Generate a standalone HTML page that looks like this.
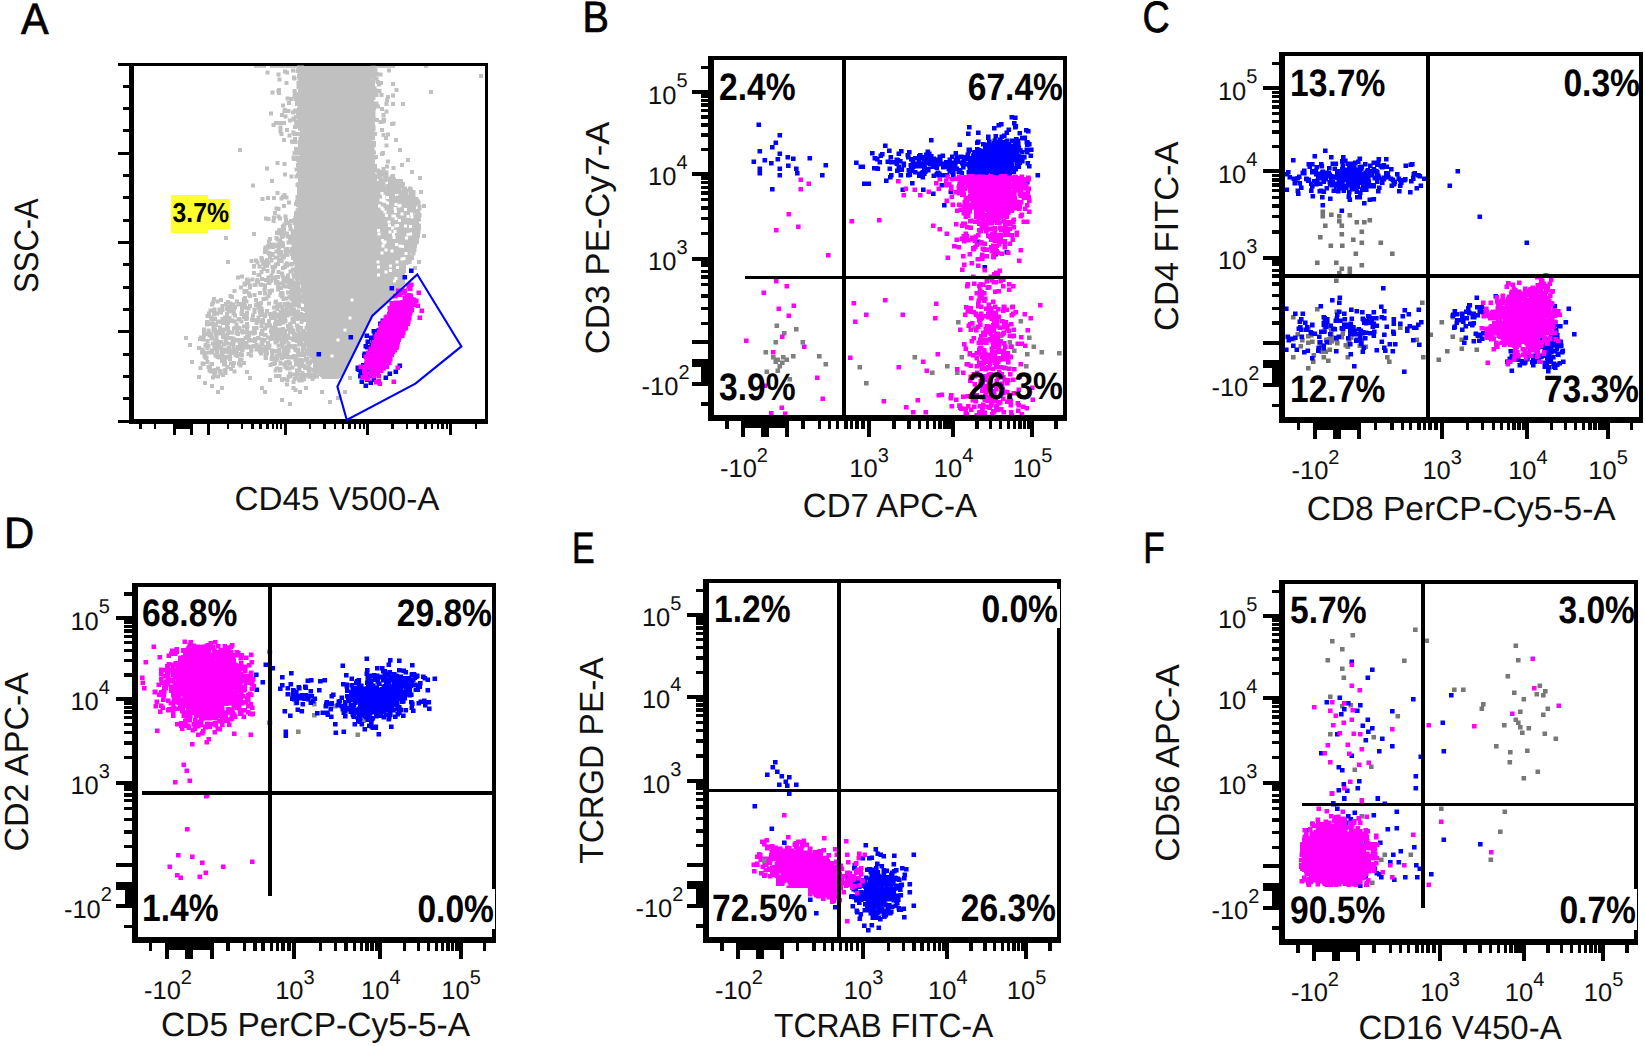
<!DOCTYPE html>
<html><head><meta charset="utf-8"><title>Flow cytometry figure</title>
<style>html,body{margin:0;padding:0;background:#fff}svg{display:block}</style></head>
<body><svg width="1645" height="1046" viewBox="0 0 1645 1046" shape-rendering="crispEdges" text-rendering="geometricPrecision">
<defs><filter id="bl" x="-5%" y="-5%" width="110%" height="110%"><feGaussianBlur stdDeviation="0.55"/></filter></defs>
<rect width="1645" height="1046" fill="#fff"/>
<rect x="129.0" y="62.5" width="5.0" height="361.0" fill="#000"/>
<rect x="129.0" y="418.5" width="359.0" height="5.0" fill="#000"/>
<rect x="129.0" y="62.5" width="359.0" height="3.0" fill="#000"/>
<rect x="485.0" y="62.5" width="3.0" height="361.0" fill="#000"/>
<rect x="117.5" y="62.5" width="14.0" height="3.0" fill="#000"/>
<rect x="123.0" y="84.8" width="8.5" height="3.0" fill="#000"/>
<rect x="123.0" y="107.1" width="8.5" height="3.0" fill="#000"/>
<rect x="123.0" y="129.4" width="8.5" height="3.0" fill="#000"/>
<rect x="117.5" y="151.8" width="14.0" height="3.0" fill="#000"/>
<rect x="123.0" y="174.1" width="8.5" height="3.0" fill="#000"/>
<rect x="123.0" y="196.4" width="8.5" height="3.0" fill="#000"/>
<rect x="123.0" y="218.7" width="8.5" height="3.0" fill="#000"/>
<rect x="117.5" y="241.0" width="14.0" height="3.0" fill="#000"/>
<rect x="123.0" y="263.3" width="8.5" height="3.0" fill="#000"/>
<rect x="123.0" y="285.6" width="8.5" height="3.0" fill="#000"/>
<rect x="123.0" y="307.9" width="8.5" height="3.0" fill="#000"/>
<rect x="117.5" y="330.2" width="14.0" height="3.0" fill="#000"/>
<rect x="123.0" y="352.6" width="8.5" height="3.0" fill="#000"/>
<rect x="123.0" y="374.9" width="8.5" height="3.0" fill="#000"/>
<rect x="123.0" y="397.2" width="8.5" height="3.0" fill="#000"/>
<rect x="117.5" y="419.5" width="14.0" height="3.0" fill="#000"/>
<rect x="172.7" y="421.0" width="3.0" height="13.5" fill="#000"/>
<rect x="190.3" y="421.0" width="3.0" height="13.5" fill="#000"/>
<rect x="207.1" y="421.0" width="3.0" height="13.5" fill="#000"/>
<rect x="283.5" y="421.0" width="3.0" height="13.5" fill="#000"/>
<rect x="366.1" y="421.0" width="3.0" height="13.5" fill="#000"/>
<rect x="449.3" y="421.0" width="3.0" height="13.5" fill="#000"/>
<rect x="172.7" y="421.0" width="20.6" height="7.5" fill="#000"/>
<rect x="139.3" y="421.0" width="2.4" height="8.0" fill="#000"/>
<rect x="153.8" y="421.0" width="2.4" height="8.0" fill="#000"/>
<rect x="226.5" y="421.0" width="2.4" height="8.0" fill="#000"/>
<rect x="240.7" y="421.0" width="2.4" height="8.0" fill="#000"/>
<rect x="251.4" y="421.0" width="2.4" height="8.0" fill="#000"/>
<rect x="259.4" y="421.0" width="2.4" height="8.0" fill="#000"/>
<rect x="266.1" y="421.0" width="2.4" height="8.0" fill="#000"/>
<rect x="271.8" y="421.0" width="2.4" height="8.0" fill="#000"/>
<rect x="276.0" y="421.0" width="2.4" height="8.0" fill="#000"/>
<rect x="279.8" y="421.0" width="2.4" height="8.0" fill="#000"/>
<rect x="308.8" y="421.0" width="2.4" height="8.0" fill="#000"/>
<rect x="323.4" y="421.0" width="2.4" height="8.0" fill="#000"/>
<rect x="333.8" y="421.0" width="2.4" height="8.0" fill="#000"/>
<rect x="341.8" y="421.0" width="2.4" height="8.0" fill="#000"/>
<rect x="348.4" y="421.0" width="2.4" height="8.0" fill="#000"/>
<rect x="353.9" y="421.0" width="2.4" height="8.0" fill="#000"/>
<rect x="358.8" y="421.0" width="2.4" height="8.0" fill="#000"/>
<rect x="363.0" y="421.0" width="2.4" height="8.0" fill="#000"/>
<rect x="391.4" y="421.0" width="2.4" height="8.0" fill="#000"/>
<rect x="406.0" y="421.0" width="2.4" height="8.0" fill="#000"/>
<rect x="416.4" y="421.0" width="2.4" height="8.0" fill="#000"/>
<rect x="424.4" y="421.0" width="2.4" height="8.0" fill="#000"/>
<rect x="431.0" y="421.0" width="2.4" height="8.0" fill="#000"/>
<rect x="436.5" y="421.0" width="2.4" height="8.0" fill="#000"/>
<rect x="441.4" y="421.0" width="2.4" height="8.0" fill="#000"/>
<rect x="445.6" y="421.0" width="2.4" height="8.0" fill="#000"/>
<rect x="474.6" y="421.0" width="2.4" height="8.0" fill="#000"/>
<text x="337" y="510" font-family='"Liberation Sans", Arial, sans-serif' font-size="33.2" text-anchor="middle" fill="#111">CD45 V500-A</text>
<text transform="translate(38,245.6) rotate(-90) scale(0.91,1)" font-family='"Liberation Sans", Arial, sans-serif' font-size="34" text-anchor="middle" fill="#111">SSC-A</text>
<text transform="translate(20.9,34) scale(0.94,1)" font-family='"Liberation Sans", Arial, sans-serif' font-size="44" fill="#000" stroke="#000" stroke-width="0.7">A</text>
<clipPath id="cA"><rect x="134" y="65.5" width="351" height="353"/></clipPath>
<g clip-path="url(#cA)"><polygon fill="#c0c0c0" points="302,66 371,66 372,172 381,186 394,197 408,203 414,214 415,226 411,245 406,262 405,284 372,315 344,373 338,379 322,379 314,371 308,340 303,300 298,262 295,240 299,200 302,120"/></g>
<g clip-path="url(#cA)"><path fill="#c0c0c0" filter="url(#bl)" shape-rendering="auto" d="m184 336h4v4h-4zm4 7h4v4h-4zm2 17h4v4h-4zm7 -14h4v4h-4zm0 29h4v4h-4zm1 -38h4v4h-4zm0.5 29h4v4h-4zm0.5 -30.5h4v4h-4zm1 15h4v4h-4zm0.5 -3h4v4h-4zm0 14h4v4h-4zm1 -24h4v4h-4zm0 12h4v4h-4zm0 12.5h4v4h-4zm0.5 -34.5h4v4h-4zm0 1h4v4h-4zm0 3.5h4v4h-4zm0 1.5h4v4h-4zm0.5 21h4v4h-4zm0.5 26.5h4v4h-4zm0.5 -38h4v4h-4zm0 8h4v4h-4zm0.5 5h4v4h-4zm0.5 -24h4v4h-4zm0 12h4v4h-4zm0 11.5h4v4h-4zm0.5 -35.5h4v4h-4zm0 2.5h4v4h-4zm0.5 -8.5h4v4h-4zm0 6.5h4v4h-4zm0 18.5h4v4h-4zm0 7h4v4h-4zm0 14h4v4h-4zm1 -31.5h4v4h-4zm0 15h4v4h-4zm0 21.5h4v4h-4zm0.5 -53.5h4v4h-4zm0 19h4v4h-4zm0 20h4v4h-4zm0.5 -17h4v4h-4zm0 35h4v4h-4zm0.5 -46.5h4v4h-4zm0 42.5h4v4h-4zm0.5 -56h4v4h-4zm0.5 7h4v4h-4zm0 54h4v4h-4zm0.5 -52h4v4h-4zm0 15h4v4h-4zm0 3.5h4v4h-4zm0 32.5h4v4h-4zm0.5 -66h4v4h-4zm0 34h4v4h-4zm0 12h4v4h-4zm0 13.5h4v4h-4zm0 22h4v4h-4zm0.5 -33.5h4v4h-4zm0.5 -50h4v4h-4zm0 41h4v4h-4zm0 34h4v4h-4zm0.5 -54h4v4h-4zm0 3h4v4h-4zm0 4h4v4h-4zm0.5 -31.5h4v4h-4zm0 12.5h4v4h-4zm0 3h4v4h-4zm0 58h4v4h-4zm0.5 -63h4v4h-4zm0 4h4v4h-4zm0 33.5h4v4h-4zm0 1.5h4v4h-4zm0 27.5h4v4h-4zm0.5 -57h4v4h-4zm0 10.5h4v4h-4zm0.5 11h4v4h-4zm0 15h4v4h-4zm0 14.5h4v4h-4zm0 2h4v4h-4zm0.5 -47h4v4h-4zm0 6.5h4v4h-4zm0 3.5h4v4h-4zm0.5 3h4v4h-4zm0.5 -24.5h4v4h-4zm0 20h4v4h-4zm0 8h4v4h-4zm0 1.5h4v4h-4zm0 6.5h4v4h-4zm0 2.5h4v4h-4zm0 0.5h4v4h-4zm0.5 -51h4v4h-4zm0 43h4v4h-4zm0 12.5h4v4h-4zm0.5 -35.5h4v4h-4zm0 20.5h4v4h-4zm0 5.5h4v4h-4zm0 21h4v4h-4zm0 8h4v4h-4zm0 15.5h4v4h-4zm1 -58.5h4v4h-4zm0 12h4v4h-4zm0.5 -36h4v4h-4zm0 12h4v4h-4zm0 24h4v4h-4zm0 12h4v4h-4zm0.5 -48h4v4h-4zm0 18h4v4h-4zm0 4h4v4h-4zm0 16.5h4v4h-4zm0 8h4v4h-4zm0 15h4v4h-4zm0.5 -49h4v4h-4zm0 8h4v4h-4zm0 18h4v4h-4zm0 25.5h4v4h-4zm0.5 -73.5h4v4h-4zm0 12.5h4v4h-4zm0 35h4v4h-4zm0.5 -5.5h4v4h-4zm0 10h4v4h-4zm0.5 1.5h4v4h-4zm0 7.5h4v4h-4zm0 27h4v4h-4zm0.5 -82h4v4h-4zm0 4h4v4h-4zm0 9h4v4h-4zm0 30.5h4v4h-4zm0 6.5h4v4h-4zm0 3h4v4h-4zm0.5 -36h4v4h-4zm0 10.5h4v4h-4zm0 1h4v4h-4zm0 1h4v4h-4zm0 1.5h4v4h-4zm0 15h4v4h-4zm0 23h4v4h-4zm0.5 -40h4v4h-4zm0.5 -5.5h4v4h-4zm0 15h4v4h-4zm0 20h4v4h-4zm0.5 -42.5h4v4h-4zm0 22.5h4v4h-4zm0 14.5h4v4h-4zm0 11.5h4v4h-4zm0.5 -53h4v4h-4zm0 20h4v4h-4zm0 12h4v4h-4zm0 9h4v4h-4zm0 4.5h4v4h-4zm0.5 -44.5h4v4h-4zm0 51.5h4v4h-4zm0 3h4v4h-4zm0.5 -135h4v4h-4zm0 66h4v4h-4zm0 14h4v4h-4zm0 23.5h4v4h-4zm0 8.5h4v4h-4zm0 1.5h4v4h-4zm0 5.5h4v4h-4zm0 0.5h4v4h-4zm1 -50.5h4v4h-4zm0 2h4v4h-4zm0 5h4v4h-4zm0 6.5h4v4h-4zm0 4h4v4h-4zm0 2h4v4h-4zm0 9h4v4h-4zm0.5 8h4v4h-4zm0 23.5h4v4h-4zm0.5 -105h4v4h-4zm0 40h4v4h-4zm0 18h4v4h-4zm0 3h4v4h-4zm0 5h4v4h-4zm0 0.5h4v4h-4zm0 4.5h4v4h-4zm0 18h4v4h-4zm0.5 -43h4v4h-4zm0 3.5h4v4h-4zm0 20h4v4h-4zm0 1h4v4h-4zm0 5.5h4v4h-4zm0 12h4v4h-4zm0 2.5h4v4h-4zm0.5 -4.5h4v4h-4zm0.5 -40h4v4h-4zm0 10h4v4h-4zm0 32.5h4v4h-4zm0.5 -42h4v4h-4zm0 2.5h4v4h-4zm0 41h4v4h-4zm0 5h4v4h-4zm0 2h4v4h-4zm0.5 -63h4v4h-4zm0 7.5h4v4h-4zm0 2h4v4h-4zm0 32.5h4v4h-4zm0.5 13h4v4h-4zm0 2h4v4h-4zm0 10.5h4v4h-4zm0 5.5h4v4h-4zm0.5 -60h4v4h-4zm0 12h4v4h-4zm0 23h4v4h-4zm0.5 -47h4v4h-4zm0 35.5h4v4h-4zm0.5 -12h4v4h-4zm0 20h4v4h-4zm0.5 -29.5h4v4h-4zm0 27.5h4v4h-4zm0 1h4v4h-4zm0 12h4v4h-4zm0 14.5h4v4h-4zm0.5 -61.5h4v4h-4zm0 9h4v4h-4zm0 30h4v4h-4zm0 2h4v4h-4zm0 1h4v4h-4zm0 2.5h4v4h-4zm0.5 -40h4v4h-4zm0 4.5h4v4h-4zm0 15h4v4h-4zm0 11h4v4h-4zm0 23.5h4v4h-4zm0.5 -72h4v4h-4zm0 30.5h4v4h-4zm0 31h4v4h-4zm0 19h4v4h-4zm0.5 -64.5h4v4h-4zm0 8.5h4v4h-4zm0 25h4v4h-4zm0.5 -12.5h4v4h-4zm0 26.5h4v4h-4zm0.5 0.5h4v4h-4zm0.5 -30.5h4v4h-4zm0 1.5h4v4h-4zm0 7h4v4h-4zm0 18h4v4h-4zm0.5 -49.5h4v4h-4zm0 48h4v4h-4zm0.5 -22h4v4h-4zm0 2.5h4v4h-4zm0 10h4v4h-4zm0 16h4v4h-4zm0.5 -78.5h4v4h-4zm0 56.5h4v4h-4zm0 13h4v4h-4zm0.5 -42.5h4v4h-4zm0 15h4v4h-4zm0.5 44h4v4h-4zm0.5 -44.5h4v4h-4zm0 9h4v4h-4zm0 14h4v4h-4zm0 7h4v4h-4zm0.5 -199h4v4h-4zm0 192.5h4v4h-4zm0 4h4v4h-4zm0 14h4v4h-4zm0.5 -6.5h4v4h-4zm0 5.5h4v4h-4zm0 5.5h4v4h-4zm0 0.5h4v4h-4zm0.5 -78h4v4h-4zm0 16.5h4v4h-4zm0.5 9.5h4v4h-4zm0 0.5h4v4h-4zm0 7.5h4v4h-4zm0 18.5h4v4h-4zm0 20h4v4h-4zm0.5 -83.5h4v4h-4zm0 31.5h4v4h-4zm0 0.5h4v4h-4zm0 2.5h4v4h-4zm0 20h4v4h-4zm0 15h4v4h-4zm0 4.5h4v4h-4zm0 4.5h4v4h-4zm0.5 -22.5h4v4h-4zm0 17.5h4v4h-4zm0.5 -8h4v4h-4zm0 0.5h4v4h-4zm0 0.5h4v4h-4zm0.5 -37h4v4h-4zm0 1.5h4v4h-4zm0 38h4v4h-4zm0.5 -46.5h4v4h-4zm0 4h4v4h-4zm0 12h4v4h-4zm0 2h4v4h-4zm0 9.5h4v4h-4zm0 36.5h4v4h-4zm0.5 -79.5h4v4h-4zm0 8.5h4v4h-4zm0 40h4v4h-4zm0.5 -47.5h4v4h-4zm0 6.5h4v4h-4zm0 7h4v4h-4zm0 8h4v4h-4zm0.5 32h4v4h-4zm0.5 -19h4v4h-4zm0 24.5h4v4h-4zm0 1.5h4v4h-4zm0.5 -54h4v4h-4zm0 10.5h4v4h-4zm0 15h4v4h-4zm0 26.5h4v4h-4zm0 4.5h4v4h-4zm0.5 -67.5h4v4h-4zm0 33h4v4h-4zm0 5.5h4v4h-4zm0 5.5h4v4h-4zm0 4h4v4h-4zm0 1h4v4h-4zm0 2.5h4v4h-4zm0 5h4v4h-4zm0 35.5h4v4h-4zm0.5 -92.5h4v4h-4zm0 28.5h4v4h-4zm0 18.5h4v4h-4zm0 11.5h4v4h-4zm0.5 -55h4v4h-4zm0 54.5h4v4h-4zm0.5 -56.5h4v4h-4zm0 27.5h4v4h-4zm0 24.5h4v4h-4zm0 13.5h4v4h-4zm0 7.5h4v4h-4zm0.5 -60.5h4v4h-4zm0 42h4v4h-4zm0 5h4v4h-4zm0.5 -45.5h4v4h-4zm0.5 -9.5h4v4h-4zm0 2h4v4h-4zm0 8.5h4v4h-4zm0 10h4v4h-4zm0 34h4v4h-4zm0 7h4v4h-4zm0 31h4v4h-4zm1 -37.5h4v4h-4zm0 10.5h4v4h-4zm0 4.5h4v4h-4zm0.5 -94.5h4v4h-4zm0 89h4v4h-4zm0.5 -30.5h4v4h-4zm0 13h4v4h-4zm0.5 -53h4v4h-4zm0.5 -94h4v4h-4zm0 130h4v4h-4zm0.5 4.5h4v4h-4zm0 13.5h4v4h-4zm0 12.5h4v4h-4zm0.5 -112h4v4h-4zm0 32h4v4h-4zm0 0.5h4v4h-4zm0 6.5h4v4h-4zm0 55h4v4h-4zm0.5 -43h4v4h-4zm0 10h4v4h-4zm0 14.5h4v4h-4zm0 2.5h4v4h-4zm0 16.5h4v4h-4zm0.5 4h4v4h-4zm0 6.5h4v4h-4zm0 2h4v4h-4zm0 5h4v4h-4zm0.5 -61h4v4h-4zm0 54.5h4v4h-4zm0.5 -79h4v4h-4zm0 39.5h4v4h-4zm0 5h4v4h-4zm0 15h4v4h-4zm0.5 3h4v4h-4zm0 5h4v4h-4zm0 17h4v4h-4zm0 4.5h4v4h-4zm0.5 -68h4v4h-4zm0.5 -19h4v4h-4zm0 17.5h4v4h-4zm0 24h4v4h-4zm0 43.5h4v4h-4zm0.5 -65.5h4v4h-4zm0 56h4v4h-4zm0.5 -63h4v4h-4zm0 32.5h4v4h-4zm0 10h4v4h-4zm0 20.5h4v4h-4zm0.5 -31.5h4v4h-4zm0 41h4v4h-4zm0 2h4v4h-4zm0.5 -83h4v4h-4zm0 8.5h4v4h-4zm0 35h4v4h-4zm0.5 -17h4v4h-4zm0 12h4v4h-4zm0 7h4v4h-4zm0 9.5h4v4h-4zm0 25h4v4h-4zm0 5h4v4h-4zm0.5 -67h4v4h-4zm0 29h4v4h-4zm0.5 -10.5h4v4h-4zm0 31h4v4h-4zm0 19.5h4v4h-4zm0.5 -95.5h4v4h-4zm0 14h4v4h-4zm0 36.5h4v4h-4zm0 17.5h4v4h-4zm0 13.5h4v4h-4zm0 4.5h4v4h-4zm0.5 -84.5h4v4h-4zm0 19.5h4v4h-4zm0 32h4v4h-4zm0 4h4v4h-4zm0 7h4v4h-4zm0 9h4v4h-4zm0 57h4v4h-4zm0.5 -189h4v4h-4zm0 62.5h4v4h-4zm0 23.5h4v4h-4zm0 45.5h4v4h-4zm0 13h4v4h-4zm0.5 -23.5h4v4h-4zm0 2.5h4v4h-4zm0 26h4v4h-4zm0.5 -84.5h4v4h-4zm0 5h4v4h-4zm0 30h4v4h-4zm0 52h4v4h-4zm0.5 -11h4v4h-4zm0.5 -76.5h4v4h-4zm0 26.5h4v4h-4zm0 50.5h4v4h-4zm0.5 -91h4v4h-4zm0 2.5h4v4h-4zm0 14h4v4h-4zm0 19.5h4v4h-4zm0 2h4v4h-4zm0 6h4v4h-4zm0 22.5h4v4h-4zm0 12.5h4v4h-4zm0 6.5h4v4h-4zm0 57h4v4h-4zm0.5 -144.5h4v4h-4zm0 67h4v4h-4zm0 20.5h4v4h-4zm0 12h4v4h-4zm0 4.5h4v4h-4zm0 3.5h4v4h-4zm0 2.5h4v4h-4zm0.5 -139h4v4h-4zm0 43.5h4v4h-4zm0 18h4v4h-4zm0 78h4v4h-4zm0.5 -107h4v4h-4zm0 47.5h4v4h-4zm0 28h4v4h-4zm0 24.5h4v4h-4zm0.5 -182.5h4v4h-4zm0 91.5h4v4h-4zm0 5.5h4v4h-4zm0 45.5h4v4h-4zm0 14h4v4h-4zm0 22h4v4h-4zm0 6.5h4v4h-4zm0.5 -281h4v4h-4zm0 198.5h4v4h-4zm0.5 -73h4v4h-4zm0 48h4v4h-4zm0 91.5h4v4h-4zm0 5.5h4v4h-4zm0.5 -124h4v4h-4zm0 28.5h4v4h-4zm0 5.5h4v4h-4zm0 10h4v4h-4zm0 14.5h4v4h-4zm0 5.5h4v4h-4zm0 13h4v4h-4zm0 52h4v4h-4zm0.5 -106.5h4v4h-4zm0 62h4v4h-4zm0 17.5h4v4h-4zm0 3.5h4v4h-4zm0 23.5h4v4h-4zm0.5 -103.5h4v4h-4zm0 9h4v4h-4zm0 0.5h4v4h-4zm0 29h4v4h-4zm0 8h4v4h-4zm0 2h4v4h-4zm0 32.5h4v4h-4zm0 20h4v4h-4zm0.5 -106.5h4v4h-4zm0 18h4v4h-4zm0 24h4v4h-4zm0 11.5h4v4h-4zm0 21.5h4v4h-4zm0 11.5h4v4h-4zm0 54.5h4v4h-4zm0.5 -41h4v4h-4zm0 26h4v4h-4zm0.5 -251.5h4v4h-4zm0 167h4v4h-4zm0 37.5h4v4h-4zm0 13.5h4v4h-4zm0.5 -71.5h4v4h-4zm0 0.5h4v4h-4zm0 15h4v4h-4zm0 54h4v4h-4zm0 29.5h4v4h-4zm0.5 -178h4v4h-4zm0 65.5h4v4h-4zm0 8.5h4v4h-4zm0 35.5h4v4h-4zm0 37h4v4h-4zm0 8h4v4h-4zm0 15h4v4h-4zm0 1h4v4h-4zm0 0.5h4v4h-4zm0 5h4v4h-4zm0.5 -264.5h4v4h-4zm0 161.5h4v4h-4zm0 13h4v4h-4zm0 62.5h4v4h-4zm0 9h4v4h-4zm0 16h4v4h-4zm0 9.5h4v4h-4zm0.5 -119.5h4v4h-4zm0 2.5h4v4h-4zm0 24.5h4v4h-4zm0 6.5h4v4h-4zm0 50.5h4v4h-4zm0 5h4v4h-4zm0.5 -208.5h4v4h-4zm0 96h4v4h-4zm0 47.5h4v4h-4zm0 45.5h4v4h-4zm0 44.5h4v4h-4zm0 5.5h4v4h-4zm0.5 -166h4v4h-4zm0 19.5h4v4h-4zm0 90h4v4h-4zm0 27.5h4v4h-4zm0 28.5h4v4h-4zm0.5 -51h4v4h-4zm0.5 -99.5h4v4h-4zm0 53.5h4v4h-4zm0 48h4v4h-4zm0 3.5h4v4h-4zm0 6h4v4h-4zm0 0.5h4v4h-4zm0 4h4v4h-4zm0 7h4v4h-4zm0 15.5h4v4h-4zm0 12h4v4h-4zm0.5 -117h4v4h-4zm0 11.5h4v4h-4zm0 23h4v4h-4zm0 22h4v4h-4zm0 11.5h4v4h-4zm0 2h4v4h-4zm0 12h4v4h-4zm0 14.5h4v4h-4zm0 28h4v4h-4zm0.5 -247.5h4v4h-4zm0 141.5h4v4h-4zm0 18.5h4v4h-4zm0 18.5h4v4h-4zm0 20.5h4v4h-4zm0 38h4v4h-4zm0 16h4v4h-4zm0.5 -167.5h4v4h-4zm0 29.5h4v4h-4zm0 13.5h4v4h-4zm0 25.5h4v4h-4zm0 47h4v4h-4zm0 8h4v4h-4zm0 3.5h4v4h-4zm0 4.5h4v4h-4zm0.5 -107.5h4v4h-4zm0 25h4v4h-4zm0 49.5h4v4h-4zm0 29.5h4v4h-4zm0 19h4v4h-4zm0 13h4v4h-4zm0.5 -205.5h4v4h-4zm0 30h4v4h-4zm0 40h4v4h-4zm0 6.5h4v4h-4zm0 5h4v4h-4zm0 37.5h4v4h-4zm0 27h4v4h-4zm0 7.5h4v4h-4zm0 18.5h4v4h-4zm0 0.5h4v4h-4zm0 5.5h4v4h-4zm0 17.5h4v4h-4zm0.5 -94.5h4v4h-4zm0 13h4v4h-4zm0 9h4v4h-4zm0 3.5h4v4h-4zm0 16.5h4v4h-4zm0 9h4v4h-4zm0.5 -240.5h4v4h-4zm0 16.5h4v4h-4zm0 118h4v4h-4zm0 7.5h4v4h-4zm0 16.5h4v4h-4zm0 16h4v4h-4zm0 23h4v4h-4zm0 50h4v4h-4zm0 11.5h4v4h-4zm0 12h4v4h-4zm0.5 -255.5h4v4h-4zm0 3h4v4h-4zm0 138.5h4v4h-4zm0 21.5h4v4h-4zm0 8h4v4h-4zm0 43.5h4v4h-4zm0 19.5h4v4h-4zm0 13h4v4h-4zm0 13h4v4h-4zm0 4h4v4h-4zm0.5 -274.5h4v4h-4zm0 150.5h4v4h-4zm0 16.5h4v4h-4zm0 0.5h4v4h-4zm0 13h4v4h-4zm0 58h4v4h-4zm0 11.5h4v4h-4zm0 26h4v4h-4zm0 20.5h4v4h-4zm0.5 -253h4v4h-4zm0 95.5h4v4h-4zm0 22h4v4h-4zm0 13h4v4h-4zm0 0.5h4v4h-4zm0 69.5h4v4h-4zm0 47h4v4h-4zm0.5 -243h4v4h-4zm0 4h4v4h-4zm0 102h4v4h-4zm0 9h4v4h-4zm0 13h4v4h-4zm0 39.5h4v4h-4zm0 9h4v4h-4zm0 8h4v4h-4zm0 10h4v4h-4zm0 8.5h4v4h-4zm0 2h4v4h-4zm0 30h4v4h-4zm0 1h4v4h-4zm0 5.5h4v4h-4zm0.5 -126.5h4v4h-4zm0 3.5h4v4h-4zm0 6h4v4h-4zm0 36h4v4h-4zm0 5.5h4v4h-4zm0 41h4v4h-4zm0.5 -200.5h4v4h-4zm0 64.5h4v4h-4zm0 34h4v4h-4zm0 2h4v4h-4zm0 26.5h4v4h-4zm0 22.5h4v4h-4zm0 37h4v4h-4zm0 9h4v4h-4zm0 9.5h4v4h-4zm0.5 -224h4v4h-4zm0 117.5h4v4h-4zm0 4.5h4v4h-4zm0 36.5h4v4h-4zm0 23h4v4h-4zm0 10.5h4v4h-4zm0 5.5h4v4h-4zm0 2.5h4v4h-4zm0 28h4v4h-4zm0 15h4v4h-4zm0 22h4v4h-4zm0 20h4v4h-4zm0.5 -157h4v4h-4zm0 0.5h4v4h-4zm0 32.5h4v4h-4zm0 17h4v4h-4zm0 2h4v4h-4zm0 13.5h4v4h-4zm0 3.5h4v4h-4zm0 7h4v4h-4zm0 14.5h4v4h-4zm0 13h4v4h-4zm0 8.5h4v4h-4zm0.5 -249.5h4v4h-4zm0 91.5h4v4h-4zm0 30h4v4h-4zm0 5h4v4h-4zm0 2h4v4h-4zm0 10.5h4v4h-4zm0 1.5h4v4h-4zm0 11.5h4v4h-4zm0 10.5h4v4h-4zm0 50.5h4v4h-4zm0 4h4v4h-4zm0 6.5h4v4h-4zm0 1h4v4h-4zm0.5 -104h4v4h-4zm0 1.5h4v4h-4zm0 8.5h4v4h-4zm0 20h4v4h-4zm0 21.5h4v4h-4zm0 4h4v4h-4zm0 2.5h4v4h-4zm0 2.5h4v4h-4zm0 12h4v4h-4zm0 0.5h4v4h-4zm0 16h4v4h-4zm0 23.5h4v4h-4zm0 3h4v4h-4zm0 7.5h4v4h-4zm0 2h4v4h-4zm0 4.5h4v4h-4zm0.5 -232.5h4v4h-4zm0 17h4v4h-4zm0 66h4v4h-4zm0 23.5h4v4h-4zm0 27.5h4v4h-4zm0 53h4v4h-4zm0 32.5h4v4h-4zm0 36.5h4v4h-4zm0.5 -268h4v4h-4zm0 53h4v4h-4zm0 31h4v4h-4zm0 1h4v4h-4zm0 28.5h4v4h-4zm0 56.5h4v4h-4zm0 53h4v4h-4zm0 3h4v4h-4zm0 11.5h4v4h-4zm0 16h4v4h-4zm0.5 -293h4v4h-4zm0 38.5h4v4h-4zm0 64.5h4v4h-4zm0 92.5h4v4h-4zm0 31.5h4v4h-4zm0 5.5h4v4h-4zm0 0.5h4v4h-4zm0 15h4v4h-4zm0 2h4v4h-4zm0 9h4v4h-4zm0 4h4v4h-4zm0 22.5h4v4h-4zm0.5 -240.5h4v4h-4zm0 100h4v4h-4zm0 33h4v4h-4zm0 3h4v4h-4zm0 12.5h4v4h-4zm0 56h4v4h-4zm0 28h4v4h-4zm0 15h4v4h-4zm0 3h4v4h-4zm0.5 -147h4v4h-4zm0 13.5h4v4h-4zm0 44.5h4v4h-4zm0 20.5h4v4h-4zm0 5.5h4v4h-4zm0 7.5h4v4h-4zm0 1.5h4v4h-4zm0 2h4v4h-4zm0 34.5h4v4h-4zm0 13h4v4h-4zm0.5 -279.5h4v4h-4zm0 114.5h4v4h-4zm0 25h4v4h-4zm0 29h4v4h-4zm0 35h4v4h-4zm0 12h4v4h-4zm0 42h4v4h-4zm0 11.5h4v4h-4zm0.5 -279.5h4v4h-4zm0 57.5h4v4h-4zm0 103.5h4v4h-4zm0 30h4v4h-4zm0 2h4v4h-4zm0 41.5h4v4h-4zm0 0.5h4v4h-4zm0 8h4v4h-4zm0 31.5h4v4h-4zm0 20.5h4v4h-4zm0 17h4v4h-4zm0.5 -286h4v4h-4zm0 150.5h4v4h-4zm0 6h4v4h-4zm0 23.5h4v4h-4zm0 2.5h4v4h-4zm0 73h4v4h-4zm0 14.5h4v4h-4zm0 11.5h4v4h-4zm0.5 -143.5h4v4h-4zm0 39h4v4h-4zm0 6.5h4v4h-4zm0 10.5h4v4h-4zm0 11h4v4h-4zm0 8.5h4v4h-4zm0 14h4v4h-4zm0 9.5h4v4h-4zm0 27h4v4h-4zm0.5 -251.5h4v4h-4zm0 112h4v4h-4zm0 19.5h4v4h-4zm0 37h4v4h-4zm0 58.5h4v4h-4zm0 5.5h4v4h-4zm0 7h4v4h-4zm0 11h4v4h-4zm0 15h4v4h-4zm0.5 -273.5h4v4h-4zm0 99.5h4v4h-4zm0 49h4v4h-4zm0 53h4v4h-4zm0 24.5h4v4h-4zm0 0.5h4v4h-4zm0 27.5h4v4h-4zm0.5 -221.5h4v4h-4zm0 147h4v4h-4zm0 1h4v4h-4zm0 13.5h4v4h-4zm0 7.5h4v4h-4zm0 42h4v4h-4zm0 0.5h4v4h-4zm0 21.5h4v4h-4zm0 8h4v4h-4zm0.5 -256h4v4h-4zm0 105h4v4h-4zm0 13.5h4v4h-4zm0 43.5h4v4h-4zm0 1.5h4v4h-4zm0 3h4v4h-4zm0 20h4v4h-4zm0 7.5h4v4h-4zm0 10.5h4v4h-4zm0 6.5h4v4h-4zm0 14.5h4v4h-4zm0 17.5h4v4h-4zm0 10h4v4h-4zm0 2.5h4v4h-4zm0 28h4v4h-4zm0.5 -175h4v4h-4zm0 11h4v4h-4zm0 31.5h4v4h-4zm0 38h4v4h-4zm0 14.5h4v4h-4zm0 33h4v4h-4zm0.5 -258h4v4h-4zm0 122h4v4h-4zm0 15.5h4v4h-4zm0 3.5h4v4h-4zm0 24.5h4v4h-4zm0 20.5h4v4h-4zm0 0.5h4v4h-4zm0 11.5h4v4h-4zm0 49.5h4v4h-4zm0.5 -170h4v4h-4zm0 95h4v4h-4zm0 18.5h4v4h-4zm0 4h4v4h-4zm0 5h4v4h-4zm0 29h4v4h-4zm0.5 -186.5h4v4h-4zm0 101h4v4h-4zm0 6.5h4v4h-4zm0 0.5h4v4h-4zm0 4.5h4v4h-4zm0 10h4v4h-4zm0 16.5h4v4h-4zm0 11.5h4v4h-4zm0 14h4v4h-4zm0 6.5h4v4h-4zm0.5 -81.5h4v4h-4zm0 5h4v4h-4zm0 0.5h4v4h-4zm0 1h4v4h-4zm0 4h4v4h-4zm0 53h4v4h-4zm0 2h4v4h-4zm0 2.5h4v4h-4zm0 11.5h4v4h-4zm0 3h4v4h-4zm0 5.5h4v4h-4zm0 1h4v4h-4zm0 12.5h4v4h-4zm0 6h4v4h-4zm0 19h4v4h-4zm0 10h4v4h-4zm0.5 -297h4v4h-4zm0 42h4v4h-4zm0 121h4v4h-4zm0 19.5h4v4h-4zm0 4h4v4h-4zm0 12.5h4v4h-4zm0 30h4v4h-4zm0 20.5h4v4h-4zm0 10.5h4v4h-4zm0 9h4v4h-4zm0.5 -221h4v4h-4zm0 14h4v4h-4zm0 9.5h4v4h-4zm0 15.5h4v4h-4zm0 63.5h4v4h-4zm0 25.5h4v4h-4zm0 11.5h4v4h-4zm0 16.5h4v4h-4zm0 8h4v4h-4zm0 16h4v4h-4zm0 3.5h4v4h-4zm0 9.5h4v4h-4zm0 27h4v4h-4zm0 36h4v4h-4zm0 7.5h4v4h-4zm0 6h4v4h-4zm0.5 -310.5h4v4h-4zm0 42h4v4h-4zm0 39.5h4v4h-4zm0 89.5h4v4h-4zm0 4h4v4h-4zm0 23.5h4v4h-4zm0 9h4v4h-4zm0 0.5h4v4h-4zm0 9.5h4v4h-4zm0 0.5h4v4h-4zm0 14h4v4h-4zm0 12.5h4v4h-4zm0 12h4v4h-4zm0 22h4v4h-4zm0.5 -277.5h4v4h-4zm0 12.5h4v4h-4zm0 5.5h4v4h-4zm0 37.5h4v4h-4zm0 19h4v4h-4zm0 67h4v4h-4zm0 3h4v4h-4zm0 26h4v4h-4zm0 5.5h4v4h-4zm0 22h4v4h-4zm0 11.5h4v4h-4zm0 1h4v4h-4zm0 7.5h4v4h-4zm0 0.5h4v4h-4zm0 8h4v4h-4zm0 10.5h4v4h-4zm0 19.5h4v4h-4zm0 5h4v4h-4zm0 6h4v4h-4zm0 1h4v4h-4zm0 1h4v4h-4zm0 31h4v4h-4zm0.5 -285.5h4v4h-4zm0 17.5h4v4h-4zm0 16h4v4h-4zm0 12h4v4h-4zm0 1h4v4h-4zm0 103.5h4v4h-4zm0 12.5h4v4h-4zm0 3h4v4h-4zm0 0.5h4v4h-4zm0 3h4v4h-4zm0 20.5h4v4h-4zm0 1.5h4v4h-4zm0 12.5h4v4h-4zm0 0.5h4v4h-4zm0 4h4v4h-4zm0 38h4v4h-4zm0 7h4v4h-4zm0 28h4v4h-4zm0.5 -279h4v4h-4zm0 3.5h4v4h-4zm0 43h4v4h-4zm0 16.5h4v4h-4zm0 59.5h4v4h-4zm0 16.5h4v4h-4zm0 4.5h4v4h-4zm0 30.5h4v4h-4zm0 23.5h4v4h-4zm0 0.5h4v4h-4zm0 4.5h4v4h-4zm0 19h4v4h-4zm0 0.5h4v4h-4zm0 32.5h4v4h-4zm0 8.5h4v4h-4zm0 1.5h4v4h-4zm0 14.5h4v4h-4zm0 15.5h4v4h-4zm0.5 -279.5h4v4h-4zm0 1h4v4h-4zm0 5.5h4v4h-4zm0 4.5h4v4h-4zm0 27.5h4v4h-4zm0 3.5h4v4h-4zm0 51.5h4v4h-4zm0 9.5h4v4h-4zm0 3h4v4h-4zm0 9.5h4v4h-4zm0 3.5h4v4h-4zm0 0.5h4v4h-4zm0 15h4v4h-4zm0 1.5h4v4h-4zm0 23.5h4v4h-4zm0 13h4v4h-4zm0 2h4v4h-4zm0 29.5h4v4h-4zm0 50h4v4h-4zm0.5 -240.5h4v4h-4zm0 10h4v4h-4zm0 17h4v4h-4zm0 18.5h4v4h-4zm0 7h4v4h-4zm0 36.5h4v4h-4zm0 4h4v4h-4zm0 0.5h4v4h-4zm0 5.5h4v4h-4zm0 5h4v4h-4zm0 0.5h4v4h-4zm0 3h4v4h-4zm0 3h4v4h-4zm0 14h4v4h-4zm0 8.5h4v4h-4zm0 0.5h4v4h-4zm0 0.5h4v4h-4zm0 7.5h4v4h-4zm0 7h4v4h-4zm0 5.5h4v4h-4zm0 5h4v4h-4zm0 4h4v4h-4zm0 2.5h4v4h-4zm0 5.5h4v4h-4zm0 3.5h4v4h-4zm0 6.5h4v4h-4zm0 44.5h4v4h-4zm0 1h4v4h-4zm0 11.5h4v4h-4zm0 12.5h4v4h-4zm0 3h4v4h-4zm0.5 -283.5h4v4h-4zm0 6h4v4h-4zm0 4h4v4h-4zm0 46h4v4h-4zm0 3.5h4v4h-4zm0 48h4v4h-4zm0 19h4v4h-4zm0 18.5h4v4h-4zm0 6h4v4h-4zm0 7.5h4v4h-4zm0 2.5h4v4h-4zm0 7.5h4v4h-4zm0 3h4v4h-4zm0 5.5h4v4h-4zm0 1h4v4h-4zm0 3.5h4v4h-4zm0 1h4v4h-4zm0 1h4v4h-4zm0 9h4v4h-4zm0 2.5h4v4h-4zm0 2h4v4h-4zm0 1h4v4h-4zm0 3h4v4h-4zm0 1h4v4h-4zm0 0.5h4v4h-4zm0 15h4v4h-4zm0 7.5h4v4h-4zm0 6.5h4v4h-4zm0 15.5h4v4h-4zm0 19h4v4h-4zm0 10.5h4v4h-4zm0.5 -299.5h4v4h-4zm0 30.5h4v4h-4zm0 25h4v4h-4zm0 58.5h4v4h-4zm0 12h4v4h-4zm0 6h4v4h-4zm0 7.5h4v4h-4zm0 4.5h4v4h-4zm0 6.5h4v4h-4zm0 9h4v4h-4zm0 3h4v4h-4zm0 5h4v4h-4zm0 17.5h4v4h-4zm0 1h4v4h-4zm0 0.5h4v4h-4zm0 4h4v4h-4zm0 11h4v4h-4zm0 6.5h4v4h-4zm0 11h4v4h-4zm0 22.5h4v4h-4zm0 18h4v4h-4zm0 4.5h4v4h-4zm0 2h4v4h-4zm0 3h4v4h-4zm0.5 -269.5h4v4h-4zm0 43.5h4v4h-4zm0 2.5h4v4h-4zm0 8h4v4h-4zm0 9.5h4v4h-4zm0 24h4v4h-4zm0 2h4v4h-4zm0 5h4v4h-4zm0 10h4v4h-4zm0 25h4v4h-4zm0 5h4v4h-4zm0 8h4v4h-4zm0 3.5h4v4h-4zm0 9h4v4h-4zm0 2h4v4h-4zm0 0.5h4v4h-4zm0 1.5h4v4h-4zm0 3h4v4h-4zm0 3h4v4h-4zm0 18h4v4h-4zm0 1.5h4v4h-4zm0 13h4v4h-4zm0 0.5h4v4h-4zm0 2h4v4h-4zm0 5.5h4v4h-4zm0 7h4v4h-4zm0 1.5h4v4h-4zm0 11.5h4v4h-4zm0 15.5h4v4h-4zm0 5.5h4v4h-4zm0 1.5h4v4h-4zm0 11h4v4h-4zm0 9.5h4v4h-4zm0 10.5h4v4h-4zm0 1h4v4h-4zm0 2.5h4v4h-4zm0 2.5h4v4h-4zm0 6h4v4h-4zm0.5 -278.5h4v4h-4zm0 4h4v4h-4zm0 8.5h4v4h-4zm0 4h4v4h-4zm0 0.5h4v4h-4zm0 12.5h4v4h-4zm0 3h4v4h-4zm0 33.5h4v4h-4zm0 2h4v4h-4zm0 16.5h4v4h-4zm0 16.5h4v4h-4zm0 15.5h4v4h-4zm0 10h4v4h-4zm0 3.5h4v4h-4zm0 5.5h4v4h-4zm0 6.5h4v4h-4zm0 3h4v4h-4zm0 5.5h4v4h-4zm0 1h4v4h-4zm0 2h4v4h-4zm0 5h4v4h-4zm0 0.5h4v4h-4zm0 8.5h4v4h-4zm0 10.5h4v4h-4zm0 14.5h4v4h-4zm0 12.5h4v4h-4zm0 9h4v4h-4zm0 4h4v4h-4zm0 3h4v4h-4zm0 12h4v4h-4zm0 11h4v4h-4zm0.5 -260h4v4h-4zm0 2h4v4h-4zm0 2.5h4v4h-4zm0 4.5h4v4h-4zm0 7h4v4h-4zm0 2h4v4h-4zm0 1h4v4h-4zm0 15h4v4h-4zm0 3h4v4h-4zm0 4.5h4v4h-4zm0 2h4v4h-4zm0 12.5h4v4h-4zm0 35.5h4v4h-4zm0 4h4v4h-4zm0 9.5h4v4h-4zm0 2.5h4v4h-4zm0 12h4v4h-4zm0 2h4v4h-4zm0 2.5h4v4h-4zm0 2h4v4h-4zm0 1.5h4v4h-4zm0 8h4v4h-4zm0 1h4v4h-4zm0 26.5h4v4h-4zm0 10h4v4h-4zm0 6h4v4h-4zm0 4.5h4v4h-4zm0 2.5h4v4h-4zm0 14h4v4h-4zm0 2h4v4h-4zm0 13.5h4v4h-4zm0 11.5h4v4h-4zm0 6h4v4h-4zm0 6.5h4v4h-4zm0 28.5h4v4h-4zm0 4.5h4v4h-4zm0 5h4v4h-4zm0 16h4v4h-4zm0 19h4v4h-4zm0.5 -312.5h4v4h-4zm0 11.5h4v4h-4zm0 40.5h4v4h-4zm0 1h4v4h-4zm0 2h4v4h-4zm0 4.5h4v4h-4zm0 36.5h4v4h-4zm0 1.5h4v4h-4zm0 6h4v4h-4zm0 13.5h4v4h-4zm0 31.5h4v4h-4zm0 14.5h4v4h-4zm0 7.5h4v4h-4zm0 4.5h4v4h-4zm0 10.5h4v4h-4zm0 38h4v4h-4zm0 25h4v4h-4zm0 3h4v4h-4zm0 16h4v4h-4zm0 29h4v4h-4zm0 2.5h4v4h-4zm0 4h4v4h-4zm0 4.5h4v4h-4zm0.5 -304h4v4h-4zm0 1.5h4v4h-4zm0 3h4v4h-4zm0 1h4v4h-4zm0 7h4v4h-4zm0 8.5h4v4h-4zm0 5h4v4h-4zm0 6.5h4v4h-4zm0 1h4v4h-4zm0 24.5h4v4h-4zm0 13.5h4v4h-4zm0 0.5h4v4h-4zm0 1.5h4v4h-4zm0 2h4v4h-4zm0 0.5h4v4h-4zm0 4h4v4h-4zm0 1.5h4v4h-4zm0 1h4v4h-4zm0 19h4v4h-4zm0 1.5h4v4h-4zm0 4.5h4v4h-4zm0 1.5h4v4h-4zm0 23.5h4v4h-4zm0 9.5h4v4h-4zm0 4h4v4h-4zm0 3h4v4h-4zm0 0.5h4v4h-4zm0 4h4v4h-4zm0 2h4v4h-4zm0 4.5h4v4h-4zm0 65.5h4v4h-4zm0 84.5h4v4h-4zm0 11.5h4v4h-4zm0.5 -318.5h4v4h-4zm0 4h4v4h-4zm0 3h4v4h-4zm0 6.5h4v4h-4zm0 3.5h4v4h-4zm0 7.5h4v4h-4zm0 1h4v4h-4zm0 1h4v4h-4zm0 6h4v4h-4zm0 6h4v4h-4zm0 3h4v4h-4zm0 4h4v4h-4zm0 1h4v4h-4zm0 5h4v4h-4zm0 9h4v4h-4zm0 5h4v4h-4zm0 6.5h4v4h-4zm0 0.5h4v4h-4zm0 1.5h4v4h-4zm0 0.5h4v4h-4zm0 15h4v4h-4zm0 2.5h4v4h-4zm0 6h4v4h-4zm0 0.5h4v4h-4zm0 5h4v4h-4zm0 3.5h4v4h-4zm0 8h4v4h-4zm0 2h4v4h-4zm0 19h4v4h-4zm0 2.5h4v4h-4zm0 2.5h4v4h-4zm0 13.5h4v4h-4zm0 63.5h4v4h-4zm0 7h4v4h-4zm0 3h4v4h-4zm0 15h4v4h-4zm0 16h4v4h-4zm0 9.5h4v4h-4zm0 13h4v4h-4zm0.5 -280h4v4h-4zm0 2.5h4v4h-4zm0 3h4v4h-4zm0 9.5h4v4h-4zm0 1h4v4h-4zm0 3.5h4v4h-4zm0 2.5h4v4h-4zm0 3.5h4v4h-4zm0 1.5h4v4h-4zm0 3h4v4h-4zm0 7h4v4h-4zm0 6h4v4h-4zm0 6h4v4h-4zm0 2.5h4v4h-4zm0 16.5h4v4h-4zm0 15h4v4h-4zm0 1h4v4h-4zm0 0.5h4v4h-4zm0 12h4v4h-4zm0 3.5h4v4h-4zm0 7.5h4v4h-4zm0 0.5h4v4h-4zm0 4.5h4v4h-4zm0 6.5h4v4h-4zm0 3h4v4h-4zm0 6h4v4h-4zm0 67.5h4v4h-4zm0 7.5h4v4h-4zm0 19h4v4h-4zm0 4.5h4v4h-4zm0 12.5h4v4h-4zm0 14h4v4h-4zm0 4.5h4v4h-4zm0 10.5h4v4h-4zm0 17h4v4h-4zm0 3.5h4v4h-4zm0 14h4v4h-4zm0.5 -310.5h4v4h-4zm0 2.5h4v4h-4zm0 3h4v4h-4zm0 0.5h4v4h-4zm0 2.5h4v4h-4zm0 4.5h4v4h-4zm0 3.5h4v4h-4zm0 2h4v4h-4zm0 1.5h4v4h-4zm0 2.5h4v4h-4zm0 2h4v4h-4zm0 5h4v4h-4zm0 7.5h4v4h-4zm0 1h4v4h-4zm0 0.5h4v4h-4zm0 3.5h4v4h-4zm0 4h4v4h-4zm0 1h4v4h-4zm0 6.5h4v4h-4zm0 2h4v4h-4zm0 2h4v4h-4zm0 0.5h4v4h-4zm0 0.5h4v4h-4zm0 3.5h4v4h-4zm0 6.5h4v4h-4zm0 9.5h4v4h-4zm0 1h4v4h-4zm0 4.5h4v4h-4zm0 5h4v4h-4zm0 1h4v4h-4zm0 4h4v4h-4zm0 5h4v4h-4zm0 8.5h4v4h-4zm0 3h4v4h-4zm0 7.5h4v4h-4zm0 7h4v4h-4zm0 3.5h4v4h-4zm0 0.5h4v4h-4zm0 0.5h4v4h-4zm0 1.5h4v4h-4zm0 4.5h4v4h-4zm0 13h4v4h-4zm0 1.5h4v4h-4zm0 105.5h4v4h-4zm0 16h4v4h-4zm0 16h4v4h-4zm0 9h4v4h-4zm0 11.5h4v4h-4zm0 6h4v4h-4zm0.5 -314h4v4h-4zm0 0.5h4v4h-4zm0 15.5h4v4h-4zm0 7.5h4v4h-4zm0 6.5h4v4h-4zm0 5h4v4h-4zm0 5.5h4v4h-4zm0 21h4v4h-4zm0 1.5h4v4h-4zm0 2.5h4v4h-4zm0 0.5h4v4h-4zm0 4h4v4h-4zm0 2h4v4h-4zm0 5h4v4h-4zm0 2h4v4h-4zm0 10h4v4h-4zm0 8.5h4v4h-4zm0 9.5h4v4h-4zm0 10.5h4v4h-4zm0 20h4v4h-4zm0 79h4v4h-4zm0 32h4v4h-4zm0 0.5h4v4h-4zm0 46.5h4v4h-4zm0.5 -72h4v4h-4zm0 44h4v4h-4zm0 4h4v4h-4zm0 12.5h4v4h-4zm0 22.5h4v4h-4zm0 4h4v4h-4zm0.5 -68h4v4h-4zm0 9.5h4v4h-4zm0 0.5h4v4h-4zm0 12h4v4h-4zm0 16h4v4h-4zm0 13.5h4v4h-4zm0 5.5h4v4h-4zm0 9h4v4h-4zm0 1.5h4v4h-4zm0 3h4v4h-4zm0.5 -63h4v4h-4zm0 23h4v4h-4zm0 14h4v4h-4zm0 23.5h4v4h-4zm0.5 -28.5h4v4h-4zm0 17.5h4v4h-4zm0 11.5h4v4h-4zm0 1.5h4v4h-4zm0.5 -47h4v4h-4zm0 5h4v4h-4zm0 18h4v4h-4zm0.5 -21.5h4v4h-4zm0 4h4v4h-4zm0 7h4v4h-4zm0 23h4v4h-4zm0.5 -52.5h4v4h-4zm0 5h4v4h-4zm0 48h4v4h-4zm0.5 -51h4v4h-4zm0 24h4v4h-4zm0 18h4v4h-4zm0 29h4v4h-4zm0.5 -60h4v4h-4zm0.5 9h4v4h-4zm0 13.5h4v4h-4zm0 2.5h4v4h-4zm0 22h4v4h-4zm0.5 -48.5h4v4h-4zm0 8.5h4v4h-4zm0 0.5h4v4h-4zm0 8h4v4h-4zm0 15h4v4h-4zm0 0.5h4v4h-4zm0 3.5h4v4h-4zm0.5 -25.5h4v4h-4zm0 7.5h4v4h-4zm0 23.5h4v4h-4zm0.5 -23.5h4v4h-4zm0 3.5h4v4h-4zm0 19h4v4h-4zm0 2.5h4v4h-4zm0 7h4v4h-4zm0.5 -39.5h4v4h-4zm0 4.5h4v4h-4zm0 4h4v4h-4zm0 8.5h4v4h-4zm0 17.5h4v4h-4zm0.5 -8.5h4v4h-4zm0 5.5h4v4h-4zm0.5 -6h4v4h-4zm0 12h4v4h-4zm0 1h4v4h-4zm0.5 -30.5h4v4h-4zm0 8.5h4v4h-4zm0 16h4v4h-4zm0.5 -17.5h4v4h-4zm0.5 -4.5h4v4h-4zm0 8.5h4v4h-4zm0.5 4.5h4v4h-4zm0 0.5h4v4h-4zm0.5 -5.5h4v4h-4zm0 23.5h4v4h-4zm0.5 -24h4v4h-4zm0.5 15h4v4h-4zm0 4.5h4v4h-4zm0 2.5h4v4h-4zm1.5 -3.5h4v4h-4zm1 -3.5h4v4h-4zm1 6.5h4v4h-4zm5 15.5h4v4h-4zm8 10h4v4h-4zm8 -4h4v4h-4zm7 -6h4v4h-4zm5 -14h4v4h-4zm21 -305.5h4v4h-4zm0 4h4v4h-4zm0 5h4v4h-4zm0 0.5h4v4h-4zm0 8.5h4v4h-4zm0 3h4v4h-4zm0 1h4v4h-4zm0 2h4v4h-4zm0 4.5h4v4h-4zm0 4h4v4h-4zm0 2h4v4h-4zm0 2.5h4v4h-4zm0 4.5h4v4h-4zm0 7.5h4v4h-4zm0 1.5h4v4h-4zm0 33.5h4v4h-4zm0 3h4v4h-4zm0 3.5h4v4h-4zm0 2h4v4h-4zm0 13h4v4h-4zm0.5 -108h4v4h-4zm0 1h4v4h-4zm0 1.5h4v4h-4zm0 9h4v4h-4zm0 32.5h4v4h-4zm0 1h4v4h-4zm0 2h4v4h-4zm0 2.5h4v4h-4zm0 3h4v4h-4zm0 4.5h4v4h-4zm0 0.5h4v4h-4zm0 7h4v4h-4zm0 8.5h4v4h-4zm0 9h4v4h-4zm0 5.5h4v4h-4zm0 3h4v4h-4zm0 2h4v4h-4zm0 5.5h4v4h-4zm0 12h4v4h-4zm0 5h4v4h-4zm0 2.5h4v4h-4zm0.5 -116.5h4v4h-4zm0 18.5h4v4h-4zm0 2h4v4h-4zm0 1h4v4h-4zm0 0.5h4v4h-4zm0 7h4v4h-4zm0 4.5h4v4h-4zm0 7.5h4v4h-4zm0 1h4v4h-4zm0 4.5h4v4h-4zm0 1h4v4h-4zm0 6h4v4h-4zm0 3.5h4v4h-4zm0 2.5h4v4h-4zm0 8h4v4h-4zm0 5.5h4v4h-4zm0 1.5h4v4h-4zm0 3h4v4h-4zm0 6.5h4v4h-4zm0 15.5h4v4h-4zm0 14h4v4h-4zm0.5 -117h4v4h-4zm0 2.5h4v4h-4zm0 0.5h4v4h-4zm0 3.5h4v4h-4zm0 16.5h4v4h-4zm0 4.5h4v4h-4zm0 1.5h4v4h-4zm0 7h4v4h-4zm0 3.5h4v4h-4zm0 6.5h4v4h-4zm0 3.5h4v4h-4zm0 0.5h4v4h-4zm0 1.5h4v4h-4zm0 15h4v4h-4zm0 12h4v4h-4zm0 2.5h4v4h-4zm0 0.5h4v4h-4zm0 0.5h4v4h-4zm0 9h4v4h-4zm0 7.5h4v4h-4zm0 7.5h4v4h-4zm0 2h4v4h-4zm0 5.5h4v4h-4zm0 4h4v4h-4zm0 1.5h4v4h-4zm0.5 -118h4v4h-4zm0 0.5h4v4h-4zm0 1h4v4h-4zm0 2h4v4h-4zm0 2h4v4h-4zm0 11h4v4h-4zm0 2h4v4h-4zm0 4h4v4h-4zm0 2h4v4h-4zm0 5h4v4h-4zm0 6.5h4v4h-4zm0 2h4v4h-4zm0 3.5h4v4h-4zm0 10.5h4v4h-4zm0 4.5h4v4h-4zm0 9h4v4h-4zm0 4h4v4h-4zm0 5h4v4h-4zm0 15.5h4v4h-4zm0 4h4v4h-4zm0 5.5h4v4h-4zm0 2h4v4h-4zm0 3h4v4h-4zm0 2.5h4v4h-4zm0 8.5h4v4h-4zm0.5 -106.5h4v4h-4zm0 2.5h4v4h-4zm0 1h4v4h-4zm0 7.5h4v4h-4zm0 3h4v4h-4zm0 3.5h4v4h-4zm0 2.5h4v4h-4zm0 8h4v4h-4zm0 6.5h4v4h-4zm0 3h4v4h-4zm0 1h4v4h-4zm0 11h4v4h-4zm0 2.5h4v4h-4zm0 53.5h4v4h-4zm0 0.5h4v4h-4zm0.5 -116h4v4h-4zm0 8.5h4v4h-4zm0 13h4v4h-4zm0 1h4v4h-4zm0 5h4v4h-4zm0 11.5h4v4h-4zm0 1.5h4v4h-4zm0 35h4v4h-4zm0 2h4v4h-4zm0 7.5h4v4h-4zm0 23h4v4h-4zm0.5 -105.5h4v4h-4zm0 1h4v4h-4zm0 2.5h4v4h-4zm0 4.5h4v4h-4zm0 10.5h4v4h-4zm0 0.5h4v4h-4zm0 4.5h4v4h-4zm0 26h4v4h-4zm0 38h4v4h-4zm0 20h4v4h-4zm0 2h4v4h-4zm0 1.5h4v4h-4zm0.5 -112h4v4h-4zm0 22.5h4v4h-4zm0 3h4v4h-4zm0 39.5h4v4h-4zm0 32h4v4h-4zm0 3.5h4v4h-4zm0 10h4v4h-4zm0 5h4v4h-4zm0.5 -114h4v4h-4zm0 116h4v4h-4zm0.5 -96h4v4h-4zm0 66.5h4v4h-4zm0.5 -83h4v4h-4zm0 4.5h4v4h-4zm0 16.5h4v4h-4zm0 8.5h4v4h-4zm0.5 16.5h4v4h-4zm0 50.5h4v4h-4zm1 -88.5h4v4h-4zm0 24.5h4v4h-4zm0 64h4v4h-4zm0 6h4v4h-4zm0.5 -5h4v4h-4zm0 2h4v4h-4zm0.5 -89h4v4h-4zm0 89.5h4v4h-4zm0 9h4v4h-4zm0 1.5h4v4h-4zm0.5 -93.5h4v4h-4zm0 86h4v4h-4zm0.5 -5h4v4h-4zm0 5h4v4h-4zm0 0.5h4v4h-4zm0.5 -103h4v4h-4zm0 47.5h4v4h-4zm0 59h4v4h-4zm0 2h4v4h-4zm0.5 -100h4v4h-4zm0 91.5h4v4h-4zm0.5 -79.5h4v4h-4zm0 78h4v4h-4zm0 10.5h4v4h-4zm0.5 -74.5h4v4h-4zm0 21h4v4h-4zm0 24h4v4h-4zm0 27.5h4v4h-4zm0 3.5h4v4h-4zm0 3h4v4h-4zm0.5 -7.5h4v4h-4zm0 6.5h4v4h-4zm0.5 -34h4v4h-4zm0 31.5h4v4h-4zm0 0.5h4v4h-4zm0 1.5h4v4h-4zm0 3.5h4v4h-4zm0.5 -75h4v4h-4zm0 4.5h4v4h-4zm0 2h4v4h-4zm0 13.5h4v4h-4zm0 34h4v4h-4zm0 13.5h4v4h-4zm0 8.5h4v4h-4zm0.5 -71h4v4h-4zm0 54h4v4h-4zm0.5 3h4v4h-4zm0.5 -4.5h4v4h-4zm0 4.5h4v4h-4zm0.5 3h4v4h-4zm0.5 -42h4v4h-4zm0.5 -34h4v4h-4zm0 7.5h4v4h-4zm0 34h4v4h-4zm0 27h4v4h-4zm0 4h4v4h-4zm0 0.5h4v4h-4zm0.5 -77h4v4h-4zm0 66.5h4v4h-4zm0 21.5h4v4h-4zm0 4.5h4v4h-4zm0.5 -6.5h4v4h-4zm0 12h4v4h-4zm0.5 -101h4v4h-4zm0 37.5h4v4h-4zm0 27h4v4h-4zm0.5 17.5h4v4h-4zm0 7h4v4h-4zm0 0.5h4v4h-4zm0 2h4v4h-4zm0 4.5h4v4h-4zm0 1h4v4h-4zm0.5 -123.5h4v4h-4zm0 115.5h4v4h-4zm0 3.5h4v4h-4zm0 1h4v4h-4zm0 2h4v4h-4zm0.5 -5h4v4h-4zm0 7.5h4v4h-4zm0.5 -13h4v4h-4zm0.5 -2.5h4v4h-4zm0 7.5h4v4h-4zm0.5 3.5h4v4h-4zm0.5 -13h4v4h-4zm0 6.5h4v4h-4zm0 3h4v4h-4zm0.5 -63h4v4h-4zm0 64.5h4v4h-4zm0 6h4v4h-4zm0.5 -18h4v4h-4zm0 20.5h4v4h-4zm0.5 -113h4v4h-4zm0 11.5h4v4h-4zm0 8.5h4v4h-4zm0 72h4v4h-4zm0 1h4v4h-4zm0 5.5h4v4h-4zm0 1h4v4h-4zm0 9.5h4v4h-4zm0 1h4v4h-4zm0.5 -70.5h4v4h-4zm0 44.5h4v4h-4zm0 11h4v4h-4zm0 0.5h4v4h-4zm0 6h4v4h-4zm0 3.5h4v4h-4zm0.5 -9.5h4v4h-4zm0 2h4v4h-4zm0 2.5h4v4h-4zm0 2.5h4v4h-4zm0 11.5h4v4h-4zm1 -9h4v4h-4zm0 3h4v4h-4zm1 -52h4v4h-4zm0 43h4v4h-4zm0 3h4v4h-4zm0 12.5h4v4h-4zm0.5 -108.5h4v4h-4zm0 92.5h4v4h-4zm0.5 -1.5h4v4h-4zm0 1.5h4v4h-4zm0 1.5h4v4h-4zm0 15.5h4v4h-4zm0.5 -16h4v4h-4zm0.5 5.5h4v4h-4zm0 8.5h4v4h-4zm0.5 -13h4v4h-4zm0 2.5h4v4h-4zm0 5h4v4h-4zm0.5 -3.5h4v4h-4zm0 9.5h4v4h-4zm0.5 -9.5h4v4h-4zm0 9h4v4h-4zm0.5 -47.5h4v4h-4zm0 33h4v4h-4zm0 16h4v4h-4zm0.5 -14.5h4v4h-4zm0 7.5h4v4h-4zm0 1h4v4h-4zm0 3h4v4h-4zm0 2h4v4h-4zm0.5 -17h4v4h-4zm1 -16h4v4h-4zm0 21.5h4v4h-4zm0 10h4v4h-4zm0 1h4v4h-4zm0 3.5h4v4h-4zm0 1.5h4v4h-4zm0.5 -8h4v4h-4zm0.5 -90.5h4v4h-4zm0 80h4v4h-4zm0 10.5h4v4h-4zm0.5 -2.5h4v4h-4zm0 9h4v4h-4zm0.5 -11.5h4v4h-4zm0 10h4v4h-4zm1 -11h4v4h-4zm0 1h4v4h-4zm0 69.5h4v4h-4zm0 2.5h4v4h-4zm0 0.5h4v4h-4zm0.5 -61h4v4h-4zm0.5 -8.5h4v4h-4zm0 3h4v4h-4zm0.5 1.5h4v4h-4zm0 2.5h4v4h-4zm0 63.5h4v4h-4zm0.5 -59h4v4h-4zm0 53.5h4v4h-4zm0 4.5h4v4h-4zm0.5 -71.5h4v4h-4zm0.5 -30.5h4v4h-4zm0 41h4v4h-4zm0 3h4v4h-4zm0 48.5h4v4h-4zm0 1h4v4h-4zm0 4h4v4h-4zm0.5 -60h4v4h-4zm0 9h4v4h-4zm0 46.5h4v4h-4zm0 5h4v4h-4zm0.5 -59.5h4v4h-4zm0 63.5h4v4h-4zm0.5 -56h4v4h-4zm0 56h4v4h-4zm0.5 -73.5h4v4h-4zm0 1.5h4v4h-4zm0 11.5h4v4h-4zm0 4h4v4h-4zm0 1h4v4h-4zm0 40h4v4h-4zm0 3h4v4h-4zm0 9.5h4v4h-4zm0.5 -70h4v4h-4zm0 5.5h4v4h-4zm0 51.5h4v4h-4zm0 10.5h4v4h-4zm0.5 -66h4v4h-4zm0 15h4v4h-4zm0 2.5h4v4h-4zm0 32.5h4v4h-4zm0 4.5h4v4h-4zm0 6.5h4v4h-4zm0.5 -47.5h4v4h-4zm0 1.5h4v4h-4zm0 1h4v4h-4zm0 30h4v4h-4zm0 21h4v4h-4zm0.5 -85.5h4v4h-4zm0 27h4v4h-4zm0 0.5h4v4h-4zm0 7.5h4v4h-4zm0 6h4v4h-4zm0 24.5h4v4h-4zm0 13.5h4v4h-4zm0 0.5h4v4h-4zm0 6.5h4v4h-4zm0.5 -60h4v4h-4zm0 9h4v4h-4zm0 5h4v4h-4zm0 25.5h4v4h-4zm0 8h4v4h-4zm0 3h4v4h-4zm0 2.5h4v4h-4zm0.5 -56.5h4v4h-4zm0 15h4v4h-4zm0 1h4v4h-4zm0 6h4v4h-4zm0 25h4v4h-4zm0 6.5h4v4h-4zm0.5 -56h4v4h-4zm0 4h4v4h-4zm0 3.5h4v4h-4zm0 2h4v4h-4zm0 2h4v4h-4zm0 29.5h4v4h-4zm0 3h4v4h-4zm0 4.5h4v4h-4zm0 3h4v4h-4zm0 3.5h4v4h-4zm0 6.5h4v4h-4zm0.5 -46h4v4h-4zm0 20.5h4v4h-4zm0 3.5h4v4h-4zm0 0.5h4v4h-4zm0 2h4v4h-4zm0 14h4v4h-4zm0.5 -22h4v4h-4zm0 6h4v4h-4zm0 8.5h4v4h-4zm0 8h4v4h-4zm0 1.5h4v4h-4zm0.5 -45.5h4v4h-4zm0 41.5h4v4h-4zm0 22h4v4h-4zm0.5 -49.5h4v4h-4zm0 6.5h4v4h-4zm0 2.5h4v4h-4zm0 3.5h4v4h-4zm0 3h4v4h-4zm0.5 -31.5h4v4h-4zm0 8.5h4v4h-4zm0 0.5h4v4h-4zm0 26.5h4v4h-4zm0.5 -39h4v4h-4zm0 2.5h4v4h-4zm0 10h4v4h-4zm0 31h4v4h-4zm0.5 -41.5h4v4h-4zm0 2h4v4h-4zm0 9h4v4h-4zm0 2.5h4v4h-4zm0 5h4v4h-4zm0 1.5h4v4h-4zm0 1.5h4v4h-4zm0 4h4v4h-4zm0 10h4v4h-4zm0 1h4v4h-4zm0 3.5h4v4h-4zm0.5 -14.5h4v4h-4zm0 1.5h4v4h-4zm0 3.5h4v4h-4zm0 3h4v4h-4zm0.5 -33h4v4h-4zm0 10h4v4h-4zm0 4.5h4v4h-4zm0 17.5h4v4h-4zm0 1.5h4v4h-4zm0 1h4v4h-4zm0.5 -33h4v4h-4zm0 10.5h4v4h-4zm0 5.5h4v4h-4zm0 13h4v4h-4zm0.5 -12.5h4v4h-4zm0 6h4v4h-4zm0 2.5h4v4h-4zm0 34h4v4h-4zm0.5 -55h4v4h-4zm0 1.5h4v4h-4zm0 6.5h4v4h-4zm0.5 -37h4v4h-4zm1 14h4v4h-4zm3 14h4v4h-4zm0 30h4v4h-4zm7 -144h4v4h-4zm50 -16h4v4h-4z"/></g>
<g clip-path="url(#cA)"><path fill="#ffffff" filter="url(#bl)" shape-rendering="auto" d="m377 229h3v3h-3zm0 36.5h3v3h-3zm0 8h3v3h-3zm0.5 -41h3v3h-3zm0.5 -28h3v3h-3zm1.5 -6h3v3h-3zm1 -6.5h3v3h-3zm0 59.5h3v3h-3zm0.5 -12.5h3v3h-3zm0.5 -31h3v3h-3zm0 36.5h3v3h-3zm0.5 -50h3v3h-3zm0 5h3v3h-3zm0.5 -4h3v3h-3zm0 3h3v3h-3zm1 1.5h3v3h-3zm0 40.5h3v3h-3zm1 8h3v3h-3zm0.5 -34.5h3v3h-3zm1 -18h3v3h-3zm0 5.5h3v3h-3zm2 22.5h3v3h-3zm1 40.5h3v3h-3zm0 4.5h3v3h-3zm2 -42.5h3v3h-3zm0.5 -12h3v3h-3zm0.5 18.5h3v3h-3zm0.5 3h3v3h-3zm0.5 -21.5h3v3h-3zm0 65h3v3h-3zm0.5 -72.5h3v3h-3zm0 23h3v3h-3zm0.5 -20h3v3h-3zm0.5 -7h3v3h-3zm0 14h3v3h-3zm0 60h3v3h-3zm0.5 -34h3v3h-3zm1 -19h3v3h-3zm0 42h3v3h-3zm1.5 -61.5h3v3h-3zm0.5 14.5h3v3h-3zm0.5 -15h3v3h-3zm2 53.5h3v3h-3zm0.5 -12.5h3v3h-3zm1.5 12h3v3h-3zm1.5 -49h3v3h-3zm0 16.5h3v3h-3zm0.5 27.5h3v3h-3zm0.5 -15.5h3v3h-3zm1.5 -21.5h3v3h-3zm0 18h3v3h-3zm2.5 -8h3v3h-3zm0 7.5h3v3h-3zm1 -20h3v3h-3zm0.5 3h3v3h-3z"/></g>
<g clip-path="url(#cA)"><path fill="#ffffff" filter="url(#bl)" shape-rendering="auto" d="m330.5 354.5h3v3h-3zm6 -16h3v3h-3zm7 -10h3v3h-3zm5 -12h3v3h-3zm2 -18h3v3h-3zm26 -38h3v3h-3zm4 -54h3v3h-3zm2 35h3v3h-3zm1 -31h3v3h-3zm1 60h3v3h-3zm3 -50h3v3h-3zm1 10h3v3h-3zm2 19h3v3h-3zm4 -25h3v3h-3zm1 36h3v3h-3zm3 -16h3v3h-3zm2 -32h3v3h-3z"/></g>
<rect x="254" y="65.5" width="4" height="2.5" fill="#c8c8c8"/>
<rect x="258" y="65.5" width="4" height="2.5" fill="#c8c8c8"/>
<rect x="262" y="65.5" width="4" height="2.5" fill="#c8c8c8"/>
<rect x="270" y="65.5" width="4" height="2.5" fill="#c8c8c8"/>
<rect x="274" y="65.5" width="4" height="2.5" fill="#c8c8c8"/>
<rect x="278" y="65.5" width="4" height="2.5" fill="#c8c8c8"/>
<rect x="282" y="65.5" width="4" height="2.5" fill="#c8c8c8"/>
<rect x="286" y="65.5" width="4" height="2.5" fill="#c8c8c8"/>
<rect x="290" y="65.5" width="4" height="2.5" fill="#c8c8c8"/>
<rect x="294" y="65.5" width="4" height="2.5" fill="#c8c8c8"/>
<rect x="376" y="65.5" width="4" height="2.5" fill="#c8c8c8"/>
<rect x="380" y="65.5" width="4" height="2.5" fill="#c8c8c8"/>
<rect x="384" y="65.5" width="4" height="2.5" fill="#c8c8c8"/>
<rect x="388" y="65.5" width="4" height="2.5" fill="#c8c8c8"/>
<rect x="391" y="65.5" width="4" height="2.5" fill="#c8c8c8"/>
<rect x="424" y="65.5" width="4" height="2.5" fill="#c8c8c8"/>
<g clip-path="url(#cA)"><path fill="#0000ff" filter="url(#bl)" shape-rendering="auto" d="m316.5 352h4.6v4.6h-4.6zm32 -17h4.6v4.6h-4.6zm7 30.5h4.6v4.6h-4.6zm0 1h4.6v4.6h-4.6zm1 1h4.6v4.6h-4.6zm1 0h4.6v4.6h-4.6zm0.5 6.5h4.6v4.6h-4.6zm0.5 -3h4.6v4.6h-4.6zm0.5 0h4.6v4.6h-4.6zm0.5 8.5h4.6v4.6h-4.6zm1.5 -16.5h4.6v4.6h-4.6zm1 -9.5h4.6v4.6h-4.6zm0.5 -2h4.6v4.6h-4.6zm1 -7.5h4.6v4.6h-4.6zm0 39.5h4.6v4.6h-4.6zm1 -50h4.6v4.6h-4.6zm0 21.5h4.6v4.6h-4.6zm0 18h4.6v4.6h-4.6zm0.5 -28h4.6v4.6h-4.6zm0 32.5h4.6v4.6h-4.6zm0.5 -38h4.6v4.6h-4.6zm0.5 29h4.6v4.6h-4.6zm0.5 -9.5h4.6v4.6h-4.6zm0 2.5h4.6v4.6h-4.6zm0 1.5h4.6v4.6h-4.6zm1 -10h4.6v4.6h-4.6zm0.5 -7.5h4.6v4.6h-4.6zm0 2.5h4.6v4.6h-4.6zm0 5.5h4.6v4.6h-4.6zm0 0.5h4.6v4.6h-4.6zm0.5 -3h4.6v4.6h-4.6zm0 2.5h4.6v4.6h-4.6zm0 10h4.6v4.6h-4.6zm0 17h4.6v4.6h-4.6zm0.5 -45h4.6v4.6h-4.6zm0 18.5h4.6v4.6h-4.6zm0 10h4.6v4.6h-4.6zm0.5 -21h4.6v4.6h-4.6zm0 9h4.6v4.6h-4.6zm0.5 -16.5h4.6v4.6h-4.6zm0 11.5h4.6v4.6h-4.6zm0 1.5h4.6v4.6h-4.6zm0 7h4.6v4.6h-4.6zm0 4h4.6v4.6h-4.6zm0 2h4.6v4.6h-4.6zm0 12h4.6v4.6h-4.6zm0.5 -36h4.6v4.6h-4.6zm0 4h4.6v4.6h-4.6zm0 2h4.6v4.6h-4.6zm0 9.5h4.6v4.6h-4.6zm0 1h4.6v4.6h-4.6zm0 3.5h4.6v4.6h-4.6zm0 0.5h4.6v4.6h-4.6zm0.5 -14.5h4.6v4.6h-4.6zm0 8h4.6v4.6h-4.6zm0 12h4.6v4.6h-4.6zm0.5 -34.5h4.6v4.6h-4.6zm0 11.5h4.6v4.6h-4.6zm0 7.5h4.6v4.6h-4.6zm0 7.5h4.6v4.6h-4.6zm0 22h4.6v4.6h-4.6zm0.5 -42h4.6v4.6h-4.6zm0 3.5h4.6v4.6h-4.6zm0 10h4.6v4.6h-4.6zm0 8h4.6v4.6h-4.6zm0 6h4.6v4.6h-4.6zm0.5 -32h4.6v4.6h-4.6zm0 8.5h4.6v4.6h-4.6zm0 10h4.6v4.6h-4.6zm0 1.5h4.6v4.6h-4.6zm0.5 -16.5h4.6v4.6h-4.6zm0 22.5h4.6v4.6h-4.6zm0 9h4.6v4.6h-4.6zm0 3.5h4.6v4.6h-4.6zm0.5 -34.5h4.6v4.6h-4.6zm0 4h4.6v4.6h-4.6zm0 9.5h4.6v4.6h-4.6zm0 4h4.6v4.6h-4.6zm0 3.5h4.6v4.6h-4.6zm0 2.5h4.6v4.6h-4.6zm0 3h4.6v4.6h-4.6zm0.5 -23h4.6v4.6h-4.6zm0 6h4.6v4.6h-4.6zm0 1.5h4.6v4.6h-4.6zm0 2.5h4.6v4.6h-4.6zm0.5 -19.5h4.6v4.6h-4.6zm0 6h4.6v4.6h-4.6zm0 8h4.6v4.6h-4.6zm0 6.5h4.6v4.6h-4.6zm0 4.5h4.6v4.6h-4.6zm0 10h4.6v4.6h-4.6zm0.5 -33.5h4.6v4.6h-4.6zm0 5h4.6v4.6h-4.6zm0 3.5h4.6v4.6h-4.6zm0 0.5h4.6v4.6h-4.6zm0 5.5h4.6v4.6h-4.6zm0 1.5h4.6v4.6h-4.6zm0.5 -14.5h4.6v4.6h-4.6zm0 9.5h4.6v4.6h-4.6zm0 3h4.6v4.6h-4.6zm0 12h4.6v4.6h-4.6zm0.5 -13.5h4.6v4.6h-4.6zm0 5h4.6v4.6h-4.6zm0 1.5h4.6v4.6h-4.6zm0 1.5h4.6v4.6h-4.6zm0 2h4.6v4.6h-4.6zm0.5 -25h4.6v4.6h-4.6zm0 21h4.6v4.6h-4.6zm0 2h4.6v4.6h-4.6zm0 2.5h4.6v4.6h-4.6zm0 5h4.6v4.6h-4.6zm0 2.5h4.6v4.6h-4.6zm0.5 -29h4.6v4.6h-4.6zm0.5 -3h4.6v4.6h-4.6zm0 1h4.6v4.6h-4.6zm0 4.5h4.6v4.6h-4.6zm0 2h4.6v4.6h-4.6zm0 3.5h4.6v4.6h-4.6zm0 0.5h4.6v4.6h-4.6zm0 6h4.6v4.6h-4.6zm0 2.5h4.6v4.6h-4.6zm0 8.5h4.6v4.6h-4.6zm0.5 -36h4.6v4.6h-4.6zm0 11h4.6v4.6h-4.6zm0 5h4.6v4.6h-4.6zm0 4h4.6v4.6h-4.6zm0 13h4.6v4.6h-4.6zm0 7.5h4.6v4.6h-4.6zm0.5 -25h4.6v4.6h-4.6zm0 2.5h4.6v4.6h-4.6zm0 3.5h4.6v4.6h-4.6zm0 4.5h4.6v4.6h-4.6zm0 5h4.6v4.6h-4.6zm0 2h4.6v4.6h-4.6zm0 1.5h4.6v4.6h-4.6zm0.5 -26h4.6v4.6h-4.6zm0 7h4.6v4.6h-4.6zm0 3.5h4.6v4.6h-4.6zm0 3.5h4.6v4.6h-4.6zm0 2.5h4.6v4.6h-4.6zm0 0.5h4.6v4.6h-4.6zm0 1h4.6v4.6h-4.6zm0 3h4.6v4.6h-4.6zm0.5 -25.5h4.6v4.6h-4.6zm0 10h4.6v4.6h-4.6zm0 1.5h4.6v4.6h-4.6zm0 1h4.6v4.6h-4.6zm0 7.5h4.6v4.6h-4.6zm0 3h4.6v4.6h-4.6zm0.5 -17h4.6v4.6h-4.6zm0 0.5h4.6v4.6h-4.6zm0 1h4.6v4.6h-4.6zm0 3.5h4.6v4.6h-4.6zm0 5.5h4.6v4.6h-4.6zm0 1h4.6v4.6h-4.6zm0 2h4.6v4.6h-4.6zm0 1.5h4.6v4.6h-4.6zm0 1.5h4.6v4.6h-4.6zm0.5 -29.5h4.6v4.6h-4.6zm0 11h4.6v4.6h-4.6zm0 2h4.6v4.6h-4.6zm0 9.5h4.6v4.6h-4.6zm0 3h4.6v4.6h-4.6zm0 1h4.6v4.6h-4.6zm0 4.5h4.6v4.6h-4.6zm0.5 -21h4.6v4.6h-4.6zm0.5 5h4.6v4.6h-4.6zm0 3h4.6v4.6h-4.6zm0 9.5h4.6v4.6h-4.6zm0.5 -14h4.6v4.6h-4.6zm0 8.5h4.6v4.6h-4.6zm0 8.5h4.6v4.6h-4.6zm0.5 -30.5h4.6v4.6h-4.6zm0 20h4.6v4.6h-4.6zm0 4.5h4.6v4.6h-4.6zm0.5 1h4.6v4.6h-4.6zm0 2.5h4.6v4.6h-4.6zm0 0.5h4.6v4.6h-4.6zm0.5 -15.5h4.6v4.6h-4.6zm0 44h4.6v4.6h-4.6zm0.5 -51h4.6v4.6h-4.6zm0 2h4.6v4.6h-4.6zm0 5.5h4.6v4.6h-4.6zm0.5 -5.5h4.6v4.6h-4.6zm0 0.5h4.6v4.6h-4.6zm0 13.5h4.6v4.6h-4.6zm0 3h4.6v4.6h-4.6zm0 1h4.6v4.6h-4.6zm0 4h4.6v4.6h-4.6zm0.5 -23.5h4.6v4.6h-4.6zm0 1h4.6v4.6h-4.6zm0 10.5h4.6v4.6h-4.6zm0 7.5h4.6v4.6h-4.6zm0.5 -22.5h4.6v4.6h-4.6zm0 5.5h4.6v4.6h-4.6zm0 4h4.6v4.6h-4.6zm0 1h4.6v4.6h-4.6zm0 2.5h4.6v4.6h-4.6zm0 0.5h4.6v4.6h-4.6zm0 5.5h4.6v4.6h-4.6zm0 1h4.6v4.6h-4.6zm0 5h4.6v4.6h-4.6zm0 10.5h4.6v4.6h-4.6zm0.5 -36.5h4.6v4.6h-4.6zm0 5.5h4.6v4.6h-4.6zm0 9h4.6v4.6h-4.6zm0 0.5h4.6v4.6h-4.6zm0.5 -14h4.6v4.6h-4.6zm0 11h4.6v4.6h-4.6zm0 2h4.6v4.6h-4.6zm0 2.5h4.6v4.6h-4.6zm0.5 -8.5h4.6v4.6h-4.6zm0 1h4.6v4.6h-4.6zm0 4h4.6v4.6h-4.6zm0 3h4.6v4.6h-4.6zm0.5 -11.5h4.6v4.6h-4.6zm0 3h4.6v4.6h-4.6zm0 14h4.6v4.6h-4.6zm0 29.5h4.6v4.6h-4.6zm0.5 -32.5h4.6v4.6h-4.6zm0.5 -8h4.6v4.6h-4.6zm0 1h4.6v4.6h-4.6zm0.5 -9.5h4.6v4.6h-4.6zm0 11.5h4.6v4.6h-4.6zm0 7.5h4.6v4.6h-4.6zm0.5 -55.5h4.6v4.6h-4.6zm0 38h4.6v4.6h-4.6zm0 17.5h4.6v4.6h-4.6zm0.5 -19h4.6v4.6h-4.6zm0 6h4.6v4.6h-4.6zm1 -7h4.6v4.6h-4.6zm0 11.5h4.6v4.6h-4.6zm0.5 1.5h4.6v4.6h-4.6zm0 8h4.6v4.6h-4.6zm1.5 -27h4.6v4.6h-4.6zm0 1.5h4.6v4.6h-4.6zm0 4.5h4.6v4.6h-4.6zm0 15h4.6v4.6h-4.6zm0.5 33h4.6v4.6h-4.6zm0.5 -45.5h4.6v4.6h-4.6zm0.5 6.5h4.6v4.6h-4.6zm0.5 -2.5h4.6v4.6h-4.6zm1 9.5h4.6v4.6h-4.6zm1.5 26h4.6v4.6h-4.6zm5 -88.5h4.6v4.6h-4.6zm6.5 -6.5h4.6v4.6h-4.6z"/></g>
<g clip-path="url(#cA)"><path fill="#ff00ff" filter="url(#bl)" shape-rendering="auto" d="m358.5 364.5h4.6v4.6h-4.6zm2 10.5h4.6v4.6h-4.6zm1.5 -10h4.6v4.6h-4.6zm0 4h4.6v4.6h-4.6zm0.5 -1h4.6v4.6h-4.6zm0 0.5h4.6v4.6h-4.6zm0 4h4.6v4.6h-4.6zm1 -18h4.6v4.6h-4.6zm0 19.5h4.6v4.6h-4.6zm0.5 -12.5h4.6v4.6h-4.6zm0.5 -4h4.6v4.6h-4.6zm0 1h4.6v4.6h-4.6zm0 5.5h4.6v4.6h-4.6zm0 12.5h4.6v4.6h-4.6zm0.5 -11.5h4.6v4.6h-4.6zm1 -14.5h4.6v4.6h-4.6zm0 13.5h4.6v4.6h-4.6zm0 12.5h4.6v4.6h-4.6zm0.5 -24h4.6v4.6h-4.6zm0 13h4.6v4.6h-4.6zm0.5 -6h4.6v4.6h-4.6zm0 11h4.6v4.6h-4.6zm1 -17h4.6v4.6h-4.6zm0 9.5h4.6v4.6h-4.6zm0.5 -16.5h4.6v4.6h-4.6zm0 0.5h4.6v4.6h-4.6zm0 6h4.6v4.6h-4.6zm0 5h4.6v4.6h-4.6zm0 4h4.6v4.6h-4.6zm0 1.5h4.6v4.6h-4.6zm0.5 -8.5h4.6v4.6h-4.6zm0 2h4.6v4.6h-4.6zm0 5h4.6v4.6h-4.6zm0 6.5h4.6v4.6h-4.6zm0 3.5h4.6v4.6h-4.6zm0.5 -19h4.6v4.6h-4.6zm0 6h4.6v4.6h-4.6zm0 7.5h4.6v4.6h-4.6zm0.5 -19h4.6v4.6h-4.6zm0.5 10h4.6v4.6h-4.6zm0 5.5h4.6v4.6h-4.6zm0.5 -20.5h4.6v4.6h-4.6zm0 1.5h4.6v4.6h-4.6zm0 8.5h4.6v4.6h-4.6zm0 2h4.6v4.6h-4.6zm0 4h4.6v4.6h-4.6zm0 15.5h4.6v4.6h-4.6zm0.5 -34h4.6v4.6h-4.6zm0 4h4.6v4.6h-4.6zm0 6.5h4.6v4.6h-4.6zm0 4h4.6v4.6h-4.6zm0 2.5h4.6v4.6h-4.6zm0 0.5h4.6v4.6h-4.6zm0 1h4.6v4.6h-4.6zm0 0.5h4.6v4.6h-4.6zm0 1.5h4.6v4.6h-4.6zm0 6h4.6v4.6h-4.6zm0 6.5h4.6v4.6h-4.6zm0.5 -25.5h4.6v4.6h-4.6zm0 14.5h4.6v4.6h-4.6zm0.5 -15.5h4.6v4.6h-4.6zm0 3.5h4.6v4.6h-4.6zm0 15.5h4.6v4.6h-4.6zm0.5 -24h4.6v4.6h-4.6zm0 1h4.6v4.6h-4.6zm0 4.5h4.6v4.6h-4.6zm0 6h4.6v4.6h-4.6zm0 18.5h4.6v4.6h-4.6zm0.5 -37h4.6v4.6h-4.6zm0 9.5h4.6v4.6h-4.6zm0 2.5h4.6v4.6h-4.6zm0 1h4.6v4.6h-4.6zm0 2.5h4.6v4.6h-4.6zm0 0.5h4.6v4.6h-4.6zm0 6h4.6v4.6h-4.6zm0.5 -22h4.6v4.6h-4.6zm0 4h4.6v4.6h-4.6zm0 1.5h4.6v4.6h-4.6zm0 2h4.6v4.6h-4.6zm0 4.5h4.6v4.6h-4.6zm0 4h4.6v4.6h-4.6zm0 2h4.6v4.6h-4.6zm0 1.5h4.6v4.6h-4.6zm0 2h4.6v4.6h-4.6zm0 1h4.6v4.6h-4.6zm0 3h4.6v4.6h-4.6zm0 0.5h4.6v4.6h-4.6zm0 2h4.6v4.6h-4.6zm0 2h4.6v4.6h-4.6zm0 6h4.6v4.6h-4.6zm0 9.5h4.6v4.6h-4.6zm0.5 -41.5h4.6v4.6h-4.6zm0 3.5h4.6v4.6h-4.6zm0 8.5h4.6v4.6h-4.6zm0 3h4.6v4.6h-4.6zm0 8h4.6v4.6h-4.6zm0 2.5h4.6v4.6h-4.6zm0 2.5h4.6v4.6h-4.6zm0.5 -34.5h4.6v4.6h-4.6zm0 6h4.6v4.6h-4.6zm0 11.5h4.6v4.6h-4.6zm0 4.5h4.6v4.6h-4.6zm0 1h4.6v4.6h-4.6zm0 9.5h4.6v4.6h-4.6zm0.5 -24.5h4.6v4.6h-4.6zm0 15.5h4.6v4.6h-4.6zm0 6h4.6v4.6h-4.6zm0 8h4.6v4.6h-4.6zm0.5 -35h4.6v4.6h-4.6zm0 4.5h4.6v4.6h-4.6zm0 0.5h4.6v4.6h-4.6zm0 3.5h4.6v4.6h-4.6zm0 2.5h4.6v4.6h-4.6zm0 1.5h4.6v4.6h-4.6zm0 0.5h4.6v4.6h-4.6zm0 3.5h4.6v4.6h-4.6zm0 2h4.6v4.6h-4.6zm0 4.5h4.6v4.6h-4.6zm0 4h4.6v4.6h-4.6zm0 3.5h4.6v4.6h-4.6zm0.5 -29h4.6v4.6h-4.6zm0 2h4.6v4.6h-4.6zm0 1h4.6v4.6h-4.6zm0 4h4.6v4.6h-4.6zm0 3.5h4.6v4.6h-4.6zm0 4h4.6v4.6h-4.6zm0 2h4.6v4.6h-4.6zm0 0.5h4.6v4.6h-4.6zm0 5.5h4.6v4.6h-4.6zm0 0.5h4.6v4.6h-4.6zm0 0.5h4.6v4.6h-4.6zm0 5h4.6v4.6h-4.6zm0 9.5h4.6v4.6h-4.6zm0 5h4.6v4.6h-4.6zm0.5 -49h4.6v4.6h-4.6zm0 1.5h4.6v4.6h-4.6zm0 2h4.6v4.6h-4.6zm0 3h4.6v4.6h-4.6zm0 2.5h4.6v4.6h-4.6zm0 2h4.6v4.6h-4.6zm0 1.5h4.6v4.6h-4.6zm0 1.5h4.6v4.6h-4.6zm0 1.5h4.6v4.6h-4.6zm0 2h4.6v4.6h-4.6zm0 4h4.6v4.6h-4.6zm0 1h4.6v4.6h-4.6zm0 2h4.6v4.6h-4.6zm0 2.5h4.6v4.6h-4.6zm0 3.5h4.6v4.6h-4.6zm0 4h4.6v4.6h-4.6zm0.5 -37h4.6v4.6h-4.6zm0 0.5h4.6v4.6h-4.6zm0 1.5h4.6v4.6h-4.6zm0 7h4.6v4.6h-4.6zm0 2h4.6v4.6h-4.6zm0 3h4.6v4.6h-4.6zm0 0.5h4.6v4.6h-4.6zm0 3.5h4.6v4.6h-4.6zm0 2.5h4.6v4.6h-4.6zm0 3h4.6v4.6h-4.6zm0 0.5h4.6v4.6h-4.6zm0 8h4.6v4.6h-4.6zm0 22h4.6v4.6h-4.6zm0.5 -54h4.6v4.6h-4.6zm0 4.5h4.6v4.6h-4.6zm0 1.5h4.6v4.6h-4.6zm0 1h4.6v4.6h-4.6zm0 4h4.6v4.6h-4.6zm0 0.5h4.6v4.6h-4.6zm0 0.5h4.6v4.6h-4.6zm0 1h4.6v4.6h-4.6zm0 3h4.6v4.6h-4.6zm0 0.5h4.6v4.6h-4.6zm0 2.5h4.6v4.6h-4.6zm0 1h4.6v4.6h-4.6zm0 2.5h4.6v4.6h-4.6zm0 0.5h4.6v4.6h-4.6zm0 7h4.6v4.6h-4.6zm0.5 -34h4.6v4.6h-4.6zm0 7h4.6v4.6h-4.6zm0 2h4.6v4.6h-4.6zm0 2.5h4.6v4.6h-4.6zm0 5h4.6v4.6h-4.6zm0 4.5h4.6v4.6h-4.6zm0 2.5h4.6v4.6h-4.6zm0 0.5h4.6v4.6h-4.6zm0 1h4.6v4.6h-4.6zm0 5.5h4.6v4.6h-4.6zm0 6h4.6v4.6h-4.6zm0.5 -37h4.6v4.6h-4.6zm0 8h4.6v4.6h-4.6zm0 3.5h4.6v4.6h-4.6zm0 0.5h4.6v4.6h-4.6zm0 5h4.6v4.6h-4.6zm0 1h4.6v4.6h-4.6zm0 0.5h4.6v4.6h-4.6zm0 1h4.6v4.6h-4.6zm0 5.5h4.6v4.6h-4.6zm0 4.5h4.6v4.6h-4.6zm0 2.5h4.6v4.6h-4.6zm0 1.5h4.6v4.6h-4.6zm0 1h4.6v4.6h-4.6zm0 3h4.6v4.6h-4.6zm0 5h4.6v4.6h-4.6zm0 3h4.6v4.6h-4.6zm0.5 -46h4.6v4.6h-4.6zm0 5h4.6v4.6h-4.6zm0 0.5h4.6v4.6h-4.6zm0 5h4.6v4.6h-4.6zm0 1.5h4.6v4.6h-4.6zm0 11.5h4.6v4.6h-4.6zm0 7.5h4.6v4.6h-4.6zm0 0.5h4.6v4.6h-4.6zm0 1.5h4.6v4.6h-4.6zm0 1h4.6v4.6h-4.6zm0 2.5h4.6v4.6h-4.6zm0 3h4.6v4.6h-4.6zm0.5 -34h4.6v4.6h-4.6zm0 2h4.6v4.6h-4.6zm0 0.5h4.6v4.6h-4.6zm0 0.5h4.6v4.6h-4.6zm0 1.5h4.6v4.6h-4.6zm0 3.5h4.6v4.6h-4.6zm0 3.5h4.6v4.6h-4.6zm0 3.5h4.6v4.6h-4.6zm0 4.5h4.6v4.6h-4.6zm0 0.5h4.6v4.6h-4.6zm0 1.5h4.6v4.6h-4.6zm0 1h4.6v4.6h-4.6zm0 3h4.6v4.6h-4.6zm0 1.5h4.6v4.6h-4.6zm0 2h4.6v4.6h-4.6zm0.5 -23.5h4.6v4.6h-4.6zm0 0.5h4.6v4.6h-4.6zm0 5h4.6v4.6h-4.6zm0 1h4.6v4.6h-4.6zm0 1h4.6v4.6h-4.6zm0 1h4.6v4.6h-4.6zm0 3h4.6v4.6h-4.6zm0 1h4.6v4.6h-4.6zm0 12.5h4.6v4.6h-4.6zm0 6h4.6v4.6h-4.6zm0 1.5h4.6v4.6h-4.6zm0.5 -46h4.6v4.6h-4.6zm0 7h4.6v4.6h-4.6zm0 2h4.6v4.6h-4.6zm0 9h4.6v4.6h-4.6zm0 0.5h4.6v4.6h-4.6zm0 5.5h4.6v4.6h-4.6zm0 5h4.6v4.6h-4.6zm0 9.5h4.6v4.6h-4.6zm0.5 -39h4.6v4.6h-4.6zm0 7h4.6v4.6h-4.6zm0 3.5h4.6v4.6h-4.6zm0 0.5h4.6v4.6h-4.6zm0 3.5h4.6v4.6h-4.6zm0 9h4.6v4.6h-4.6zm0 0.5h4.6v4.6h-4.6zm0 0.5h4.6v4.6h-4.6zm0 2.5h4.6v4.6h-4.6zm0 4h4.6v4.6h-4.6zm0 1.5h4.6v4.6h-4.6zm0 4h4.6v4.6h-4.6zm0 2.5h4.6v4.6h-4.6zm0 2h4.6v4.6h-4.6zm0 5.5h4.6v4.6h-4.6zm0.5 -40.5h4.6v4.6h-4.6zm0 0.5h4.6v4.6h-4.6zm0 3h4.6v4.6h-4.6zm0 2.5h4.6v4.6h-4.6zm0 1.5h4.6v4.6h-4.6zm0 1h4.6v4.6h-4.6zm0 4.5h4.6v4.6h-4.6zm0 0.5h4.6v4.6h-4.6zm0 1h4.6v4.6h-4.6zm0 3.5h4.6v4.6h-4.6zm0 1.5h4.6v4.6h-4.6zm0 0.5h4.6v4.6h-4.6zm0 2.5h4.6v4.6h-4.6zm0 2h4.6v4.6h-4.6zm0 1.5h4.6v4.6h-4.6zm0 6h4.6v4.6h-4.6zm0 1h4.6v4.6h-4.6zm0 1h4.6v4.6h-4.6zm0 3.5h4.6v4.6h-4.6zm0.5 -36h4.6v4.6h-4.6zm0 4h4.6v4.6h-4.6zm0 1h4.6v4.6h-4.6zm0 0.5h4.6v4.6h-4.6zm0 3h4.6v4.6h-4.6zm0 1h4.6v4.6h-4.6zm0 1.5h4.6v4.6h-4.6zm0 0.5h4.6v4.6h-4.6zm0 1h4.6v4.6h-4.6zm0 4.5h4.6v4.6h-4.6zm0 3h4.6v4.6h-4.6zm0 1h4.6v4.6h-4.6zm0 2.5h4.6v4.6h-4.6zm0 3.5h4.6v4.6h-4.6zm0.5 -35.5h4.6v4.6h-4.6zm0 8.5h4.6v4.6h-4.6zm0 0.5h4.6v4.6h-4.6zm0 1h4.6v4.6h-4.6zm0 0.5h4.6v4.6h-4.6zm0 2.5h4.6v4.6h-4.6zm0 1h4.6v4.6h-4.6zm0 0.5h4.6v4.6h-4.6zm0 1h4.6v4.6h-4.6zm0 3h4.6v4.6h-4.6zm0 1h4.6v4.6h-4.6zm0 0.5h4.6v4.6h-4.6zm0 0.5h4.6v4.6h-4.6zm0 0.5h4.6v4.6h-4.6zm0 1h4.6v4.6h-4.6zm0 2h4.6v4.6h-4.6zm0 2.5h4.6v4.6h-4.6zm0 0.5h4.6v4.6h-4.6zm0 2.5h4.6v4.6h-4.6zm0 0.5h4.6v4.6h-4.6zm0 0.5h4.6v4.6h-4.6zm0 1.5h4.6v4.6h-4.6zm0 1.5h4.6v4.6h-4.6zm0.5 -36.5h4.6v4.6h-4.6zm0 6.5h4.6v4.6h-4.6zm0 0.5h4.6v4.6h-4.6zm0 0.5h4.6v4.6h-4.6zm0 5.5h4.6v4.6h-4.6zm0 3h4.6v4.6h-4.6zm0 2h4.6v4.6h-4.6zm0 2.5h4.6v4.6h-4.6zm0 0.5h4.6v4.6h-4.6zm0 1h4.6v4.6h-4.6zm0 2h4.6v4.6h-4.6zm0 0.5h4.6v4.6h-4.6zm0 2.5h4.6v4.6h-4.6zm0 0.5h4.6v4.6h-4.6zm0 1h4.6v4.6h-4.6zm0 3.5h4.6v4.6h-4.6zm0 4h4.6v4.6h-4.6zm0 1h4.6v4.6h-4.6zm0 1h4.6v4.6h-4.6zm0 5.5h4.6v4.6h-4.6zm0.5 -43h4.6v4.6h-4.6zm0 1h4.6v4.6h-4.6zm0 1.5h4.6v4.6h-4.6zm0 2.5h4.6v4.6h-4.6zm0 0.5h4.6v4.6h-4.6zm0 2h4.6v4.6h-4.6zm0 4h4.6v4.6h-4.6zm0 6h4.6v4.6h-4.6zm0 1h4.6v4.6h-4.6zm0 0.5h4.6v4.6h-4.6zm0 0.5h4.6v4.6h-4.6zm0 0.5h4.6v4.6h-4.6zm0 0.5h4.6v4.6h-4.6zm0 0.5h4.6v4.6h-4.6zm0 4.5h4.6v4.6h-4.6zm0 2.5h4.6v4.6h-4.6zm0 0.5h4.6v4.6h-4.6zm0 0.5h4.6v4.6h-4.6zm0 3h4.6v4.6h-4.6zm0 8h4.6v4.6h-4.6zm0 1.5h4.6v4.6h-4.6zm0.5 -43h4.6v4.6h-4.6zm0 8h4.6v4.6h-4.6zm0 8h4.6v4.6h-4.6zm0 1h4.6v4.6h-4.6zm0 3h4.6v4.6h-4.6zm0 5.5h4.6v4.6h-4.6zm0 0.5h4.6v4.6h-4.6zm0 3.5h4.6v4.6h-4.6zm0 1h4.6v4.6h-4.6zm0 0.5h4.6v4.6h-4.6zm0 2.5h4.6v4.6h-4.6zm0 2h4.6v4.6h-4.6zm0 0.5h4.6v4.6h-4.6zm0 0.5h4.6v4.6h-4.6zm0 1.5h4.6v4.6h-4.6zm0 2.5h4.6v4.6h-4.6zm0 9.5h4.6v4.6h-4.6zm0.5 -48h4.6v4.6h-4.6zm0 1.5h4.6v4.6h-4.6zm0 1h4.6v4.6h-4.6zm0 3h4.6v4.6h-4.6zm0 2h4.6v4.6h-4.6zm0 0.5h4.6v4.6h-4.6zm0 1h4.6v4.6h-4.6zm0 3.5h4.6v4.6h-4.6zm0 0.5h4.6v4.6h-4.6zm0 3.5h4.6v4.6h-4.6zm0 0.5h4.6v4.6h-4.6zm0 1h4.6v4.6h-4.6zm0 3h4.6v4.6h-4.6zm0 1.5h4.6v4.6h-4.6zm0 0.5h4.6v4.6h-4.6zm0 1h4.6v4.6h-4.6zm0 3h4.6v4.6h-4.6zm0 1h4.6v4.6h-4.6zm0 0.5h4.6v4.6h-4.6zm0 1.5h4.6v4.6h-4.6zm0 6h4.6v4.6h-4.6zm0 1h4.6v4.6h-4.6zm0.5 -36h4.6v4.6h-4.6zm0 2.5h4.6v4.6h-4.6zm0 6h4.6v4.6h-4.6zm0 3h4.6v4.6h-4.6zm0 2.5h4.6v4.6h-4.6zm0 1.5h4.6v4.6h-4.6zm0 0.5h4.6v4.6h-4.6zm0 0.5h4.6v4.6h-4.6zm0 1h4.6v4.6h-4.6zm0 2.5h4.6v4.6h-4.6zm0 2h4.6v4.6h-4.6zm0 1.5h4.6v4.6h-4.6zm0 4h4.6v4.6h-4.6zm0 1.5h4.6v4.6h-4.6zm0 1.5h4.6v4.6h-4.6zm0 0.5h4.6v4.6h-4.6zm0 0.5h4.6v4.6h-4.6zm0 1h4.6v4.6h-4.6zm0 2h4.6v4.6h-4.6zm0 3h4.6v4.6h-4.6zm0.5 -33h4.6v4.6h-4.6zm0 0.5h4.6v4.6h-4.6zm0 1h4.6v4.6h-4.6zm0 0.5h4.6v4.6h-4.6zm0 1.5h4.6v4.6h-4.6zm0 1h4.6v4.6h-4.6zm0 1h4.6v4.6h-4.6zm0 0.5h4.6v4.6h-4.6zm0 1h4.6v4.6h-4.6zm0 1h4.6v4.6h-4.6zm0 1.5h4.6v4.6h-4.6zm0 1h4.6v4.6h-4.6zm0 3.5h4.6v4.6h-4.6zm0 3.5h4.6v4.6h-4.6zm0 0.5h4.6v4.6h-4.6zm0 2h4.6v4.6h-4.6zm0 3h4.6v4.6h-4.6zm0 1.5h4.6v4.6h-4.6zm0 5h4.6v4.6h-4.6zm0 1.5h4.6v4.6h-4.6zm0.5 -37.5h4.6v4.6h-4.6zm0 7.5h4.6v4.6h-4.6zm0 4.5h4.6v4.6h-4.6zm0 2.5h4.6v4.6h-4.6zm0 0.5h4.6v4.6h-4.6zm0 0.5h4.6v4.6h-4.6zm0 1.5h4.6v4.6h-4.6zm0 1.5h4.6v4.6h-4.6zm0 1.5h4.6v4.6h-4.6zm0 0.5h4.6v4.6h-4.6zm0 1.5h4.6v4.6h-4.6zm0 2.5h4.6v4.6h-4.6zm0 0.5h4.6v4.6h-4.6zm0 1.5h4.6v4.6h-4.6zm0 1h4.6v4.6h-4.6zm0 5h4.6v4.6h-4.6zm0 0.5h4.6v4.6h-4.6zm0 2.5h4.6v4.6h-4.6zm0.5 -39.5h4.6v4.6h-4.6zm0 3.5h4.6v4.6h-4.6zm0 0.5h4.6v4.6h-4.6zm0 3h4.6v4.6h-4.6zm0 0.5h4.6v4.6h-4.6zm0 0.5h4.6v4.6h-4.6zm0 0.5h4.6v4.6h-4.6zm0 1h4.6v4.6h-4.6zm0 1h4.6v4.6h-4.6zm0 3.5h4.6v4.6h-4.6zm0 0.5h4.6v4.6h-4.6zm0 2h4.6v4.6h-4.6zm0 1h4.6v4.6h-4.6zm0 0.5h4.6v4.6h-4.6zm0 1h4.6v4.6h-4.6zm0 3.5h4.6v4.6h-4.6zm0 0.5h4.6v4.6h-4.6zm0 1.5h4.6v4.6h-4.6zm0 0.5h4.6v4.6h-4.6zm0 0.5h4.6v4.6h-4.6zm0 0.5h4.6v4.6h-4.6zm0 6h4.6v4.6h-4.6zm0 3h4.6v4.6h-4.6zm0 1h4.6v4.6h-4.6zm0 13h4.6v4.6h-4.6zm0.5 -54.5h4.6v4.6h-4.6zm0 11h4.6v4.6h-4.6zm0 0.5h4.6v4.6h-4.6zm0 1h4.6v4.6h-4.6zm0 6.5h4.6v4.6h-4.6zm0 0.5h4.6v4.6h-4.6zm0 1.5h4.6v4.6h-4.6zm0 2h4.6v4.6h-4.6zm0 4.5h4.6v4.6h-4.6zm0 2h4.6v4.6h-4.6zm0 0.5h4.6v4.6h-4.6zm0 3h4.6v4.6h-4.6zm0 1h4.6v4.6h-4.6zm0 1h4.6v4.6h-4.6zm0 2h4.6v4.6h-4.6zm0 0.5h4.6v4.6h-4.6zm0 2.5h4.6v4.6h-4.6zm0 0.5h4.6v4.6h-4.6zm0 4.5h4.6v4.6h-4.6zm0.5 -43h4.6v4.6h-4.6zm0 6h4.6v4.6h-4.6zm0 0.5h4.6v4.6h-4.6zm0 4h4.6v4.6h-4.6zm0 2h4.6v4.6h-4.6zm0 3h4.6v4.6h-4.6zm0 1.5h4.6v4.6h-4.6zm0 1.5h4.6v4.6h-4.6zm0 0.5h4.6v4.6h-4.6zm0 4h4.6v4.6h-4.6zm0 0.5h4.6v4.6h-4.6zm0 1.5h4.6v4.6h-4.6zm0 0.5h4.6v4.6h-4.6zm0 1.5h4.6v4.6h-4.6zm0 1h4.6v4.6h-4.6zm0 2h4.6v4.6h-4.6zm0 1h4.6v4.6h-4.6zm0 0.5h4.6v4.6h-4.6zm0 8.5h4.6v4.6h-4.6zm0 9h4.6v4.6h-4.6zm0.5 -37h4.6v4.6h-4.6zm0 1.5h4.6v4.6h-4.6zm0 3h4.6v4.6h-4.6zm0 1h4.6v4.6h-4.6zm0 5h4.6v4.6h-4.6zm0 2.5h4.6v4.6h-4.6zm0 1.5h4.6v4.6h-4.6zm0 2h4.6v4.6h-4.6zm0 1.5h4.6v4.6h-4.6zm0 4h4.6v4.6h-4.6zm0 1h4.6v4.6h-4.6zm0 3.5h4.6v4.6h-4.6zm0 2h4.6v4.6h-4.6zm0.5 -36.5h4.6v4.6h-4.6zm0 3.5h4.6v4.6h-4.6zm0 2h4.6v4.6h-4.6zm0 1.5h4.6v4.6h-4.6zm0 1h4.6v4.6h-4.6zm0 1.5h4.6v4.6h-4.6zm0 1h4.6v4.6h-4.6zm0 1.5h4.6v4.6h-4.6zm0 0.5h4.6v4.6h-4.6zm0 0.5h4.6v4.6h-4.6zm0 0.5h4.6v4.6h-4.6zm0 1h4.6v4.6h-4.6zm0 1.5h4.6v4.6h-4.6zm0 1h4.6v4.6h-4.6zm0 1h4.6v4.6h-4.6zm0 1h4.6v4.6h-4.6zm0 1h4.6v4.6h-4.6zm0 0.5h4.6v4.6h-4.6zm0 1h4.6v4.6h-4.6zm0 0.5h4.6v4.6h-4.6zm0 0.5h4.6v4.6h-4.6zm0 0.5h4.6v4.6h-4.6zm0 2.5h4.6v4.6h-4.6zm0 0.5h4.6v4.6h-4.6zm0 1h4.6v4.6h-4.6zm0 3.5h4.6v4.6h-4.6zm0 6h4.6v4.6h-4.6zm0.5 -47.5h4.6v4.6h-4.6zm0 3.5h4.6v4.6h-4.6zm0 8.5h4.6v4.6h-4.6zm0 1h4.6v4.6h-4.6zm0 0.5h4.6v4.6h-4.6zm0 1.5h4.6v4.6h-4.6zm0 1h4.6v4.6h-4.6zm0 0.5h4.6v4.6h-4.6zm0 0.5h4.6v4.6h-4.6zm0 2.5h4.6v4.6h-4.6zm0 2h4.6v4.6h-4.6zm0 0.5h4.6v4.6h-4.6zm0 0.5h4.6v4.6h-4.6zm0 2h4.6v4.6h-4.6zm0 3.5h4.6v4.6h-4.6zm0 2.5h4.6v4.6h-4.6zm0 2h4.6v4.6h-4.6zm0 1h4.6v4.6h-4.6zm0 1h4.6v4.6h-4.6zm0 1.5h4.6v4.6h-4.6zm0 1.5h4.6v4.6h-4.6zm0 2h4.6v4.6h-4.6zm0 1h4.6v4.6h-4.6zm0 1h4.6v4.6h-4.6zm0 2.5h4.6v4.6h-4.6zm0 7.5h4.6v4.6h-4.6zm0.5 -45.5h4.6v4.6h-4.6zm0 1h4.6v4.6h-4.6zm0 3.5h4.6v4.6h-4.6zm0 5h4.6v4.6h-4.6zm0 0.5h4.6v4.6h-4.6zm0 0.5h4.6v4.6h-4.6zm0 1.5h4.6v4.6h-4.6zm0 0.5h4.6v4.6h-4.6zm0 0.5h4.6v4.6h-4.6zm0 0.5h4.6v4.6h-4.6zm0 3h4.6v4.6h-4.6zm0 1h4.6v4.6h-4.6zm0 0.5h4.6v4.6h-4.6zm0 3.5h4.6v4.6h-4.6zm0 0.5h4.6v4.6h-4.6zm0 4h4.6v4.6h-4.6zm0 1h4.6v4.6h-4.6zm0 2h4.6v4.6h-4.6zm0 0.5h4.6v4.6h-4.6zm0 0.5h4.6v4.6h-4.6zm0 3.5h4.6v4.6h-4.6zm0 3.5h4.6v4.6h-4.6zm0.5 -38.5h4.6v4.6h-4.6zm0 14h4.6v4.6h-4.6zm0 1h4.6v4.6h-4.6zm0 1h4.6v4.6h-4.6zm0 1h4.6v4.6h-4.6zm0 0.5h4.6v4.6h-4.6zm0 1.5h4.6v4.6h-4.6zm0 0.5h4.6v4.6h-4.6zm0 1h4.6v4.6h-4.6zm0 3h4.6v4.6h-4.6zm0 1h4.6v4.6h-4.6zm0 4.5h4.6v4.6h-4.6zm0 2h4.6v4.6h-4.6zm0 0.5h4.6v4.6h-4.6zm0 2h4.6v4.6h-4.6zm0 4.5h4.6v4.6h-4.6zm0 6h4.6v4.6h-4.6zm0.5 -48h4.6v4.6h-4.6zm0 10.5h4.6v4.6h-4.6zm0 3.5h4.6v4.6h-4.6zm0 5h4.6v4.6h-4.6zm0 1h4.6v4.6h-4.6zm0 0.5h4.6v4.6h-4.6zm0 5h4.6v4.6h-4.6zm0 1h4.6v4.6h-4.6zm0 0.5h4.6v4.6h-4.6zm0 1.5h4.6v4.6h-4.6zm0 1.5h4.6v4.6h-4.6zm0 1.5h4.6v4.6h-4.6zm0 1.5h4.6v4.6h-4.6zm0 1h4.6v4.6h-4.6zm0 0.5h4.6v4.6h-4.6zm0 1.5h4.6v4.6h-4.6zm0 1.5h4.6v4.6h-4.6zm0 6.5h4.6v4.6h-4.6zm0.5 -42h4.6v4.6h-4.6zm0 1.5h4.6v4.6h-4.6zm0 5.5h4.6v4.6h-4.6zm0 5h4.6v4.6h-4.6zm0 0.5h4.6v4.6h-4.6zm0 1h4.6v4.6h-4.6zm0 2h4.6v4.6h-4.6zm0 6h4.6v4.6h-4.6zm0 0.5h4.6v4.6h-4.6zm0 0.5h4.6v4.6h-4.6zm0 0.5h4.6v4.6h-4.6zm0 0.5h4.6v4.6h-4.6zm0 1.5h4.6v4.6h-4.6zm0 0.5h4.6v4.6h-4.6zm0 0.5h4.6v4.6h-4.6zm0 0.5h4.6v4.6h-4.6zm0 1.5h4.6v4.6h-4.6zm0 0.5h4.6v4.6h-4.6zm0 3.5h4.6v4.6h-4.6zm0 2h4.6v4.6h-4.6zm0 1h4.6v4.6h-4.6zm0 2h4.6v4.6h-4.6zm0 3.5h4.6v4.6h-4.6zm0 0.5h4.6v4.6h-4.6zm0 35h4.6v4.6h-4.6zm0.5 -69h4.6v4.6h-4.6zm0 2.5h4.6v4.6h-4.6zm0 5.5h4.6v4.6h-4.6zm0 1h4.6v4.6h-4.6zm0 4.5h4.6v4.6h-4.6zm0 0.5h4.6v4.6h-4.6zm0 0.5h4.6v4.6h-4.6zm0 1.5h4.6v4.6h-4.6zm0 2.5h4.6v4.6h-4.6zm0 0.5h4.6v4.6h-4.6zm0 2.5h4.6v4.6h-4.6zm0 0.5h4.6v4.6h-4.6zm0 4h4.6v4.6h-4.6zm0 4h4.6v4.6h-4.6zm0 5h4.6v4.6h-4.6zm0 1h4.6v4.6h-4.6zm0.5 -40h4.6v4.6h-4.6zm0 1.5h4.6v4.6h-4.6zm0 3h4.6v4.6h-4.6zm0 2h4.6v4.6h-4.6zm0 1h4.6v4.6h-4.6zm0 1h4.6v4.6h-4.6zm0 0.5h4.6v4.6h-4.6zm0 2.5h4.6v4.6h-4.6zm0 3.5h4.6v4.6h-4.6zm0 0.5h4.6v4.6h-4.6zm0 1h4.6v4.6h-4.6zm0 1h4.6v4.6h-4.6zm0 1.5h4.6v4.6h-4.6zm0 1.5h4.6v4.6h-4.6zm0 1h4.6v4.6h-4.6zm0 0.5h4.6v4.6h-4.6zm0 0.5h4.6v4.6h-4.6zm0 1.5h4.6v4.6h-4.6zm0 0.5h4.6v4.6h-4.6zm0 3.5h4.6v4.6h-4.6zm0 7.5h4.6v4.6h-4.6zm0 0.5h4.6v4.6h-4.6zm0 4h4.6v4.6h-4.6zm0 1.5h4.6v4.6h-4.6zm0.5 -54h4.6v4.6h-4.6zm0 8.5h4.6v4.6h-4.6zm0 4.5h4.6v4.6h-4.6zm0 1h4.6v4.6h-4.6zm0 4.5h4.6v4.6h-4.6zm0 2.5h4.6v4.6h-4.6zm0 3h4.6v4.6h-4.6zm0 0.5h4.6v4.6h-4.6zm0 2h4.6v4.6h-4.6zm0 1h4.6v4.6h-4.6zm0 0.5h4.6v4.6h-4.6zm0 2h4.6v4.6h-4.6zm0 0.5h4.6v4.6h-4.6zm0 0.5h4.6v4.6h-4.6zm0 1h4.6v4.6h-4.6zm0 1.5h4.6v4.6h-4.6zm0 2h4.6v4.6h-4.6zm0 0.5h4.6v4.6h-4.6zm0 0.5h4.6v4.6h-4.6zm0 1h4.6v4.6h-4.6zm0 2h4.6v4.6h-4.6zm0 0.5h4.6v4.6h-4.6zm0 1h4.6v4.6h-4.6zm0 3.5h4.6v4.6h-4.6zm0 4.5h4.6v4.6h-4.6zm0 0.5h4.6v4.6h-4.6zm0 0.5h4.6v4.6h-4.6zm0 0.5h4.6v4.6h-4.6zm0.5 -44h4.6v4.6h-4.6zm0 14h4.6v4.6h-4.6zm0 0.5h4.6v4.6h-4.6zm0 1.5h4.6v4.6h-4.6zm0 1h4.6v4.6h-4.6zm0 0.5h4.6v4.6h-4.6zm0 0.5h4.6v4.6h-4.6zm0 7.5h4.6v4.6h-4.6zm0 0.5h4.6v4.6h-4.6zm0 1h4.6v4.6h-4.6zm0 1.5h4.6v4.6h-4.6zm0 1.5h4.6v4.6h-4.6zm0 1.5h4.6v4.6h-4.6zm0 0.5h4.6v4.6h-4.6zm0 0.5h4.6v4.6h-4.6zm0 0.5h4.6v4.6h-4.6zm0 2.5h4.6v4.6h-4.6zm0 6h4.6v4.6h-4.6zm0.5 -28.5h4.6v4.6h-4.6zm0 1h4.6v4.6h-4.6zm0 4h4.6v4.6h-4.6zm0 0.5h4.6v4.6h-4.6zm0 1h4.6v4.6h-4.6zm0 1h4.6v4.6h-4.6zm0 2.5h4.6v4.6h-4.6zm0 2h4.6v4.6h-4.6zm0 4h4.6v4.6h-4.6zm0 1.5h4.6v4.6h-4.6zm0 0.5h4.6v4.6h-4.6zm0 14h4.6v4.6h-4.6zm0.5 -41h4.6v4.6h-4.6zm0 1h4.6v4.6h-4.6zm0 4.5h4.6v4.6h-4.6zm0 5.5h4.6v4.6h-4.6zm0 1h4.6v4.6h-4.6zm0 1h4.6v4.6h-4.6zm0 4h4.6v4.6h-4.6zm0 0.5h4.6v4.6h-4.6zm0 3h4.6v4.6h-4.6zm0 0.5h4.6v4.6h-4.6zm0 1h4.6v4.6h-4.6zm0 0.5h4.6v4.6h-4.6zm0 3.5h4.6v4.6h-4.6zm0 2h4.6v4.6h-4.6zm0 2.5h4.6v4.6h-4.6zm0 3h4.6v4.6h-4.6zm0 0.5h4.6v4.6h-4.6zm0 2h4.6v4.6h-4.6zm0 1h4.6v4.6h-4.6zm0 3h4.6v4.6h-4.6zm0.5 -34.5h4.6v4.6h-4.6zm0 2.5h4.6v4.6h-4.6zm0 2.5h4.6v4.6h-4.6zm0 4h4.6v4.6h-4.6zm0 0.5h4.6v4.6h-4.6zm0 1h4.6v4.6h-4.6zm0 2h4.6v4.6h-4.6zm0 1.5h4.6v4.6h-4.6zm0 1h4.6v4.6h-4.6zm0 5h4.6v4.6h-4.6zm0 6h4.6v4.6h-4.6zm0 1.5h4.6v4.6h-4.6zm0 1h4.6v4.6h-4.6zm0 3.5h4.6v4.6h-4.6zm0.5 -40.5h4.6v4.6h-4.6zm0 6h4.6v4.6h-4.6zm0 1h4.6v4.6h-4.6zm0 1.5h4.6v4.6h-4.6zm0 0.5h4.6v4.6h-4.6zm0 1h4.6v4.6h-4.6zm0 2.5h4.6v4.6h-4.6zm0 1h4.6v4.6h-4.6zm0 1h4.6v4.6h-4.6zm0 2h4.6v4.6h-4.6zm0 8h4.6v4.6h-4.6zm0 14h4.6v4.6h-4.6zm0 25.5h4.6v4.6h-4.6zm0.5 -77h4.6v4.6h-4.6zm0 17h4.6v4.6h-4.6zm0 2h4.6v4.6h-4.6zm0 0.5h4.6v4.6h-4.6zm0 3h4.6v4.6h-4.6zm0 0.5h4.6v4.6h-4.6zm0 2h4.6v4.6h-4.6zm0 1h4.6v4.6h-4.6zm0 0.5h4.6v4.6h-4.6zm0 0.5h4.6v4.6h-4.6zm0 5h4.6v4.6h-4.6zm0 1.5h4.6v4.6h-4.6zm0 1h4.6v4.6h-4.6zm0 1h4.6v4.6h-4.6zm0 1h4.6v4.6h-4.6zm0 1h4.6v4.6h-4.6zm0 2.5h4.6v4.6h-4.6zm0 1.5h4.6v4.6h-4.6zm0 2h4.6v4.6h-4.6zm0.5 -29h4.6v4.6h-4.6zm0 2h4.6v4.6h-4.6zm0 1h4.6v4.6h-4.6zm0 1h4.6v4.6h-4.6zm0 2.5h4.6v4.6h-4.6zm0 1.5h4.6v4.6h-4.6zm0 2h4.6v4.6h-4.6zm0 12.5h4.6v4.6h-4.6zm0 2.5h4.6v4.6h-4.6zm0 0.5h4.6v4.6h-4.6zm0 1.5h4.6v4.6h-4.6zm0 1.5h4.6v4.6h-4.6zm0 2h4.6v4.6h-4.6zm0 2h4.6v4.6h-4.6zm0 0.5h4.6v4.6h-4.6zm0.5 -34h4.6v4.6h-4.6zm0 2h4.6v4.6h-4.6zm0 2.5h4.6v4.6h-4.6zm0 3.5h4.6v4.6h-4.6zm0 1.5h4.6v4.6h-4.6zm0 2.5h4.6v4.6h-4.6zm0 0.5h4.6v4.6h-4.6zm0 0.5h4.6v4.6h-4.6zm0 3h4.6v4.6h-4.6zm0 1.5h4.6v4.6h-4.6zm0 0.5h4.6v4.6h-4.6zm0 1.5h4.6v4.6h-4.6zm0 2h4.6v4.6h-4.6zm0 2.5h4.6v4.6h-4.6zm0 3h4.6v4.6h-4.6zm0 2.5h4.6v4.6h-4.6zm0 3h4.6v4.6h-4.6zm0 0.5h4.6v4.6h-4.6zm0.5 -45.5h4.6v4.6h-4.6zm0 3h4.6v4.6h-4.6zm0 9.5h4.6v4.6h-4.6zm0 10.5h4.6v4.6h-4.6zm0 0.5h4.6v4.6h-4.6zm0 2.5h4.6v4.6h-4.6zm0 1h4.6v4.6h-4.6zm0 1.5h4.6v4.6h-4.6zm0 1h4.6v4.6h-4.6zm0 2.5h4.6v4.6h-4.6zm0 2h4.6v4.6h-4.6zm0 5h4.6v4.6h-4.6zm0 2.5h4.6v4.6h-4.6zm0 2.5h4.6v4.6h-4.6zm0.5 -44.5h4.6v4.6h-4.6zm0 11.5h4.6v4.6h-4.6zm0 4.5h4.6v4.6h-4.6zm0 3h4.6v4.6h-4.6zm0 3.5h4.6v4.6h-4.6zm0 0.5h4.6v4.6h-4.6zm0 2h4.6v4.6h-4.6zm0 2h4.6v4.6h-4.6zm0 2.5h4.6v4.6h-4.6zm0 1h4.6v4.6h-4.6zm0 8h4.6v4.6h-4.6zm0 2h4.6v4.6h-4.6zm0 3.5h4.6v4.6h-4.6zm0.5 -30.5h4.6v4.6h-4.6zm0 4.5h4.6v4.6h-4.6zm0 1.5h4.6v4.6h-4.6zm0 7.5h4.6v4.6h-4.6zm0 4h4.6v4.6h-4.6zm0 5h4.6v4.6h-4.6zm0 5h4.6v4.6h-4.6zm0.5 -29.5h4.6v4.6h-4.6zm0 0.5h4.6v4.6h-4.6zm0 2h4.6v4.6h-4.6zm0 1.5h4.6v4.6h-4.6zm0 0.5h4.6v4.6h-4.6zm0 4.5h4.6v4.6h-4.6zm0 0.5h4.6v4.6h-4.6zm0 6h4.6v4.6h-4.6zm0.5 -15h4.6v4.6h-4.6zm0 2h4.6v4.6h-4.6zm0 2h4.6v4.6h-4.6zm0 3.5h4.6v4.6h-4.6zm0 2.5h4.6v4.6h-4.6zm0 4h4.6v4.6h-4.6zm0 3.5h4.6v4.6h-4.6zm0 1.5h4.6v4.6h-4.6zm0 1h4.6v4.6h-4.6zm0 1.5h4.6v4.6h-4.6zm0 0.5h4.6v4.6h-4.6zm0 0.5h4.6v4.6h-4.6zm0 0.5h4.6v4.6h-4.6zm0 2.5h4.6v4.6h-4.6zm0 1h4.6v4.6h-4.6zm0 0.5h4.6v4.6h-4.6zm0.5 -23h4.6v4.6h-4.6zm0 2h4.6v4.6h-4.6zm0 5.5h4.6v4.6h-4.6zm0 4h4.6v4.6h-4.6zm0 1h4.6v4.6h-4.6zm0 6.5h4.6v4.6h-4.6zm0 1h4.6v4.6h-4.6zm0 8h4.6v4.6h-4.6zm0 0.5h4.6v4.6h-4.6zm0.5 -33.5h4.6v4.6h-4.6zm0 7h4.6v4.6h-4.6zm0 2.5h4.6v4.6h-4.6zm0 1h4.6v4.6h-4.6zm0 1.5h4.6v4.6h-4.6zm0 1.5h4.6v4.6h-4.6zm0 0.5h4.6v4.6h-4.6zm0 0.5h4.6v4.6h-4.6zm0 6.5h4.6v4.6h-4.6zm0 5h4.6v4.6h-4.6zm0.5 -22.5h4.6v4.6h-4.6zm0 1h4.6v4.6h-4.6zm0 7.5h4.6v4.6h-4.6zm0 5h4.6v4.6h-4.6zm0 1.5h4.6v4.6h-4.6zm0 6.5h4.6v4.6h-4.6zm0 0.5h4.6v4.6h-4.6zm0 0.5h4.6v4.6h-4.6zm0 4.5h4.6v4.6h-4.6zm0.5 -39.5h4.6v4.6h-4.6zm0 18h4.6v4.6h-4.6zm0 3h4.6v4.6h-4.6zm0 5h4.6v4.6h-4.6zm0 0.5h4.6v4.6h-4.6zm0 6h4.6v4.6h-4.6zm0 1.5h4.6v4.6h-4.6zm0 1.5h4.6v4.6h-4.6zm0.5 -25.5h4.6v4.6h-4.6zm0 10h4.6v4.6h-4.6zm0 1h4.6v4.6h-4.6zm0 3h4.6v4.6h-4.6zm0 1.5h4.6v4.6h-4.6zm0 10h4.6v4.6h-4.6zm0.5 -38h4.6v4.6h-4.6zm0 7.5h4.6v4.6h-4.6zm0 8.5h4.6v4.6h-4.6zm0 0.5h4.6v4.6h-4.6zm0 2h4.6v4.6h-4.6zm0 4h4.6v4.6h-4.6zm0 2h4.6v4.6h-4.6zm0 1.5h4.6v4.6h-4.6zm0 0.5h4.6v4.6h-4.6zm0 2.5h4.6v4.6h-4.6zm0 1.5h4.6v4.6h-4.6zm0.5 -22.5h4.6v4.6h-4.6zm0 6h4.6v4.6h-4.6zm0 19h4.6v4.6h-4.6zm0 2h4.6v4.6h-4.6zm0 1.5h4.6v4.6h-4.6zm0.5 -21.5h4.6v4.6h-4.6zm0 0.5h4.6v4.6h-4.6zm0 9.5h4.6v4.6h-4.6zm0 2.5h4.6v4.6h-4.6zm0 2.5h4.6v4.6h-4.6zm0 2.5h4.6v4.6h-4.6zm0 5h4.6v4.6h-4.6zm0.5 -16.5h4.6v4.6h-4.6zm0 7h4.6v4.6h-4.6zm0.5 -22.5h4.6v4.6h-4.6zm0 1.5h4.6v4.6h-4.6zm0 4h4.6v4.6h-4.6zm0 8.5h4.6v4.6h-4.6zm0 2.5h4.6v4.6h-4.6zm0.5 -15.5h4.6v4.6h-4.6zm0 23h4.6v4.6h-4.6zm0 0.5h4.6v4.6h-4.6zm0 1.5h4.6v4.6h-4.6zm0.5 -24h4.6v4.6h-4.6zm0 5.5h4.6v4.6h-4.6zm0 9h4.6v4.6h-4.6zm0 5.5h4.6v4.6h-4.6zm0 5.5h4.6v4.6h-4.6zm0.5 -6.5h4.6v4.6h-4.6zm0 4.5h4.6v4.6h-4.6zm0.5 -36h4.6v4.6h-4.6zm0 0.5h4.6v4.6h-4.6zm0 9h4.6v4.6h-4.6zm0 10.5h4.6v4.6h-4.6zm0 10h4.6v4.6h-4.6zm0.5 -12.5h4.6v4.6h-4.6zm0 2h4.6v4.6h-4.6zm0 3h4.6v4.6h-4.6zm0 10h4.6v4.6h-4.6zm0.5 -29.5h4.6v4.6h-4.6zm0 15.5h4.6v4.6h-4.6zm0 8.5h4.6v4.6h-4.6zm0 1h4.6v4.6h-4.6zm0.5 -25h4.6v4.6h-4.6zm0 10h4.6v4.6h-4.6zm0 2h4.6v4.6h-4.6zm0 0.5h4.6v4.6h-4.6zm0 11h4.6v4.6h-4.6zm0.5 -16.5h4.6v4.6h-4.6zm0 4h4.6v4.6h-4.6zm0 2.5h4.6v4.6h-4.6zm0.5 -17.5h4.6v4.6h-4.6zm0 22h4.6v4.6h-4.6zm0.5 -7.5h4.6v4.6h-4.6zm0 5.5h4.6v4.6h-4.6zm0 5.5h4.6v4.6h-4.6zm2 -10.5h4.6v4.6h-4.6zm0.5 5h4.6v4.6h-4.6zm2 -4h4.6v4.6h-4.6zm1.5 5h4.6v4.6h-4.6zm1 -13h4.6v4.6h-4.6zm1 25h4.6v4.6h-4.6zm2 -7h4.6v4.6h-4.6z"/></g>
<rect x="171.0" y="195.0" width="37.0" height="38.0" fill="#ffff2e"/>
<rect x="208.0" y="199.0" width="22.0" height="30.0" fill="#ffff2e"/>
<text x="172.5" y="222.3" font-family='"Liberation Sans", Arial, sans-serif' font-weight="bold" font-size="27.5" fill="#000" textLength="56.5" lengthAdjust="spacingAndGlyphs">3.7%</text>
<polygon points="417.3,274.5 461.4,346.4 415.4,383.6 346.8,420 337.4,386.6 372.2,316" fill="none" stroke="#0000ff" stroke-width="2.1" shape-rendering="auto"/>
<rect x="708.0" y="56.0" width="6.0" height="365.0" fill="#000"/>
<rect x="708.0" y="415.0" width="359.0" height="6.0" fill="#000"/>
<rect x="708.0" y="56.0" width="359.0" height="4.0" fill="#000"/>
<rect x="1063.0" y="56.0" width="4.0" height="365.0" fill="#000"/>
<rect x="741.0" y="418.0" width="4.0" height="19.0" fill="#000"/>
<rect x="761.0" y="418.0" width="8.0" height="19.0" fill="#000"/>
<rect x="785.0" y="418.0" width="4.0" height="19.0" fill="#000"/>
<rect x="866.5" y="418.0" width="4.0" height="19.0" fill="#000"/>
<rect x="951.0" y="418.0" width="4.0" height="19.0" fill="#000"/>
<rect x="1030.0" y="418.0" width="4.0" height="19.0" fill="#000"/>
<rect x="741.0" y="418.0" width="48.0" height="10.0" fill="#000"/>
<rect x="725.3" y="418.0" width="3.4" height="10.5" fill="#000"/>
<rect x="801.3" y="418.0" width="3.4" height="10.5" fill="#000"/>
<rect x="817.7" y="418.0" width="3.4" height="10.5" fill="#000"/>
<rect x="828.0" y="418.0" width="3.4" height="10.5" fill="#000"/>
<rect x="835.9" y="418.0" width="3.4" height="10.5" fill="#000"/>
<rect x="844.3" y="418.0" width="3.4" height="10.5" fill="#000"/>
<rect x="849.9" y="418.0" width="3.4" height="10.5" fill="#000"/>
<rect x="855.3" y="418.0" width="3.4" height="10.5" fill="#000"/>
<rect x="861.3" y="418.0" width="3.4" height="10.5" fill="#000"/>
<rect x="892.2" y="418.0" width="3.4" height="10.5" fill="#000"/>
<rect x="975.1" y="418.0" width="3.4" height="10.5" fill="#000"/>
<rect x="907.1" y="418.0" width="3.4" height="10.5" fill="#000"/>
<rect x="989.0" y="418.0" width="3.4" height="10.5" fill="#000"/>
<rect x="917.7" y="418.0" width="3.4" height="10.5" fill="#000"/>
<rect x="998.9" y="418.0" width="3.4" height="10.5" fill="#000"/>
<rect x="925.9" y="418.0" width="3.4" height="10.5" fill="#000"/>
<rect x="1006.5" y="418.0" width="3.4" height="10.5" fill="#000"/>
<rect x="932.6" y="418.0" width="3.4" height="10.5" fill="#000"/>
<rect x="1012.8" y="418.0" width="3.4" height="10.5" fill="#000"/>
<rect x="938.2" y="418.0" width="3.4" height="10.5" fill="#000"/>
<rect x="1018.1" y="418.0" width="3.4" height="10.5" fill="#000"/>
<rect x="943.1" y="418.0" width="3.4" height="10.5" fill="#000"/>
<rect x="1022.6" y="418.0" width="3.4" height="10.5" fill="#000"/>
<rect x="947.4" y="418.0" width="3.4" height="10.5" fill="#000"/>
<rect x="1026.7" y="418.0" width="3.4" height="10.5" fill="#000"/>
<rect x="1054.1" y="418.0" width="3.4" height="10.5" fill="#000"/>
<rect x="692.0" y="382.0" width="19.0" height="4.0" fill="#000"/>
<rect x="692.0" y="359.0" width="19.0" height="8.0" fill="#000"/>
<rect x="692.0" y="340.4" width="19.0" height="4.0" fill="#000"/>
<rect x="692.0" y="257.0" width="19.0" height="4.0" fill="#000"/>
<rect x="692.0" y="172.0" width="19.0" height="4.0" fill="#000"/>
<rect x="692.0" y="90.3" width="19.0" height="4.0" fill="#000"/>
<rect x="701.0" y="359.0" width="10.0" height="27.0" fill="#000"/>
<rect x="700.5" y="402.3" width="10.5" height="3.4" fill="#000"/>
<rect x="700.5" y="321.5" width="10.5" height="3.4" fill="#000"/>
<rect x="700.5" y="306.8" width="10.5" height="3.4" fill="#000"/>
<rect x="700.5" y="294.4" width="10.5" height="3.4" fill="#000"/>
<rect x="700.5" y="282.9" width="10.5" height="3.4" fill="#000"/>
<rect x="700.5" y="275.2" width="10.5" height="3.4" fill="#000"/>
<rect x="700.5" y="269.5" width="10.5" height="3.4" fill="#000"/>
<rect x="700.5" y="263.8" width="10.5" height="3.4" fill="#000"/>
<rect x="700.5" y="260.3" width="10.5" height="3.4" fill="#000"/>
<rect x="700.5" y="231.7" width="10.5" height="3.4" fill="#000"/>
<rect x="700.5" y="147.7" width="10.5" height="3.4" fill="#000"/>
<rect x="700.5" y="216.7" width="10.5" height="3.4" fill="#000"/>
<rect x="700.5" y="133.3" width="10.5" height="3.4" fill="#000"/>
<rect x="700.5" y="206.1" width="10.5" height="3.4" fill="#000"/>
<rect x="700.5" y="123.1" width="10.5" height="3.4" fill="#000"/>
<rect x="700.5" y="197.9" width="10.5" height="3.4" fill="#000"/>
<rect x="700.5" y="115.2" width="10.5" height="3.4" fill="#000"/>
<rect x="700.5" y="191.2" width="10.5" height="3.4" fill="#000"/>
<rect x="700.5" y="108.7" width="10.5" height="3.4" fill="#000"/>
<rect x="700.5" y="185.5" width="10.5" height="3.4" fill="#000"/>
<rect x="700.5" y="103.3" width="10.5" height="3.4" fill="#000"/>
<rect x="700.5" y="180.5" width="10.5" height="3.4" fill="#000"/>
<rect x="700.5" y="98.5" width="10.5" height="3.4" fill="#000"/>
<rect x="700.5" y="176.2" width="10.5" height="3.4" fill="#000"/>
<rect x="700.5" y="94.3" width="10.5" height="3.4" fill="#000"/>
<rect x="700.5" y="66.0" width="10.5" height="3.4" fill="#000"/>
<text x="744.0" y="477.3" font-family='"Liberation Sans", Arial, sans-serif' font-size="25.5" text-anchor="middle" fill="#111">-10<tspan dy="-15.3" font-size="20">2</tspan></text>
<text x="869.0" y="477.3" font-family='"Liberation Sans", Arial, sans-serif' font-size="25.5" text-anchor="middle" fill="#111">10<tspan dy="-15.3" font-size="20">3</tspan></text>
<text x="953.5" y="477.3" font-family='"Liberation Sans", Arial, sans-serif' font-size="25.5" text-anchor="middle" fill="#111">10<tspan dy="-15.3" font-size="20">4</tspan></text>
<text x="1032.5" y="477.3" font-family='"Liberation Sans", Arial, sans-serif' font-size="25.5" text-anchor="middle" fill="#111">10<tspan dy="-15.3" font-size="20">5</tspan></text>
<text x="689.6" y="395.2" font-family='"Liberation Sans", Arial, sans-serif' font-size="25.5" text-anchor="end" fill="#111">-10<tspan dy="-16.6" font-size="20">2</tspan></text>
<text x="687.6" y="270.2" font-family='"Liberation Sans", Arial, sans-serif' font-size="25.5" text-anchor="end" fill="#111">10<tspan dy="-16.6" font-size="20">3</tspan></text>
<text x="687.6" y="185.2" font-family='"Liberation Sans", Arial, sans-serif' font-size="25.5" text-anchor="end" fill="#111">10<tspan dy="-16.6" font-size="20">4</tspan></text>
<text x="687.6" y="103.5" font-family='"Liberation Sans", Arial, sans-serif' font-size="25.5" text-anchor="end" fill="#111">10<tspan dy="-16.6" font-size="20">5</tspan></text>
<text transform="translate(889.9,516.5) scale(0.985,1)" font-family='"Liberation Sans", Arial, sans-serif' font-size="33.5" text-anchor="middle" fill="#111">CD7 APC-A</text>
<text transform="translate(608.5,237.9) rotate(-90) scale(1.033,1)" font-family='"Liberation Sans", Arial, sans-serif' font-size="33.5" text-anchor="middle" fill="#111">CD3 PE-Cy7-A</text>
<text transform="translate(582.6,32) scale(0.9,1)" font-family='"Liberation Sans", Arial, sans-serif' font-size="44" fill="#000" stroke="#000" stroke-width="0.7">B</text>
<clipPath id="cB"><rect x="714" y="60" width="349" height="355"/></clipPath>
<g clip-path="url(#cB)"><path fill="#808080" filter="url(#bl)" shape-rendering="auto" d="m763.5 350h4.6v4.6h-4.6zm1 19.5h4.6v4.6h-4.6zm6.5 -14.5h4.6v4.6h-4.6zm2.5 -15h4.6v4.6h-4.6zm0 19.5h4.6v4.6h-4.6zm1 -36h4.6v4.6h-4.6zm1 34h4.6v4.6h-4.6zm0 11h4.6v4.6h-4.6zm2 -4.5h4.6v4.6h-4.6zm2.5 -3.5h4.6v4.6h-4.6zm1 -5.5h4.6v4.6h-4.6zm1 -24h4.6v4.6h-4.6zm2.5 26.5h4.6v4.6h-4.6zm3 19.5h4.6v4.6h-4.6zm3.5 -23h4.6v4.6h-4.6zm3 -27h4.6v4.6h-4.6zm6.5 13h4.6v4.6h-4.6zm16.5 14h4.6v4.6h-4.6zm6.5 8h4.6v4.6h-4.6zm34 3h4.6v4.6h-4.6zm6.5 16h4.6v4.6h-4.6zm48.5 -26h4.6v4.6h-4.6zm17.5 15.5h4.6v4.6h-4.6zm15 -6.5h4.6v4.6h-4.6zm10 6.5h4.6v4.6h-4.6zm1 -50.5h4.6v4.6h-4.6zm1 83.5h4.6v4.6h-4.6zm2.5 -48.5h4.6v4.6h-4.6zm6.5 7h4.6v4.6h-4.6zm6.5 -36.5h4.6v4.6h-4.6zm26.5 8h4.6v4.6h-4.6zm4 32.5h4.6v4.6h-4.6zm4.5 -26h4.6v4.6h-4.6zm2 4.5h4.6v4.6h-4.6zm2.5 4h4.6v4.6h-4.6zm6.5 -29.5h4.6v4.6h-4.6zm5.5 45h4.6v4.6h-4.6zm1 -12h4.6v4.6h-4.6zm2 -16.5h4.6v4.6h-4.6zm4.5 9h4.6v4.6h-4.6zm8 5.5h4.6v4.6h-4.6zm17.5 1h4.6v4.6h-4.6z"/></g>
<g clip-path="url(#cB)"><path fill="#0000ff" filter="url(#bl)" shape-rendering="auto" d="m751.5 159.5h4.6v4.6h-4.6zm5 -37h4.6v4.6h-4.6zm1 26.5h4.6v4.6h-4.6zm0 17.5h4.6v4.6h-4.6zm0 4.5h4.6v4.6h-4.6zm5 -13h4.6v4.6h-4.6zm6.5 3h4.6v4.6h-4.6zm1 -16h4.6v4.6h-4.6zm0 42h4.6v4.6h-4.6zm3.5 -46.5h4.6v4.6h-4.6zm2 16.5h4.6v4.6h-4.6zm2 -24h4.6v4.6h-4.6zm0 18.5h4.6v4.6h-4.6zm0 15h4.6v4.6h-4.6zm0 6.5h4.6v4.6h-4.6zm8 -18h4.6v4.6h-4.6zm0.5 8.5h4.6v4.6h-4.6zm5 -7h4.6v4.6h-4.6zm3 10h4.6v4.6h-4.6zm1 4.5h4.6v4.6h-4.6zm12.5 -15h4.6v4.6h-4.6zm12.5 17h4.6v4.6h-4.6zm3.5 -10h4.6v4.6h-4.6zm30.5 -2.5h4.6v4.6h-4.6zm4.5 4h4.6v4.6h-4.6zm2 0h4.6v4.6h-4.6zm1.5 17h4.6v4.6h-4.6zm4.5 0h4.6v4.6h-4.6zm3.5 -30.5h4.6v4.6h-4.6zm2 15h4.6v4.6h-4.6zm0.5 -10h4.6v4.6h-4.6zm0.5 0h4.6v4.6h-4.6zm1 10h4.6v4.6h-4.6zm1 -9h4.6v4.6h-4.6zm0.5 9.5h4.6v4.6h-4.6zm2 -6.5h4.6v4.6h-4.6zm1 -6.5h4.6v4.6h-4.6zm1.5 -1.5h4.6v4.6h-4.6zm3 -8.5h4.6v4.6h-4.6zm1 35h4.6v4.6h-4.6zm1.5 -19h4.6v4.6h-4.6zm1.5 -11h4.6v4.6h-4.6zm0.5 18h4.6v4.6h-4.6zm0.5 8.5h4.6v4.6h-4.6zm0.5 -20h4.6v4.6h-4.6zm0.5 5h4.6v4.6h-4.6zm0 13h4.6v4.6h-4.6zm4.5 -13h4.6v4.6h-4.6zm1 -2.5h4.6v4.6h-4.6zm0 4h4.6v4.6h-4.6zm0.5 7h4.6v4.6h-4.6zm0.5 -10.5h4.6v4.6h-4.6zm1 -6.5h4.6v4.6h-4.6zm0 13h4.6v4.6h-4.6zm1.5 -5.5h4.6v4.6h-4.6zm0.5 14h4.6v4.6h-4.6zm0.5 -24h4.6v4.6h-4.6zm0.5 18.5h4.6v4.6h-4.6zm1 20h4.6v4.6h-4.6zm1 -26h4.6v4.6h-4.6zm0 1.5h4.6v4.6h-4.6zm4 -10h4.6v4.6h-4.6zm0.5 2h4.6v4.6h-4.6zm0 18h4.6v4.6h-4.6zm0.5 -5h4.6v4.6h-4.6zm0.5 -18h4.6v4.6h-4.6zm0.5 22.5h4.6v4.6h-4.6zm1 -9.5h4.6v4.6h-4.6zm0.5 -6h4.6v4.6h-4.6zm0 6.5h4.6v4.6h-4.6zm1 5h4.6v4.6h-4.6zm0 12.5h4.6v4.6h-4.6zm0.5 -22h4.6v4.6h-4.6zm0.5 5.5h4.6v4.6h-4.6zm0.5 -2.5h4.6v4.6h-4.6zm1.5 -6h4.6v4.6h-4.6zm0 5.5h4.6v4.6h-4.6zm0 8.5h4.6v4.6h-4.6zm1.5 -6h4.6v4.6h-4.6zm0.5 -0.5h4.6v4.6h-4.6zm1.5 -2.5h4.6v4.6h-4.6zm0 1.5h4.6v4.6h-4.6zm0.5 -8.5h4.6v4.6h-4.6zm0 3.5h4.6v4.6h-4.6zm0 14h4.6v4.6h-4.6zm0 2h4.6v4.6h-4.6zm0.5 -9.5h4.6v4.6h-4.6zm0.5 -11h4.6v4.6h-4.6zm0 10h4.6v4.6h-4.6zm0 9.5h4.6v4.6h-4.6zm1.5 -17.5h4.6v4.6h-4.6zm0 6.5h4.6v4.6h-4.6zm0 1h4.6v4.6h-4.6zm0.5 8h4.6v4.6h-4.6zm0.5 4.5h4.6v4.6h-4.6zm0.5 -19.5h4.6v4.6h-4.6zm0 14.5h4.6v4.6h-4.6zm0 17.5h4.6v4.6h-4.6zm0.5 -24.5h4.6v4.6h-4.6zm0.5 -3h4.6v4.6h-4.6zm0 5.5h4.6v4.6h-4.6zm0 6h4.6v4.6h-4.6zm0.5 -5.5h4.6v4.6h-4.6zm0.5 3.5h4.6v4.6h-4.6zm0.5 -9.5h4.6v4.6h-4.6zm0.5 -7.5h4.6v4.6h-4.6zm0.5 4h4.6v4.6h-4.6zm0 3.5h4.6v4.6h-4.6zm0.5 1h4.6v4.6h-4.6zm0 7h4.6v4.6h-4.6zm0.5 -18.5h4.6v4.6h-4.6zm0.5 17.5h4.6v4.6h-4.6zm0 1h4.6v4.6h-4.6zm0.5 -8.5h4.6v4.6h-4.6zm0.5 -8h4.6v4.6h-4.6zm0 3h4.6v4.6h-4.6zm0 6h4.6v4.6h-4.6zm1 1.5h4.6v4.6h-4.6zm0.5 -5.5h4.6v4.6h-4.6zm0 3.5h4.6v4.6h-4.6zm0.5 -22h4.6v4.6h-4.6zm0 16h4.6v4.6h-4.6zm1.5 10.5h4.6v4.6h-4.6zm0.5 -2.5h4.6v4.6h-4.6zm0 29.5h4.6v4.6h-4.6zm0.5 -35h4.6v4.6h-4.6zm0 17h4.6v4.6h-4.6zm0.5 -15.5h4.6v4.6h-4.6zm0 1.5h4.6v4.6h-4.6zm0 2h4.6v4.6h-4.6zm1 2h4.6v4.6h-4.6zm1.5 2h4.6v4.6h-4.6zm0 6.5h4.6v4.6h-4.6zm0.5 -14.5h4.6v4.6h-4.6zm0.5 13h4.6v4.6h-4.6zm0.5 -8.5h4.6v4.6h-4.6zm0.5 11h4.6v4.6h-4.6zm0.5 -1.5h4.6v4.6h-4.6zm0.5 -17h4.6v4.6h-4.6zm0.5 2.5h4.6v4.6h-4.6zm0 0.5h4.6v4.6h-4.6zm1.5 25.5h4.6v4.6h-4.6zm0.5 -21.5h4.6v4.6h-4.6zm0 11.5h4.6v4.6h-4.6zm0.5 -19.5h4.6v4.6h-4.6zm0.5 11.5h4.6v4.6h-4.6zm0.5 -2.5h4.6v4.6h-4.6zm0.5 40.5h4.6v4.6h-4.6zm2 -43h4.6v4.6h-4.6zm0.5 3.5h4.6v4.6h-4.6zm0 1h4.6v4.6h-4.6zm0 8.5h4.6v4.6h-4.6zm2 -9h4.6v4.6h-4.6zm0 2.5h4.6v4.6h-4.6zm1 -9h4.6v4.6h-4.6zm0 5.5h4.6v4.6h-4.6zm0 1.5h4.6v4.6h-4.6zm0 1.5h4.6v4.6h-4.6zm0 3h4.6v4.6h-4.6zm1 -8.5h4.6v4.6h-4.6zm0 29h4.6v4.6h-4.6zm0.5 -27h4.6v4.6h-4.6zm1 -8h4.6v4.6h-4.6zm0 15.5h4.6v4.6h-4.6zm0.5 -6.5h4.6v4.6h-4.6zm0 1h4.6v4.6h-4.6zm0.5 -1h4.6v4.6h-4.6zm0 3h4.6v4.6h-4.6zm0 2.5h4.6v4.6h-4.6zm0 4h4.6v4.6h-4.6zm1 -12.5h4.6v4.6h-4.6zm1 3.5h4.6v4.6h-4.6zm0.5 -13h4.6v4.6h-4.6zm0 7h4.6v4.6h-4.6zm0.5 8.5h4.6v4.6h-4.6zm0.5 0h4.6v4.6h-4.6zm0.5 -11h4.6v4.6h-4.6zm0.5 3.5h4.6v4.6h-4.6zm0.5 0.5h4.6v4.6h-4.6zm0.5 10h4.6v4.6h-4.6zm1 -27h4.6v4.6h-4.6zm0.5 25.5h4.6v4.6h-4.6zm0.5 -13.5h4.6v4.6h-4.6zm0.5 0h4.6v4.6h-4.6zm0.5 16.5h4.6v4.6h-4.6zm0.5 -10h4.6v4.6h-4.6zm1 -1.5h4.6v4.6h-4.6zm0 4.5h4.6v4.6h-4.6zm0 1h4.6v4.6h-4.6zm1 -8.5h4.6v4.6h-4.6zm0 4.5h4.6v4.6h-4.6zm0.5 -6h4.6v4.6h-4.6zm0.5 1h4.6v4.6h-4.6zm0.5 0h4.6v4.6h-4.6zm0 0.5h4.6v4.6h-4.6zm1 5.5h4.6v4.6h-4.6zm1 -9.5h4.6v4.6h-4.6zm0 2h4.6v4.6h-4.6zm0.5 -23h4.6v4.6h-4.6zm0.5 16h4.6v4.6h-4.6zm0 1.5h4.6v4.6h-4.6zm0 21h4.6v4.6h-4.6zm0.5 -45h4.6v4.6h-4.6zm0 38h4.6v4.6h-4.6zm0.5 -15.5h4.6v4.6h-4.6zm0 10h4.6v4.6h-4.6zm0 8h4.6v4.6h-4.6zm0 8h4.6v4.6h-4.6zm0.5 -13h4.6v4.6h-4.6zm0 10.5h4.6v4.6h-4.6zm0.5 -2.5h4.6v4.6h-4.6zm0 2h4.6v4.6h-4.6zm0.5 -14.5h4.6v4.6h-4.6zm0 15h4.6v4.6h-4.6zm0.5 -4h4.6v4.6h-4.6zm0.5 3h4.6v4.6h-4.6zm0.5 -11h4.6v4.6h-4.6zm0.5 -5.5h4.6v4.6h-4.6zm0 11h4.6v4.6h-4.6zm0 3.5h4.6v4.6h-4.6zm0 1h4.6v4.6h-4.6zm0.5 -6h4.6v4.6h-4.6zm0.5 -12.5h4.6v4.6h-4.6zm0 7.5h4.6v4.6h-4.6zm0 3h4.6v4.6h-4.6zm0 1h4.6v4.6h-4.6zm0 0.5h4.6v4.6h-4.6zm0 4.5h4.6v4.6h-4.6zm0.5 -17h4.6v4.6h-4.6zm0 4h4.6v4.6h-4.6zm0 10h4.6v4.6h-4.6zm0 4h4.6v4.6h-4.6zm0.5 -10h4.6v4.6h-4.6zm0 1h4.6v4.6h-4.6zm0 4.5h4.6v4.6h-4.6zm0 8.5h4.6v4.6h-4.6zm0.5 -14h4.6v4.6h-4.6zm0 8h4.6v4.6h-4.6zm0.5 -6.5h4.6v4.6h-4.6zm0 3h4.6v4.6h-4.6zm0 3h4.6v4.6h-4.6zm0.5 -13.5h4.6v4.6h-4.6zm0 8.5h4.6v4.6h-4.6zm0 1.5h4.6v4.6h-4.6zm0 3.5h4.6v4.6h-4.6zm0 8h4.6v4.6h-4.6zm0 0.5h4.6v4.6h-4.6zm0 1.5h4.6v4.6h-4.6zm0.5 -35h4.6v4.6h-4.6zm0 6.5h4.6v4.6h-4.6zm0 16.5h4.6v4.6h-4.6zm0 0.5h4.6v4.6h-4.6zm0.5 -10h4.6v4.6h-4.6zm0 3.5h4.6v4.6h-4.6zm0 5h4.6v4.6h-4.6zm0 6h4.6v4.6h-4.6zm0 4.5h4.6v4.6h-4.6zm0.5 -42.5h4.6v4.6h-4.6zm0 9h4.6v4.6h-4.6zm0 20h4.6v4.6h-4.6zm0 12h4.6v4.6h-4.6zm0 0.5h4.6v4.6h-4.6zm0 2.5h4.6v4.6h-4.6zm0 65h4.6v4.6h-4.6zm0.5 -91.5h4.6v4.6h-4.6zm0 17.5h4.6v4.6h-4.6zm0.5 -12.5h4.6v4.6h-4.6zm0 16h4.6v4.6h-4.6zm0 5.5h4.6v4.6h-4.6zm0.5 -18.5h4.6v4.6h-4.6zm0 1h4.6v4.6h-4.6zm0 2.5h4.6v4.6h-4.6zm0 4h4.6v4.6h-4.6zm0.5 -15h4.6v4.6h-4.6zm0 15h4.6v4.6h-4.6zm0 7.5h4.6v4.6h-4.6zm0.5 -14h4.6v4.6h-4.6zm0.5 -0.5h4.6v4.6h-4.6zm0 1.5h4.6v4.6h-4.6zm0 1h4.6v4.6h-4.6zm0 5.5h4.6v4.6h-4.6zm0 3h4.6v4.6h-4.6zm0.5 -13.5h4.6v4.6h-4.6zm0 11h4.6v4.6h-4.6zm0.5 -16h4.6v4.6h-4.6zm0 2h4.6v4.6h-4.6zm0 7.5h4.6v4.6h-4.6zm0 0.5h4.6v4.6h-4.6zm0 5.5h4.6v4.6h-4.6zm0 3.5h4.6v4.6h-4.6zm0.5 -8h4.6v4.6h-4.6zm0 5h4.6v4.6h-4.6zm0 6.5h4.6v4.6h-4.6zm0.5 -29.5h4.6v4.6h-4.6zm0 16.5h4.6v4.6h-4.6zm0 1.5h4.6v4.6h-4.6zm0 1h4.6v4.6h-4.6zm0 11h4.6v4.6h-4.6zm0 1.5h4.6v4.6h-4.6zm0.5 -10h4.6v4.6h-4.6zm0 1.5h4.6v4.6h-4.6zm0 2.5h4.6v4.6h-4.6zm0.5 -18h4.6v4.6h-4.6zm0 15.5h4.6v4.6h-4.6zm0 1.5h4.6v4.6h-4.6zm0 0.5h4.6v4.6h-4.6zm0.5 -16h4.6v4.6h-4.6zm0 1h4.6v4.6h-4.6zm0 4.5h4.6v4.6h-4.6zm0 5h4.6v4.6h-4.6zm0 9h4.6v4.6h-4.6zm0 94.5h4.6v4.6h-4.6zm0.5 -120h4.6v4.6h-4.6zm0 13.5h4.6v4.6h-4.6zm0.5 -8h4.6v4.6h-4.6zm0 1h4.6v4.6h-4.6zm0 1.5h4.6v4.6h-4.6zm0 8h4.6v4.6h-4.6zm0 1h4.6v4.6h-4.6zm0 2h4.6v4.6h-4.6zm0 2.5h4.6v4.6h-4.6zm0.5 -18h4.6v4.6h-4.6zm0 0.5h4.6v4.6h-4.6zm0 1h4.6v4.6h-4.6zm0 11.5h4.6v4.6h-4.6zm0 5h4.6v4.6h-4.6zm0 4h4.6v4.6h-4.6zm0.5 -22h4.6v4.6h-4.6zm0 11h4.6v4.6h-4.6zm0 7h4.6v4.6h-4.6zm0 3.5h4.6v4.6h-4.6zm0.5 -27.5h4.6v4.6h-4.6zm0 2h4.6v4.6h-4.6zm0 13h4.6v4.6h-4.6zm0 4h4.6v4.6h-4.6zm0 4h4.6v4.6h-4.6zm0 3.5h4.6v4.6h-4.6zm0.5 -23.5h4.6v4.6h-4.6zm0 6h4.6v4.6h-4.6zm0 8h4.6v4.6h-4.6zm0 1.5h4.6v4.6h-4.6zm0 8h4.6v4.6h-4.6zm0.5 -34.5h4.6v4.6h-4.6zm0 1h4.6v4.6h-4.6zm0 12h4.6v4.6h-4.6zm0 1h4.6v4.6h-4.6zm0 6.5h4.6v4.6h-4.6zm0 2.5h4.6v4.6h-4.6zm0 2h4.6v4.6h-4.6zm0 6h4.6v4.6h-4.6zm0.5 -18h4.6v4.6h-4.6zm0 3.5h4.6v4.6h-4.6zm0 1.5h4.6v4.6h-4.6zm0.5 -13h4.6v4.6h-4.6zm0 14.5h4.6v4.6h-4.6zm0 6.5h4.6v4.6h-4.6zm0 0.5h4.6v4.6h-4.6zm0 3.5h4.6v4.6h-4.6zm0 0.5h4.6v4.6h-4.6zm0.5 -14h4.6v4.6h-4.6zm0 1h4.6v4.6h-4.6zm0 4h4.6v4.6h-4.6zm0 2.5h4.6v4.6h-4.6zm0 2h4.6v4.6h-4.6zm0 1h4.6v4.6h-4.6zm0 1.5h4.6v4.6h-4.6zm0 11.5h4.6v4.6h-4.6zm0.5 -24h4.6v4.6h-4.6zm0 6h4.6v4.6h-4.6zm0 6h4.6v4.6h-4.6zm0 2.5h4.6v4.6h-4.6zm0.5 -10.5h4.6v4.6h-4.6zm0 4.5h4.6v4.6h-4.6zm0 5.5h4.6v4.6h-4.6zm0.5 -22h4.6v4.6h-4.6zm0 2h4.6v4.6h-4.6zm0 3h4.6v4.6h-4.6zm0 6.5h4.6v4.6h-4.6zm0 0.5h4.6v4.6h-4.6zm0 7h4.6v4.6h-4.6zm0 2.5h4.6v4.6h-4.6zm0 0.5h4.6v4.6h-4.6zm0 0.5h4.6v4.6h-4.6zm0 2.5h4.6v4.6h-4.6zm0 7.5h4.6v4.6h-4.6zm0.5 -32h4.6v4.6h-4.6zm0 1.5h4.6v4.6h-4.6zm0 7.5h4.6v4.6h-4.6zm0 1h4.6v4.6h-4.6zm0 5h4.6v4.6h-4.6zm0.5 -10h4.6v4.6h-4.6zm0 10.5h4.6v4.6h-4.6zm0 1h4.6v4.6h-4.6zm0 1h4.6v4.6h-4.6zm0 1h4.6v4.6h-4.6zm0 3h4.6v4.6h-4.6zm0 2.5h4.6v4.6h-4.6zm0 4.5h4.6v4.6h-4.6zm0.5 -27h4.6v4.6h-4.6zm0 4h4.6v4.6h-4.6zm0 2.5h4.6v4.6h-4.6zm0 3.5h4.6v4.6h-4.6zm0 0.5h4.6v4.6h-4.6zm0 2.5h4.6v4.6h-4.6zm0.5 -9.5h4.6v4.6h-4.6zm0 5.5h4.6v4.6h-4.6zm0 3h4.6v4.6h-4.6zm0 0.5h4.6v4.6h-4.6zm0 4.5h4.6v4.6h-4.6zm0 2h4.6v4.6h-4.6zm0 10h4.6v4.6h-4.6zm0.5 -16.5h4.6v4.6h-4.6zm0 3h4.6v4.6h-4.6zm0 1h4.6v4.6h-4.6zm0 3.5h4.6v4.6h-4.6zm0.5 -38.5h4.6v4.6h-4.6zm0 15h4.6v4.6h-4.6zm0 13h4.6v4.6h-4.6zm0 0.5h4.6v4.6h-4.6zm0 1.5h4.6v4.6h-4.6zm0 2.5h4.6v4.6h-4.6zm0 1h4.6v4.6h-4.6zm0 1.5h4.6v4.6h-4.6zm0 2h4.6v4.6h-4.6zm0 1.5h4.6v4.6h-4.6zm0 1.5h4.6v4.6h-4.6zm0 2h4.6v4.6h-4.6zm0 1.5h4.6v4.6h-4.6zm0.5 -31h4.6v4.6h-4.6zm0 6h4.6v4.6h-4.6zm0 1h4.6v4.6h-4.6zm0 4.5h4.6v4.6h-4.6zm0 6h4.6v4.6h-4.6zm0 1.5h4.6v4.6h-4.6zm0 2.5h4.6v4.6h-4.6zm0 1h4.6v4.6h-4.6zm0 0.5h4.6v4.6h-4.6zm0 0.5h4.6v4.6h-4.6zm0 2h4.6v4.6h-4.6zm0 4h4.6v4.6h-4.6zm0.5 -28h4.6v4.6h-4.6zm0 2h4.6v4.6h-4.6zm0 4.5h4.6v4.6h-4.6zm0 0.5h4.6v4.6h-4.6zm0 2h4.6v4.6h-4.6zm0 2.5h4.6v4.6h-4.6zm0 7.5h4.6v4.6h-4.6zm0 0.5h4.6v4.6h-4.6zm0 1h4.6v4.6h-4.6zm0 11h4.6v4.6h-4.6zm0.5 -37.5h4.6v4.6h-4.6zm0 15h4.6v4.6h-4.6zm0 16h4.6v4.6h-4.6zm0 2.5h4.6v4.6h-4.6zm0 2h4.6v4.6h-4.6zm0 82.5h4.6v4.6h-4.6zm0.5 -104.5h4.6v4.6h-4.6zm0 3.5h4.6v4.6h-4.6zm0 0.5h4.6v4.6h-4.6zm0 6.5h4.6v4.6h-4.6zm0 3.5h4.6v4.6h-4.6zm0 4.5h4.6v4.6h-4.6zm0.5 -17h4.6v4.6h-4.6zm0 0.5h4.6v4.6h-4.6zm0 5h4.6v4.6h-4.6zm0 1h4.6v4.6h-4.6zm0.5 -16h4.6v4.6h-4.6zm0 5.5h4.6v4.6h-4.6zm0 7.5h4.6v4.6h-4.6zm0 4.5h4.6v4.6h-4.6zm0 0.5h4.6v4.6h-4.6zm0 5h4.6v4.6h-4.6zm0 1.5h4.6v4.6h-4.6zm0.5 -16.5h4.6v4.6h-4.6zm0 2.5h4.6v4.6h-4.6zm0 3h4.6v4.6h-4.6zm0 0.5h4.6v4.6h-4.6zm0 3h4.6v4.6h-4.6zm0 0.5h4.6v4.6h-4.6zm0 2.5h4.6v4.6h-4.6zm0 0.5h4.6v4.6h-4.6zm0 5h4.6v4.6h-4.6zm0.5 -25h4.6v4.6h-4.6zm0 8.5h4.6v4.6h-4.6zm0 0.5h4.6v4.6h-4.6zm0 3h4.6v4.6h-4.6zm0 2.5h4.6v4.6h-4.6zm0 3.5h4.6v4.6h-4.6zm0 10.5h4.6v4.6h-4.6zm0 1h4.6v4.6h-4.6zm0.5 -46.5h4.6v4.6h-4.6zm0 23.5h4.6v4.6h-4.6zm0 5.5h4.6v4.6h-4.6zm0 4.5h4.6v4.6h-4.6zm0 3h4.6v4.6h-4.6zm0 2h4.6v4.6h-4.6zm0 1h4.6v4.6h-4.6zm0 2.5h4.6v4.6h-4.6zm0 9.5h4.6v4.6h-4.6zm0.5 -33h4.6v4.6h-4.6zm0 5h4.6v4.6h-4.6zm0 5h4.6v4.6h-4.6zm0 1.5h4.6v4.6h-4.6zm0 5h4.6v4.6h-4.6zm0 0.5h4.6v4.6h-4.6zm0 2.5h4.6v4.6h-4.6zm0 0.5h4.6v4.6h-4.6zm0 10.5h4.6v4.6h-4.6zm0.5 -16.5h4.6v4.6h-4.6zm0 1h4.6v4.6h-4.6zm0 3.5h4.6v4.6h-4.6zm0 0.5h4.6v4.6h-4.6zm0 0.5h4.6v4.6h-4.6zm0.5 -23.5h4.6v4.6h-4.6zm0 11h4.6v4.6h-4.6zm0 2h4.6v4.6h-4.6zm0 8.5h4.6v4.6h-4.6zm0 8h4.6v4.6h-4.6zm0 2.5h4.6v4.6h-4.6zm0.5 -28h4.6v4.6h-4.6zm0 1h4.6v4.6h-4.6zm0 2h4.6v4.6h-4.6zm0 5h4.6v4.6h-4.6zm0 6.5h4.6v4.6h-4.6zm0 1.5h4.6v4.6h-4.6zm0 1.5h4.6v4.6h-4.6zm0 6.5h4.6v4.6h-4.6zm0 1.5h4.6v4.6h-4.6zm0 1.5h4.6v4.6h-4.6zm0 5h4.6v4.6h-4.6zm0.5 -51.5h4.6v4.6h-4.6zm0 27.5h4.6v4.6h-4.6zm0 0.5h4.6v4.6h-4.6zm0 4h4.6v4.6h-4.6zm0 6.5h4.6v4.6h-4.6zm0 3h4.6v4.6h-4.6zm0 1.5h4.6v4.6h-4.6zm0.5 -30.5h4.6v4.6h-4.6zm0 12h4.6v4.6h-4.6zm0 1.5h4.6v4.6h-4.6zm0 2.5h4.6v4.6h-4.6zm0 8.5h4.6v4.6h-4.6zm0 4h4.6v4.6h-4.6zm0 1.5h4.6v4.6h-4.6zm0.5 -23h4.6v4.6h-4.6zm0 1.5h4.6v4.6h-4.6zm0 11h4.6v4.6h-4.6zm0 1h4.6v4.6h-4.6zm0 4.5h4.6v4.6h-4.6zm0 8h4.6v4.6h-4.6zm0.5 -27.5h4.6v4.6h-4.6zm0 10.5h4.6v4.6h-4.6zm0 3h4.6v4.6h-4.6zm0 1h4.6v4.6h-4.6zm0 2.5h4.6v4.6h-4.6zm0 7h4.6v4.6h-4.6zm0 1h4.6v4.6h-4.6zm0.5 -19h4.6v4.6h-4.6zm0 2h4.6v4.6h-4.6zm0 6h4.6v4.6h-4.6zm0 0.5h4.6v4.6h-4.6zm0 2h4.6v4.6h-4.6zm0 1h4.6v4.6h-4.6zm0 0.5h4.6v4.6h-4.6zm0 0.5h4.6v4.6h-4.6zm0 5h4.6v4.6h-4.6zm0.5 -12h4.6v4.6h-4.6zm0 0.5h4.6v4.6h-4.6zm0 3h4.6v4.6h-4.6zm0 16h4.6v4.6h-4.6zm0 4.5h4.6v4.6h-4.6zm0.5 -42h4.6v4.6h-4.6zm0 22h4.6v4.6h-4.6zm0 7h4.6v4.6h-4.6zm0 5h4.6v4.6h-4.6zm0.5 -25.5h4.6v4.6h-4.6zm0 3h4.6v4.6h-4.6zm0 1.5h4.6v4.6h-4.6zm0 8.5h4.6v4.6h-4.6zm0.5 -13h4.6v4.6h-4.6zm0 4h4.6v4.6h-4.6zm0 4.5h4.6v4.6h-4.6zm0 2.5h4.6v4.6h-4.6zm0 6h4.6v4.6h-4.6zm0 2.5h4.6v4.6h-4.6zm0 7.5h4.6v4.6h-4.6zm0.5 -24.5h4.6v4.6h-4.6zm0 0.5h4.6v4.6h-4.6zm0 1.5h4.6v4.6h-4.6zm0 5.5h4.6v4.6h-4.6zm0.5 -10.5h4.6v4.6h-4.6zm0 1.5h4.6v4.6h-4.6zm0 8h4.6v4.6h-4.6zm0 6.5h4.6v4.6h-4.6zm0 9.5h4.6v4.6h-4.6zm0.5 -36.5h4.6v4.6h-4.6zm0 8h4.6v4.6h-4.6zm0 0.5h4.6v4.6h-4.6zm0 9h4.6v4.6h-4.6zm0 5.5h4.6v4.6h-4.6zm0 2.5h4.6v4.6h-4.6zm0 7h4.6v4.6h-4.6zm0 8h4.6v4.6h-4.6zm0 79h4.6v4.6h-4.6zm0.5 -106h4.6v4.6h-4.6zm0.5 -2h4.6v4.6h-4.6zm0 8h4.6v4.6h-4.6zm0 1.5h4.6v4.6h-4.6zm0.5 3h4.6v4.6h-4.6zm0 2.5h4.6v4.6h-4.6zm0.5 -29.5h4.6v4.6h-4.6zm0 15.5h4.6v4.6h-4.6zm0 8.5h4.6v4.6h-4.6zm0 1h4.6v4.6h-4.6zm0 5h4.6v4.6h-4.6zm0 0.5h4.6v4.6h-4.6zm0 4h4.6v4.6h-4.6zm0 6.5h4.6v4.6h-4.6zm0 3h4.6v4.6h-4.6zm0.5 -17h4.6v4.6h-4.6zm0 7.5h4.6v4.6h-4.6zm0 2.5h4.6v4.6h-4.6zm0 3.5h4.6v4.6h-4.6zm0.5 -19.5h4.6v4.6h-4.6zm0 6h4.6v4.6h-4.6zm0 0.5h4.6v4.6h-4.6zm0 3.5h4.6v4.6h-4.6zm0 12.5h4.6v4.6h-4.6zm0.5 -18.5h4.6v4.6h-4.6zm0 6.5h4.6v4.6h-4.6zm0 4.5h4.6v4.6h-4.6zm0 6h4.6v4.6h-4.6zm0.5 -22.5h4.6v4.6h-4.6zm0 7.5h4.6v4.6h-4.6zm0 6h4.6v4.6h-4.6zm0 4.5h4.6v4.6h-4.6zm0 4h4.6v4.6h-4.6zm0.5 -25.5h4.6v4.6h-4.6zm0 5h4.6v4.6h-4.6zm0 5h4.6v4.6h-4.6zm0 5h4.6v4.6h-4.6zm0 9.5h4.6v4.6h-4.6zm0.5 -53h4.6v4.6h-4.6zm0 23.5h4.6v4.6h-4.6zm0 7.5h4.6v4.6h-4.6zm0 4.5h4.6v4.6h-4.6zm0 12.5h4.6v4.6h-4.6zm0.5 -12h4.6v4.6h-4.6zm0 6.5h4.6v4.6h-4.6zm0 11.5h4.6v4.6h-4.6zm0.5 -16h4.6v4.6h-4.6zm0 3.5h4.6v4.6h-4.6zm0.5 -12h4.6v4.6h-4.6zm0.5 2h4.6v4.6h-4.6zm0 23h4.6v4.6h-4.6zm0.5 -48.5h4.6v4.6h-4.6zm0 25.5h4.6v4.6h-4.6zm0 8h4.6v4.6h-4.6zm0 3.5h4.6v4.6h-4.6zm0 8h4.6v4.6h-4.6zm0.5 -20h4.6v4.6h-4.6zm0 5.5h4.6v4.6h-4.6zm0 15h4.6v4.6h-4.6zm0.5 -51h4.6v4.6h-4.6zm0 9.5h4.6v4.6h-4.6zm0 13.5h4.6v4.6h-4.6zm0 4.5h4.6v4.6h-4.6zm0 3.5h4.6v4.6h-4.6zm0 1h4.6v4.6h-4.6zm0 5h4.6v4.6h-4.6zm0 22.5h4.6v4.6h-4.6zm0.5 -51h4.6v4.6h-4.6zm0 33h4.6v4.6h-4.6zm0 10h4.6v4.6h-4.6zm0.5 -30h4.6v4.6h-4.6zm0 9.5h4.6v4.6h-4.6zm0 6.5h4.6v4.6h-4.6zm0 1h4.6v4.6h-4.6zm0.5 -15.5h4.6v4.6h-4.6zm0 5h4.6v4.6h-4.6zm0 16h4.6v4.6h-4.6zm0 3h4.6v4.6h-4.6zm0.5 -12h4.6v4.6h-4.6zm0 11h4.6v4.6h-4.6zm0.5 -23h4.6v4.6h-4.6zm0 22h4.6v4.6h-4.6zm0.5 -19h4.6v4.6h-4.6zm0 2.5h4.6v4.6h-4.6zm0 4h4.6v4.6h-4.6zm0 6h4.6v4.6h-4.6zm0 2h4.6v4.6h-4.6zm0.5 -10.5h4.6v4.6h-4.6zm0 19h4.6v4.6h-4.6zm1 -33.5h4.6v4.6h-4.6zm0 24h4.6v4.6h-4.6zm0 5.5h4.6v4.6h-4.6zm0.5 -12.5h4.6v4.6h-4.6zm2 -12h4.6v4.6h-4.6zm0 14h4.6v4.6h-4.6zm0 9h4.6v4.6h-4.6zm2 -4h4.6v4.6h-4.6zm0.5 -19.5h4.6v4.6h-4.6zm1.5 -7.5h4.6v4.6h-4.6zm0.5 12h4.6v4.6h-4.6zm0 7.5h4.6v4.6h-4.6zm0.5 -5h4.6v4.6h-4.6zm0 7.5h4.6v4.6h-4.6zm0 30h4.6v4.6h-4.6zm0.5 -39.5h4.6v4.6h-4.6zm0 20.5h4.6v4.6h-4.6zm0.5 -32h4.6v4.6h-4.6zm1 13h4.6v4.6h-4.6zm0 22h4.6v4.6h-4.6zm1.5 -10.5h4.6v4.6h-4.6zm0.5 -6h4.6v4.6h-4.6zm6.5 25.5h4.6v4.6h-4.6z"/></g>
<g clip-path="url(#cB)"><path fill="#ff00ff" filter="url(#bl)" shape-rendering="auto" d="m744 338.5h4.6v4.6h-4.6zm17.5 -48h4.6v4.6h-4.6zm1 93h4.6v4.6h-4.6zm6.5 27.5h4.6v4.6h-4.6zm2 -61h4.6v4.6h-4.6zm3 -122h4.6v4.6h-4.6zm0 51h4.6v4.6h-4.6zm2.5 27.5h4.6v4.6h-4.6zm3 99h4.6v4.6h-4.6zm0.5 -71h4.6v4.6h-4.6zm3 77h4.6v4.6h-4.6zm1.5 -127.5h4.6v4.6h-4.6zm2 -72h4.6v4.6h-4.6zm0 101.5h4.6v4.6h-4.6zm5 -10h4.6v4.6h-4.6zm4.5 -79h4.6v4.6h-4.6zm2.5 -47h4.6v4.6h-4.6zm0 9.5h4.6v4.6h-4.6zm3.5 157.5h4.6v4.6h-4.6zm4.5 -163h4.6v4.6h-4.6zm8.5 194h4.6v4.6h-4.6zm5.5 21h4.6v4.6h-4.6zm5.5 -143.5h4.6v4.6h-4.6zm22 102.5h4.6v4.6h-4.6zm1.5 -136.5h4.6v4.6h-4.6zm2 82h4.6v4.6h-4.6zm1.5 18.5h4.6v4.6h-4.6zm11 -7h4.6v4.6h-4.6zm13 -94.5h4.6v4.6h-4.6zm4.5 181h4.6v4.6h-4.6zm1.5 -101h4.6v4.6h-4.6zm13 -119h4.6v4.6h-4.6zm0.5 186h4.6v4.6h-4.6zm4 -52.5h4.6v4.6h-4.6zm1 -119.5h4.6v4.6h-4.6zm2 -6.5h4.6v4.6h-4.6zm0.5 218.5h4.6v4.6h-4.6zm7 5h4.6v4.6h-4.6zm1.5 -222.5h4.6v4.6h-4.6zm3 210.5h4.6v4.6h-4.6zm2.5 -205h4.6v4.6h-4.6zm3 166.5h4.6v4.6h-4.6zm2.5 50.5h4.6v4.6h-4.6zm1 -41.5h4.6v4.6h-4.6zm2 -179h4.6v4.6h-4.6zm4.5 34h4.6v4.6h-4.6zm2 92.5h4.6v4.6h-4.6zm1 -135h4.6v4.6h-4.6zm0 120.5h4.6v4.6h-4.6zm1.5 50.5h4.6v4.6h-4.6zm1 -165.5h4.6v4.6h-4.6zm0 206.5h4.6v4.6h-4.6zm1 -216h4.6v4.6h-4.6zm0 50h4.6v4.6h-4.6zm2 165.5h4.6v4.6h-4.6zm4.5 -214h4.6v4.6h-4.6zm0 1h4.6v4.6h-4.6zm0 3.5h4.6v4.6h-4.6zm0.5 15.5h4.6v4.6h-4.6zm0 33h4.6v4.6h-4.6zm1 -57h4.6v4.6h-4.6zm0 8h4.6v4.6h-4.6zm0 73h4.6v4.6h-4.6zm1.5 -73.5h4.6v4.6h-4.6zm1.5 214h4.6v4.6h-4.6zm0.5 -211.5h4.6v4.6h-4.6zm0 2h4.6v4.6h-4.6zm0 206.5h4.6v4.6h-4.6zm0.5 -216h4.6v4.6h-4.6zm0 17.5h4.6v4.6h-4.6zm0 209.5h4.6v4.6h-4.6zm1 -201.5h4.6v4.6h-4.6zm1.5 41.5h4.6v4.6h-4.6zm1.5 -54h4.6v4.6h-4.6zm0.5 -13.5h4.6v4.6h-4.6zm0 45.5h4.6v4.6h-4.6zm0 175.5h4.6v4.6h-4.6zm0.5 -160h4.6v4.6h-4.6zm0.5 -47.5h4.6v4.6h-4.6zm0 18.5h4.6v4.6h-4.6zm0 158.5h4.6v4.6h-4.6zm1.5 -181.5h4.6v4.6h-4.6zm0 59.5h4.6v4.6h-4.6zm0.5 -70.5h4.6v4.6h-4.6zm0 9h4.6v4.6h-4.6zm0 7.5h4.6v4.6h-4.6zm0 11.5h4.6v4.6h-4.6zm0.5 -26h4.6v4.6h-4.6zm0 3h4.6v4.6h-4.6zm0 224h4.6v4.6h-4.6zm0.5 -222h4.6v4.6h-4.6zm0 6h4.6v4.6h-4.6zm0 1h4.6v4.6h-4.6zm0 0.5h4.6v4.6h-4.6zm0 138.5h4.6v4.6h-4.6zm0 78h4.6v4.6h-4.6zm0.5 -222.5h4.6v4.6h-4.6zm0 24.5h4.6v4.6h-4.6zm0.5 -17.5h4.6v4.6h-4.6zm0 216.5h4.6v4.6h-4.6zm0.5 -170h4.6v4.6h-4.6zm0.5 -54h4.6v4.6h-4.6zm0 10h4.6v4.6h-4.6zm0 31h4.6v4.6h-4.6zm0 44h4.6v4.6h-4.6zm0.5 -77.5h4.6v4.6h-4.6zm0.5 -14h4.6v4.6h-4.6zm0 4h4.6v4.6h-4.6zm0 41.5h4.6v4.6h-4.6zm0 32.5h4.6v4.6h-4.6zm0 116.5h4.6v4.6h-4.6zm0 24h4.6v4.6h-4.6zm0.5 -213.5h4.6v4.6h-4.6zm0 5.5h4.6v4.6h-4.6zm0 5h4.6v4.6h-4.6zm0 13h4.6v4.6h-4.6zm0 4h4.6v4.6h-4.6zm0 2.5h4.6v4.6h-4.6zm0 23h4.6v4.6h-4.6zm0 3.5h4.6v4.6h-4.6zm0.5 -30h4.6v4.6h-4.6zm0 2.5h4.6v4.6h-4.6zm0 29h4.6v4.6h-4.6zm0 23.5h4.6v4.6h-4.6zm0 79.5h4.6v4.6h-4.6zm0.5 -155.5h4.6v4.6h-4.6zm0 13.5h4.6v4.6h-4.6zm0 3.5h4.6v4.6h-4.6zm0 18h4.6v4.6h-4.6zm0 14h4.6v4.6h-4.6zm0.5 -60.5h4.6v4.6h-4.6zm0 4.5h4.6v4.6h-4.6zm0 1h4.6v4.6h-4.6zm0 5.5h4.6v4.6h-4.6zm0 14.5h4.6v4.6h-4.6zm0 112h4.6v4.6h-4.6zm0.5 -116.5h4.6v4.6h-4.6zm0 3.5h4.6v4.6h-4.6zm0 2.5h4.6v4.6h-4.6zm0 8h4.6v4.6h-4.6zm0 4.5h4.6v4.6h-4.6zm0 17h4.6v4.6h-4.6zm0 115h4.6v4.6h-4.6zm0 60h4.6v4.6h-4.6zm0 4.5h4.6v4.6h-4.6zm0.5 -236h4.6v4.6h-4.6zm0 21.5h4.6v4.6h-4.6zm0 13.5h4.6v4.6h-4.6zm0 2.5h4.6v4.6h-4.6zm0 92.5h4.6v4.6h-4.6zm0.5 -125h4.6v4.6h-4.6zm0 0.5h4.6v4.6h-4.6zm0 53.5h4.6v4.6h-4.6zm0 128h4.6v4.6h-4.6zm0 50h4.6v4.6h-4.6zm0.5 -232h4.6v4.6h-4.6zm0 19.5h4.6v4.6h-4.6zm0 25.5h4.6v4.6h-4.6zm0 59h4.6v4.6h-4.6zm0.5 -105.5h4.6v4.6h-4.6zm0 3.5h4.6v4.6h-4.6zm0 1.5h4.6v4.6h-4.6zm0 24.5h4.6v4.6h-4.6zm0 74h4.6v4.6h-4.6zm0 26.5h4.6v4.6h-4.6zm0 85.5h4.6v4.6h-4.6zm0.5 -213.5h4.6v4.6h-4.6zm0 33h4.6v4.6h-4.6zm0 24.5h4.6v4.6h-4.6zm0 166h4.6v4.6h-4.6zm0.5 -225.5h4.6v4.6h-4.6zm0 1h4.6v4.6h-4.6zm0 27h4.6v4.6h-4.6zm0 117h4.6v4.6h-4.6zm0.5 -139.5h4.6v4.6h-4.6zm0 20h4.6v4.6h-4.6zm0.5 -24.5h4.6v4.6h-4.6zm0 15h4.6v4.6h-4.6zm0 2h4.6v4.6h-4.6zm0 6.5h4.6v4.6h-4.6zm0 2.5h4.6v4.6h-4.6zm0 3.5h4.6v4.6h-4.6zm0 43h4.6v4.6h-4.6zm0 99h4.6v4.6h-4.6zm0 1h4.6v4.6h-4.6zm0.5 -178h4.6v4.6h-4.6zm0 10.5h4.6v4.6h-4.6zm0 3.5h4.6v4.6h-4.6zm0 0.5h4.6v4.6h-4.6zm0 5h4.6v4.6h-4.6zm0 2h4.6v4.6h-4.6zm0 10h4.6v4.6h-4.6zm0 13.5h4.6v4.6h-4.6zm0 103h4.6v4.6h-4.6zm0 56.5h4.6v4.6h-4.6zm0.5 -204.5h4.6v4.6h-4.6zm0 10h4.6v4.6h-4.6zm0 10.5h4.6v4.6h-4.6zm0 31h4.6v4.6h-4.6zm0 80.5h4.6v4.6h-4.6zm0 3.5h4.6v4.6h-4.6zm0 18h4.6v4.6h-4.6zm0 36h4.6v4.6h-4.6zm0 11h4.6v4.6h-4.6zm0.5 -194h4.6v4.6h-4.6zm0 5h4.6v4.6h-4.6zm0 4.5h4.6v4.6h-4.6zm0 13h4.6v4.6h-4.6zm0 15.5h4.6v4.6h-4.6zm0 77.5h4.6v4.6h-4.6zm0 111.5h4.6v4.6h-4.6zm0.5 -146.5h4.6v4.6h-4.6zm0 78h4.6v4.6h-4.6zm0.5 -165h4.6v4.6h-4.6zm0 0.5h4.6v4.6h-4.6zm0 9.5h4.6v4.6h-4.6zm0 51.5h4.6v4.6h-4.6zm0 85.5h4.6v4.6h-4.6zm0 72.5h4.6v4.6h-4.6zm0.5 -201.5h4.6v4.6h-4.6zm0 5.5h4.6v4.6h-4.6zm0 2h4.6v4.6h-4.6zm0 37.5h4.6v4.6h-4.6zm0 155.5h4.6v4.6h-4.6zm0 5.5h4.6v4.6h-4.6zm0.5 -217h4.6v4.6h-4.6zm0 15.5h4.6v4.6h-4.6zm0 49.5h4.6v4.6h-4.6zm0 1h4.6v4.6h-4.6zm0 27.5h4.6v4.6h-4.6zm0 78.5h4.6v4.6h-4.6zm0.5 -177.5h4.6v4.6h-4.6zm0 3.5h4.6v4.6h-4.6zm0 8.5h4.6v4.6h-4.6zm0 2h4.6v4.6h-4.6zm0 3h4.6v4.6h-4.6zm0 3h4.6v4.6h-4.6zm0 5h4.6v4.6h-4.6zm0 46h4.6v4.6h-4.6zm0 63.5h4.6v4.6h-4.6zm0 26h4.6v4.6h-4.6zm0 36h4.6v4.6h-4.6zm0.5 -189.5h4.6v4.6h-4.6zm0 5h4.6v4.6h-4.6zm0 5.5h4.6v4.6h-4.6zm0 3h4.6v4.6h-4.6zm0 9h4.6v4.6h-4.6zm0 76.5h4.6v4.6h-4.6zm0 123h4.6v4.6h-4.6zm0.5 -225h4.6v4.6h-4.6zm0 8h4.6v4.6h-4.6zm0 15h4.6v4.6h-4.6zm0 36h4.6v4.6h-4.6zm0 135.5h4.6v4.6h-4.6zm0 8h4.6v4.6h-4.6zm0.5 -205.5h4.6v4.6h-4.6zm0 1.5h4.6v4.6h-4.6zm0 10.5h4.6v4.6h-4.6zm0 8.5h4.6v4.6h-4.6zm0 6h4.6v4.6h-4.6zm0 16.5h4.6v4.6h-4.6zm0 25.5h4.6v4.6h-4.6zm0.5 -62h4.6v4.6h-4.6zm0 0.5h4.6v4.6h-4.6zm0 4.5h4.6v4.6h-4.6zm0 5h4.6v4.6h-4.6zm0 2h4.6v4.6h-4.6zm0 9.5h4.6v4.6h-4.6zm0 30h4.6v4.6h-4.6zm0 77h4.6v4.6h-4.6zm0 87.5h4.6v4.6h-4.6zm0.5 -224.5h4.6v4.6h-4.6zm0 0.5h4.6v4.6h-4.6zm0 4h4.6v4.6h-4.6zm0 2h4.6v4.6h-4.6zm0 3h4.6v4.6h-4.6zm0 1.5h4.6v4.6h-4.6zm0 1h4.6v4.6h-4.6zm0 3.5h4.6v4.6h-4.6zm0 8h4.6v4.6h-4.6zm0 2h4.6v4.6h-4.6zm0 6h4.6v4.6h-4.6zm0 4h4.6v4.6h-4.6zm0 4.5h4.6v4.6h-4.6zm0 98h4.6v4.6h-4.6zm0 15.5h4.6v4.6h-4.6zm0.5 -153.5h4.6v4.6h-4.6zm0 7.5h4.6v4.6h-4.6zm0 3.5h4.6v4.6h-4.6zm0 10.5h4.6v4.6h-4.6zm0 15h4.6v4.6h-4.6zm0 31.5h4.6v4.6h-4.6zm0 48.5h4.6v4.6h-4.6zm0 60h4.6v4.6h-4.6zm0 5h4.6v4.6h-4.6zm0 8h4.6v4.6h-4.6zm0 21.5h4.6v4.6h-4.6zm0 7.5h4.6v4.6h-4.6zm0 20h4.6v4.6h-4.6zm0.5 -231h4.6v4.6h-4.6zm0 3h4.6v4.6h-4.6zm0 14.5h4.6v4.6h-4.6zm0 5.5h4.6v4.6h-4.6zm0 14.5h4.6v4.6h-4.6zm0 151h4.6v4.6h-4.6zm0.5 -195h4.6v4.6h-4.6zm0 2h4.6v4.6h-4.6zm0 9h4.6v4.6h-4.6zm0 1.5h4.6v4.6h-4.6zm0 69h4.6v4.6h-4.6zm0.5 -77.5h4.6v4.6h-4.6zm0 1h4.6v4.6h-4.6zm0 5h4.6v4.6h-4.6zm0 5.5h4.6v4.6h-4.6zm0 10.5h4.6v4.6h-4.6zm0 0.5h4.6v4.6h-4.6zm0 31h4.6v4.6h-4.6zm0 30.5h4.6v4.6h-4.6zm0 38h4.6v4.6h-4.6zm0 2.5h4.6v4.6h-4.6zm0 10h4.6v4.6h-4.6zm0 10.5h4.6v4.6h-4.6zm0.5 -128.5h4.6v4.6h-4.6zm0 1.5h4.6v4.6h-4.6zm0 3h4.6v4.6h-4.6zm0 1.5h4.6v4.6h-4.6zm0 6.5h4.6v4.6h-4.6zm0 7.5h4.6v4.6h-4.6zm0 82.5h4.6v4.6h-4.6zm0 42h4.6v4.6h-4.6zm0.5 -163.5h4.6v4.6h-4.6zm0 9h4.6v4.6h-4.6zm0 2.5h4.6v4.6h-4.6zm0 19h4.6v4.6h-4.6zm0 0.5h4.6v4.6h-4.6zm0 13.5h4.6v4.6h-4.6zm0 6.5h4.6v4.6h-4.6zm0 56h4.6v4.6h-4.6zm0 6.5h4.6v4.6h-4.6zm0 27.5h4.6v4.6h-4.6zm0 30h4.6v4.6h-4.6zm0 12.5h4.6v4.6h-4.6zm0 2h4.6v4.6h-4.6zm0 10.5h4.6v4.6h-4.6zm0 37.5h4.6v4.6h-4.6zm0.5 -235.5h4.6v4.6h-4.6zm0 2.5h4.6v4.6h-4.6zm0 10h4.6v4.6h-4.6zm0 1.5h4.6v4.6h-4.6zm0 11h4.6v4.6h-4.6zm0 5.5h4.6v4.6h-4.6zm0 5h4.6v4.6h-4.6zm0 84h4.6v4.6h-4.6zm0 51.5h4.6v4.6h-4.6zm0 58h4.6v4.6h-4.6zm0 6h4.6v4.6h-4.6zm0 5.5h4.6v4.6h-4.6zm0.5 -226.5h4.6v4.6h-4.6zm0 4h4.6v4.6h-4.6zm0 1.5h4.6v4.6h-4.6zm0 7h4.6v4.6h-4.6zm0 9.5h4.6v4.6h-4.6zm0 3.5h4.6v4.6h-4.6zm0 74h4.6v4.6h-4.6zm0 34h4.6v4.6h-4.6zm0 15h4.6v4.6h-4.6zm0.5 -153h4.6v4.6h-4.6zm0 4.5h4.6v4.6h-4.6zm0 5h4.6v4.6h-4.6zm0 15h4.6v4.6h-4.6zm0 1h4.6v4.6h-4.6zm0 19h4.6v4.6h-4.6zm0 53h4.6v4.6h-4.6zm0 10.5h4.6v4.6h-4.6zm0 24.5h4.6v4.6h-4.6zm0 24h4.6v4.6h-4.6zm0 38h4.6v4.6h-4.6zm0.5 -204.5h4.6v4.6h-4.6zm0 2h4.6v4.6h-4.6zm0 7h4.6v4.6h-4.6zm0 4.5h4.6v4.6h-4.6zm0 2h4.6v4.6h-4.6zm0 2h4.6v4.6h-4.6zm0 5h4.6v4.6h-4.6zm0 1.5h4.6v4.6h-4.6zm0 13.5h4.6v4.6h-4.6zm0 28h4.6v4.6h-4.6zm0 1h4.6v4.6h-4.6zm0 55h4.6v4.6h-4.6zm0 8.5h4.6v4.6h-4.6zm0 7h4.6v4.6h-4.6zm0 22.5h4.6v4.6h-4.6zm0 12h4.6v4.6h-4.6zm0 6h4.6v4.6h-4.6zm0 62h4.6v4.6h-4.6zm0.5 -237.5h4.6v4.6h-4.6zm0 1h4.6v4.6h-4.6zm0 4.5h4.6v4.6h-4.6zm0 2h4.6v4.6h-4.6zm0 1h4.6v4.6h-4.6zm0 0.5h4.6v4.6h-4.6zm0 6h4.6v4.6h-4.6zm0 0.5h4.6v4.6h-4.6zm0 3.5h4.6v4.6h-4.6zm0 9.5h4.6v4.6h-4.6zm0 16h4.6v4.6h-4.6zm0 5h4.6v4.6h-4.6zm0 29.5h4.6v4.6h-4.6zm0 34.5h4.6v4.6h-4.6zm0 3.5h4.6v4.6h-4.6zm0 22h4.6v4.6h-4.6zm0 48.5h4.6v4.6h-4.6zm0 2.5h4.6v4.6h-4.6zm0.5 -186h4.6v4.6h-4.6zm0 11h4.6v4.6h-4.6zm0 6h4.6v4.6h-4.6zm0 3.5h4.6v4.6h-4.6zm0 1.5h4.6v4.6h-4.6zm0 2.5h4.6v4.6h-4.6zm0 1h4.6v4.6h-4.6zm0 4h4.6v4.6h-4.6zm0 42.5h4.6v4.6h-4.6zm0 4h4.6v4.6h-4.6zm0 98.5h4.6v4.6h-4.6zm0 5.5h4.6v4.6h-4.6zm0 4h4.6v4.6h-4.6zm0 24h4.6v4.6h-4.6zm0 6.5h4.6v4.6h-4.6zm0 13.5h4.6v4.6h-4.6zm0.5 -234h4.6v4.6h-4.6zm0 4h4.6v4.6h-4.6zm0 2h4.6v4.6h-4.6zm0 8h4.6v4.6h-4.6zm0 1h4.6v4.6h-4.6zm0 7.5h4.6v4.6h-4.6zm0 10h4.6v4.6h-4.6zm0 4.5h4.6v4.6h-4.6zm0 0.5h4.6v4.6h-4.6zm0 2.5h4.6v4.6h-4.6zm0 9h4.6v4.6h-4.6zm0 2.5h4.6v4.6h-4.6zm0 20.5h4.6v4.6h-4.6zm0 134h4.6v4.6h-4.6zm0 24.5h4.6v4.6h-4.6zm0 5h4.6v4.6h-4.6zm0.5 -232h4.6v4.6h-4.6zm0 7.5h4.6v4.6h-4.6zm0 9h4.6v4.6h-4.6zm0 24.5h4.6v4.6h-4.6zm0 63.5h4.6v4.6h-4.6zm0 48h4.6v4.6h-4.6zm0 7h4.6v4.6h-4.6zm0 2.5h4.6v4.6h-4.6zm0 46h4.6v4.6h-4.6zm0 16.5h4.6v4.6h-4.6zm0.5 -228h4.6v4.6h-4.6zm0 3.5h4.6v4.6h-4.6zm0 7.5h4.6v4.6h-4.6zm0 4h4.6v4.6h-4.6zm0 8h4.6v4.6h-4.6zm0 160.5h4.6v4.6h-4.6zm0 2.5h4.6v4.6h-4.6zm0 24h4.6v4.6h-4.6zm0.5 -202h4.6v4.6h-4.6zm0 1.5h4.6v4.6h-4.6zm0 0.5h4.6v4.6h-4.6zm0 13h4.6v4.6h-4.6zm0 3.5h4.6v4.6h-4.6zm0 46h4.6v4.6h-4.6zm0 44h4.6v4.6h-4.6zm0 7.5h4.6v4.6h-4.6zm0 49.5h4.6v4.6h-4.6zm0 36h4.6v4.6h-4.6zm0.5 -208h4.6v4.6h-4.6zm0 2h4.6v4.6h-4.6zm0 10h4.6v4.6h-4.6zm0 4.5h4.6v4.6h-4.6zm0 12.5h4.6v4.6h-4.6zm0 2h4.6v4.6h-4.6zm0 34.5h4.6v4.6h-4.6zm0 6h4.6v4.6h-4.6zm0 20.5h4.6v4.6h-4.6zm0 64.5h4.6v4.6h-4.6zm0 20.5h4.6v4.6h-4.6zm0 21h4.6v4.6h-4.6zm0 2.5h4.6v4.6h-4.6zm0 21h4.6v4.6h-4.6zm0 13h4.6v4.6h-4.6zm0 1h4.6v4.6h-4.6zm0.5 -235.5h4.6v4.6h-4.6zm0 4.5h4.6v4.6h-4.6zm0 6.5h4.6v4.6h-4.6zm0 0.5h4.6v4.6h-4.6zm0 1.5h4.6v4.6h-4.6zm0 6h4.6v4.6h-4.6zm0 10h4.6v4.6h-4.6zm0 18.5h4.6v4.6h-4.6zm0 73h4.6v4.6h-4.6zm0 55h4.6v4.6h-4.6zm0 42h4.6v4.6h-4.6zm0.5 -215h4.6v4.6h-4.6zm0 0.5h4.6v4.6h-4.6zm0 1.5h4.6v4.6h-4.6zm0 0.5h4.6v4.6h-4.6zm0 2h4.6v4.6h-4.6zm0 11.5h4.6v4.6h-4.6zm0 5.5h4.6v4.6h-4.6zm0 3h4.6v4.6h-4.6zm0 10h4.6v4.6h-4.6zm0 11.5h4.6v4.6h-4.6zm0 89.5h4.6v4.6h-4.6zm0 13h4.6v4.6h-4.6zm0 25.5h4.6v4.6h-4.6zm0 2.5h4.6v4.6h-4.6zm0 4.5h4.6v4.6h-4.6zm0 7.5h4.6v4.6h-4.6zm0.5 -190.5h4.6v4.6h-4.6zm0 0.5h4.6v4.6h-4.6zm0 2.5h4.6v4.6h-4.6zm0 1.5h4.6v4.6h-4.6zm0 1h4.6v4.6h-4.6zm0 13h4.6v4.6h-4.6zm0 10h4.6v4.6h-4.6zm0 9h4.6v4.6h-4.6zm0 9h4.6v4.6h-4.6zm0 5h4.6v4.6h-4.6zm0 1h4.6v4.6h-4.6zm0 77.5h4.6v4.6h-4.6zm0 22.5h4.6v4.6h-4.6zm0 11.5h4.6v4.6h-4.6zm0 25h4.6v4.6h-4.6zm0 11h4.6v4.6h-4.6zm0 13h4.6v4.6h-4.6zm0.5 -211h4.6v4.6h-4.6zm0 3h4.6v4.6h-4.6zm0 6.5h4.6v4.6h-4.6zm0 2.5h4.6v4.6h-4.6zm0 9h4.6v4.6h-4.6zm0 48h4.6v4.6h-4.6zm0 6.5h4.6v4.6h-4.6zm0 25h4.6v4.6h-4.6zm0 45h4.6v4.6h-4.6zm0 35.5h4.6v4.6h-4.6zm0 6.5h4.6v4.6h-4.6zm0 11.5h4.6v4.6h-4.6zm0 7.5h4.6v4.6h-4.6zm0.5 -209h4.6v4.6h-4.6zm0 7.5h4.6v4.6h-4.6zm0 8.5h4.6v4.6h-4.6zm0 1h4.6v4.6h-4.6zm0 3h4.6v4.6h-4.6zm0 17h4.6v4.6h-4.6zm0 6.5h4.6v4.6h-4.6zm0 8h4.6v4.6h-4.6zm0 96.5h4.6v4.6h-4.6zm0 4h4.6v4.6h-4.6zm0 9.5h4.6v4.6h-4.6zm0 79h4.6v4.6h-4.6zm0.5 -237h4.6v4.6h-4.6zm0 0.5h4.6v4.6h-4.6zm0 5h4.6v4.6h-4.6zm0 1h4.6v4.6h-4.6zm0 14.5h4.6v4.6h-4.6zm0 7.5h4.6v4.6h-4.6zm0 5h4.6v4.6h-4.6zm0 72.5h4.6v4.6h-4.6zm0 44h4.6v4.6h-4.6zm0 23h4.6v4.6h-4.6zm0 46h4.6v4.6h-4.6zm0 6h4.6v4.6h-4.6zm0.5 -229.5h4.6v4.6h-4.6zm0 2.5h4.6v4.6h-4.6zm0 4.5h4.6v4.6h-4.6zm0 1h4.6v4.6h-4.6zm0 5h4.6v4.6h-4.6zm0 2h4.6v4.6h-4.6zm0 1h4.6v4.6h-4.6zm0 2h4.6v4.6h-4.6zm0 7h4.6v4.6h-4.6zm0 6h4.6v4.6h-4.6zm0 10h4.6v4.6h-4.6zm0 17.5h4.6v4.6h-4.6zm0 78h4.6v4.6h-4.6zm0 3.5h4.6v4.6h-4.6zm0 23h4.6v4.6h-4.6zm0 27h4.6v4.6h-4.6zm0.5 -181.5h4.6v4.6h-4.6zm0 0.5h4.6v4.6h-4.6zm0 1.5h4.6v4.6h-4.6zm0 1.5h4.6v4.6h-4.6zm0 1h4.6v4.6h-4.6zm0 3.5h4.6v4.6h-4.6zm0 1h4.6v4.6h-4.6zm0 5h4.6v4.6h-4.6zm0 2h4.6v4.6h-4.6zm0 2.5h4.6v4.6h-4.6zm0 1h4.6v4.6h-4.6zm0 2.5h4.6v4.6h-4.6zm0 97h4.6v4.6h-4.6zm0 9h4.6v4.6h-4.6zm0 43h4.6v4.6h-4.6zm0 11.5h4.6v4.6h-4.6zm0 6.5h4.6v4.6h-4.6zm0 9h4.6v4.6h-4.6zm0 33.5h4.6v4.6h-4.6zm0.5 -232h4.6v4.6h-4.6zm0 1.5h4.6v4.6h-4.6zm0 13h4.6v4.6h-4.6zm0 13h4.6v4.6h-4.6zm0 74.5h4.6v4.6h-4.6zm0 22.5h4.6v4.6h-4.6zm0 22.5h4.6v4.6h-4.6zm0 57.5h4.6v4.6h-4.6zm0.5 -210h4.6v4.6h-4.6zm0 3.5h4.6v4.6h-4.6zm0 0.5h4.6v4.6h-4.6zm0 3.5h4.6v4.6h-4.6zm0 5h4.6v4.6h-4.6zm0 122.5h4.6v4.6h-4.6zm0 12h4.6v4.6h-4.6zm0 5h4.6v4.6h-4.6zm0 8h4.6v4.6h-4.6zm0 15.5h4.6v4.6h-4.6zm0 8.5h4.6v4.6h-4.6zm0 17h4.6v4.6h-4.6zm0 16h4.6v4.6h-4.6zm0 11h4.6v4.6h-4.6zm0.5 -231.5h4.6v4.6h-4.6zm0 8h4.6v4.6h-4.6zm0 1.5h4.6v4.6h-4.6zm0 3h4.6v4.6h-4.6zm0 3h4.6v4.6h-4.6zm0 2.5h4.6v4.6h-4.6zm0 8h4.6v4.6h-4.6zm0 0.5h4.6v4.6h-4.6zm0 16.5h4.6v4.6h-4.6zm0 4h4.6v4.6h-4.6zm0 5.5h4.6v4.6h-4.6zm0 7.5h4.6v4.6h-4.6zm0 0.5h4.6v4.6h-4.6zm0 71.5h4.6v4.6h-4.6zm0 31h4.6v4.6h-4.6zm0 48.5h4.6v4.6h-4.6zm0.5 -211.5h4.6v4.6h-4.6zm0 4h4.6v4.6h-4.6zm0 7h4.6v4.6h-4.6zm0 8.5h4.6v4.6h-4.6zm0 14h4.6v4.6h-4.6zm0 4h4.6v4.6h-4.6zm0 63h4.6v4.6h-4.6zm0 36.5h4.6v4.6h-4.6zm0 20.5h4.6v4.6h-4.6zm0 26h4.6v4.6h-4.6zm0 14.5h4.6v4.6h-4.6zm0 6h4.6v4.6h-4.6zm0.5 -201h4.6v4.6h-4.6zm0 3h4.6v4.6h-4.6zm0 0.5h4.6v4.6h-4.6zm0 8.5h4.6v4.6h-4.6zm0 9h4.6v4.6h-4.6zm0 2h4.6v4.6h-4.6zm0 2h4.6v4.6h-4.6zm0 1.5h4.6v4.6h-4.6zm0 8h4.6v4.6h-4.6zm0 4.5h4.6v4.6h-4.6zm0 21.5h4.6v4.6h-4.6zm0 7.5h4.6v4.6h-4.6zm0 30h4.6v4.6h-4.6zm0 32.5h4.6v4.6h-4.6zm0 4h4.6v4.6h-4.6zm0 45h4.6v4.6h-4.6zm0 42.5h4.6v4.6h-4.6zm0 4h4.6v4.6h-4.6zm0.5 -218h4.6v4.6h-4.6zm0 2h4.6v4.6h-4.6zm0 3.5h4.6v4.6h-4.6zm0 0.5h4.6v4.6h-4.6zm0 2h4.6v4.6h-4.6zm0 1h4.6v4.6h-4.6zm0 4h4.6v4.6h-4.6zm0 23h4.6v4.6h-4.6zm0 28h4.6v4.6h-4.6zm0 29h4.6v4.6h-4.6zm0 38.5h4.6v4.6h-4.6zm0 11h4.6v4.6h-4.6zm0 8.5h4.6v4.6h-4.6zm0 10.5h4.6v4.6h-4.6zm0 7h4.6v4.6h-4.6zm0 20h4.6v4.6h-4.6zm0 10h4.6v4.6h-4.6zm0 10.5h4.6v4.6h-4.6zm0 6h4.6v4.6h-4.6zm0.5 -215.5h4.6v4.6h-4.6zm0 4.5h4.6v4.6h-4.6zm0 0.5h4.6v4.6h-4.6zm0 1h4.6v4.6h-4.6zm0 6.5h4.6v4.6h-4.6zm0 2.5h4.6v4.6h-4.6zm0 1h4.6v4.6h-4.6zm0 7h4.6v4.6h-4.6zm0 24h4.6v4.6h-4.6zm0 3.5h4.6v4.6h-4.6zm0 10.5h4.6v4.6h-4.6zm0 29.5h4.6v4.6h-4.6zm0 75.5h4.6v4.6h-4.6zm0 61.5h4.6v4.6h-4.6zm0.5 -235h4.6v4.6h-4.6zm0 5h4.6v4.6h-4.6zm0 18h4.6v4.6h-4.6zm0 16h4.6v4.6h-4.6zm0 2h4.6v4.6h-4.6zm0 27.5h4.6v4.6h-4.6zm0 67.5h4.6v4.6h-4.6zm0 26.5h4.6v4.6h-4.6zm0 27h4.6v4.6h-4.6zm0.5 -191.5h4.6v4.6h-4.6zm0 3h4.6v4.6h-4.6zm0 2h4.6v4.6h-4.6zm0 3.5h4.6v4.6h-4.6zm0 6.5h4.6v4.6h-4.6zm0 7h4.6v4.6h-4.6zm0 2h4.6v4.6h-4.6zm0 0.5h4.6v4.6h-4.6zm0 11.5h4.6v4.6h-4.6zm0 6h4.6v4.6h-4.6zm0 16h4.6v4.6h-4.6zm0 10.5h4.6v4.6h-4.6zm0 1.5h4.6v4.6h-4.6zm0 9.5h4.6v4.6h-4.6zm0 45h4.6v4.6h-4.6zm0 23.5h4.6v4.6h-4.6zm0 4.5h4.6v4.6h-4.6zm0 9h4.6v4.6h-4.6zm0 6.5h4.6v4.6h-4.6zm0 8.5h4.6v4.6h-4.6zm0 58.5h4.6v4.6h-4.6zm0.5 -232.5h4.6v4.6h-4.6zm0 2.5h4.6v4.6h-4.6zm0 0.5h4.6v4.6h-4.6zm0 3h4.6v4.6h-4.6zm0 7h4.6v4.6h-4.6zm0 4h4.6v4.6h-4.6zm0 2.5h4.6v4.6h-4.6zm0 7.5h4.6v4.6h-4.6zm0 2h4.6v4.6h-4.6zm0 7.5h4.6v4.6h-4.6zm0 0.5h4.6v4.6h-4.6zm0 12h4.6v4.6h-4.6zm0 27h4.6v4.6h-4.6zm0 1.5h4.6v4.6h-4.6zm0 25h4.6v4.6h-4.6zm0 37.5h4.6v4.6h-4.6zm0 11h4.6v4.6h-4.6zm0 9h4.6v4.6h-4.6zm0 51.5h4.6v4.6h-4.6zm0.5 -209h4.6v4.6h-4.6zm0 6.5h4.6v4.6h-4.6zm0 6h4.6v4.6h-4.6zm0 6.5h4.6v4.6h-4.6zm0 2.5h4.6v4.6h-4.6zm0 17h4.6v4.6h-4.6zm0 17.5h4.6v4.6h-4.6zm0 36h4.6v4.6h-4.6zm0 47h4.6v4.6h-4.6zm0 15h4.6v4.6h-4.6zm0 6h4.6v4.6h-4.6zm0 15.5h4.6v4.6h-4.6zm0 3h4.6v4.6h-4.6zm0 34h4.6v4.6h-4.6zm0 16.5h4.6v4.6h-4.6zm0.5 -225.5h4.6v4.6h-4.6zm0 3.5h4.6v4.6h-4.6zm0 1h4.6v4.6h-4.6zm0 3.5h4.6v4.6h-4.6zm0 4h4.6v4.6h-4.6zm0 4h4.6v4.6h-4.6zm0 6.5h4.6v4.6h-4.6zm0 10h4.6v4.6h-4.6zm0 10h4.6v4.6h-4.6zm0 5h4.6v4.6h-4.6zm0 4h4.6v4.6h-4.6zm0 3.5h4.6v4.6h-4.6zm0 115h4.6v4.6h-4.6zm0 7h4.6v4.6h-4.6zm0.5 -178.5h4.6v4.6h-4.6zm0 9h4.6v4.6h-4.6zm0 7.5h4.6v4.6h-4.6zm0 0.5h4.6v4.6h-4.6zm0 0.5h4.6v4.6h-4.6zm0 1.5h4.6v4.6h-4.6zm0 12.5h4.6v4.6h-4.6zm0 13.5h4.6v4.6h-4.6zm0 62.5h4.6v4.6h-4.6zm0 15h4.6v4.6h-4.6zm0 45.5h4.6v4.6h-4.6zm0 65.5h4.6v4.6h-4.6zm0.5 -235.5h4.6v4.6h-4.6zm0 1.5h4.6v4.6h-4.6zm0 16.5h4.6v4.6h-4.6zm0 1h4.6v4.6h-4.6zm0 1h4.6v4.6h-4.6zm0 19h4.6v4.6h-4.6zm0 28.5h4.6v4.6h-4.6zm0 32.5h4.6v4.6h-4.6zm0 30.5h4.6v4.6h-4.6zm0 7.5h4.6v4.6h-4.6zm0 6h4.6v4.6h-4.6zm0 58.5h4.6v4.6h-4.6zm0 14h4.6v4.6h-4.6zm0 2h4.6v4.6h-4.6zm0.5 -222.5h4.6v4.6h-4.6zm0 6.5h4.6v4.6h-4.6zm0 8.5h4.6v4.6h-4.6zm0 17.5h4.6v4.6h-4.6zm0 2.5h4.6v4.6h-4.6zm0 59.5h4.6v4.6h-4.6zm0 62.5h4.6v4.6h-4.6zm0 12h4.6v4.6h-4.6zm0 17h4.6v4.6h-4.6zm0 25h4.6v4.6h-4.6zm0 17.5h4.6v4.6h-4.6zm0 0.5h4.6v4.6h-4.6zm0 10.5h4.6v4.6h-4.6zm0.5 -240h4.6v4.6h-4.6zm0 5h4.6v4.6h-4.6zm0 14h4.6v4.6h-4.6zm0 4.5h4.6v4.6h-4.6zm0 0.5h4.6v4.6h-4.6zm0 0.5h4.6v4.6h-4.6zm0 1.5h4.6v4.6h-4.6zm0 4h4.6v4.6h-4.6zm0 6.5h4.6v4.6h-4.6zm0 31.5h4.6v4.6h-4.6zm0 5.5h4.6v4.6h-4.6zm0 66h4.6v4.6h-4.6zm0 41h4.6v4.6h-4.6zm0 4.5h4.6v4.6h-4.6zm0 1.5h4.6v4.6h-4.6zm0 17h4.6v4.6h-4.6zm0 2.5h4.6v4.6h-4.6zm0 22h4.6v4.6h-4.6zm0.5 -219h4.6v4.6h-4.6zm0 7.5h4.6v4.6h-4.6zm0 3.5h4.6v4.6h-4.6zm0 5h4.6v4.6h-4.6zm0 4h4.6v4.6h-4.6zm0 16h4.6v4.6h-4.6zm0 50.5h4.6v4.6h-4.6zm0 46h4.6v4.6h-4.6zm0 3h4.6v4.6h-4.6zm0 1h4.6v4.6h-4.6zm0 23.5h4.6v4.6h-4.6zm0 20.5h4.6v4.6h-4.6zm0.5 -180h4.6v4.6h-4.6zm0 7h4.6v4.6h-4.6zm0 21h4.6v4.6h-4.6zm0 2.5h4.6v4.6h-4.6zm0 22h4.6v4.6h-4.6zm0 13h4.6v4.6h-4.6zm0 22.5h4.6v4.6h-4.6zm0 58.5h4.6v4.6h-4.6zm0 4.5h4.6v4.6h-4.6zm0 3h4.6v4.6h-4.6zm0 3.5h4.6v4.6h-4.6zm0 1h4.6v4.6h-4.6zm0 31h4.6v4.6h-4.6zm0 33h4.6v4.6h-4.6zm0.5 -230h4.6v4.6h-4.6zm0 3h4.6v4.6h-4.6zm0 5.5h4.6v4.6h-4.6zm0 3h4.6v4.6h-4.6zm0 7h4.6v4.6h-4.6zm0 8.5h4.6v4.6h-4.6zm0 3h4.6v4.6h-4.6zm0 11.5h4.6v4.6h-4.6zm0 14h4.6v4.6h-4.6zm0 74h4.6v4.6h-4.6zm0 39h4.6v4.6h-4.6zm0 1.5h4.6v4.6h-4.6zm0 11h4.6v4.6h-4.6zm0 1h4.6v4.6h-4.6zm0 16h4.6v4.6h-4.6zm0 8h4.6v4.6h-4.6zm0.5 -201.5h4.6v4.6h-4.6zm0 7h4.6v4.6h-4.6zm0 1.5h4.6v4.6h-4.6zm0 22.5h4.6v4.6h-4.6zm0 2.5h4.6v4.6h-4.6zm0 73.5h4.6v4.6h-4.6zm0 25.5h4.6v4.6h-4.6zm0 31.5h4.6v4.6h-4.6zm0 55h4.6v4.6h-4.6zm0 15.5h4.6v4.6h-4.6zm0.5 -235.5h4.6v4.6h-4.6zm0 2.5h4.6v4.6h-4.6zm0 13h4.6v4.6h-4.6zm0 4h4.6v4.6h-4.6zm0 10h4.6v4.6h-4.6zm0 10h4.6v4.6h-4.6zm0 21.5h4.6v4.6h-4.6zm0 100h4.6v4.6h-4.6zm0 7.5h4.6v4.6h-4.6zm0 6.5h4.6v4.6h-4.6zm0 9h4.6v4.6h-4.6zm0 5h4.6v4.6h-4.6zm0.5 -193.5h4.6v4.6h-4.6zm0 7h4.6v4.6h-4.6zm0 3h4.6v4.6h-4.6zm0 4.5h4.6v4.6h-4.6zm0 1h4.6v4.6h-4.6zm0 4h4.6v4.6h-4.6zm0 0.5h4.6v4.6h-4.6zm0 2.5h4.6v4.6h-4.6zm0 9.5h4.6v4.6h-4.6zm0 4.5h4.6v4.6h-4.6zm0 55.5h4.6v4.6h-4.6zm0 57h4.6v4.6h-4.6zm0 32h4.6v4.6h-4.6zm0.5 -156.5h4.6v4.6h-4.6zm0 5.5h4.6v4.6h-4.6zm0 19h4.6v4.6h-4.6zm0 174.5h4.6v4.6h-4.6zm0.5 -225.5h4.6v4.6h-4.6zm0 1h4.6v4.6h-4.6zm0 5.5h4.6v4.6h-4.6zm0 22.5h4.6v4.6h-4.6zm0 1h4.6v4.6h-4.6zm0 8.5h4.6v4.6h-4.6zm0 1.5h4.6v4.6h-4.6zm0 12h4.6v4.6h-4.6zm0 6h4.6v4.6h-4.6zm0 4h4.6v4.6h-4.6zm0 3h4.6v4.6h-4.6zm0 39.5h4.6v4.6h-4.6zm0 60h4.6v4.6h-4.6zm0 35h4.6v4.6h-4.6zm0.5 -197h4.6v4.6h-4.6zm0 3h4.6v4.6h-4.6zm0 6.5h4.6v4.6h-4.6zm0 10h4.6v4.6h-4.6zm0 0.5h4.6v4.6h-4.6zm0 4h4.6v4.6h-4.6zm0 5.5h4.6v4.6h-4.6zm0 2h4.6v4.6h-4.6zm0 19h4.6v4.6h-4.6zm0 5h4.6v4.6h-4.6zm0 132.5h4.6v4.6h-4.6zm0 42h4.6v4.6h-4.6zm0.5 -233h4.6v4.6h-4.6zm0 4h4.6v4.6h-4.6zm0 2h4.6v4.6h-4.6zm0 11h4.6v4.6h-4.6zm0 13h4.6v4.6h-4.6zm0 7.5h4.6v4.6h-4.6zm0 40h4.6v4.6h-4.6zm0 105.5h4.6v4.6h-4.6zm0 15h4.6v4.6h-4.6zm0 2.5h4.6v4.6h-4.6zm0.5 -200h4.6v4.6h-4.6zm0 1.5h4.6v4.6h-4.6zm0 1.5h4.6v4.6h-4.6zm0 8.5h4.6v4.6h-4.6zm0 4.5h4.6v4.6h-4.6zm0 5.5h4.6v4.6h-4.6zm0 2.5h4.6v4.6h-4.6zm0 13.5h4.6v4.6h-4.6zm0 107h4.6v4.6h-4.6zm0 62.5h4.6v4.6h-4.6zm0.5 -198.5h4.6v4.6h-4.6zm0 15.5h4.6v4.6h-4.6zm0 8h4.6v4.6h-4.6zm0 69.5h4.6v4.6h-4.6zm0 56h4.6v4.6h-4.6zm0 54.5h4.6v4.6h-4.6zm0.5 -210.5h4.6v4.6h-4.6zm0 0.5h4.6v4.6h-4.6zm0 9.5h4.6v4.6h-4.6zm0 4.5h4.6v4.6h-4.6zm0 42h4.6v4.6h-4.6zm0 45h4.6v4.6h-4.6zm0 6.5h4.6v4.6h-4.6zm0 24.5h4.6v4.6h-4.6zm0 44h4.6v4.6h-4.6zm0 22.5h4.6v4.6h-4.6zm0 16h4.6v4.6h-4.6zm0 5.5h4.6v4.6h-4.6zm0.5 -219h4.6v4.6h-4.6zm0 4h4.6v4.6h-4.6zm0 2.5h4.6v4.6h-4.6zm0 6h4.6v4.6h-4.6zm0 0.5h4.6v4.6h-4.6zm0 2.5h4.6v4.6h-4.6zm0 8h4.6v4.6h-4.6zm0 5h4.6v4.6h-4.6zm0 13h4.6v4.6h-4.6zm0 85.5h4.6v4.6h-4.6zm0 20.5h4.6v4.6h-4.6zm0 5.5h4.6v4.6h-4.6zm0 18h4.6v4.6h-4.6zm0 61.5h4.6v4.6h-4.6zm0.5 -230.5h4.6v4.6h-4.6zm0 0.5h4.6v4.6h-4.6zm0 6h4.6v4.6h-4.6zm0 9.5h4.6v4.6h-4.6zm0 3h4.6v4.6h-4.6zm0 1.5h4.6v4.6h-4.6zm0 104.5h4.6v4.6h-4.6zm0 18h4.6v4.6h-4.6zm0 18.5h4.6v4.6h-4.6zm0 16h4.6v4.6h-4.6zm0 8.5h4.6v4.6h-4.6zm0.5 -185.5h4.6v4.6h-4.6zm0 16.5h4.6v4.6h-4.6zm0 17.5h4.6v4.6h-4.6zm0 25h4.6v4.6h-4.6zm0 1.5h4.6v4.6h-4.6zm0 4.5h4.6v4.6h-4.6zm0 62.5h4.6v4.6h-4.6zm0 43.5h4.6v4.6h-4.6zm0 26.5h4.6v4.6h-4.6zm0.5 -203.5h4.6v4.6h-4.6zm0 0.5h4.6v4.6h-4.6zm0 2h4.6v4.6h-4.6zm0 3h4.6v4.6h-4.6zm0 4.5h4.6v4.6h-4.6zm0 9h4.6v4.6h-4.6zm0 7h4.6v4.6h-4.6zm0 23h4.6v4.6h-4.6zm0 5h4.6v4.6h-4.6zm0 3.5h4.6v4.6h-4.6zm0 113h4.6v4.6h-4.6zm0 0.5h4.6v4.6h-4.6zm0 8h4.6v4.6h-4.6zm0 36.5h4.6v4.6h-4.6zm0.5 -205.5h4.6v4.6h-4.6zm0 4.5h4.6v4.6h-4.6zm0 2.5h4.6v4.6h-4.6zm0 2.5h4.6v4.6h-4.6zm0 3h4.6v4.6h-4.6zm0 9.5h4.6v4.6h-4.6zm0 21h4.6v4.6h-4.6zm0 3.5h4.6v4.6h-4.6zm0 89.5h4.6v4.6h-4.6zm0.5 -142.5h4.6v4.6h-4.6zm0 2h4.6v4.6h-4.6zm0 18h4.6v4.6h-4.6zm0 12h4.6v4.6h-4.6zm0.5 -33.5h4.6v4.6h-4.6zm0 2h4.6v4.6h-4.6zm0 2h4.6v4.6h-4.6zm0 11.5h4.6v4.6h-4.6zm0 2.5h4.6v4.6h-4.6zm0 1h4.6v4.6h-4.6zm0 4h4.6v4.6h-4.6zm0 4.5h4.6v4.6h-4.6zm0 1h4.6v4.6h-4.6zm0 1.5h4.6v4.6h-4.6zm0 8.5h4.6v4.6h-4.6zm0 93h4.6v4.6h-4.6zm0 16h4.6v4.6h-4.6zm0 1h4.6v4.6h-4.6zm0.5 -146h4.6v4.6h-4.6zm0 4h4.6v4.6h-4.6zm0 2h4.6v4.6h-4.6zm0 15h4.6v4.6h-4.6zm0 2.5h4.6v4.6h-4.6zm0 2h4.6v4.6h-4.6zm0 2h4.6v4.6h-4.6zm0 26.5h4.6v4.6h-4.6zm0 94h4.6v4.6h-4.6zm0 29h4.6v4.6h-4.6zm0 25.5h4.6v4.6h-4.6zm0 9h4.6v4.6h-4.6zm0 9.5h4.6v4.6h-4.6zm0.5 -214h4.6v4.6h-4.6zm0 0.5h4.6v4.6h-4.6zm0 3h4.6v4.6h-4.6zm0 1.5h4.6v4.6h-4.6zm0 10.5h4.6v4.6h-4.6zm0 19h4.6v4.6h-4.6zm0 9.5h4.6v4.6h-4.6zm0 121.5h4.6v4.6h-4.6zm0 3h4.6v4.6h-4.6zm0.5 -177h4.6v4.6h-4.6zm0 7h4.6v4.6h-4.6zm0 0.5h4.6v4.6h-4.6zm0 3h4.6v4.6h-4.6zm0 12.5h4.6v4.6h-4.6zm0 2.5h4.6v4.6h-4.6zm0 5h4.6v4.6h-4.6zm0 3h4.6v4.6h-4.6zm0 40h4.6v4.6h-4.6zm0 109.5h4.6v4.6h-4.6zm0 18h4.6v4.6h-4.6zm0.5 -202.5h4.6v4.6h-4.6zm0 6.5h4.6v4.6h-4.6zm0 10h4.6v4.6h-4.6zm0 6.5h4.6v4.6h-4.6zm0 2h4.6v4.6h-4.6zm0 19.5h4.6v4.6h-4.6zm0 108.5h4.6v4.6h-4.6zm0.5 -153h4.6v4.6h-4.6zm0 2h4.6v4.6h-4.6zm0 10h4.6v4.6h-4.6zm0 1.5h4.6v4.6h-4.6zm0 5h4.6v4.6h-4.6zm0 10.5h4.6v4.6h-4.6zm0 17h4.6v4.6h-4.6zm0 60.5h4.6v4.6h-4.6zm0 5.5h4.6v4.6h-4.6zm0 79h4.6v4.6h-4.6zm0 29.5h4.6v4.6h-4.6zm0.5 -203h4.6v4.6h-4.6zm0 33.5h4.6v4.6h-4.6zm0 15h4.6v4.6h-4.6zm0 92h4.6v4.6h-4.6zm0.5 -157.5h4.6v4.6h-4.6zm0 7.5h4.6v4.6h-4.6zm0 12.5h4.6v4.6h-4.6zm0 3h4.6v4.6h-4.6zm0 173h4.6v4.6h-4.6zm0.5 -179.5h4.6v4.6h-4.6zm0 1h4.6v4.6h-4.6zm0 1.5h4.6v4.6h-4.6zm0 9h4.6v4.6h-4.6zm0 16.5h4.6v4.6h-4.6zm0 124h4.6v4.6h-4.6zm0 10h4.6v4.6h-4.6zm0 0.5h4.6v4.6h-4.6zm0 43.5h4.6v4.6h-4.6zm0 4.5h4.6v4.6h-4.6zm0.5 -81h4.6v4.6h-4.6zm0 88h4.6v4.6h-4.6zm0.5 -208h4.6v4.6h-4.6zm0 6.5h4.6v4.6h-4.6zm0 24.5h4.6v4.6h-4.6zm0 80h4.6v4.6h-4.6zm0 21h4.6v4.6h-4.6zm0 79h4.6v4.6h-4.6zm0.5 -223.5h4.6v4.6h-4.6zm0 13.5h4.6v4.6h-4.6zm0 102h4.6v4.6h-4.6zm0.5 -129.5h4.6v4.6h-4.6zm0 0.5h4.6v4.6h-4.6zm0 13.5h4.6v4.6h-4.6zm0 48h4.6v4.6h-4.6zm0 67h4.6v4.6h-4.6zm0.5 -128.5h4.6v4.6h-4.6zm0 7h4.6v4.6h-4.6zm0 1.5h4.6v4.6h-4.6zm0 11h4.6v4.6h-4.6zm0 6.5h4.6v4.6h-4.6zm0 17h4.6v4.6h-4.6zm0 1h4.6v4.6h-4.6zm0 64h4.6v4.6h-4.6zm0 27.5h4.6v4.6h-4.6zm0 66h4.6v4.6h-4.6zm0.5 -197.5h4.6v4.6h-4.6zm0 10.5h4.6v4.6h-4.6zm0 27h4.6v4.6h-4.6zm0 7.5h4.6v4.6h-4.6zm0 102.5h4.6v4.6h-4.6zm0 6h4.6v4.6h-4.6zm0 57.5h4.6v4.6h-4.6zm0.5 -209.5h4.6v4.6h-4.6zm0 10h4.6v4.6h-4.6zm0 175.5h4.6v4.6h-4.6zm0.5 -192.5h4.6v4.6h-4.6zm0 0.5h4.6v4.6h-4.6zm0 2h4.6v4.6h-4.6zm0 10h4.6v4.6h-4.6zm0 9h4.6v4.6h-4.6zm0 0.5h4.6v4.6h-4.6zm0 2.5h4.6v4.6h-4.6zm0 4.5h4.6v4.6h-4.6zm0.5 -23h4.6v4.6h-4.6zm0 2h4.6v4.6h-4.6zm0 23.5h4.6v4.6h-4.6zm0.5 -27.5h4.6v4.6h-4.6zm0 2.5h4.6v4.6h-4.6zm0 21h4.6v4.6h-4.6zm0 108h4.6v4.6h-4.6zm0.5 -127h4.6v4.6h-4.6zm0 2.5h4.6v4.6h-4.6zm0 20.5h4.6v4.6h-4.6zm0.5 -28.5h4.6v4.6h-4.6zm0 53h4.6v4.6h-4.6zm0 2h4.6v4.6h-4.6zm0.5 -33h4.6v4.6h-4.6zm0 1h4.6v4.6h-4.6zm0.5 -19h4.6v4.6h-4.6zm0 160h4.6v4.6h-4.6zm0 59.5h4.6v4.6h-4.6zm0.5 -224.5h4.6v4.6h-4.6zm0 4h4.6v4.6h-4.6zm0 228h4.6v4.6h-4.6zm0.5 -232.5h4.6v4.6h-4.6zm0 12h4.6v4.6h-4.6zm0 199.5h4.6v4.6h-4.6zm0 15.5h4.6v4.6h-4.6zm0.5 -226h4.6v4.6h-4.6zm0 10h4.6v4.6h-4.6zm0 19.5h4.6v4.6h-4.6zm0 52h4.6v4.6h-4.6zm0.5 -68.5h4.6v4.6h-4.6zm0 1.5h4.6v4.6h-4.6zm0 13h4.6v4.6h-4.6zm0 170h4.6v4.6h-4.6zm0.5 -193h4.6v4.6h-4.6zm0 4h4.6v4.6h-4.6zm0 2.5h4.6v4.6h-4.6zm0 1h4.6v4.6h-4.6zm0.5 1.5h4.6v4.6h-4.6zm0 3h4.6v4.6h-4.6zm0 20.5h4.6v4.6h-4.6zm0 34h4.6v4.6h-4.6zm0 114h4.6v4.6h-4.6zm0.5 -181h4.6v4.6h-4.6zm0 4.5h4.6v4.6h-4.6zm0 14.5h4.6v4.6h-4.6zm0 135h4.6v4.6h-4.6zm0.5 -160.5h4.6v4.6h-4.6zm0 5h4.6v4.6h-4.6zm0 33h4.6v4.6h-4.6zm0 129h4.6v4.6h-4.6zm0 70.5h4.6v4.6h-4.6zm0.5 -229h4.6v4.6h-4.6zm0.5 -3h4.6v4.6h-4.6zm0 11.5h4.6v4.6h-4.6zm0.5 -14.5h4.6v4.6h-4.6zm0 4h4.6v4.6h-4.6zm0 11h4.6v4.6h-4.6zm0 212.5h4.6v4.6h-4.6zm0.5 -209h4.6v4.6h-4.6zm0 24h4.6v4.6h-4.6zm0.5 -39.5h4.6v4.6h-4.6zm0 6h4.6v4.6h-4.6zm0.5 126h4.6v4.6h-4.6zm0.5 -105.5h4.6v4.6h-4.6zm0 137h4.6v4.6h-4.6zm0.5 -148h4.6v4.6h-4.6zm0.5 -13h4.6v4.6h-4.6zm0.5 -5h4.6v4.6h-4.6zm0 228.5h4.6v4.6h-4.6zm0.5 -214h4.6v4.6h-4.6zm0 11h4.6v4.6h-4.6zm0 16.5h4.6v4.6h-4.6zm0.5 -32.5h4.6v4.6h-4.6zm0 4h4.6v4.6h-4.6zm0 137h4.6v4.6h-4.6zm0.5 -152.5h4.6v4.6h-4.6zm0.5 1h4.6v4.6h-4.6zm0 0.5h4.6v4.6h-4.6zm0 9.5h4.6v4.6h-4.6zm0 8.5h4.6v4.6h-4.6zm0.5 3.5h4.6v4.6h-4.6zm0 11h4.6v4.6h-4.6zm1.5 106.5h4.6v4.6h-4.6zm1.5 69.5h4.6v4.6h-4.6zm0.5 12h4.6v4.6h-4.6zm7.5 -94.5h4.6v4.6h-4.6z"/></g>
<rect x="842.0" y="58.0" width="4.0" height="360.0" fill="#000"/>
<rect x="745.0" y="275.6" width="320.0" height="3.8" fill="#000"/>
<text transform="translate(719,100) scale(0.96,1.095)" font-family='"Liberation Sans", Arial, sans-serif' font-weight="bold" font-size="35" text-anchor="start" fill="#000">2.4%</text>
<text transform="translate(1063,100) scale(0.96,1.095)" font-family='"Liberation Sans", Arial, sans-serif' font-weight="bold" font-size="35" text-anchor="end" fill="#000">67.4%</text>
<text transform="translate(719,400) scale(0.96,1.095)" font-family='"Liberation Sans", Arial, sans-serif' font-weight="bold" font-size="35" text-anchor="start" fill="#000">3.9%</text>
<text transform="translate(1063,399) scale(0.96,1.095)" font-family='"Liberation Sans", Arial, sans-serif' font-weight="bold" font-size="35" text-anchor="end" fill="#000">26.3%</text>
<rect x="1279.0" y="51.5" width="6.0" height="371.0" fill="#000"/>
<rect x="1279.0" y="416.5" width="364.0" height="6.0" fill="#000"/>
<rect x="1279.0" y="51.5" width="364.0" height="4.0" fill="#000"/>
<rect x="1639.0" y="51.5" width="4.0" height="371.0" fill="#000"/>
<rect x="1312.5" y="419.5" width="4.0" height="19.0" fill="#000"/>
<rect x="1332.8" y="419.5" width="8.0" height="19.0" fill="#000"/>
<rect x="1357.1" y="419.5" width="4.0" height="19.0" fill="#000"/>
<rect x="1439.7" y="419.5" width="4.0" height="19.0" fill="#000"/>
<rect x="1525.4" y="419.5" width="4.0" height="19.0" fill="#000"/>
<rect x="1605.5" y="419.5" width="4.0" height="19.0" fill="#000"/>
<rect x="1312.5" y="419.5" width="48.6" height="10.0" fill="#000"/>
<rect x="1296.5" y="419.5" width="3.4" height="10.5" fill="#000"/>
<rect x="1373.6" y="419.5" width="3.4" height="10.5" fill="#000"/>
<rect x="1390.2" y="419.5" width="3.4" height="10.5" fill="#000"/>
<rect x="1400.7" y="419.5" width="3.4" height="10.5" fill="#000"/>
<rect x="1408.7" y="419.5" width="3.4" height="10.5" fill="#000"/>
<rect x="1417.2" y="419.5" width="3.4" height="10.5" fill="#000"/>
<rect x="1422.9" y="419.5" width="3.4" height="10.5" fill="#000"/>
<rect x="1428.4" y="419.5" width="3.4" height="10.5" fill="#000"/>
<rect x="1434.4" y="419.5" width="3.4" height="10.5" fill="#000"/>
<rect x="1465.8" y="419.5" width="3.4" height="10.5" fill="#000"/>
<rect x="1549.8" y="419.5" width="3.4" height="10.5" fill="#000"/>
<rect x="1480.9" y="419.5" width="3.4" height="10.5" fill="#000"/>
<rect x="1563.9" y="419.5" width="3.4" height="10.5" fill="#000"/>
<rect x="1491.6" y="419.5" width="3.4" height="10.5" fill="#000"/>
<rect x="1574.0" y="419.5" width="3.4" height="10.5" fill="#000"/>
<rect x="1499.9" y="419.5" width="3.4" height="10.5" fill="#000"/>
<rect x="1581.7" y="419.5" width="3.4" height="10.5" fill="#000"/>
<rect x="1506.7" y="419.5" width="3.4" height="10.5" fill="#000"/>
<rect x="1588.1" y="419.5" width="3.4" height="10.5" fill="#000"/>
<rect x="1512.4" y="419.5" width="3.4" height="10.5" fill="#000"/>
<rect x="1593.4" y="419.5" width="3.4" height="10.5" fill="#000"/>
<rect x="1517.4" y="419.5" width="3.4" height="10.5" fill="#000"/>
<rect x="1598.1" y="419.5" width="3.4" height="10.5" fill="#000"/>
<rect x="1521.8" y="419.5" width="3.4" height="10.5" fill="#000"/>
<rect x="1602.2" y="419.5" width="3.4" height="10.5" fill="#000"/>
<rect x="1630.0" y="419.5" width="3.4" height="10.5" fill="#000"/>
<rect x="1263.0" y="382.9" width="19.0" height="4.0" fill="#000"/>
<rect x="1263.0" y="359.6" width="19.0" height="8.0" fill="#000"/>
<rect x="1263.0" y="340.6" width="19.0" height="4.0" fill="#000"/>
<rect x="1263.0" y="255.9" width="19.0" height="4.0" fill="#000"/>
<rect x="1263.0" y="169.4" width="19.0" height="4.0" fill="#000"/>
<rect x="1263.0" y="86.4" width="19.0" height="4.0" fill="#000"/>
<rect x="1272.0" y="359.6" width="10.0" height="27.4" fill="#000"/>
<rect x="1271.5" y="403.6" width="10.5" height="3.4" fill="#000"/>
<rect x="1271.5" y="321.4" width="10.5" height="3.4" fill="#000"/>
<rect x="1271.5" y="306.5" width="10.5" height="3.4" fill="#000"/>
<rect x="1271.5" y="293.9" width="10.5" height="3.4" fill="#000"/>
<rect x="1271.5" y="282.2" width="10.5" height="3.4" fill="#000"/>
<rect x="1271.5" y="274.3" width="10.5" height="3.4" fill="#000"/>
<rect x="1271.5" y="268.6" width="10.5" height="3.4" fill="#000"/>
<rect x="1271.5" y="262.8" width="10.5" height="3.4" fill="#000"/>
<rect x="1271.5" y="259.2" width="10.5" height="3.4" fill="#000"/>
<rect x="1271.5" y="230.1" width="10.5" height="3.4" fill="#000"/>
<rect x="1271.5" y="144.7" width="10.5" height="3.4" fill="#000"/>
<rect x="1271.5" y="214.9" width="10.5" height="3.4" fill="#000"/>
<rect x="1271.5" y="130.1" width="10.5" height="3.4" fill="#000"/>
<rect x="1271.5" y="204.1" width="10.5" height="3.4" fill="#000"/>
<rect x="1271.5" y="119.7" width="10.5" height="3.4" fill="#000"/>
<rect x="1271.5" y="195.7" width="10.5" height="3.4" fill="#000"/>
<rect x="1271.5" y="111.7" width="10.5" height="3.4" fill="#000"/>
<rect x="1271.5" y="188.9" width="10.5" height="3.4" fill="#000"/>
<rect x="1271.5" y="105.1" width="10.5" height="3.4" fill="#000"/>
<rect x="1271.5" y="183.1" width="10.5" height="3.4" fill="#000"/>
<rect x="1271.5" y="99.5" width="10.5" height="3.4" fill="#000"/>
<rect x="1271.5" y="178.1" width="10.5" height="3.4" fill="#000"/>
<rect x="1271.5" y="94.7" width="10.5" height="3.4" fill="#000"/>
<rect x="1271.5" y="173.7" width="10.5" height="3.4" fill="#000"/>
<rect x="1271.5" y="90.5" width="10.5" height="3.4" fill="#000"/>
<rect x="1271.5" y="61.7" width="10.5" height="3.4" fill="#000"/>
<text x="1315.5" y="478.8" font-family='"Liberation Sans", Arial, sans-serif' font-size="25.5" text-anchor="middle" fill="#111">-10<tspan dy="-15.3" font-size="20">2</tspan></text>
<text x="1442.2" y="478.8" font-family='"Liberation Sans", Arial, sans-serif' font-size="25.5" text-anchor="middle" fill="#111">10<tspan dy="-15.3" font-size="20">3</tspan></text>
<text x="1527.9" y="478.8" font-family='"Liberation Sans", Arial, sans-serif' font-size="25.5" text-anchor="middle" fill="#111">10<tspan dy="-15.3" font-size="20">4</tspan></text>
<text x="1608.0" y="478.8" font-family='"Liberation Sans", Arial, sans-serif' font-size="25.5" text-anchor="middle" fill="#111">10<tspan dy="-15.3" font-size="20">5</tspan></text>
<text x="1259.4" y="396.1" font-family='"Liberation Sans", Arial, sans-serif' font-size="25.5" text-anchor="end" fill="#111">-10<tspan dy="-16.6" font-size="20">2</tspan></text>
<text x="1257.4" y="269.1" font-family='"Liberation Sans", Arial, sans-serif' font-size="25.5" text-anchor="end" fill="#111">10<tspan dy="-16.6" font-size="20">3</tspan></text>
<text x="1257.4" y="182.6" font-family='"Liberation Sans", Arial, sans-serif' font-size="25.5" text-anchor="end" fill="#111">10<tspan dy="-16.6" font-size="20">4</tspan></text>
<text x="1257.4" y="99.6" font-family='"Liberation Sans", Arial, sans-serif' font-size="25.5" text-anchor="end" fill="#111">10<tspan dy="-16.6" font-size="20">5</tspan></text>
<text transform="translate(1461.2,520) scale(1.0,1)" font-family='"Liberation Sans", Arial, sans-serif' font-size="33.5" text-anchor="middle" fill="#111">CD8 PerCP-Cy5-5-A</text>
<text transform="translate(1177.5,236.2) rotate(-90) scale(1.028,1)" font-family='"Liberation Sans", Arial, sans-serif' font-size="33.5" text-anchor="middle" fill="#111">CD4 FITC-A</text>
<text transform="translate(1142.6,32.4) scale(0.855,1)" font-family='"Liberation Sans", Arial, sans-serif' font-size="44" fill="#000" stroke="#000" stroke-width="0.7">C</text>
<clipPath id="cC"><rect x="1285" y="56" width="354" height="361"/></clipPath>
<g clip-path="url(#cC)"><path fill="#757575" filter="url(#bl)" shape-rendering="auto" d="m1291 315h4.6v4.6h-4.6zm0 22h4.6v4.6h-4.6zm0 18h4.6v4.6h-4.6zm4.5 -23h4.6v4.6h-4.6zm3 12h4.6v4.6h-4.6zm1.5 -6h4.6v4.6h-4.6zm6 -11h4.6v4.6h-4.6zm0 7h4.6v4.6h-4.6zm0 6.5h4.6v4.6h-4.6zm0 25.5h4.6v4.6h-4.6zm3 -33h4.6v4.6h-4.6zm1 6.5h4.6v4.6h-4.6zm1 20h4.6v4.6h-4.6zm0.5 -6.5h4.6v4.6h-4.6zm3.5 -92.5h4.6v4.6h-4.6zm0 46.5h4.6v4.6h-4.6zm1.5 39.5h4.6v4.6h-4.6zm0.5 -6.5h4.6v4.6h-4.6zm0.5 0.5h4.6v4.6h-4.6zm0.5 -105.5h4.6v4.6h-4.6zm1 108.5h4.6v4.6h-4.6zm0.5 6h4.6v4.6h-4.6zm1 -140h4.6v4.6h-4.6zm0 4.5h4.6v4.6h-4.6zm1 141h4.6v4.6h-4.6zm0.5 -32.5h4.6v4.6h-4.6zm0.5 4.5h4.6v4.6h-4.6zm0 1h4.6v4.6h-4.6zm0.5 -104.5h4.6v4.6h-4.6zm0.5 126h4.6v4.6h-4.6zm0.5 -12h4.6v4.6h-4.6zm2 21h4.6v4.6h-4.6zm1 -21.5h4.6v4.6h-4.6zm0.5 3.5h4.6v4.6h-4.6zm0 7h4.6v4.6h-4.6zm0.5 -22.5h4.6v4.6h-4.6zm0.5 -81.5h4.6v4.6h-4.6zm0.5 -31h4.6v4.6h-4.6zm0 117h4.6v4.6h-4.6zm0.5 5h4.6v4.6h-4.6zm0 4.5h4.6v4.6h-4.6zm4 -3.5h4.6v4.6h-4.6zm0.5 -75h4.6v4.6h-4.6zm0 18h4.6v4.6h-4.6zm0.5 31h4.6v4.6h-4.6zm0 28h4.6v4.6h-4.6zm0.5 3.5h4.6v4.6h-4.6zm2 -127h4.6v4.6h-4.6zm0 5h4.6v4.6h-4.6zm0 52h4.6v4.6h-4.6zm2.5 -47.5h4.6v4.6h-4.6zm0 8.5h4.6v4.6h-4.6zm0 34.5h4.6v4.6h-4.6zm0 68.5h4.6v4.6h-4.6zm0.5 -91.5h4.6v4.6h-4.6zm0.5 88h4.6v4.6h-4.6zm0.5 -4.5h4.6v4.6h-4.6zm1 -4.5h4.6v4.6h-4.6zm1.5 20.5h4.6v4.6h-4.6zm2 1.5h4.6v4.6h-4.6zm0 10.5h4.6v4.6h-4.6zm1 -16.5h4.6v4.6h-4.6zm0.5 0.5h4.6v4.6h-4.6zm0.5 -126h4.6v4.6h-4.6zm0 53.5h4.6v4.6h-4.6zm0 3.5h4.6v4.6h-4.6zm1.5 65.5h4.6v4.6h-4.6zm2 -98h4.6v4.6h-4.6zm0 88.5h4.6v4.6h-4.6zm2.5 -74.5h4.6v4.6h-4.6zm1 -31.5h4.6v4.6h-4.6zm3 123.5h4.6v4.6h-4.6zm2 -114h4.6v4.6h-4.6zm0 11h4.6v4.6h-4.6zm0 22.5h4.6v4.6h-4.6zm0 75h4.6v4.6h-4.6zm0 5.5h4.6v4.6h-4.6zm2.5 -123.5h4.6v4.6h-4.6zm1.5 124.5h4.6v4.6h-4.6zm4 -126.5h4.6v4.6h-4.6zm11 22.5h4.6v4.6h-4.6zm6.5 114.5h4.6v4.6h-4.6zm2 4.5h4.6v4.6h-4.6zm3 -108h4.6v4.6h-4.6zm8 74h4.6v4.6h-4.6zm16.5 12h4.6v4.6h-4.6zm5.5 -37h4.6v4.6h-4.6zm1 54.5h4.6v4.6h-4.6zm7.5 -22.5h4.6v4.6h-4.6zm8 25h4.6v4.6h-4.6zm3 -37.5h4.6v4.6h-4.6zm5.5 29h4.6v4.6h-4.6zm5.5 -34h4.6v4.6h-4.6zm0 19.5h4.6v4.6h-4.6zm9 3h4.6v4.6h-4.6zm0 9h4.6v4.6h-4.6zm15 1h4.6v4.6h-4.6z"/></g>
<g clip-path="url(#cC)"><path fill="#0000ff" filter="url(#bl)" shape-rendering="auto" d="m1284 306.5h4.6v4.6h-4.6zm0 41h4.6v4.6h-4.6zm0.5 -175.5h4.6v4.6h-4.6zm0 15.5h4.6v4.6h-4.6zm1 147h4.6v4.6h-4.6zm0.5 -164.5h4.6v4.6h-4.6zm0.5 168h4.6v4.6h-4.6zm1 -163h4.6v4.6h-4.6zm1.5 161.5h4.6v4.6h-4.6zm2 -178.5h4.6v4.6h-4.6zm0 185.5h4.6v4.6h-4.6zm0.5 -167h4.6v4.6h-4.6zm1 4.5h4.6v4.6h-4.6zm0.5 -3h4.6v4.6h-4.6zm0 133.5h4.6v4.6h-4.6zm0 24h4.6v4.6h-4.6zm1.5 12h4.6v4.6h-4.6zm1 -171.5h4.6v4.6h-4.6zm0 12.5h4.6v4.6h-4.6zm0.5 3h4.6v4.6h-4.6zm0.5 135h4.6v4.6h-4.6zm0.5 -152h4.6v4.6h-4.6zm0.5 6.5h4.6v4.6h-4.6zm0 138.5h4.6v4.6h-4.6zm0.5 5.5h4.6v4.6h-4.6zm1 -139.5h4.6v4.6h-4.6zm0 131.5h4.6v4.6h-4.6zm0 10.5h4.6v4.6h-4.6zm0.5 7h4.6v4.6h-4.6zm1 -164h4.6v4.6h-4.6zm0 141h4.6v4.6h-4.6zm1.5 -143h4.6v4.6h-4.6zm0 2.5h4.6v4.6h-4.6zm0 179h4.6v4.6h-4.6zm1 -29.5h4.6v4.6h-4.6zm1 -144h4.6v4.6h-4.6zm0 151h4.6v4.6h-4.6zm0.5 -150.5h4.6v4.6h-4.6zm0.5 148h4.6v4.6h-4.6zm0.5 23.5h4.6v4.6h-4.6zm0.5 -170h4.6v4.6h-4.6zm0.5 -16.5h4.6v4.6h-4.6zm0 15.5h4.6v4.6h-4.6zm1 -13h4.6v4.6h-4.6zm1 165.5h4.6v4.6h-4.6zm0.5 -148.5h4.6v4.6h-4.6zm0 7h4.6v4.6h-4.6zm0.5 142.5h4.6v4.6h-4.6zm0.5 -169h4.6v4.6h-4.6zm0 7h4.6v4.6h-4.6zm0 1h4.6v4.6h-4.6zm0 14h4.6v4.6h-4.6zm0 138.5h4.6v4.6h-4.6zm0 0.5h4.6v4.6h-4.6zm0 33h4.6v4.6h-4.6zm0.5 -162h4.6v4.6h-4.6zm1.5 -15h4.6v4.6h-4.6zm0.5 -25h4.6v4.6h-4.6zm0 177.5h4.6v4.6h-4.6zm1 -163h4.6v4.6h-4.6zm0.5 3.5h4.6v4.6h-4.6zm0 10h4.6v4.6h-4.6zm0.5 -17h4.6v4.6h-4.6zm0.5 13.5h4.6v4.6h-4.6zm1 -7h4.6v4.6h-4.6zm0 3.5h4.6v4.6h-4.6zm0 173.5h4.6v4.6h-4.6zm0.5 -3h4.6v4.6h-4.6zm0.5 -171.5h4.6v4.6h-4.6zm0 160.5h4.6v4.6h-4.6zm0.5 -158.5h4.6v4.6h-4.6zm0 13h4.6v4.6h-4.6zm0.5 -7.5h4.6v4.6h-4.6zm0 158.5h4.6v4.6h-4.6zm0.5 -36h4.6v4.6h-4.6zm0.5 -142h4.6v4.6h-4.6zm0 9.5h4.6v4.6h-4.6zm0 17h4.6v4.6h-4.6zm0 141h4.6v4.6h-4.6zm0.5 -165.5h4.6v4.6h-4.6zm0 11h4.6v4.6h-4.6zm0.5 -4.5h4.6v4.6h-4.6zm0 24.5h4.6v4.6h-4.6zm0.5 -25.5h4.6v4.6h-4.6zm0 33.5h4.6v4.6h-4.6zm1 -27.5h4.6v4.6h-4.6zm0 4h4.6v4.6h-4.6zm0 10h4.6v4.6h-4.6zm0 125.5h4.6v4.6h-4.6zm0 6h4.6v4.6h-4.6zm0 1.5h4.6v4.6h-4.6zm0 21h4.6v4.6h-4.6zm0 2.5h4.6v4.6h-4.6zm0.5 -16.5h4.6v4.6h-4.6zm0.5 -159h4.6v4.6h-4.6zm0 145.5h4.6v4.6h-4.6zm0 4h4.6v4.6h-4.6zm0.5 -171.5h4.6v4.6h-4.6zm0 24h4.6v4.6h-4.6zm0.5 4.5h4.6v4.6h-4.6zm0 147.5h4.6v4.6h-4.6zm0.5 -154h4.6v4.6h-4.6zm0.5 15.5h4.6v4.6h-4.6zm0 154h4.6v4.6h-4.6zm0.5 -23h4.6v4.6h-4.6zm0 1.5h4.6v4.6h-4.6zm0 1.5h4.6v4.6h-4.6zm1.5 -149h4.6v4.6h-4.6zm0.5 -5h4.6v4.6h-4.6zm0.5 6.5h4.6v4.6h-4.6zm0 7.5h4.6v4.6h-4.6zm0.5 -6h4.6v4.6h-4.6zm0 7.5h4.6v4.6h-4.6zm0 15h4.6v4.6h-4.6zm0 135.5h4.6v4.6h-4.6zm0.5 -8.5h4.6v4.6h-4.6zm0.5 -168.5h4.6v4.6h-4.6zm0 19h4.6v4.6h-4.6zm0 3h4.6v4.6h-4.6zm0.5 6h4.6v4.6h-4.6zm0.5 115h4.6v4.6h-4.6zm0.5 -136.5h4.6v4.6h-4.6zm0 18h4.6v4.6h-4.6zm0.5 147h4.6v4.6h-4.6zm0.5 -138h4.6v4.6h-4.6zm1 -22h4.6v4.6h-4.6zm0 15.5h4.6v4.6h-4.6zm0 145h4.6v4.6h-4.6zm1 -165.5h4.6v4.6h-4.6zm0 13h4.6v4.6h-4.6zm0 144h4.6v4.6h-4.6zm0.5 -134.5h4.6v4.6h-4.6zm0 152h4.6v4.6h-4.6zm0 13h4.6v4.6h-4.6zm0.5 -173.5h4.6v4.6h-4.6zm0 6h4.6v4.6h-4.6zm0 135h4.6v4.6h-4.6zm0.5 -145.5h4.6v4.6h-4.6zm0 141.5h4.6v4.6h-4.6zm0.5 -138.5h4.6v4.6h-4.6zm0.5 15h4.6v4.6h-4.6zm0.5 -20h4.6v4.6h-4.6zm0 3h4.6v4.6h-4.6zm0 7h4.6v4.6h-4.6zm0 5.5h4.6v4.6h-4.6zm0 150h4.6v4.6h-4.6zm0.5 -34h4.6v4.6h-4.6zm0 9h4.6v4.6h-4.6zm0.5 -14h4.6v4.6h-4.6zm0.5 -122h4.6v4.6h-4.6zm0 3.5h4.6v4.6h-4.6zm0 141.5h4.6v4.6h-4.6zm0.5 -146.5h4.6v4.6h-4.6zm0 4h4.6v4.6h-4.6zm0 4.5h4.6v4.6h-4.6zm0 0.5h4.6v4.6h-4.6zm0 1.5h4.6v4.6h-4.6zm0 1.5h4.6v4.6h-4.6zm0.5 -14h4.6v4.6h-4.6zm0.5 7h4.6v4.6h-4.6zm0 1.5h4.6v4.6h-4.6zm0 4.5h4.6v4.6h-4.6zm0 25.5h4.6v4.6h-4.6zm0 117.5h4.6v4.6h-4.6zm0.5 -167h4.6v4.6h-4.6zm0 8h4.6v4.6h-4.6zm0 7.5h4.6v4.6h-4.6zm0 7.5h4.6v4.6h-4.6zm0 4h4.6v4.6h-4.6zm0.5 -22.5h4.6v4.6h-4.6zm0 5.5h4.6v4.6h-4.6zm0 157.5h4.6v4.6h-4.6zm0.5 -171.5h4.6v4.6h-4.6zm0 22h4.6v4.6h-4.6zm0.5 11.5h4.6v4.6h-4.6zm0.5 123h4.6v4.6h-4.6zm0 11h4.6v4.6h-4.6zm0.5 -153h4.6v4.6h-4.6zm0 4h4.6v4.6h-4.6zm0 10h4.6v4.6h-4.6zm0 133.5h4.6v4.6h-4.6zm0.5 -158.5h4.6v4.6h-4.6zm0 9h4.6v4.6h-4.6zm0 8h4.6v4.6h-4.6zm0 149h4.6v4.6h-4.6zm0.5 -149h4.6v4.6h-4.6zm0 2h4.6v4.6h-4.6zm0.5 -6h4.6v4.6h-4.6zm0 6.5h4.6v4.6h-4.6zm0 7.5h4.6v4.6h-4.6zm1 -11.5h4.6v4.6h-4.6zm0 1h4.6v4.6h-4.6zm0.5 -13.5h4.6v4.6h-4.6zm0 11.5h4.6v4.6h-4.6zm0.5 0h4.6v4.6h-4.6zm0 1h4.6v4.6h-4.6zm0 3h4.6v4.6h-4.6zm0 2.5h4.6v4.6h-4.6zm0 156.5h4.6v4.6h-4.6zm0.5 -165h4.6v4.6h-4.6zm0 9.5h4.6v4.6h-4.6zm0 0.5h4.6v4.6h-4.6zm0 2h4.6v4.6h-4.6zm0 11.5h4.6v4.6h-4.6zm0 128h4.6v4.6h-4.6zm0.5 -158h4.6v4.6h-4.6zm0 4.5h4.6v4.6h-4.6zm0 21h4.6v4.6h-4.6zm0 134.5h4.6v4.6h-4.6zm0.5 -158.5h4.6v4.6h-4.6zm0 4h4.6v4.6h-4.6zm0 1h4.6v4.6h-4.6zm0 6h4.6v4.6h-4.6zm0 20.5h4.6v4.6h-4.6zm0.5 -28h4.6v4.6h-4.6zm0 158.5h4.6v4.6h-4.6zm0 3.5h4.6v4.6h-4.6zm0 10.5h4.6v4.6h-4.6zm0.5 -180.5h4.6v4.6h-4.6zm0 7h4.6v4.6h-4.6zm0 9h4.6v4.6h-4.6zm0 0.5h4.6v4.6h-4.6zm0 143.5h4.6v4.6h-4.6zm0 30.5h4.6v4.6h-4.6zm0.5 -178h4.6v4.6h-4.6zm0 2.5h4.6v4.6h-4.6zm0 131h4.6v4.6h-4.6zm0.5 -139h4.6v4.6h-4.6zm0 3h4.6v4.6h-4.6zm0 3.5h4.6v4.6h-4.6zm0 9h4.6v4.6h-4.6zm0 3h4.6v4.6h-4.6zm0 129.5h4.6v4.6h-4.6zm0.5 -154h4.6v4.6h-4.6zm0 11.5h4.6v4.6h-4.6zm0 3.5h4.6v4.6h-4.6zm0 7h4.6v4.6h-4.6zm0.5 -15h4.6v4.6h-4.6zm0 11.5h4.6v4.6h-4.6zm0.5 -15h4.6v4.6h-4.6zm0 2.5h4.6v4.6h-4.6zm0 156.5h4.6v4.6h-4.6zm0.5 -144.5h4.6v4.6h-4.6zm0.5 -17.5h4.6v4.6h-4.6zm0 10.5h4.6v4.6h-4.6zm0 2.5h4.6v4.6h-4.6zm0 0.5h4.6v4.6h-4.6zm0 5.5h4.6v4.6h-4.6zm0 0.5h4.6v4.6h-4.6zm0 149.5h4.6v4.6h-4.6zm0 32h4.6v4.6h-4.6zm0.5 -193.5h4.6v4.6h-4.6zm0 158h4.6v4.6h-4.6zm0.5 -168h4.6v4.6h-4.6zm0 7h4.6v4.6h-4.6zm0 7.5h4.6v4.6h-4.6zm0 11.5h4.6v4.6h-4.6zm1 -9.5h4.6v4.6h-4.6zm0 9.5h4.6v4.6h-4.6zm0 152h4.6v4.6h-4.6zm0.5 -149h4.6v4.6h-4.6zm0 119.5h4.6v4.6h-4.6zm0 28.5h4.6v4.6h-4.6zm0.5 -166.5h4.6v4.6h-4.6zm0 11h4.6v4.6h-4.6zm0 13h4.6v4.6h-4.6zm0.5 -16.5h4.6v4.6h-4.6zm0 6h4.6v4.6h-4.6zm0 147.5h4.6v4.6h-4.6zm0 6h4.6v4.6h-4.6zm0.5 -178.5h4.6v4.6h-4.6zm0 12.5h4.6v4.6h-4.6zm0.5 -3h4.6v4.6h-4.6zm0 4.5h4.6v4.6h-4.6zm0 1h4.6v4.6h-4.6zm0 2h4.6v4.6h-4.6zm0 150.5h4.6v4.6h-4.6zm0.5 -155h4.6v4.6h-4.6zm0.5 -15.5h4.6v4.6h-4.6zm0 8.5h4.6v4.6h-4.6zm0 2.5h4.6v4.6h-4.6zm0 9h4.6v4.6h-4.6zm0 3.5h4.6v4.6h-4.6zm0 15h4.6v4.6h-4.6zm0.5 -21.5h4.6v4.6h-4.6zm0 17h4.6v4.6h-4.6zm0 142.5h4.6v4.6h-4.6zm0 4h4.6v4.6h-4.6zm0.5 -156.5h4.6v4.6h-4.6zm0 148h4.6v4.6h-4.6zm0 2h4.6v4.6h-4.6zm0.5 -166h4.6v4.6h-4.6zm0 2.5h4.6v4.6h-4.6zm0 5h4.6v4.6h-4.6zm0 169.5h4.6v4.6h-4.6zm0.5 -177h4.6v4.6h-4.6zm0.5 16h4.6v4.6h-4.6zm0 7h4.6v4.6h-4.6zm0 122.5h4.6v4.6h-4.6zm0.5 -137h4.6v4.6h-4.6zm0 1h4.6v4.6h-4.6zm0 12.5h4.6v4.6h-4.6zm0 130h4.6v4.6h-4.6zm0 14.5h4.6v4.6h-4.6zm0 18.5h4.6v4.6h-4.6zm0.5 -169.5h4.6v4.6h-4.6zm0 2.5h4.6v4.6h-4.6zm0 147.5h4.6v4.6h-4.6zm0.5 -156.5h4.6v4.6h-4.6zm0 9.5h4.6v4.6h-4.6zm0 1h4.6v4.6h-4.6zm0 134h4.6v4.6h-4.6zm0 27.5h4.6v4.6h-4.6zm0.5 -173h4.6v4.6h-4.6zm0 1.5h4.6v4.6h-4.6zm0 3h4.6v4.6h-4.6zm0 24h4.6v4.6h-4.6zm0 119.5h4.6v4.6h-4.6zm0.5 -135h4.6v4.6h-4.6zm0.5 -23.5h4.6v4.6h-4.6zm0 174h4.6v4.6h-4.6zm0.5 -165h4.6v4.6h-4.6zm0.5 2.5h4.6v4.6h-4.6zm0 11.5h4.6v4.6h-4.6zm0 2.5h4.6v4.6h-4.6zm0 133.5h4.6v4.6h-4.6zm0 9.5h4.6v4.6h-4.6zm0.5 -161h4.6v4.6h-4.6zm0 5.5h4.6v4.6h-4.6zm0 3.5h4.6v4.6h-4.6zm0.5 -7h4.6v4.6h-4.6zm0 7h4.6v4.6h-4.6zm0 140.5h4.6v4.6h-4.6zm0.5 -151h4.6v4.6h-4.6zm0 14.5h4.6v4.6h-4.6zm0.5 -9h4.6v4.6h-4.6zm0 2.5h4.6v4.6h-4.6zm0 138h4.6v4.6h-4.6zm0.5 -134.5h4.6v4.6h-4.6zm0.5 4.5h4.6v4.6h-4.6zm0 130.5h4.6v4.6h-4.6zm0.5 -117h4.6v4.6h-4.6zm0 122h4.6v4.6h-4.6zm0.5 -156h4.6v4.6h-4.6zm0 167.5h4.6v4.6h-4.6zm0.5 -158h4.6v4.6h-4.6zm0 147.5h4.6v4.6h-4.6zm1 -151.5h4.6v4.6h-4.6zm0 4h4.6v4.6h-4.6zm0 147h4.6v4.6h-4.6zm0.5 -4h4.6v4.6h-4.6zm0.5 8.5h4.6v4.6h-4.6zm0.5 -141.5h4.6v4.6h-4.6zm0.5 -22.5h4.6v4.6h-4.6zm0 6.5h4.6v4.6h-4.6zm0 17h4.6v4.6h-4.6zm0 13h4.6v4.6h-4.6zm0 113h4.6v4.6h-4.6zm0 11.5h4.6v4.6h-4.6zm0 12h4.6v4.6h-4.6zm0.5 -4h4.6v4.6h-4.6zm0.5 -161h4.6v4.6h-4.6zm0 7.5h4.6v4.6h-4.6zm0.5 -7h4.6v4.6h-4.6zm1 0h4.6v4.6h-4.6zm0 147h4.6v4.6h-4.6zm0.5 -142.5h4.6v4.6h-4.6zm0 150h4.6v4.6h-4.6zm0 24.5h4.6v4.6h-4.6zm0.5 -185.5h4.6v4.6h-4.6zm0 7.5h4.6v4.6h-4.6zm0 9.5h4.6v4.6h-4.6zm1 -19h4.6v4.6h-4.6zm0 13h4.6v4.6h-4.6zm0 15.5h4.6v4.6h-4.6zm0.5 -32h4.6v4.6h-4.6zm0.5 18.5h4.6v4.6h-4.6zm0 10h4.6v4.6h-4.6zm1.5 -21.5h4.6v4.6h-4.6zm0.5 140.5h4.6v4.6h-4.6zm0.5 10.5h4.6v4.6h-4.6zm0 24.5h4.6v4.6h-4.6zm0.5 -174.5h4.6v4.6h-4.6zm0 12h4.6v4.6h-4.6zm0 3.5h4.6v4.6h-4.6zm1 105.5h4.6v4.6h-4.6zm0.5 -123h4.6v4.6h-4.6zm0 14h4.6v4.6h-4.6zm0.5 -1.5h4.6v4.6h-4.6zm0 133.5h4.6v4.6h-4.6zm0 7h4.6v4.6h-4.6zm0 16.5h4.6v4.6h-4.6zm0 13h4.6v4.6h-4.6zm1 3h4.6v4.6h-4.6zm1 -191.5h4.6v4.6h-4.6zm0 14h4.6v4.6h-4.6zm0.5 -6.5h4.6v4.6h-4.6zm0 160h4.6v4.6h-4.6zm1 -153h4.6v4.6h-4.6zm0.5 3.5h4.6v4.6h-4.6zm1.5 167h4.6v4.6h-4.6zm1 -165.5h4.6v4.6h-4.6zm0.5 -9.5h4.6v4.6h-4.6zm0.5 16.5h4.6v4.6h-4.6zm1 -6h4.6v4.6h-4.6zm0 171.5h4.6v4.6h-4.6zm0.5 -19.5h4.6v4.6h-4.6zm0.5 -147.5h4.6v4.6h-4.6zm0 135h4.6v4.6h-4.6zm0 4.5h4.6v4.6h-4.6zm0 10h4.6v4.6h-4.6zm0.5 -150h4.6v4.6h-4.6zm0.5 -2h4.6v4.6h-4.6zm0.5 162.5h4.6v4.6h-4.6zm2 -170h4.6v4.6h-4.6zm1.5 4.5h4.6v4.6h-4.6zm0.5 12.5h4.6v4.6h-4.6zm1 -11h4.6v4.6h-4.6zm0 5.5h4.6v4.6h-4.6zm0 138h4.6v4.6h-4.6zm1 -141h4.6v4.6h-4.6zm1.5 133.5h4.6v4.6h-4.6zm1.5 -136h4.6v4.6h-4.6zm0 191.5h4.6v4.6h-4.6zm0.5 -61.5h4.6v4.6h-4.6zm0.5 -131h4.6v4.6h-4.6zm0.5 -13.5h4.6v4.6h-4.6zm1.5 163h4.6v4.6h-4.6zm0 2h4.6v4.6h-4.6zm1.5 -16.5h4.6v4.6h-4.6zm1 12h4.6v4.6h-4.6zm0.5 -134h4.6v4.6h-4.6zm0.5 -27.5h4.6v4.6h-4.6zm0.5 16.5h4.6v4.6h-4.6zm1 -17h4.6v4.6h-4.6zm1 13.5h4.6v4.6h-4.6zm0 1h4.6v4.6h-4.6zm0 161.5h4.6v4.6h-4.6zm0.5 -166h4.6v4.6h-4.6zm0.5 153.5h4.6v4.6h-4.6zm0.5 -154.5h4.6v4.6h-4.6zm1.5 154.5h4.6v4.6h-4.6zm0.5 -139.5h4.6v4.6h-4.6zm1.5 -13h4.6v4.6h-4.6zm0 149.5h4.6v4.6h-4.6zm0.5 -15h4.6v4.6h-4.6zm0.5 35h4.6v4.6h-4.6zm0.5 -168.5h4.6v4.6h-4.6zm1 9.5h4.6v4.6h-4.6zm0.5 136.5h4.6v4.6h-4.6zm3 -143.5h4.6v4.6h-4.6zm25.5 7h4.6v4.6h-4.6zm3 130h4.6v4.6h-4.6zm0.5 -1h4.6v4.6h-4.6zm1 13h4.6v4.6h-4.6zm0.5 -16.5h4.6v4.6h-4.6zm0 15.5h4.6v4.6h-4.6zm2 -12.5h4.6v4.6h-4.6zm0 8.5h4.6v4.6h-4.6zm0.5 -2.5h4.6v4.6h-4.6zm0.5 -149h4.6v4.6h-4.6zm1.5 149h4.6v4.6h-4.6zm2.5 -6.5h4.6v4.6h-4.6zm0.5 2.5h4.6v4.6h-4.6zm0 13.5h4.6v4.6h-4.6zm0.5 -10h4.6v4.6h-4.6zm0.5 2h4.6v4.6h-4.6zm1 21h4.6v4.6h-4.6zm1.5 -16.5h4.6v4.6h-4.6zm0 11.5h4.6v4.6h-4.6zm0.5 -26h4.6v4.6h-4.6zm0.5 6.5h4.6v4.6h-4.6zm1.5 -10h4.6v4.6h-4.6zm1 -3h4.6v4.6h-4.6zm0 7.5h4.6v4.6h-4.6zm0 0.5h4.6v4.6h-4.6zm0.5 -8h4.6v4.6h-4.6zm0.5 18.5h4.6v4.6h-4.6zm2 0.5h4.6v4.6h-4.6zm0 1h4.6v4.6h-4.6zm0.5 -8h4.6v4.6h-4.6zm1 -3.5h4.6v4.6h-4.6zm0 9.5h4.6v4.6h-4.6zm0 18h4.6v4.6h-4.6zm0.5 -24h4.6v4.6h-4.6zm1.5 16.5h4.6v4.6h-4.6zm1 -36h4.6v4.6h-4.6zm0.5 9.5h4.6v4.6h-4.6zm0.5 8h4.6v4.6h-4.6zm0 20.5h4.6v4.6h-4.6zm1.5 5h4.6v4.6h-4.6zm0.5 -124h4.6v4.6h-4.6zm0 94.5h4.6v4.6h-4.6zm0.5 23.5h4.6v4.6h-4.6zm0.5 -23h4.6v4.6h-4.6zm1 -4.5h4.6v4.6h-4.6zm0.5 31.5h4.6v4.6h-4.6zm1 -26.5h4.6v4.6h-4.6zm0 21h4.6v4.6h-4.6zm12.5 -37h4.6v4.6h-4.6zm11.5 65.5h4.6v4.6h-4.6zm2.5 -3h4.6v4.6h-4.6zm1 -7.5h4.6v4.6h-4.6zm1 5h4.6v4.6h-4.6zm0 14.5h4.6v4.6h-4.6zm3.5 -13h4.6v4.6h-4.6zm1 -10.5h4.6v4.6h-4.6zm1.5 8.5h4.6v4.6h-4.6zm0 4h4.6v4.6h-4.6zm0.5 -3h4.6v4.6h-4.6zm1.5 8.5h4.6v4.6h-4.6zm2 -4h4.6v4.6h-4.6zm2.5 2h4.6v4.6h-4.6zm1 -1.5h4.6v4.6h-4.6zm0 0.5h4.6v4.6h-4.6zm1 -4.5h4.6v4.6h-4.6zm0.5 -115h4.6v4.6h-4.6zm0.5 116.5h4.6v4.6h-4.6zm0.5 -2h4.6v4.6h-4.6zm2.5 -7.5h4.6v4.6h-4.6zm2 12.5h4.6v4.6h-4.6zm1 -4.5h4.6v4.6h-4.6zm0 2.5h4.6v4.6h-4.6zm0 5h4.6v4.6h-4.6zm0.5 -3.5h4.6v4.6h-4.6zm1 -40h4.6v4.6h-4.6zm0 34h4.6v4.6h-4.6zm0 4h4.6v4.6h-4.6zm0 2h4.6v4.6h-4.6zm0.5 -0.5h4.6v4.6h-4.6zm0.5 -16h4.6v4.6h-4.6zm3 -23h4.6v4.6h-4.6zm0 6h4.6v4.6h-4.6zm0 17h4.6v4.6h-4.6zm0 12.5h4.6v4.6h-4.6zm1 -11h4.6v4.6h-4.6zm0.5 -5.5h4.6v4.6h-4.6zm0.5 -5h4.6v4.6h-4.6zm0 7.5h4.6v4.6h-4.6zm0.5 13h4.6v4.6h-4.6zm0.5 -1h4.6v4.6h-4.6zm1 -15h4.6v4.6h-4.6zm0 6h4.6v4.6h-4.6zm2 -6.5h4.6v4.6h-4.6zm0 9.5h4.6v4.6h-4.6zm0 1.5h4.6v4.6h-4.6zm0 11.5h4.6v4.6h-4.6zm0 4h4.6v4.6h-4.6zm0.5 -11h4.6v4.6h-4.6zm0.5 -10h4.6v4.6h-4.6zm0.5 -15h4.6v4.6h-4.6zm0 11h4.6v4.6h-4.6zm0 7h4.6v4.6h-4.6zm0 15h4.6v4.6h-4.6zm0.5 2h4.6v4.6h-4.6zm0.5 -33h4.6v4.6h-4.6zm0 15.5h4.6v4.6h-4.6zm0 9.5h4.6v4.6h-4.6zm0.5 -36h4.6v4.6h-4.6zm0 27h4.6v4.6h-4.6zm0 11.5h4.6v4.6h-4.6zm0.5 11h4.6v4.6h-4.6zm0.5 -31.5h4.6v4.6h-4.6zm0 8h4.6v4.6h-4.6zm0 3.5h4.6v4.6h-4.6zm0.5 -25.5h4.6v4.6h-4.6zm0 4h4.6v4.6h-4.6zm0 10.5h4.6v4.6h-4.6zm0 14h4.6v4.6h-4.6zm0 13h4.6v4.6h-4.6zm1 -19h4.6v4.6h-4.6zm0 1.5h4.6v4.6h-4.6zm0 1h4.6v4.6h-4.6zm0 8h4.6v4.6h-4.6zm0.5 -32.5h4.6v4.6h-4.6zm0 6.5h4.6v4.6h-4.6zm0 7.5h4.6v4.6h-4.6zm0 21.5h4.6v4.6h-4.6zm0.5 -26.5h4.6v4.6h-4.6zm0 12.5h4.6v4.6h-4.6zm0 4.5h4.6v4.6h-4.6zm0.5 -14h4.6v4.6h-4.6zm0 7h4.6v4.6h-4.6zm0.5 -8.5h4.6v4.6h-4.6zm0 4h4.6v4.6h-4.6zm0 1.5h4.6v4.6h-4.6zm1 -16h4.6v4.6h-4.6zm0 1h4.6v4.6h-4.6zm0 6.5h4.6v4.6h-4.6zm0 23.5h4.6v4.6h-4.6zm0.5 6.5h4.6v4.6h-4.6zm0.5 -19.5h4.6v4.6h-4.6zm0 22.5h4.6v4.6h-4.6zm0.5 -60.5h4.6v4.6h-4.6zm0 29h4.6v4.6h-4.6zm0 9.5h4.6v4.6h-4.6zm0.5 -22.5h4.6v4.6h-4.6zm0 2.5h4.6v4.6h-4.6zm0 19.5h4.6v4.6h-4.6zm0 7h4.6v4.6h-4.6zm0 16.5h4.6v4.6h-4.6zm0.5 -38h4.6v4.6h-4.6zm0 8h4.6v4.6h-4.6zm0 7.5h4.6v4.6h-4.6zm0.5 -13.5h4.6v4.6h-4.6zm0.5 17h4.6v4.6h-4.6zm0.5 -13.5h4.6v4.6h-4.6zm0 3.5h4.6v4.6h-4.6zm0 3.5h4.6v4.6h-4.6zm0 0.5h4.6v4.6h-4.6zm0 22h4.6v4.6h-4.6zm0.5 -11h4.6v4.6h-4.6zm0.5 -7.5h4.6v4.6h-4.6zm0 8.5h4.6v4.6h-4.6zm1 -28.5h4.6v4.6h-4.6zm0.5 37h4.6v4.6h-4.6zm0.5 -37h4.6v4.6h-4.6zm0.5 15.5h4.6v4.6h-4.6zm0.5 4h4.6v4.6h-4.6zm1 6.5h4.6v4.6h-4.6zm0.5 -1.5h4.6v4.6h-4.6zm0.5 11h4.6v4.6h-4.6zm2.5 -39.5h4.6v4.6h-4.6zm3 -13.5h4.6v4.6h-4.6zm5.5 25.5h4.6v4.6h-4.6z"/></g>
<g clip-path="url(#cC)"><path fill="#ff00ff" filter="url(#bl)" shape-rendering="auto" d="m1479.5 326h4.6v4.6h-4.6zm1.5 -25.5h4.6v4.6h-4.6zm0.5 13.5h4.6v4.6h-4.6zm2 -4.5h4.6v4.6h-4.6zm0.5 -3h4.6v4.6h-4.6zm0 20h4.6v4.6h-4.6zm0.5 -17h4.6v4.6h-4.6zm0 22h4.6v4.6h-4.6zm0 4h4.6v4.6h-4.6zm0.5 -22h4.6v4.6h-4.6zm0.5 47h4.6v4.6h-4.6zm0.5 -33.5h4.6v4.6h-4.6zm1 -14.5h4.6v4.6h-4.6zm0.5 2h4.6v4.6h-4.6zm0.5 1.5h4.6v4.6h-4.6zm0.5 -15.5h4.6v4.6h-4.6zm0 24h4.6v4.6h-4.6zm0.5 -11.5h4.6v4.6h-4.6zm0 3h4.6v4.6h-4.6zm0 10h4.6v4.6h-4.6zm0 4h4.6v4.6h-4.6zm0 3.5h4.6v4.6h-4.6zm0 3.5h4.6v4.6h-4.6zm0.5 -26.5h4.6v4.6h-4.6zm0 13.5h4.6v4.6h-4.6zm0.5 10.5h4.6v4.6h-4.6zm0.5 -22h4.6v4.6h-4.6zm0 12h4.6v4.6h-4.6zm0.5 -15h4.6v4.6h-4.6zm0.5 0h4.6v4.6h-4.6zm0 15h4.6v4.6h-4.6zm0 12h4.6v4.6h-4.6zm0 10.5h4.6v4.6h-4.6zm0.5 -26h4.6v4.6h-4.6zm0 1h4.6v4.6h-4.6zm0 5.5h4.6v4.6h-4.6zm1 -12.5h4.6v4.6h-4.6zm0 15h4.6v4.6h-4.6zm0.5 -14h4.6v4.6h-4.6zm0 7.5h4.6v4.6h-4.6zm0.5 -0.5h4.6v4.6h-4.6zm0 5.5h4.6v4.6h-4.6zm0 12h4.6v4.6h-4.6zm0 3h4.6v4.6h-4.6zm0.5 -48.5h4.6v4.6h-4.6zm0 14.5h4.6v4.6h-4.6zm0 1h4.6v4.6h-4.6zm0.5 -11.5h4.6v4.6h-4.6zm0 13h4.6v4.6h-4.6zm0 3h4.6v4.6h-4.6zm0 8h4.6v4.6h-4.6zm0 4.5h4.6v4.6h-4.6zm0 3.5h4.6v4.6h-4.6zm0 11h4.6v4.6h-4.6zm0 1h4.6v4.6h-4.6zm0 1.5h4.6v4.6h-4.6zm0.5 -44.5h4.6v4.6h-4.6zm0 6h4.6v4.6h-4.6zm0 8.5h4.6v4.6h-4.6zm0 11.5h4.6v4.6h-4.6zm0.5 -23h4.6v4.6h-4.6zm0 1h4.6v4.6h-4.6zm0 11h4.6v4.6h-4.6zm0 5h4.6v4.6h-4.6zm0 3h4.6v4.6h-4.6zm0 3.5h4.6v4.6h-4.6zm0.5 -10h4.6v4.6h-4.6zm0 0.5h4.6v4.6h-4.6zm0 16.5h4.6v4.6h-4.6zm0.5 -33.5h4.6v4.6h-4.6zm0 8h4.6v4.6h-4.6zm0 4h4.6v4.6h-4.6zm0 6h4.6v4.6h-4.6zm0 3h4.6v4.6h-4.6zm0.5 -21h4.6v4.6h-4.6zm0 0.5h4.6v4.6h-4.6zm0 8.5h4.6v4.6h-4.6zm0 7.5h4.6v4.6h-4.6zm0 1h4.6v4.6h-4.6zm0.5 -16h4.6v4.6h-4.6zm0 6.5h4.6v4.6h-4.6zm0 9.5h4.6v4.6h-4.6zm0 12.5h4.6v4.6h-4.6zm0 4.5h4.6v4.6h-4.6zm0.5 -27h4.6v4.6h-4.6zm0 1.5h4.6v4.6h-4.6zm0 5.5h4.6v4.6h-4.6zm0.5 7.5h4.6v4.6h-4.6zm0 3h4.6v4.6h-4.6zm0.5 -15h4.6v4.6h-4.6zm0 0.5h4.6v4.6h-4.6zm0 30h4.6v4.6h-4.6zm0.5 -42.5h4.6v4.6h-4.6zm0 16h4.6v4.6h-4.6zm0 11.5h4.6v4.6h-4.6zm0 4.5h4.6v4.6h-4.6zm0.5 -36.5h4.6v4.6h-4.6zm0 4.5h4.6v4.6h-4.6zm0 8h4.6v4.6h-4.6zm0 4h4.6v4.6h-4.6zm0 12.5h4.6v4.6h-4.6zm0 3h4.6v4.6h-4.6zm0 10h4.6v4.6h-4.6zm0.5 -22.5h4.6v4.6h-4.6zm0 1h4.6v4.6h-4.6zm0 7h4.6v4.6h-4.6zm0.5 12.5h4.6v4.6h-4.6zm0 6.5h4.6v4.6h-4.6zm0.5 -39h4.6v4.6h-4.6zm0 28h4.6v4.6h-4.6zm0 13.5h4.6v4.6h-4.6zm0.5 -31.5h4.6v4.6h-4.6zm0 1.5h4.6v4.6h-4.6zm0 13h4.6v4.6h-4.6zm0 2.5h4.6v4.6h-4.6zm0 1h4.6v4.6h-4.6zm0.5 -29h4.6v4.6h-4.6zm0 7h4.6v4.6h-4.6zm0 6.5h4.6v4.6h-4.6zm0 3.5h4.6v4.6h-4.6zm0 4h4.6v4.6h-4.6zm0 9h4.6v4.6h-4.6zm0 1h4.6v4.6h-4.6zm0.5 -31h4.6v4.6h-4.6zm0 7h4.6v4.6h-4.6zm0 4h4.6v4.6h-4.6zm0 0.5h4.6v4.6h-4.6zm0 3h4.6v4.6h-4.6zm0 2h4.6v4.6h-4.6zm0 4.5h4.6v4.6h-4.6zm0 16h4.6v4.6h-4.6zm0.5 -38h4.6v4.6h-4.6zm0 24.5h4.6v4.6h-4.6zm0 11h4.6v4.6h-4.6zm0 5h4.6v4.6h-4.6zm0.5 -55h4.6v4.6h-4.6zm0 20h4.6v4.6h-4.6zm0 1h4.6v4.6h-4.6zm0 0.5h4.6v4.6h-4.6zm0 8.5h4.6v4.6h-4.6zm0 6.5h4.6v4.6h-4.6zm0 0.5h4.6v4.6h-4.6zm0 10h4.6v4.6h-4.6zm0 1.5h4.6v4.6h-4.6zm0 8h4.6v4.6h-4.6zm0.5 -40h4.6v4.6h-4.6zm0 11h4.6v4.6h-4.6zm0 16h4.6v4.6h-4.6zm0 3h4.6v4.6h-4.6zm0.5 -29h4.6v4.6h-4.6zm0 6.5h4.6v4.6h-4.6zm0 2h4.6v4.6h-4.6zm0 4h4.6v4.6h-4.6zm0 3.5h4.6v4.6h-4.6zm0 4.5h4.6v4.6h-4.6zm0 1h4.6v4.6h-4.6zm0 38.5h4.6v4.6h-4.6zm0.5 -81h4.6v4.6h-4.6zm0 16h4.6v4.6h-4.6zm0 5.5h4.6v4.6h-4.6zm0 6.5h4.6v4.6h-4.6zm0 0.5h4.6v4.6h-4.6zm0 5h4.6v4.6h-4.6zm0 14h4.6v4.6h-4.6zm0 2.5h4.6v4.6h-4.6zm0 5.5h4.6v4.6h-4.6zm0 0.5h4.6v4.6h-4.6zm0 22.5h4.6v4.6h-4.6zm0.5 -64h4.6v4.6h-4.6zm0 4.5h4.6v4.6h-4.6zm0 4.5h4.6v4.6h-4.6zm0 1h4.6v4.6h-4.6zm0 0.5h4.6v4.6h-4.6zm0 5h4.6v4.6h-4.6zm0 1h4.6v4.6h-4.6zm0 3.5h4.6v4.6h-4.6zm0 18h4.6v4.6h-4.6zm0.5 -39h4.6v4.6h-4.6zm0.5 13h4.6v4.6h-4.6zm0 9h4.6v4.6h-4.6zm0 1h4.6v4.6h-4.6zm0 5.5h4.6v4.6h-4.6zm0 0.5h4.6v4.6h-4.6zm0 10.5h4.6v4.6h-4.6zm0.5 -38.5h4.6v4.6h-4.6zm0 20.5h4.6v4.6h-4.6zm0 4h4.6v4.6h-4.6zm0 1h4.6v4.6h-4.6zm0 6.5h4.6v4.6h-4.6zm0 8h4.6v4.6h-4.6zm0 3h4.6v4.6h-4.6zm0 4h4.6v4.6h-4.6zm0 17h4.6v4.6h-4.6zm0.5 -64h4.6v4.6h-4.6zm0 17.5h4.6v4.6h-4.6zm0 1h4.6v4.6h-4.6zm0 1.5h4.6v4.6h-4.6zm0 1.5h4.6v4.6h-4.6zm0 0.5h4.6v4.6h-4.6zm0 0.5h4.6v4.6h-4.6zm0 7.5h4.6v4.6h-4.6zm0 4.5h4.6v4.6h-4.6zm0 0.5h4.6v4.6h-4.6zm0 7h4.6v4.6h-4.6zm0.5 -46h4.6v4.6h-4.6zm0 5.5h4.6v4.6h-4.6zm0 3.5h4.6v4.6h-4.6zm0 2.5h4.6v4.6h-4.6zm0 2.5h4.6v4.6h-4.6zm0 3.5h4.6v4.6h-4.6zm0 6.5h4.6v4.6h-4.6zm0 0.5h4.6v4.6h-4.6zm0 1h4.6v4.6h-4.6zm0 2.5h4.6v4.6h-4.6zm0 2.5h4.6v4.6h-4.6zm0 1h4.6v4.6h-4.6zm0 8h4.6v4.6h-4.6zm0 0.5h4.6v4.6h-4.6zm0 0.5h4.6v4.6h-4.6zm0 3.5h4.6v4.6h-4.6zm0.5 -46h4.6v4.6h-4.6zm0 6h4.6v4.6h-4.6zm0 11h4.6v4.6h-4.6zm0 10h4.6v4.6h-4.6zm0 2h4.6v4.6h-4.6zm0 16h4.6v4.6h-4.6zm0.5 -40.5h4.6v4.6h-4.6zm0 25.5h4.6v4.6h-4.6zm0 15h4.6v4.6h-4.6zm0.5 -52h4.6v4.6h-4.6zm0 12.5h4.6v4.6h-4.6zm0 10h4.6v4.6h-4.6zm0 6h4.6v4.6h-4.6zm0 5h4.6v4.6h-4.6zm0 3.5h4.6v4.6h-4.6zm0 4.5h4.6v4.6h-4.6zm0 4.5h4.6v4.6h-4.6zm0 1h4.6v4.6h-4.6zm0 6h4.6v4.6h-4.6zm0 4.5h4.6v4.6h-4.6zm0.5 -48.5h4.6v4.6h-4.6zm0 1h4.6v4.6h-4.6zm0 5.5h4.6v4.6h-4.6zm0 9h4.6v4.6h-4.6zm0 2.5h4.6v4.6h-4.6zm0 4.5h4.6v4.6h-4.6zm0 2h4.6v4.6h-4.6zm0 5.5h4.6v4.6h-4.6zm0 1h4.6v4.6h-4.6zm0 7h4.6v4.6h-4.6zm0 9.5h4.6v4.6h-4.6zm0.5 -52.5h4.6v4.6h-4.6zm0 20.5h4.6v4.6h-4.6zm0 4.5h4.6v4.6h-4.6zm0 0.5h4.6v4.6h-4.6zm0 4h4.6v4.6h-4.6zm0 8h4.6v4.6h-4.6zm0 19h4.6v4.6h-4.6zm0.5 -48h4.6v4.6h-4.6zm0 3h4.6v4.6h-4.6zm0 3.5h4.6v4.6h-4.6zm0 6h4.6v4.6h-4.6zm0 7h4.6v4.6h-4.6zm0 5h4.6v4.6h-4.6zm0 5h4.6v4.6h-4.6zm0 13h4.6v4.6h-4.6zm0 20h4.6v4.6h-4.6zm0.5 -66.5h4.6v4.6h-4.6zm0 11.5h4.6v4.6h-4.6zm0 7h4.6v4.6h-4.6zm0 2h4.6v4.6h-4.6zm0 9.5h4.6v4.6h-4.6zm0 1.5h4.6v4.6h-4.6zm0 3h4.6v4.6h-4.6zm0 18h4.6v4.6h-4.6zm0 9.5h4.6v4.6h-4.6zm0.5 -65h4.6v4.6h-4.6zm0 12h4.6v4.6h-4.6zm0 8h4.6v4.6h-4.6zm0 6.5h4.6v4.6h-4.6zm0 6h4.6v4.6h-4.6zm0 1h4.6v4.6h-4.6zm0 3.5h4.6v4.6h-4.6zm0 7.5h4.6v4.6h-4.6zm0 3h4.6v4.6h-4.6zm0 3.5h4.6v4.6h-4.6zm0 9.5h4.6v4.6h-4.6zm0.5 -46h4.6v4.6h-4.6zm0 13.5h4.6v4.6h-4.6zm0 0.5h4.6v4.6h-4.6zm0 2h4.6v4.6h-4.6zm0 3h4.6v4.6h-4.6zm0 5h4.6v4.6h-4.6zm0 1.5h4.6v4.6h-4.6zm0 0.5h4.6v4.6h-4.6zm0 1h4.6v4.6h-4.6zm0 1.5h4.6v4.6h-4.6zm0 1.5h4.6v4.6h-4.6zm0 5h4.6v4.6h-4.6zm0 7h4.6v4.6h-4.6zm0.5 -50.5h4.6v4.6h-4.6zm0 9h4.6v4.6h-4.6zm0 1h4.6v4.6h-4.6zm0 12h4.6v4.6h-4.6zm0 1h4.6v4.6h-4.6zm0 1.5h4.6v4.6h-4.6zm0 1.5h4.6v4.6h-4.6zm0 3h4.6v4.6h-4.6zm0 1h4.6v4.6h-4.6zm0 0.5h4.6v4.6h-4.6zm0 1.5h4.6v4.6h-4.6zm0 5.5h4.6v4.6h-4.6zm0 3h4.6v4.6h-4.6zm0.5 -39h4.6v4.6h-4.6zm0 11h4.6v4.6h-4.6zm0 1.5h4.6v4.6h-4.6zm0 1h4.6v4.6h-4.6zm0 5.5h4.6v4.6h-4.6zm0 4h4.6v4.6h-4.6zm0 10.5h4.6v4.6h-4.6zm0 1h4.6v4.6h-4.6zm0 3.5h4.6v4.6h-4.6zm0.5 -39.5h4.6v4.6h-4.6zm0 6h4.6v4.6h-4.6zm0 5.5h4.6v4.6h-4.6zm0 3h4.6v4.6h-4.6zm0 2h4.6v4.6h-4.6zm0 1h4.6v4.6h-4.6zm0 1h4.6v4.6h-4.6zm0 6.5h4.6v4.6h-4.6zm0 3.5h4.6v4.6h-4.6zm0 7.5h4.6v4.6h-4.6zm0 2.5h4.6v4.6h-4.6zm0 2h4.6v4.6h-4.6zm0 15.5h4.6v4.6h-4.6zm0.5 -59.5h4.6v4.6h-4.6zm0 17h4.6v4.6h-4.6zm0 0.5h4.6v4.6h-4.6zm0 3.5h4.6v4.6h-4.6zm0 17.5h4.6v4.6h-4.6zm0 2.5h4.6v4.6h-4.6zm0 2h4.6v4.6h-4.6zm0 3h4.6v4.6h-4.6zm0 0.5h4.6v4.6h-4.6zm0 1.5h4.6v4.6h-4.6zm0.5 -45.5h4.6v4.6h-4.6zm0 6h4.6v4.6h-4.6zm0 1h4.6v4.6h-4.6zm0 5h4.6v4.6h-4.6zm0 1.5h4.6v4.6h-4.6zm0 1.5h4.6v4.6h-4.6zm0 1h4.6v4.6h-4.6zm0 2h4.6v4.6h-4.6zm0 1h4.6v4.6h-4.6zm0 0.5h4.6v4.6h-4.6zm0 8.5h4.6v4.6h-4.6zm0 0.5h4.6v4.6h-4.6zm0 1.5h4.6v4.6h-4.6zm0 2h4.6v4.6h-4.6zm0 1.5h4.6v4.6h-4.6zm0 3.5h4.6v4.6h-4.6zm0 3h4.6v4.6h-4.6zm0 21h4.6v4.6h-4.6zm0.5 -59h4.6v4.6h-4.6zm0 7.5h4.6v4.6h-4.6zm0 6.5h4.6v4.6h-4.6zm0 2.5h4.6v4.6h-4.6zm0 6.5h4.6v4.6h-4.6zm0 2.5h4.6v4.6h-4.6zm0 3.5h4.6v4.6h-4.6zm0 1.5h4.6v4.6h-4.6zm0 2h4.6v4.6h-4.6zm0 1h4.6v4.6h-4.6zm0 3.5h4.6v4.6h-4.6zm0 2.5h4.6v4.6h-4.6zm0 0.5h4.6v4.6h-4.6zm0 0.5h4.6v4.6h-4.6zm0.5 -55h4.6v4.6h-4.6zm0 9h4.6v4.6h-4.6zm0 0.5h4.6v4.6h-4.6zm0 15.5h4.6v4.6h-4.6zm0 0.5h4.6v4.6h-4.6zm0 1.5h4.6v4.6h-4.6zm0 4h4.6v4.6h-4.6zm0 4.5h4.6v4.6h-4.6zm0 2h4.6v4.6h-4.6zm0 6.5h4.6v4.6h-4.6zm0 0.5h4.6v4.6h-4.6zm0 1.5h4.6v4.6h-4.6zm0 2.5h4.6v4.6h-4.6zm0 0.5h4.6v4.6h-4.6zm0 9.5h4.6v4.6h-4.6zm0 4h4.6v4.6h-4.6zm0.5 -44h4.6v4.6h-4.6zm0 9.5h4.6v4.6h-4.6zm0 6h4.6v4.6h-4.6zm0 6.5h4.6v4.6h-4.6zm0 2.5h4.6v4.6h-4.6zm0 2h4.6v4.6h-4.6zm0.5 -19h4.6v4.6h-4.6zm0 5h4.6v4.6h-4.6zm0 1.5h4.6v4.6h-4.6zm0 1h4.6v4.6h-4.6zm0 0.5h4.6v4.6h-4.6zm0 3h4.6v4.6h-4.6zm0 1h4.6v4.6h-4.6zm0 4h4.6v4.6h-4.6zm0 2.5h4.6v4.6h-4.6zm0 2h4.6v4.6h-4.6zm0 2.5h4.6v4.6h-4.6zm0 0.5h4.6v4.6h-4.6zm0 6h4.6v4.6h-4.6zm0.5 -28.5h4.6v4.6h-4.6zm0 0.5h4.6v4.6h-4.6zm0 0.5h4.6v4.6h-4.6zm0 1h4.6v4.6h-4.6zm0 9h4.6v4.6h-4.6zm0 5h4.6v4.6h-4.6zm0 1.5h4.6v4.6h-4.6zm0 2h4.6v4.6h-4.6zm0 3.5h4.6v4.6h-4.6zm0 1h4.6v4.6h-4.6zm0 1.5h4.6v4.6h-4.6zm0.5 -38.5h4.6v4.6h-4.6zm0 8h4.6v4.6h-4.6zm0 0.5h4.6v4.6h-4.6zm0 3h4.6v4.6h-4.6zm0 10h4.6v4.6h-4.6zm0 2h4.6v4.6h-4.6zm0 6.5h4.6v4.6h-4.6zm0 2h4.6v4.6h-4.6zm0 3.5h4.6v4.6h-4.6zm0 1h4.6v4.6h-4.6zm0 2h4.6v4.6h-4.6zm0 1.5h4.6v4.6h-4.6zm0.5 -38h4.6v4.6h-4.6zm0 5.5h4.6v4.6h-4.6zm0 3.5h4.6v4.6h-4.6zm0 4h4.6v4.6h-4.6zm0 5h4.6v4.6h-4.6zm0 16.5h4.6v4.6h-4.6zm0 4.5h4.6v4.6h-4.6zm0 4h4.6v4.6h-4.6zm0.5 -48h4.6v4.6h-4.6zm0 1h4.6v4.6h-4.6zm0 21.5h4.6v4.6h-4.6zm0 1.5h4.6v4.6h-4.6zm0 1.5h4.6v4.6h-4.6zm0 0.5h4.6v4.6h-4.6zm0 2h4.6v4.6h-4.6zm0 2.5h4.6v4.6h-4.6zm0 6.5h4.6v4.6h-4.6zm0 6h4.6v4.6h-4.6zm0 1.5h4.6v4.6h-4.6zm0.5 -25.5h4.6v4.6h-4.6zm0 0.5h4.6v4.6h-4.6zm0 1.5h4.6v4.6h-4.6zm0 7h4.6v4.6h-4.6zm0 2h4.6v4.6h-4.6zm0 3.5h4.6v4.6h-4.6zm0 2h4.6v4.6h-4.6zm0 4.5h4.6v4.6h-4.6zm0 15.5h4.6v4.6h-4.6zm0.5 -42h4.6v4.6h-4.6zm0 2h4.6v4.6h-4.6zm0 0.5h4.6v4.6h-4.6zm0 1.5h4.6v4.6h-4.6zm0 3.5h4.6v4.6h-4.6zm0 1.5h4.6v4.6h-4.6zm0 0.5h4.6v4.6h-4.6zm0 3.5h4.6v4.6h-4.6zm0 4h4.6v4.6h-4.6zm0 6h4.6v4.6h-4.6zm0 5h4.6v4.6h-4.6zm0 2h4.6v4.6h-4.6zm0 17.5h4.6v4.6h-4.6zm0.5 -59.5h4.6v4.6h-4.6zm0 3.5h4.6v4.6h-4.6zm0 7h4.6v4.6h-4.6zm0 2.5h4.6v4.6h-4.6zm0 4h4.6v4.6h-4.6zm0 4.5h4.6v4.6h-4.6zm0 3h4.6v4.6h-4.6zm0 2h4.6v4.6h-4.6zm0 2.5h4.6v4.6h-4.6zm0 1h4.6v4.6h-4.6zm0 2h4.6v4.6h-4.6zm0 0.5h4.6v4.6h-4.6zm0 5.5h4.6v4.6h-4.6zm0 2.5h4.6v4.6h-4.6zm0 5.5h4.6v4.6h-4.6zm0.5 -31h4.6v4.6h-4.6zm0 0.5h4.6v4.6h-4.6zm0 2h4.6v4.6h-4.6zm0 2h4.6v4.6h-4.6zm0 2.5h4.6v4.6h-4.6zm0 7.5h4.6v4.6h-4.6zm0 2h4.6v4.6h-4.6zm0 2.5h4.6v4.6h-4.6zm0 0.5h4.6v4.6h-4.6zm0 7h4.6v4.6h-4.6zm0 4h4.6v4.6h-4.6zm0.5 -41h4.6v4.6h-4.6zm0 7h4.6v4.6h-4.6zm0 3h4.6v4.6h-4.6zm0 0.5h4.6v4.6h-4.6zm0 1h4.6v4.6h-4.6zm0 10h4.6v4.6h-4.6zm0 3.5h4.6v4.6h-4.6zm0 0.5h4.6v4.6h-4.6zm0 0.5h4.6v4.6h-4.6zm0 5.5h4.6v4.6h-4.6zm0 1.5h4.6v4.6h-4.6zm0 19.5h4.6v4.6h-4.6zm0 2.5h4.6v4.6h-4.6zm0 0.5h4.6v4.6h-4.6zm0.5 -66.5h4.6v4.6h-4.6zm0 4.5h4.6v4.6h-4.6zm0 4.5h4.6v4.6h-4.6zm0 12h4.6v4.6h-4.6zm0 6.5h4.6v4.6h-4.6zm0 2h4.6v4.6h-4.6zm0 2.5h4.6v4.6h-4.6zm0 4.5h4.6v4.6h-4.6zm0 24.5h4.6v4.6h-4.6zm0.5 -47h4.6v4.6h-4.6zm0 8h4.6v4.6h-4.6zm0 8.5h4.6v4.6h-4.6zm0 8.5h4.6v4.6h-4.6zm0 1.5h4.6v4.6h-4.6zm0 0.5h4.6v4.6h-4.6zm0 1h4.6v4.6h-4.6zm0.5 -38.5h4.6v4.6h-4.6zm0 16.5h4.6v4.6h-4.6zm0 2h4.6v4.6h-4.6zm0 4.5h4.6v4.6h-4.6zm0 3h4.6v4.6h-4.6zm0 4h4.6v4.6h-4.6zm0 9.5h4.6v4.6h-4.6zm0 2.5h4.6v4.6h-4.6zm0 1h4.6v4.6h-4.6zm0 0.5h4.6v4.6h-4.6zm0 6h4.6v4.6h-4.6zm0 0.5h4.6v4.6h-4.6zm0 16h4.6v4.6h-4.6zm0.5 -54h4.6v4.6h-4.6zm0 1h4.6v4.6h-4.6zm0 2.5h4.6v4.6h-4.6zm0 17h4.6v4.6h-4.6zm0 2.5h4.6v4.6h-4.6zm0 4.5h4.6v4.6h-4.6zm0 2.5h4.6v4.6h-4.6zm0 9h4.6v4.6h-4.6zm0.5 -52h4.6v4.6h-4.6zm0 2.5h4.6v4.6h-4.6zm0 15.5h4.6v4.6h-4.6zm0 3.5h4.6v4.6h-4.6zm0 4.5h4.6v4.6h-4.6zm0 1.5h4.6v4.6h-4.6zm0 2h4.6v4.6h-4.6zm0 6.5h4.6v4.6h-4.6zm0 8h4.6v4.6h-4.6zm0.5 -33h4.6v4.6h-4.6zm0 1h4.6v4.6h-4.6zm0 4h4.6v4.6h-4.6zm0 2h4.6v4.6h-4.6zm0 3.5h4.6v4.6h-4.6zm0 5.5h4.6v4.6h-4.6zm0 1h4.6v4.6h-4.6zm0 4.5h4.6v4.6h-4.6zm0 3.5h4.6v4.6h-4.6zm0 2h4.6v4.6h-4.6zm0 5.5h4.6v4.6h-4.6zm0 4h4.6v4.6h-4.6zm0 3h4.6v4.6h-4.6zm0 5h4.6v4.6h-4.6zm0.5 -46h4.6v4.6h-4.6zm0 5.5h4.6v4.6h-4.6zm0 1.5h4.6v4.6h-4.6zm0 1h4.6v4.6h-4.6zm0 2h4.6v4.6h-4.6zm0 1h4.6v4.6h-4.6zm0 1h4.6v4.6h-4.6zm0 1.5h4.6v4.6h-4.6zm0 2.5h4.6v4.6h-4.6zm0 4h4.6v4.6h-4.6zm0 0.5h4.6v4.6h-4.6zm0 0.5h4.6v4.6h-4.6zm0 10.5h4.6v4.6h-4.6zm0 2.5h4.6v4.6h-4.6zm0 2.5h4.6v4.6h-4.6zm0 5.5h4.6v4.6h-4.6zm0.5 -39.5h4.6v4.6h-4.6zm0 4.5h4.6v4.6h-4.6zm0 5.5h4.6v4.6h-4.6zm0 2h4.6v4.6h-4.6zm0 9.5h4.6v4.6h-4.6zm0 2h4.6v4.6h-4.6zm0 4h4.6v4.6h-4.6zm0 11h4.6v4.6h-4.6zm0 11h4.6v4.6h-4.6zm0.5 -58.5h4.6v4.6h-4.6zm0 6h4.6v4.6h-4.6zm0 2h4.6v4.6h-4.6zm0 1.5h4.6v4.6h-4.6zm0 8.5h4.6v4.6h-4.6zm0 18.5h4.6v4.6h-4.6zm0 1h4.6v4.6h-4.6zm0 1h4.6v4.6h-4.6zm0.5 -41.5h4.6v4.6h-4.6zm0 3.5h4.6v4.6h-4.6zm0 7.5h4.6v4.6h-4.6zm0 2h4.6v4.6h-4.6zm0 4h4.6v4.6h-4.6zm0 6.5h4.6v4.6h-4.6zm0 7h4.6v4.6h-4.6zm0 2.5h4.6v4.6h-4.6zm0 3h4.6v4.6h-4.6zm0 11h4.6v4.6h-4.6zm0 7h4.6v4.6h-4.6zm0.5 -55.5h4.6v4.6h-4.6zm0 22.5h4.6v4.6h-4.6zm0 3h4.6v4.6h-4.6zm0 3.5h4.6v4.6h-4.6zm0 3h4.6v4.6h-4.6zm0 5h4.6v4.6h-4.6zm0 2.5h4.6v4.6h-4.6zm0 3h4.6v4.6h-4.6zm0.5 -43h4.6v4.6h-4.6zm0 9.5h4.6v4.6h-4.6zm0 5.5h4.6v4.6h-4.6zm0 0.5h4.6v4.6h-4.6zm0 2.5h4.6v4.6h-4.6zm0 4.5h4.6v4.6h-4.6zm0 4.5h4.6v4.6h-4.6zm0 3h4.6v4.6h-4.6zm0 0.5h4.6v4.6h-4.6zm0 3.5h4.6v4.6h-4.6zm0 1.5h4.6v4.6h-4.6zm0 6h4.6v4.6h-4.6zm0 7.5h4.6v4.6h-4.6zm0 1h4.6v4.6h-4.6zm0 10h4.6v4.6h-4.6zm0.5 -57h4.6v4.6h-4.6zm0 10h4.6v4.6h-4.6zm0 4h4.6v4.6h-4.6zm0 1.5h4.6v4.6h-4.6zm0 4h4.6v4.6h-4.6zm0 3.5h4.6v4.6h-4.6zm0 10.5h4.6v4.6h-4.6zm0 1.5h4.6v4.6h-4.6zm0 0.5h4.6v4.6h-4.6zm0 2h4.6v4.6h-4.6zm0 26h4.6v4.6h-4.6zm0.5 -54.5h4.6v4.6h-4.6zm0 8h4.6v4.6h-4.6zm0 6h4.6v4.6h-4.6zm0 7h4.6v4.6h-4.6zm0 0.5h4.6v4.6h-4.6zm0 5h4.6v4.6h-4.6zm0 5h4.6v4.6h-4.6zm0 2h4.6v4.6h-4.6zm0 6.5h4.6v4.6h-4.6zm0 0.5h4.6v4.6h-4.6zm0 0.5h4.6v4.6h-4.6zm0.5 -46h4.6v4.6h-4.6zm0 3.5h4.6v4.6h-4.6zm0 2.5h4.6v4.6h-4.6zm0 5h4.6v4.6h-4.6zm0 1.5h4.6v4.6h-4.6zm0 0.5h4.6v4.6h-4.6zm0 2.5h4.6v4.6h-4.6zm0 6h4.6v4.6h-4.6zm0 4.5h4.6v4.6h-4.6zm0 3.5h4.6v4.6h-4.6zm0 2h4.6v4.6h-4.6zm0 12.5h4.6v4.6h-4.6zm0 3.5h4.6v4.6h-4.6zm0 6.5h4.6v4.6h-4.6zm0.5 -62.5h4.6v4.6h-4.6zm0 4.5h4.6v4.6h-4.6zm0 1.5h4.6v4.6h-4.6zm0 5.5h4.6v4.6h-4.6zm0 7.5h4.6v4.6h-4.6zm0 10.5h4.6v4.6h-4.6zm0 2h4.6v4.6h-4.6zm0 4h4.6v4.6h-4.6zm0 2h4.6v4.6h-4.6zm0 13h4.6v4.6h-4.6zm0 5.5h4.6v4.6h-4.6zm0.5 -51.5h4.6v4.6h-4.6zm0 3h4.6v4.6h-4.6zm0 4.5h4.6v4.6h-4.6zm0 11.5h4.6v4.6h-4.6zm0 3.5h4.6v4.6h-4.6zm0 6h4.6v4.6h-4.6zm0 3h4.6v4.6h-4.6zm0 4h4.6v4.6h-4.6zm0 1.5h4.6v4.6h-4.6zm0 9.5h4.6v4.6h-4.6zm0 7.5h4.6v4.6h-4.6zm0.5 -40h4.6v4.6h-4.6zm0 16h4.6v4.6h-4.6zm0 5h4.6v4.6h-4.6zm0 6h4.6v4.6h-4.6zm0 4.5h4.6v4.6h-4.6zm0 8.5h4.6v4.6h-4.6zm0.5 -53h4.6v4.6h-4.6zm0 18h4.6v4.6h-4.6zm0 1.5h4.6v4.6h-4.6zm0 2h4.6v4.6h-4.6zm0 2.5h4.6v4.6h-4.6zm0 0.5h4.6v4.6h-4.6zm0 1.5h4.6v4.6h-4.6zm0 0.5h4.6v4.6h-4.6zm0 7.5h4.6v4.6h-4.6zm0 3h4.6v4.6h-4.6zm0 7h4.6v4.6h-4.6zm0.5 -40.5h4.6v4.6h-4.6zm0 7.5h4.6v4.6h-4.6zm0 2.5h4.6v4.6h-4.6zm0 11h4.6v4.6h-4.6zm0 0.5h4.6v4.6h-4.6zm0 3h4.6v4.6h-4.6zm0 4h4.6v4.6h-4.6zm0 1.5h4.6v4.6h-4.6zm0 11.5h4.6v4.6h-4.6zm0 3.5h4.6v4.6h-4.6zm0 6.5h4.6v4.6h-4.6zm0.5 -41h4.6v4.6h-4.6zm0 13.5h4.6v4.6h-4.6zm0 0.5h4.6v4.6h-4.6zm0 0.5h4.6v4.6h-4.6zm0 15h4.6v4.6h-4.6zm0 10h4.6v4.6h-4.6zm0.5 -57h4.6v4.6h-4.6zm0 2h4.6v4.6h-4.6zm0 1.5h4.6v4.6h-4.6zm0 3.5h4.6v4.6h-4.6zm0 0.5h4.6v4.6h-4.6zm0 3.5h4.6v4.6h-4.6zm0 0.5h4.6v4.6h-4.6zm0 0.5h4.6v4.6h-4.6zm0 0.5h4.6v4.6h-4.6zm0 0.5h4.6v4.6h-4.6zm0 15h4.6v4.6h-4.6zm0 19.5h4.6v4.6h-4.6zm0 7.5h4.6v4.6h-4.6zm0 0.5h4.6v4.6h-4.6zm0 3h4.6v4.6h-4.6zm0.5 -51.5h4.6v4.6h-4.6zm0 4h4.6v4.6h-4.6zm0 5.5h4.6v4.6h-4.6zm0 9h4.6v4.6h-4.6zm0 11h4.6v4.6h-4.6zm0 3.5h4.6v4.6h-4.6zm0 1h4.6v4.6h-4.6zm0 4.5h4.6v4.6h-4.6zm0 10.5h4.6v4.6h-4.6zm0 6h4.6v4.6h-4.6zm0.5 -62.5h4.6v4.6h-4.6zm0 15.5h4.6v4.6h-4.6zm0 5.5h4.6v4.6h-4.6zm0 1h4.6v4.6h-4.6zm0 3h4.6v4.6h-4.6zm0 14.5h4.6v4.6h-4.6zm0 1h4.6v4.6h-4.6zm0 8.5h4.6v4.6h-4.6zm0 8h4.6v4.6h-4.6zm0 2h4.6v4.6h-4.6zm0.5 -71h4.6v4.6h-4.6zm0 23h4.6v4.6h-4.6zm0 16.5h4.6v4.6h-4.6zm0 2.5h4.6v4.6h-4.6zm0 2h4.6v4.6h-4.6zm0 4.5h4.6v4.6h-4.6zm0 10h4.6v4.6h-4.6zm0 8h4.6v4.6h-4.6zm0 5h4.6v4.6h-4.6zm0 8h4.6v4.6h-4.6zm0.5 -71.5h4.6v4.6h-4.6zm0 6.5h4.6v4.6h-4.6zm0 1h4.6v4.6h-4.6zm0 10h4.6v4.6h-4.6zm0 3.5h4.6v4.6h-4.6zm0 7h4.6v4.6h-4.6zm0 4.5h4.6v4.6h-4.6zm0 0.5h4.6v4.6h-4.6zm0 2.5h4.6v4.6h-4.6zm0 1h4.6v4.6h-4.6zm0 19h4.6v4.6h-4.6zm0 3h4.6v4.6h-4.6zm0 7.5h4.6v4.6h-4.6zm0.5 -64h4.6v4.6h-4.6zm0 9h4.6v4.6h-4.6zm0 4.5h4.6v4.6h-4.6zm0 7.5h4.6v4.6h-4.6zm0 2h4.6v4.6h-4.6zm0 3h4.6v4.6h-4.6zm0 1.5h4.6v4.6h-4.6zm0 13.5h4.6v4.6h-4.6zm0 1h4.6v4.6h-4.6zm0 2.5h4.6v4.6h-4.6zm0 15h4.6v4.6h-4.6zm0 1h4.6v4.6h-4.6zm0 8h4.6v4.6h-4.6zm0.5 -65h4.6v4.6h-4.6zm0 7.5h4.6v4.6h-4.6zm0 4h4.6v4.6h-4.6zm0 11.5h4.6v4.6h-4.6zm0 8h4.6v4.6h-4.6zm0 1.5h4.6v4.6h-4.6zm0.5 -30.5h4.6v4.6h-4.6zm0 22.5h4.6v4.6h-4.6zm0 1.5h4.6v4.6h-4.6zm0 12h4.6v4.6h-4.6zm0 0.5h4.6v4.6h-4.6zm0 6h4.6v4.6h-4.6zm0.5 -38h4.6v4.6h-4.6zm0 2.5h4.6v4.6h-4.6zm0 3h4.6v4.6h-4.6zm0 6.5h4.6v4.6h-4.6zm0 9.5h4.6v4.6h-4.6zm0 0.5h4.6v4.6h-4.6zm0 2.5h4.6v4.6h-4.6zm0 0.5h4.6v4.6h-4.6zm0 1h4.6v4.6h-4.6zm0 2h4.6v4.6h-4.6zm0 8h4.6v4.6h-4.6zm0 2.5h4.6v4.6h-4.6zm0.5 -41.5h4.6v4.6h-4.6zm0 3.5h4.6v4.6h-4.6zm0 3h4.6v4.6h-4.6zm0 9.5h4.6v4.6h-4.6zm0 2.5h4.6v4.6h-4.6zm0 1.5h4.6v4.6h-4.6zm0 1h4.6v4.6h-4.6zm0 4.5h4.6v4.6h-4.6zm0 13h4.6v4.6h-4.6zm0 3h4.6v4.6h-4.6zm0 6.5h4.6v4.6h-4.6zm0 19.5h4.6v4.6h-4.6zm0.5 -77.5h4.6v4.6h-4.6zm0 5h4.6v4.6h-4.6zm0 1.5h4.6v4.6h-4.6zm0 24.5h4.6v4.6h-4.6zm0 4.5h4.6v4.6h-4.6zm0 2.5h4.6v4.6h-4.6zm0 2.5h4.6v4.6h-4.6zm0 6h4.6v4.6h-4.6zm0 15h4.6v4.6h-4.6zm0.5 -66h4.6v4.6h-4.6zm0 0.5h4.6v4.6h-4.6zm0 14h4.6v4.6h-4.6zm0 7.5h4.6v4.6h-4.6zm0 16h4.6v4.6h-4.6zm0 5.5h4.6v4.6h-4.6zm0 11h4.6v4.6h-4.6zm0 10.5h4.6v4.6h-4.6zm0.5 -61.5h4.6v4.6h-4.6zm0 1.5h4.6v4.6h-4.6zm0 9.5h4.6v4.6h-4.6zm0 4h4.6v4.6h-4.6zm0 3.5h4.6v4.6h-4.6zm0 22.5h4.6v4.6h-4.6zm0 3.5h4.6v4.6h-4.6zm0.5 -47h4.6v4.6h-4.6zm0 5.5h4.6v4.6h-4.6zm0 9.5h4.6v4.6h-4.6zm0 11.5h4.6v4.6h-4.6zm0 5.5h4.6v4.6h-4.6zm0 4.5h4.6v4.6h-4.6zm0 6h4.6v4.6h-4.6zm0 11.5h4.6v4.6h-4.6zm0.5 -17h4.6v4.6h-4.6zm0 1h4.6v4.6h-4.6zm0 3.5h4.6v4.6h-4.6zm0 2h4.6v4.6h-4.6zm0 11.5h4.6v4.6h-4.6zm0.5 -48.5h4.6v4.6h-4.6zm0 9h4.6v4.6h-4.6zm0 4.5h4.6v4.6h-4.6zm0 4h4.6v4.6h-4.6zm0 14.5h4.6v4.6h-4.6zm0 9h4.6v4.6h-4.6zm0 7h4.6v4.6h-4.6zm0.5 -51.5h4.6v4.6h-4.6zm0 13.5h4.6v4.6h-4.6zm0 9h4.6v4.6h-4.6zm0 15.5h4.6v4.6h-4.6zm0 32h4.6v4.6h-4.6zm0.5 -53h4.6v4.6h-4.6zm0 5.5h4.6v4.6h-4.6zm0 4h4.6v4.6h-4.6zm0 12h4.6v4.6h-4.6zm0 6h4.6v4.6h-4.6zm0 12h4.6v4.6h-4.6zm0 12h4.6v4.6h-4.6zm0.5 -59.5h4.6v4.6h-4.6zm0 0.5h4.6v4.6h-4.6zm0 6h4.6v4.6h-4.6zm0 11h4.6v4.6h-4.6zm0 2h4.6v4.6h-4.6zm0 3h4.6v4.6h-4.6zm0 23h4.6v4.6h-4.6zm0.5 -32.5h4.6v4.6h-4.6zm0 4h4.6v4.6h-4.6zm0 11.5h4.6v4.6h-4.6zm0 0.5h4.6v4.6h-4.6zm0 1h4.6v4.6h-4.6zm0 1h4.6v4.6h-4.6zm0 4h4.6v4.6h-4.6zm0 1.5h4.6v4.6h-4.6zm0 4h4.6v4.6h-4.6zm0.5 -58h4.6v4.6h-4.6zm0 22.5h4.6v4.6h-4.6zm0 16h4.6v4.6h-4.6zm0 9h4.6v4.6h-4.6zm0 7.5h4.6v4.6h-4.6zm0.5 -38.5h4.6v4.6h-4.6zm0 10.5h4.6v4.6h-4.6zm0 1.5h4.6v4.6h-4.6zm0 7.5h4.6v4.6h-4.6zm0 5h4.6v4.6h-4.6zm0 10h4.6v4.6h-4.6zm0 3.5h4.6v4.6h-4.6zm0 2.5h4.6v4.6h-4.6zm0.5 -31.5h4.6v4.6h-4.6zm0 0.5h4.6v4.6h-4.6zm0 29h4.6v4.6h-4.6zm0 12.5h4.6v4.6h-4.6zm0.5 -37.5h4.6v4.6h-4.6zm0 38.5h4.6v4.6h-4.6zm0.5 -58h4.6v4.6h-4.6zm0 4.5h4.6v4.6h-4.6zm0 23h4.6v4.6h-4.6zm0 27.5h4.6v4.6h-4.6zm0 2.5h4.6v4.6h-4.6zm0.5 -43.5h4.6v4.6h-4.6zm0 8.5h4.6v4.6h-4.6zm0 25h4.6v4.6h-4.6zm0.5 -25.5h4.6v4.6h-4.6zm0 12.5h4.6v4.6h-4.6zm0.5 -19h4.6v4.6h-4.6zm0 7h4.6v4.6h-4.6zm0 2h4.6v4.6h-4.6zm0 18.5h4.6v4.6h-4.6zm0.5 -45h4.6v4.6h-4.6zm0 29h4.6v4.6h-4.6zm0 8.5h4.6v4.6h-4.6zm0 4h4.6v4.6h-4.6zm0 13h4.6v4.6h-4.6zm0.5 -42.5h4.6v4.6h-4.6zm0 19.5h4.6v4.6h-4.6zm0 23.5h4.6v4.6h-4.6zm0.5 -33.5h4.6v4.6h-4.6zm0 20h4.6v4.6h-4.6zm0.5 -45.5h4.6v4.6h-4.6zm0 23.5h4.6v4.6h-4.6zm0 14.5h4.6v4.6h-4.6zm0 15h4.6v4.6h-4.6zm0.5 -41h4.6v4.6h-4.6zm0 41.5h4.6v4.6h-4.6zm0.5 -29.5h4.6v4.6h-4.6zm0 15h4.6v4.6h-4.6zm0 3.5h4.6v4.6h-4.6zm0.5 -31h4.6v4.6h-4.6zm0 36h4.6v4.6h-4.6zm0.5 -14h4.6v4.6h-4.6zm0 13.5h4.6v4.6h-4.6zm0.5 -11.5h4.6v4.6h-4.6zm0.5 -5h4.6v4.6h-4.6zm0.5 11.5h4.6v4.6h-4.6zm0.5 -6h4.6v4.6h-4.6zm0 17h4.6v4.6h-4.6zm0.5 -21h4.6v4.6h-4.6zm0 27.5h4.6v4.6h-4.6zm2.5 -28h4.6v4.6h-4.6zm0 29.5h4.6v4.6h-4.6zm1.5 -26h4.6v4.6h-4.6z"/></g>
<rect x="1426.0" y="53.5" width="4.0" height="366.0" fill="#000"/>
<rect x="1282.0" y="274.1" width="359.0" height="3.8" fill="#000"/>
<text transform="translate(1290,96) scale(0.96,1.095)" font-family='"Liberation Sans", Arial, sans-serif' font-weight="bold" font-size="35" text-anchor="start" fill="#000">13.7%</text>
<text transform="translate(1640,96) scale(0.96,1.095)" font-family='"Liberation Sans", Arial, sans-serif' font-weight="bold" font-size="35" text-anchor="end" fill="#000">0.3%</text>
<text transform="translate(1290,402) scale(0.96,1.095)" font-family='"Liberation Sans", Arial, sans-serif' font-weight="bold" font-size="35" text-anchor="start" fill="#000">12.7%</text>
<text transform="translate(1639,402) scale(0.96,1.095)" font-family='"Liberation Sans", Arial, sans-serif' font-weight="bold" font-size="35" text-anchor="end" fill="#000">73.3%</text>
<rect x="131.5" y="582.5" width="6.0" height="360.5" fill="#000"/>
<rect x="131.5" y="937.0" width="364.5" height="6.0" fill="#000"/>
<rect x="131.5" y="582.5" width="364.5" height="4.0" fill="#000"/>
<rect x="492.0" y="582.5" width="4.0" height="360.5" fill="#000"/>
<rect x="165.0" y="940.0" width="4.0" height="19.0" fill="#000"/>
<rect x="185.3" y="940.0" width="8.0" height="19.0" fill="#000"/>
<rect x="209.7" y="940.0" width="4.0" height="19.0" fill="#000"/>
<rect x="292.4" y="940.0" width="4.0" height="19.0" fill="#000"/>
<rect x="378.3" y="940.0" width="4.0" height="19.0" fill="#000"/>
<rect x="458.5" y="940.0" width="4.0" height="19.0" fill="#000"/>
<rect x="165.0" y="940.0" width="48.7" height="10.0" fill="#000"/>
<rect x="149.0" y="940.0" width="3.4" height="10.5" fill="#000"/>
<rect x="226.2" y="940.0" width="3.4" height="10.5" fill="#000"/>
<rect x="242.9" y="940.0" width="3.4" height="10.5" fill="#000"/>
<rect x="253.3" y="940.0" width="3.4" height="10.5" fill="#000"/>
<rect x="261.4" y="940.0" width="3.4" height="10.5" fill="#000"/>
<rect x="269.9" y="940.0" width="3.4" height="10.5" fill="#000"/>
<rect x="275.6" y="940.0" width="3.4" height="10.5" fill="#000"/>
<rect x="281.1" y="940.0" width="3.4" height="10.5" fill="#000"/>
<rect x="287.2" y="940.0" width="3.4" height="10.5" fill="#000"/>
<rect x="318.6" y="940.0" width="3.4" height="10.5" fill="#000"/>
<rect x="402.7" y="940.0" width="3.4" height="10.5" fill="#000"/>
<rect x="333.7" y="940.0" width="3.4" height="10.5" fill="#000"/>
<rect x="416.8" y="940.0" width="3.4" height="10.5" fill="#000"/>
<rect x="344.4" y="940.0" width="3.4" height="10.5" fill="#000"/>
<rect x="426.9" y="940.0" width="3.4" height="10.5" fill="#000"/>
<rect x="352.7" y="940.0" width="3.4" height="10.5" fill="#000"/>
<rect x="434.6" y="940.0" width="3.4" height="10.5" fill="#000"/>
<rect x="359.5" y="940.0" width="3.4" height="10.5" fill="#000"/>
<rect x="441.0" y="940.0" width="3.4" height="10.5" fill="#000"/>
<rect x="365.3" y="940.0" width="3.4" height="10.5" fill="#000"/>
<rect x="446.4" y="940.0" width="3.4" height="10.5" fill="#000"/>
<rect x="370.2" y="940.0" width="3.4" height="10.5" fill="#000"/>
<rect x="451.0" y="940.0" width="3.4" height="10.5" fill="#000"/>
<rect x="374.6" y="940.0" width="3.4" height="10.5" fill="#000"/>
<rect x="455.1" y="940.0" width="3.4" height="10.5" fill="#000"/>
<rect x="482.9" y="940.0" width="3.4" height="10.5" fill="#000"/>
<rect x="115.5" y="904.4" width="19.0" height="4.0" fill="#000"/>
<rect x="115.5" y="881.7" width="19.0" height="8.0" fill="#000"/>
<rect x="115.5" y="863.3" width="19.0" height="4.0" fill="#000"/>
<rect x="115.5" y="781.0" width="19.0" height="4.0" fill="#000"/>
<rect x="115.5" y="697.0" width="19.0" height="4.0" fill="#000"/>
<rect x="115.5" y="616.4" width="19.0" height="4.0" fill="#000"/>
<rect x="124.5" y="881.7" width="10.0" height="26.7" fill="#000"/>
<rect x="124.0" y="924.5" width="10.5" height="3.4" fill="#000"/>
<rect x="124.0" y="844.7" width="10.5" height="3.4" fill="#000"/>
<rect x="124.0" y="830.2" width="10.5" height="3.4" fill="#000"/>
<rect x="124.0" y="817.9" width="10.5" height="3.4" fill="#000"/>
<rect x="124.0" y="806.6" width="10.5" height="3.4" fill="#000"/>
<rect x="124.0" y="799.0" width="10.5" height="3.4" fill="#000"/>
<rect x="124.0" y="793.3" width="10.5" height="3.4" fill="#000"/>
<rect x="124.0" y="787.7" width="10.5" height="3.4" fill="#000"/>
<rect x="124.0" y="784.2" width="10.5" height="3.4" fill="#000"/>
<rect x="124.0" y="756.0" width="10.5" height="3.4" fill="#000"/>
<rect x="124.0" y="673.1" width="10.5" height="3.4" fill="#000"/>
<rect x="124.0" y="741.2" width="10.5" height="3.4" fill="#000"/>
<rect x="124.0" y="658.9" width="10.5" height="3.4" fill="#000"/>
<rect x="124.0" y="730.8" width="10.5" height="3.4" fill="#000"/>
<rect x="124.0" y="648.8" width="10.5" height="3.4" fill="#000"/>
<rect x="124.0" y="722.6" width="10.5" height="3.4" fill="#000"/>
<rect x="124.0" y="641.0" width="10.5" height="3.4" fill="#000"/>
<rect x="124.0" y="716.0" width="10.5" height="3.4" fill="#000"/>
<rect x="124.0" y="634.6" width="10.5" height="3.4" fill="#000"/>
<rect x="124.0" y="710.4" width="10.5" height="3.4" fill="#000"/>
<rect x="124.0" y="629.2" width="10.5" height="3.4" fill="#000"/>
<rect x="124.0" y="705.5" width="10.5" height="3.4" fill="#000"/>
<rect x="124.0" y="624.5" width="10.5" height="3.4" fill="#000"/>
<rect x="124.0" y="701.2" width="10.5" height="3.4" fill="#000"/>
<rect x="124.0" y="620.4" width="10.5" height="3.4" fill="#000"/>
<rect x="124.0" y="592.4" width="10.5" height="3.4" fill="#000"/>
<text x="168.0" y="999.3" font-family='"Liberation Sans", Arial, sans-serif' font-size="25.5" text-anchor="middle" fill="#111">-10<tspan dy="-15.3" font-size="20">2</tspan></text>
<text x="294.9" y="999.3" font-family='"Liberation Sans", Arial, sans-serif' font-size="25.5" text-anchor="middle" fill="#111">10<tspan dy="-15.3" font-size="20">3</tspan></text>
<text x="380.8" y="999.3" font-family='"Liberation Sans", Arial, sans-serif' font-size="25.5" text-anchor="middle" fill="#111">10<tspan dy="-15.3" font-size="20">4</tspan></text>
<text x="461.0" y="999.3" font-family='"Liberation Sans", Arial, sans-serif' font-size="25.5" text-anchor="middle" fill="#111">10<tspan dy="-15.3" font-size="20">5</tspan></text>
<text x="111.9" y="917.6" font-family='"Liberation Sans", Arial, sans-serif' font-size="25.5" text-anchor="end" fill="#111">-10<tspan dy="-16.6" font-size="20">2</tspan></text>
<text x="109.9" y="794.2" font-family='"Liberation Sans", Arial, sans-serif' font-size="25.5" text-anchor="end" fill="#111">10<tspan dy="-16.6" font-size="20">3</tspan></text>
<text x="109.9" y="710.2" font-family='"Liberation Sans", Arial, sans-serif' font-size="25.5" text-anchor="end" fill="#111">10<tspan dy="-16.6" font-size="20">4</tspan></text>
<text x="109.9" y="629.6" font-family='"Liberation Sans", Arial, sans-serif' font-size="25.5" text-anchor="end" fill="#111">10<tspan dy="-16.6" font-size="20">5</tspan></text>
<text transform="translate(315.6,1036.3) scale(1.0,1)" font-family='"Liberation Sans", Arial, sans-serif' font-size="33.5" text-anchor="middle" fill="#111">CD5 PerCP-Cy5-5-A</text>
<text transform="translate(27.5,761.8) rotate(-90) scale(1.015,1)" font-family='"Liberation Sans", Arial, sans-serif' font-size="33.5" text-anchor="middle" fill="#111">CD2 APC-A</text>
<text transform="translate(4.0,548.2) scale(0.95,1)" font-family='"Liberation Sans", Arial, sans-serif' font-size="44" fill="#000" stroke="#000" stroke-width="0.7">D</text>
<clipPath id="cD"><rect x="138" y="587" width="354" height="350"/></clipPath>
<g clip-path="url(#cD)"><path fill="#8a8a7a" filter="url(#bl)" shape-rendering="auto" d="m293.5 701h4.6v4.6h-4.6zm2.5 28.5h4.6v4.6h-4.6zm16 -27.5h4.6v4.6h-4.6zm0 11h4.6v4.6h-4.6zm21 -9h4.6v4.6h-4.6zm22.5 28.5h4.6v4.6h-4.6zm6 -14h4.6v4.6h-4.6z"/></g>
<g clip-path="url(#cD)"><path fill="#0000ff" filter="url(#bl)" shape-rendering="auto" d="m254 672.5h4.6v4.6h-4.6zm0.5 15h4.6v4.6h-4.6zm6 -7.5h4.6v4.6h-4.6zm3 -17.5h4.6v4.6h-4.6zm4 -13h4.6v4.6h-4.6zm0 71h4.6v4.6h-4.6zm3 -54.5h4.6v4.6h-4.6zm7.5 20.5h4.6v4.6h-4.6zm2 -11.5h4.6v4.6h-4.6zm0 8h4.6v4.6h-4.6zm2.5 26h4.6v4.6h-4.6zm1 20.5h4.6v4.6h-4.6zm0 4h4.6v4.6h-4.6zm2 -47.5h4.6v4.6h-4.6zm0 6h4.6v4.6h-4.6zm2.5 21.5h4.6v4.6h-4.6zm0.5 -31.5h4.6v4.6h-4.6zm0.5 -11h4.6v4.6h-4.6zm1 25.5h4.6v4.6h-4.6zm0.5 -4h4.6v4.6h-4.6zm0 4h4.6v4.6h-4.6zm0.5 -8.5h4.6v4.6h-4.6zm0.5 1h4.6v4.6h-4.6zm0.5 8h4.6v4.6h-4.6zm2 -7h4.6v4.6h-4.6zm0.5 4h4.6v4.6h-4.6zm0 6.5h4.6v4.6h-4.6zm1 7h4.6v4.6h-4.6zm1 -22.5h4.6v4.6h-4.6zm0 11h4.6v4.6h-4.6zm0.5 -10h4.6v4.6h-4.6zm0.5 10h4.6v4.6h-4.6zm1 -2h4.6v4.6h-4.6zm0 1h4.6v4.6h-4.6zm1 -2h4.6v4.6h-4.6zm0 16h4.6v4.6h-4.6zm1 -7h4.6v4.6h-4.6zm1.5 -5.5h4.6v4.6h-4.6zm1 -12h4.6v4.6h-4.6zm0.5 1h4.6v4.6h-4.6zm0 7.5h4.6v4.6h-4.6zm2 -14.5h4.6v4.6h-4.6zm0.5 18.5h4.6v4.6h-4.6zm1 -3h4.6v4.6h-4.6zm1.5 -5h4.6v4.6h-4.6zm0 11.5h4.6v4.6h-4.6zm0.5 -22.5h4.6v4.6h-4.6zm0.5 16h4.6v4.6h-4.6zm1.5 5h4.6v4.6h-4.6zm1.5 -2.5h4.6v4.6h-4.6zm2.5 14.5h4.6v4.6h-4.6zm2 -23h4.6v4.6h-4.6zm1 -9h4.6v4.6h-4.6zm2.5 31.5h4.6v4.6h-4.6zm2 -32.5h4.6v4.6h-4.6zm1 26h4.6v4.6h-4.6zm0.5 -2h4.6v4.6h-4.6zm0.5 -2h4.6v4.6h-4.6zm0.5 10.5h4.6v4.6h-4.6zm0.5 2h4.6v4.6h-4.6zm3 -10.5h4.6v4.6h-4.6zm0 5h4.6v4.6h-4.6zm0.5 7.5h4.6v4.6h-4.6zm0.5 -20.5h4.6v4.6h-4.6zm0 7h4.6v4.6h-4.6zm1.5 -8.5h4.6v4.6h-4.6zm2 29.5h4.6v4.6h-4.6zm0.5 8.5h4.6v4.6h-4.6zm2 -27.5h4.6v4.6h-4.6zm1 -3.5h4.6v4.6h-4.6zm1 -0.5h4.6v4.6h-4.6zm2 -3.5h4.6v4.6h-4.6zm0 8.5h4.6v4.6h-4.6zm1 -40.5h4.6v4.6h-4.6zm0 43.5h4.6v4.6h-4.6zm0.5 -25h4.6v4.6h-4.6zm0.5 28.5h4.6v4.6h-4.6zm0 19h4.6v4.6h-4.6zm1.5 -29.5h4.6v4.6h-4.6zm0 4h4.6v4.6h-4.6zm0 5h4.6v4.6h-4.6zm0 5h4.6v4.6h-4.6zm1 -41h4.6v4.6h-4.6zm0 34h4.6v4.6h-4.6zm0.5 -24.5h4.6v4.6h-4.6zm0 1.5h4.6v4.6h-4.6zm0.5 4.5h4.6v4.6h-4.6zm0 5.5h4.6v4.6h-4.6zm1 4h4.6v4.6h-4.6zm0 8h4.6v4.6h-4.6zm0.5 -7.5h4.6v4.6h-4.6zm0 7.5h4.6v4.6h-4.6zm1 -9.5h4.6v4.6h-4.6zm1 6h4.6v4.6h-4.6zm0 2h4.6v4.6h-4.6zm0 0.5h4.6v4.6h-4.6zm0 4.5h4.6v4.6h-4.6zm0.5 -19.5h4.6v4.6h-4.6zm0 1.5h4.6v4.6h-4.6zm0 4.5h4.6v4.6h-4.6zm0 1.5h4.6v4.6h-4.6zm0.5 -21h4.6v4.6h-4.6zm0 6.5h4.6v4.6h-4.6zm0 14h4.6v4.6h-4.6zm0 11.5h4.6v4.6h-4.6zm0.5 -15h4.6v4.6h-4.6zm0 2.5h4.6v4.6h-4.6zm0 9.5h4.6v4.6h-4.6zm0.5 -20h4.6v4.6h-4.6zm0 8h4.6v4.6h-4.6zm0 18.5h4.6v4.6h-4.6zm0.5 -17h4.6v4.6h-4.6zm0 1h4.6v4.6h-4.6zm0 9.5h4.6v4.6h-4.6zm0 4.5h4.6v4.6h-4.6zm0 3h4.6v4.6h-4.6zm0.5 -16h4.6v4.6h-4.6zm0 6h4.6v4.6h-4.6zm0 6.5h4.6v4.6h-4.6zm0 5h4.6v4.6h-4.6zm0.5 -6.5h4.6v4.6h-4.6zm0.5 -10.5h4.6v4.6h-4.6zm0 24.5h4.6v4.6h-4.6zm0.5 -34h4.6v4.6h-4.6zm0 2h4.6v4.6h-4.6zm0 10.5h4.6v4.6h-4.6zm0.5 -5.5h4.6v4.6h-4.6zm0.5 -14.5h4.6v4.6h-4.6zm0 5h4.6v4.6h-4.6zm0.5 6h4.6v4.6h-4.6zm0 4h4.6v4.6h-4.6zm0 3.5h4.6v4.6h-4.6zm0 11.5h4.6v4.6h-4.6zm0.5 -31.5h4.6v4.6h-4.6zm0.5 36.5h4.6v4.6h-4.6zm0.5 3h4.6v4.6h-4.6zm0.5 -40.5h4.6v4.6h-4.6zm0 2h4.6v4.6h-4.6zm0 26.5h4.6v4.6h-4.6zm0 4h4.6v4.6h-4.6zm0.5 -26h4.6v4.6h-4.6zm0 24.5h4.6v4.6h-4.6zm0 3.5h4.6v4.6h-4.6zm0.5 -22.5h4.6v4.6h-4.6zm0 1.5h4.6v4.6h-4.6zm0 15.5h4.6v4.6h-4.6zm0 7h4.6v4.6h-4.6zm0 5.5h4.6v4.6h-4.6zm0.5 -31.5h4.6v4.6h-4.6zm0 6.5h4.6v4.6h-4.6zm0 0.5h4.6v4.6h-4.6zm0 6.5h4.6v4.6h-4.6zm0 0.5h4.6v4.6h-4.6zm0 3.5h4.6v4.6h-4.6zm0 10.5h4.6v4.6h-4.6zm0.5 -19h4.6v4.6h-4.6zm0 6h4.6v4.6h-4.6zm0.5 -19.5h4.6v4.6h-4.6zm0 13.5h4.6v4.6h-4.6zm0 5.5h4.6v4.6h-4.6zm0 10h4.6v4.6h-4.6zm0.5 -18h4.6v4.6h-4.6zm0 0.5h4.6v4.6h-4.6zm0 27h4.6v4.6h-4.6zm0.5 -32h4.6v4.6h-4.6zm0 0.5h4.6v4.6h-4.6zm0 6.5h4.6v4.6h-4.6zm0 2.5h4.6v4.6h-4.6zm0 2.5h4.6v4.6h-4.6zm0 0.5h4.6v4.6h-4.6zm0 6.5h4.6v4.6h-4.6zm0 2.5h4.6v4.6h-4.6zm0.5 -21.5h4.6v4.6h-4.6zm0.5 4h4.6v4.6h-4.6zm0 7h4.6v4.6h-4.6zm0.5 -11h4.6v4.6h-4.6zm0 4.5h4.6v4.6h-4.6zm0 5.5h4.6v4.6h-4.6zm0.5 -13.5h4.6v4.6h-4.6zm0 11.5h4.6v4.6h-4.6zm0 8h4.6v4.6h-4.6zm0 0.5h4.6v4.6h-4.6zm0 2h4.6v4.6h-4.6zm0.5 -16.5h4.6v4.6h-4.6zm0 14h4.6v4.6h-4.6zm0 7h4.6v4.6h-4.6zm0 14h4.6v4.6h-4.6zm0.5 -35.5h4.6v4.6h-4.6zm0 1h4.6v4.6h-4.6zm0 0.5h4.6v4.6h-4.6zm0 9h4.6v4.6h-4.6zm0 5h4.6v4.6h-4.6zm0 7h4.6v4.6h-4.6zm0.5 -27h4.6v4.6h-4.6zm0 6.5h4.6v4.6h-4.6zm0 4.5h4.6v4.6h-4.6zm0 2.5h4.6v4.6h-4.6zm0 5.5h4.6v4.6h-4.6zm0 4h4.6v4.6h-4.6zm0.5 5h4.6v4.6h-4.6zm0.5 -58.5h4.6v4.6h-4.6zm0 15h4.6v4.6h-4.6zm0 23h4.6v4.6h-4.6zm0 5h4.6v4.6h-4.6zm0 9.5h4.6v4.6h-4.6zm0 2h4.6v4.6h-4.6zm0.5 -43h4.6v4.6h-4.6zm0 12.5h4.6v4.6h-4.6zm0 13.5h4.6v4.6h-4.6zm0 2h4.6v4.6h-4.6zm0 7h4.6v4.6h-4.6zm0.5 -28h4.6v4.6h-4.6zm0 3h4.6v4.6h-4.6zm0 8h4.6v4.6h-4.6zm0 7.5h4.6v4.6h-4.6zm0 3.5h4.6v4.6h-4.6zm0 1h4.6v4.6h-4.6zm0 10.5h4.6v4.6h-4.6zm0 0.5h4.6v4.6h-4.6zm0 8.5h4.6v4.6h-4.6zm0.5 -34.5h4.6v4.6h-4.6zm0 23h4.6v4.6h-4.6zm0.5 -18.5h4.6v4.6h-4.6zm0 0.5h4.6v4.6h-4.6zm0 2.5h4.6v4.6h-4.6zm0 8h4.6v4.6h-4.6zm0 2h4.6v4.6h-4.6zm0.5 -25.5h4.6v4.6h-4.6zm0 18h4.6v4.6h-4.6zm0 1.5h4.6v4.6h-4.6zm0 0.5h4.6v4.6h-4.6zm0 5.5h4.6v4.6h-4.6zm0 14h4.6v4.6h-4.6zm0 9h4.6v4.6h-4.6zm0.5 -28.5h4.6v4.6h-4.6zm0.5 -14.5h4.6v4.6h-4.6zm0 3.5h4.6v4.6h-4.6zm0 15.5h4.6v4.6h-4.6zm0 11.5h4.6v4.6h-4.6zm0.5 -28h4.6v4.6h-4.6zm0 4.5h4.6v4.6h-4.6zm0 19.5h4.6v4.6h-4.6zm0.5 -33.5h4.6v4.6h-4.6zm0 5h4.6v4.6h-4.6zm0 3h4.6v4.6h-4.6zm0 3.5h4.6v4.6h-4.6zm0 1.5h4.6v4.6h-4.6zm0 0.5h4.6v4.6h-4.6zm0 3.5h4.6v4.6h-4.6zm0 0.5h4.6v4.6h-4.6zm0 1.5h4.6v4.6h-4.6zm0 2h4.6v4.6h-4.6zm0 12h4.6v4.6h-4.6zm0 14h4.6v4.6h-4.6zm0 3.5h4.6v4.6h-4.6zm0.5 -37.5h4.6v4.6h-4.6zm0 17.5h4.6v4.6h-4.6zm0 0.5h4.6v4.6h-4.6zm0 1h4.6v4.6h-4.6zm0 11.5h4.6v4.6h-4.6zm0.5 -23.5h4.6v4.6h-4.6zm0 1h4.6v4.6h-4.6zm0 5h4.6v4.6h-4.6zm0.5 -9.5h4.6v4.6h-4.6zm0 8h4.6v4.6h-4.6zm0 1h4.6v4.6h-4.6zm0 7.5h4.6v4.6h-4.6zm0 2h4.6v4.6h-4.6zm0 7.5h4.6v4.6h-4.6zm0 9.5h4.6v4.6h-4.6zm0.5 -42h4.6v4.6h-4.6zm0 1h4.6v4.6h-4.6zm0 3.5h4.6v4.6h-4.6zm0 4.5h4.6v4.6h-4.6zm0 1h4.6v4.6h-4.6zm0 10h4.6v4.6h-4.6zm0 4.5h4.6v4.6h-4.6zm0.5 -13h4.6v4.6h-4.6zm0 14h4.6v4.6h-4.6zm0.5 -36h4.6v4.6h-4.6zm0 27.5h4.6v4.6h-4.6zm0 9h4.6v4.6h-4.6zm0.5 -32h4.6v4.6h-4.6zm0 10h4.6v4.6h-4.6zm0 10h4.6v4.6h-4.6zm0 3h4.6v4.6h-4.6zm0 5h4.6v4.6h-4.6zm0.5 -20h4.6v4.6h-4.6zm0 2h4.6v4.6h-4.6zm0 7h4.6v4.6h-4.6zm0 3h4.6v4.6h-4.6zm0 12h4.6v4.6h-4.6zm0.5 -16h4.6v4.6h-4.6zm0 4.5h4.6v4.6h-4.6zm0 2.5h4.6v4.6h-4.6zm0 3h4.6v4.6h-4.6zm0 7h4.6v4.6h-4.6zm0 14h4.6v4.6h-4.6zm0 1h4.6v4.6h-4.6zm0.5 -39.5h4.6v4.6h-4.6zm0 5h4.6v4.6h-4.6zm0 0.5h4.6v4.6h-4.6zm0 19h4.6v4.6h-4.6zm0 3.5h4.6v4.6h-4.6zm0.5 -28h4.6v4.6h-4.6zm0 3.5h4.6v4.6h-4.6zm0 7h4.6v4.6h-4.6zm0 11.5h4.6v4.6h-4.6zm0.5 -42h4.6v4.6h-4.6zm0 7.5h4.6v4.6h-4.6zm0 24h4.6v4.6h-4.6zm0 0.5h4.6v4.6h-4.6zm0.5 -19h4.6v4.6h-4.6zm0 31h4.6v4.6h-4.6zm0.5 -20h4.6v4.6h-4.6zm0 6.5h4.6v4.6h-4.6zm0 2h4.6v4.6h-4.6zm0 5h4.6v4.6h-4.6zm0 2h4.6v4.6h-4.6zm0.5 -30.5h4.6v4.6h-4.6zm0 6.5h4.6v4.6h-4.6zm0 8.5h4.6v4.6h-4.6zm0 2h4.6v4.6h-4.6zm0 9.5h4.6v4.6h-4.6zm0 10h4.6v4.6h-4.6zm0 20.5h4.6v4.6h-4.6zm0.5 -50.5h4.6v4.6h-4.6zm0 10.5h4.6v4.6h-4.6zm0 2.5h4.6v4.6h-4.6zm0 10h4.6v4.6h-4.6zm0.5 -5h4.6v4.6h-4.6zm0.5 -8h4.6v4.6h-4.6zm0 14.5h4.6v4.6h-4.6zm0 7.5h4.6v4.6h-4.6zm0.5 -25.5h4.6v4.6h-4.6zm0 1.5h4.6v4.6h-4.6zm0 4h4.6v4.6h-4.6zm0 2h4.6v4.6h-4.6zm0 6.5h4.6v4.6h-4.6zm0 5h4.6v4.6h-4.6zm0 3.5h4.6v4.6h-4.6zm0.5 -21h4.6v4.6h-4.6zm0 14.5h4.6v4.6h-4.6zm0 2.5h4.6v4.6h-4.6zm0.5 -19.5h4.6v4.6h-4.6zm0 6h4.6v4.6h-4.6zm0 0.5h4.6v4.6h-4.6zm0.5 -27.5h4.6v4.6h-4.6zm0 8.5h4.6v4.6h-4.6zm0 13.5h4.6v4.6h-4.6zm0 2.5h4.6v4.6h-4.6zm0 9.5h4.6v4.6h-4.6zm0 5.5h4.6v4.6h-4.6zm0 3.5h4.6v4.6h-4.6zm0 1h4.6v4.6h-4.6zm0.5 -19.5h4.6v4.6h-4.6zm0 2h4.6v4.6h-4.6zm0.5 -23.5h4.6v4.6h-4.6zm0 9h4.6v4.6h-4.6zm0 12h4.6v4.6h-4.6zm0.5 -5.5h4.6v4.6h-4.6zm0 3h4.6v4.6h-4.6zm0 27.5h4.6v4.6h-4.6zm0.5 -29h4.6v4.6h-4.6zm0 5h4.6v4.6h-4.6zm0 6h4.6v4.6h-4.6zm0 3h4.6v4.6h-4.6zm0 5h4.6v4.6h-4.6zm0 2h4.6v4.6h-4.6zm0 1h4.6v4.6h-4.6zm0 0.5h4.6v4.6h-4.6zm0.5 -39.5h4.6v4.6h-4.6zm0 4.5h4.6v4.6h-4.6zm0 17h4.6v4.6h-4.6zm0 2h4.6v4.6h-4.6zm0.5 -14.5h4.6v4.6h-4.6zm0 6h4.6v4.6h-4.6zm0 16.5h4.6v4.6h-4.6zm0 1h4.6v4.6h-4.6zm0 5.5h4.6v4.6h-4.6zm0.5 -13h4.6v4.6h-4.6zm0 5h4.6v4.6h-4.6zm0 1h4.6v4.6h-4.6zm0 4h4.6v4.6h-4.6zm0.5 -21.5h4.6v4.6h-4.6zm0 14h4.6v4.6h-4.6zm0 16h4.6v4.6h-4.6zm0.5 -39.5h4.6v4.6h-4.6zm0 7.5h4.6v4.6h-4.6zm0.5 3h4.6v4.6h-4.6zm0 1h4.6v4.6h-4.6zm0 7h4.6v4.6h-4.6zm0 0.5h4.6v4.6h-4.6zm0 2h4.6v4.6h-4.6zm0.5 -11h4.6v4.6h-4.6zm0 2h4.6v4.6h-4.6zm0 3.5h4.6v4.6h-4.6zm0 0.5h4.6v4.6h-4.6zm0.5 -3h4.6v4.6h-4.6zm0 6.5h4.6v4.6h-4.6zm0 3.5h4.6v4.6h-4.6zm0 4.5h4.6v4.6h-4.6zm0 0.5h4.6v4.6h-4.6zm0 2h4.6v4.6h-4.6zm0.5 -40.5h4.6v4.6h-4.6zm0 18.5h4.6v4.6h-4.6zm0 14.5h4.6v4.6h-4.6zm0 9h4.6v4.6h-4.6zm0 1.5h4.6v4.6h-4.6zm0 1.5h4.6v4.6h-4.6zm0 9.5h4.6v4.6h-4.6zm0.5 -45.5h4.6v4.6h-4.6zm0 19h4.6v4.6h-4.6zm0 1.5h4.6v4.6h-4.6zm0 4h4.6v4.6h-4.6zm0 1h4.6v4.6h-4.6zm0 2.5h4.6v4.6h-4.6zm0 15.5h4.6v4.6h-4.6zm0.5 -45h4.6v4.6h-4.6zm0 6.5h4.6v4.6h-4.6zm0 10h4.6v4.6h-4.6zm0 2.5h4.6v4.6h-4.6zm0 0.5h4.6v4.6h-4.6zm0 12h4.6v4.6h-4.6zm0 7h4.6v4.6h-4.6zm0.5 -50.5h4.6v4.6h-4.6zm0 19.5h4.6v4.6h-4.6zm0 12h4.6v4.6h-4.6zm0 2h4.6v4.6h-4.6zm0 3h4.6v4.6h-4.6zm0 0.5h4.6v4.6h-4.6zm0 17.5h4.6v4.6h-4.6zm0.5 -37.5h4.6v4.6h-4.6zm0 1h4.6v4.6h-4.6zm0 0.5h4.6v4.6h-4.6zm0 10h4.6v4.6h-4.6zm0 4.5h4.6v4.6h-4.6zm0 2h4.6v4.6h-4.6zm0 9h4.6v4.6h-4.6zm0.5 -26h4.6v4.6h-4.6zm0 8.5h4.6v4.6h-4.6zm0 3.5h4.6v4.6h-4.6zm0 4h4.6v4.6h-4.6zm0 1.5h4.6v4.6h-4.6zm0 31h4.6v4.6h-4.6zm0.5 -40h4.6v4.6h-4.6zm0 9.5h4.6v4.6h-4.6zm0 2h4.6v4.6h-4.6zm0 10h4.6v4.6h-4.6zm0.5 -29.5h4.6v4.6h-4.6zm0 11h4.6v4.6h-4.6zm0 1h4.6v4.6h-4.6zm0.5 -11.5h4.6v4.6h-4.6zm0 7.5h4.6v4.6h-4.6zm0 7.5h4.6v4.6h-4.6zm0 0.5h4.6v4.6h-4.6zm0 8h4.6v4.6h-4.6zm0.5 -11.5h4.6v4.6h-4.6zm0 7.5h4.6v4.6h-4.6zm0 3h4.6v4.6h-4.6zm0 2.5h4.6v4.6h-4.6zm0 6h4.6v4.6h-4.6zm0.5 -27h4.6v4.6h-4.6zm0 4h4.6v4.6h-4.6zm0 3h4.6v4.6h-4.6zm0.5 -16h4.6v4.6h-4.6zm0 6h4.6v4.6h-4.6zm0 9h4.6v4.6h-4.6zm0 6.5h4.6v4.6h-4.6zm0 6.5h4.6v4.6h-4.6zm0 1h4.6v4.6h-4.6zm0.5 -24.5h4.6v4.6h-4.6zm0 2.5h4.6v4.6h-4.6zm0 1h4.6v4.6h-4.6zm0 2h4.6v4.6h-4.6zm0 2h4.6v4.6h-4.6zm0 3h4.6v4.6h-4.6zm0 1.5h4.6v4.6h-4.6zm0 2h4.6v4.6h-4.6zm0.5 -4h4.6v4.6h-4.6zm0 10.5h4.6v4.6h-4.6zm0 17.5h4.6v4.6h-4.6zm0.5 -41h4.6v4.6h-4.6zm0 25h4.6v4.6h-4.6zm0 4.5h4.6v4.6h-4.6zm0.5 -23.5h4.6v4.6h-4.6zm0 2h4.6v4.6h-4.6zm0 0.5h4.6v4.6h-4.6zm0 4.5h4.6v4.6h-4.6zm0 5h4.6v4.6h-4.6zm0 5.5h4.6v4.6h-4.6zm0.5 -23h4.6v4.6h-4.6zm0 7.5h4.6v4.6h-4.6zm0 3.5h4.6v4.6h-4.6zm0 2h4.6v4.6h-4.6zm0 7.5h4.6v4.6h-4.6zm0.5 -9.5h4.6v4.6h-4.6zm0 15.5h4.6v4.6h-4.6zm0.5 -26h4.6v4.6h-4.6zm0 5.5h4.6v4.6h-4.6zm0 26h4.6v4.6h-4.6zm0 1h4.6v4.6h-4.6zm0 5h4.6v4.6h-4.6zm0.5 -34h4.6v4.6h-4.6zm0 2h4.6v4.6h-4.6zm0 9h4.6v4.6h-4.6zm0.5 4.5h4.6v4.6h-4.6zm0.5 -35h4.6v4.6h-4.6zm0 9.5h4.6v4.6h-4.6zm0 15h4.6v4.6h-4.6zm0 3h4.6v4.6h-4.6zm0 19h4.6v4.6h-4.6zm0 5.5h4.6v4.6h-4.6zm0.5 -22.5h4.6v4.6h-4.6zm0 8.5h4.6v4.6h-4.6zm0.5 -20h4.6v4.6h-4.6zm0 0.5h4.6v4.6h-4.6zm0 31h4.6v4.6h-4.6zm0.5 -33.5h4.6v4.6h-4.6zm0 6h4.6v4.6h-4.6zm0 1h4.6v4.6h-4.6zm0 7h4.6v4.6h-4.6zm0 4.5h4.6v4.6h-4.6zm0 14.5h4.6v4.6h-4.6zm0.5 -30h4.6v4.6h-4.6zm0 10h4.6v4.6h-4.6zm0 6.5h4.6v4.6h-4.6zm0.5 -14h4.6v4.6h-4.6zm0.5 3h4.6v4.6h-4.6zm0 1h4.6v4.6h-4.6zm0 7h4.6v4.6h-4.6zm0 8.5h4.6v4.6h-4.6zm1 -18h4.6v4.6h-4.6zm0 1.5h4.6v4.6h-4.6zm0 8.5h4.6v4.6h-4.6zm0 4.5h4.6v4.6h-4.6zm0 3h4.6v4.6h-4.6zm0 14.5h4.6v4.6h-4.6zm0.5 -45h4.6v4.6h-4.6zm0 14.5h4.6v4.6h-4.6zm0.5 -6.5h4.6v4.6h-4.6zm0.5 -0.5h4.6v4.6h-4.6zm0 20h4.6v4.6h-4.6zm0.5 -16.5h4.6v4.6h-4.6zm0 10.5h4.6v4.6h-4.6zm0 1.5h4.6v4.6h-4.6zm0 0.5h4.6v4.6h-4.6zm0.5 -22h4.6v4.6h-4.6zm0 12.5h4.6v4.6h-4.6zm0 25.5h4.6v4.6h-4.6zm0.5 -30.5h4.6v4.6h-4.6zm0 1h4.6v4.6h-4.6zm0 8.5h4.6v4.6h-4.6zm0.5 -8.5h4.6v4.6h-4.6zm0.5 -2h4.6v4.6h-4.6zm0 3.5h4.6v4.6h-4.6zm0 2h4.6v4.6h-4.6zm0.5 3h4.6v4.6h-4.6zm0.5 0h4.6v4.6h-4.6zm0 0.5h4.6v4.6h-4.6zm0 6.5h4.6v4.6h-4.6zm0.5 -13.5h4.6v4.6h-4.6zm0.5 -2.5h4.6v4.6h-4.6zm0.5 12h4.6v4.6h-4.6zm0 2.5h4.6v4.6h-4.6zm0 2.5h4.6v4.6h-4.6zm1 -11.5h4.6v4.6h-4.6zm0 2h4.6v4.6h-4.6zm0.5 9h4.6v4.6h-4.6zm0 7.5h4.6v4.6h-4.6zm0.5 -27.5h4.6v4.6h-4.6zm0 7h4.6v4.6h-4.6zm0 26h4.6v4.6h-4.6zm0.5 -42.5h4.6v4.6h-4.6zm0 9h4.6v4.6h-4.6zm0 29.5h4.6v4.6h-4.6zm1 -24h4.6v4.6h-4.6zm0 31h4.6v4.6h-4.6zm0.5 -36.5h4.6v4.6h-4.6zm0.5 0.5h4.6v4.6h-4.6zm0.5 3h4.6v4.6h-4.6zm0.5 7h4.6v4.6h-4.6zm0.5 5h4.6v4.6h-4.6zm0.5 -13h4.6v4.6h-4.6zm1 -1h4.6v4.6h-4.6zm0.5 14h4.6v4.6h-4.6zm0.5 -4h4.6v4.6h-4.6zm0.5 17.5h4.6v4.6h-4.6zm1 -16.5h4.6v4.6h-4.6zm0.5 -3.5h4.6v4.6h-4.6zm0.5 18.5h4.6v4.6h-4.6zm2.5 -25h4.6v4.6h-4.6zm1 24h4.6v4.6h-4.6zm0.5 -22.5h4.6v4.6h-4.6zm0.5 27h4.6v4.6h-4.6zm2.5 -25.5h4.6v4.6h-4.6zm0 10.5h4.6v4.6h-4.6zm1 12h4.6v4.6h-4.6zm0.5 6.5h4.6v4.6h-4.6zm5.5 -30h4.6v4.6h-4.6z"/></g>
<g clip-path="url(#cD)"><path fill="#ff00ff" filter="url(#bl)" shape-rendering="auto" d="m140 675.5h4.6v4.6h-4.6zm0.5 5h4.6v4.6h-4.6zm1.5 5.5h4.6v4.6h-4.6zm1.5 -26h4.6v4.6h-4.6zm8 -15.5h4.6v4.6h-4.6zm1 45.5h4.6v4.6h-4.6zm0.5 -0.5h4.6v4.6h-4.6zm0.5 14.5h4.6v4.6h-4.6zm1 -4.5h4.6v4.6h-4.6zm0.5 29h4.6v4.6h-4.6zm1.5 -46h4.6v4.6h-4.6zm0.5 10h4.6v4.6h-4.6zm0.5 -37.5h4.6v4.6h-4.6zm0.5 54.5h4.6v4.6h-4.6zm1 -42h4.6v4.6h-4.6zm0 0.5h4.6v4.6h-4.6zm0 4h4.6v4.6h-4.6zm0 5h4.6v4.6h-4.6zm0 13h4.6v4.6h-4.6zm0 13.5h4.6v4.6h-4.6zm0.5 -23h4.6v4.6h-4.6zm1 25h4.6v4.6h-4.6zm0.5 -16h4.6v4.6h-4.6zm0 8h4.6v4.6h-4.6zm0.5 -4.5h4.6v4.6h-4.6zm0.5 -7.5h4.6v4.6h-4.6zm0 4h4.6v4.6h-4.6zm0.5 -15.5h4.6v4.6h-4.6zm0 10.5h4.6v4.6h-4.6zm1 -16.5h4.6v4.6h-4.6zm0 18h4.6v4.6h-4.6zm0.5 -6.5h4.6v4.6h-4.6zm0.5 2h4.6v4.6h-4.6zm0.5 -17.5h4.6v4.6h-4.6zm0 7.5h4.6v4.6h-4.6zm0.5 -6.5h4.6v4.6h-4.6zm0 11h4.6v4.6h-4.6zm0 6h4.6v4.6h-4.6zm0.5 -11.5h4.6v4.6h-4.6zm0 3h4.6v4.6h-4.6zm0 1.5h4.6v4.6h-4.6zm0 23.5h4.6v4.6h-4.6zm0 9.5h4.6v4.6h-4.6zm0.5 -54.5h4.6v4.6h-4.6zm0 8.5h4.6v4.6h-4.6zm0 6h4.6v4.6h-4.6zm0.5 39h4.6v4.6h-4.6zm0.5 157.5h4.6v4.6h-4.6zm0.5 -185.5h4.6v4.6h-4.6zm0.5 -11h4.6v4.6h-4.6zm0 33h4.6v4.6h-4.6zm0.5 -49.5h4.6v4.6h-4.6zm0 33h4.6v4.6h-4.6zm0 4h4.6v4.6h-4.6zm0 19h4.6v4.6h-4.6zm0.5 -23h4.6v4.6h-4.6zm0.5 -36h4.6v4.6h-4.6zm0 37h4.6v4.6h-4.6zm0 21h4.6v4.6h-4.6zm0.5 -39.5h4.6v4.6h-4.6zm0 0.5h4.6v4.6h-4.6zm0 10h4.6v4.6h-4.6zm0 23.5h4.6v4.6h-4.6zm0.5 -38.5h4.6v4.6h-4.6zm0 10h4.6v4.6h-4.6zm0 20.5h4.6v4.6h-4.6zm0 15h4.6v4.6h-4.6zm0 1.5h4.6v4.6h-4.6zm0 4h4.6v4.6h-4.6zm0.5 -24.5h4.6v4.6h-4.6zm0 10.5h4.6v4.6h-4.6zm0 6h4.6v4.6h-4.6zm0.5 -20h4.6v4.6h-4.6zm0 10h4.6v4.6h-4.6zm0.5 -28h4.6v4.6h-4.6zm0 13.5h4.6v4.6h-4.6zm0 11.5h4.6v4.6h-4.6zm0.5 -41h4.6v4.6h-4.6zm0 11h4.6v4.6h-4.6zm0 7h4.6v4.6h-4.6zm0 5h4.6v4.6h-4.6zm0 6.5h4.6v4.6h-4.6zm0 7.5h4.6v4.6h-4.6zm0 11.5h4.6v4.6h-4.6zm0 80h4.6v4.6h-4.6zm0.5 -119h4.6v4.6h-4.6zm0 0.5h4.6v4.6h-4.6zm0 12.5h4.6v4.6h-4.6zm0 0.5h4.6v4.6h-4.6zm0 12h4.6v4.6h-4.6zm0 4.5h4.6v4.6h-4.6zm0.5 -17h4.6v4.6h-4.6zm0 23h4.6v4.6h-4.6zm0.5 -50h4.6v4.6h-4.6zm0 2.5h4.6v4.6h-4.6zm0 21.5h4.6v4.6h-4.6zm0 2h4.6v4.6h-4.6zm0 1.5h4.6v4.6h-4.6zm0 0.5h4.6v4.6h-4.6zm0 23.5h4.6v4.6h-4.6zm0.5 -36h4.6v4.6h-4.6zm0 23.5h4.6v4.6h-4.6zm0 20.5h4.6v4.6h-4.6zm0 15.5h4.6v4.6h-4.6zm0 151h4.6v4.6h-4.6zm0.5 -211.5h4.6v4.6h-4.6zm0 15h4.6v4.6h-4.6zm0 10h4.6v4.6h-4.6zm0 2h4.6v4.6h-4.6zm0 8.5h4.6v4.6h-4.6zm0.5 -31h4.6v4.6h-4.6zm0 11h4.6v4.6h-4.6zm0 2h4.6v4.6h-4.6zm0 0.5h4.6v4.6h-4.6zm0 2h4.6v4.6h-4.6zm0 11.5h4.6v4.6h-4.6zm0 160h4.6v4.6h-4.6zm0.5 -186h4.6v4.6h-4.6zm0 2h4.6v4.6h-4.6zm0 20h4.6v4.6h-4.6zm0 4.5h4.6v4.6h-4.6zm0.5 -17.5h4.6v4.6h-4.6zm0 7.5h4.6v4.6h-4.6zm0 1.5h4.6v4.6h-4.6zm0 15.5h4.6v4.6h-4.6zm0.5 -30h4.6v4.6h-4.6zm0 2h4.6v4.6h-4.6zm0 7.5h4.6v4.6h-4.6zm0 1.5h4.6v4.6h-4.6zm0 1.5h4.6v4.6h-4.6zm0 4h4.6v4.6h-4.6zm0 1.5h4.6v4.6h-4.6zm0 0.5h4.6v4.6h-4.6zm0.5 -33h4.6v4.6h-4.6zm0 3.5h4.6v4.6h-4.6zm0 2h4.6v4.6h-4.6zm0 6h4.6v4.6h-4.6zm0 1h4.6v4.6h-4.6zm0 14h4.6v4.6h-4.6zm0 15h4.6v4.6h-4.6zm0 1h4.6v4.6h-4.6zm0 1h4.6v4.6h-4.6zm0 4.5h4.6v4.6h-4.6zm0.5 -47h4.6v4.6h-4.6zm0 24.5h4.6v4.6h-4.6zm0 3h4.6v4.6h-4.6zm0 0.5h4.6v4.6h-4.6zm0 2h4.6v4.6h-4.6zm0 1h4.6v4.6h-4.6zm0 12.5h4.6v4.6h-4.6zm0 175h4.6v4.6h-4.6zm0.5 -220h4.6v4.6h-4.6zm0 15.5h4.6v4.6h-4.6zm0 2h4.6v4.6h-4.6zm0 11.5h4.6v4.6h-4.6zm0 36.5h4.6v4.6h-4.6zm0 2.5h4.6v4.6h-4.6zm0.5 -62.5h4.6v4.6h-4.6zm0 3.5h4.6v4.6h-4.6zm0 2h4.6v4.6h-4.6zm0 1.5h4.6v4.6h-4.6zm0 7.5h4.6v4.6h-4.6zm0 1.5h4.6v4.6h-4.6zm0 11h4.6v4.6h-4.6zm0 16.5h4.6v4.6h-4.6zm0 1.5h4.6v4.6h-4.6zm0.5 -41h4.6v4.6h-4.6zm0 2h4.6v4.6h-4.6zm0 1.5h4.6v4.6h-4.6zm0 3h4.6v4.6h-4.6zm0 6.5h4.6v4.6h-4.6zm0 7.5h4.6v4.6h-4.6zm0 2.5h4.6v4.6h-4.6zm0 0.5h4.6v4.6h-4.6zm0 20.5h4.6v4.6h-4.6zm0 17.5h4.6v4.6h-4.6zm0.5 -68h4.6v4.6h-4.6zm0 6.5h4.6v4.6h-4.6zm0 13.5h4.6v4.6h-4.6zm0 10.5h4.6v4.6h-4.6zm0 2.5h4.6v4.6h-4.6zm0 0.5h4.6v4.6h-4.6zm0 9h4.6v4.6h-4.6zm0 7.5h4.6v4.6h-4.6zm0.5 -60.5h4.6v4.6h-4.6zm0 7h4.6v4.6h-4.6zm0 5h4.6v4.6h-4.6zm0 13h4.6v4.6h-4.6zm0 5h4.6v4.6h-4.6zm0 1h4.6v4.6h-4.6zm0 18.5h4.6v4.6h-4.6zm0 3h4.6v4.6h-4.6zm0 0.5h4.6v4.6h-4.6zm0 3h4.6v4.6h-4.6zm0.5 -55.5h4.6v4.6h-4.6zm0 21h4.6v4.6h-4.6zm0 1.5h4.6v4.6h-4.6zm0 5h4.6v4.6h-4.6zm0 2h4.6v4.6h-4.6zm0 6h4.6v4.6h-4.6zm0 4.5h4.6v4.6h-4.6zm0 10.5h4.6v4.6h-4.6zm0 14.5h4.6v4.6h-4.6zm0 49h4.6v4.6h-4.6zm0.5 -106h4.6v4.6h-4.6zm0 8.5h4.6v4.6h-4.6zm0 6h4.6v4.6h-4.6zm0 5.5h4.6v4.6h-4.6zm0 2h4.6v4.6h-4.6zm0 1.5h4.6v4.6h-4.6zm0 2.5h4.6v4.6h-4.6zm0 4h4.6v4.6h-4.6zm0 4h4.6v4.6h-4.6zm0 33h4.6v4.6h-4.6zm0.5 -84h4.6v4.6h-4.6zm0 24.5h4.6v4.6h-4.6zm0 1h4.6v4.6h-4.6zm0 3h4.6v4.6h-4.6zm0 9h4.6v4.6h-4.6zm0 2.5h4.6v4.6h-4.6zm0 7.5h4.6v4.6h-4.6zm0 1h4.6v4.6h-4.6zm0 3.5h4.6v4.6h-4.6zm0 2.5h4.6v4.6h-4.6zm0 0.5h4.6v4.6h-4.6zm0 9h4.6v4.6h-4.6zm0.5 -50.5h4.6v4.6h-4.6zm0 5h4.6v4.6h-4.6zm0 12h4.6v4.6h-4.6zm0 6.5h4.6v4.6h-4.6zm0 0.5h4.6v4.6h-4.6zm0 0.5h4.6v4.6h-4.6zm0 1h4.6v4.6h-4.6zm0 7h4.6v4.6h-4.6zm0 4.5h4.6v4.6h-4.6zm0 3h4.6v4.6h-4.6zm0 1h4.6v4.6h-4.6zm0 8h4.6v4.6h-4.6zm0 9.5h4.6v4.6h-4.6zm0 7.5h4.6v4.6h-4.6zm0.5 -61h4.6v4.6h-4.6zm0 7h4.6v4.6h-4.6zm0 6.5h4.6v4.6h-4.6zm0 0.5h4.6v4.6h-4.6zm0 2.5h4.6v4.6h-4.6zm0 5h4.6v4.6h-4.6zm0 4.5h4.6v4.6h-4.6zm0 13.5h4.6v4.6h-4.6zm0 5h4.6v4.6h-4.6zm0 16h4.6v4.6h-4.6zm0.5 -59h4.6v4.6h-4.6zm0 2h4.6v4.6h-4.6zm0 7h4.6v4.6h-4.6zm0 2h4.6v4.6h-4.6zm0 14.5h4.6v4.6h-4.6zm0 1h4.6v4.6h-4.6zm0 0.5h4.6v4.6h-4.6zm0 9h4.6v4.6h-4.6zm0 3.5h4.6v4.6h-4.6zm0 4.5h4.6v4.6h-4.6zm0 6.5h4.6v4.6h-4.6zm0.5 -41h4.6v4.6h-4.6zm0 1h4.6v4.6h-4.6zm0 23.5h4.6v4.6h-4.6zm0 21.5h4.6v4.6h-4.6zm0 53.5h4.6v4.6h-4.6zm0.5 -121h4.6v4.6h-4.6zm0 9.5h4.6v4.6h-4.6zm0 7.5h4.6v4.6h-4.6zm0 7.5h4.6v4.6h-4.6zm0 2.5h4.6v4.6h-4.6zm0 0.5h4.6v4.6h-4.6zm0 1.5h4.6v4.6h-4.6zm0 4.5h4.6v4.6h-4.6zm0 1.5h4.6v4.6h-4.6zm0 10h4.6v4.6h-4.6zm0 134.5h4.6v4.6h-4.6zm0.5 -170h4.6v4.6h-4.6zm0 2.5h4.6v4.6h-4.6zm0 2.5h4.6v4.6h-4.6zm0 5h4.6v4.6h-4.6zm0 6.5h4.6v4.6h-4.6zm0 1.5h4.6v4.6h-4.6zm0 1h4.6v4.6h-4.6zm0 1h4.6v4.6h-4.6zm0 1h4.6v4.6h-4.6zm0 3h4.6v4.6h-4.6zm0 6h4.6v4.6h-4.6zm0 3h4.6v4.6h-4.6zm0 4h4.6v4.6h-4.6zm0 1h4.6v4.6h-4.6zm0 1h4.6v4.6h-4.6zm0.5 -46.5h4.6v4.6h-4.6zm0 15h4.6v4.6h-4.6zm0 3.5h4.6v4.6h-4.6zm0 5h4.6v4.6h-4.6zm0 7h4.6v4.6h-4.6zm0 1h4.6v4.6h-4.6zm0 1.5h4.6v4.6h-4.6zm0 5h4.6v4.6h-4.6zm0 1h4.6v4.6h-4.6zm0 0.5h4.6v4.6h-4.6zm0 5.5h4.6v4.6h-4.6zm0 6h4.6v4.6h-4.6zm0 6h4.6v4.6h-4.6zm0 4h4.6v4.6h-4.6zm0 13h4.6v4.6h-4.6zm0.5 -78h4.6v4.6h-4.6zm0 20h4.6v4.6h-4.6zm0 3h4.6v4.6h-4.6zm0 5.5h4.6v4.6h-4.6zm0 1.5h4.6v4.6h-4.6zm0 3h4.6v4.6h-4.6zm0 1h4.6v4.6h-4.6zm0 1.5h4.6v4.6h-4.6zm0 6.5h4.6v4.6h-4.6zm0 2h4.6v4.6h-4.6zm0 8h4.6v4.6h-4.6zm0 10.5h4.6v4.6h-4.6zm0 6.5h4.6v4.6h-4.6zm0 11h4.6v4.6h-4.6zm0.5 -74h4.6v4.6h-4.6zm0 3h4.6v4.6h-4.6zm0 13h4.6v4.6h-4.6zm0 4h4.6v4.6h-4.6zm0 2h4.6v4.6h-4.6zm0 8h4.6v4.6h-4.6zm0 0.5h4.6v4.6h-4.6zm0 2.5h4.6v4.6h-4.6zm0 2.5h4.6v4.6h-4.6zm0 18h4.6v4.6h-4.6zm0.5 -62.5h4.6v4.6h-4.6zm0 5h4.6v4.6h-4.6zm0 3.5h4.6v4.6h-4.6zm0 6.5h4.6v4.6h-4.6zm0 0.5h4.6v4.6h-4.6zm0 7h4.6v4.6h-4.6zm0 7.5h4.6v4.6h-4.6zm0 4.5h4.6v4.6h-4.6zm0 1h4.6v4.6h-4.6zm0 1.5h4.6v4.6h-4.6zm0 2h4.6v4.6h-4.6zm0 2.5h4.6v4.6h-4.6zm0 17h4.6v4.6h-4.6zm0 17h4.6v4.6h-4.6zm0 60.5h4.6v4.6h-4.6zm0.5 -125.5h4.6v4.6h-4.6zm0 18h4.6v4.6h-4.6zm0 3.5h4.6v4.6h-4.6zm0 9h4.6v4.6h-4.6zm0 7.5h4.6v4.6h-4.6zm0 3.5h4.6v4.6h-4.6zm0 5.5h4.6v4.6h-4.6zm0 1h4.6v4.6h-4.6zm0 9h4.6v4.6h-4.6zm0 3.5h4.6v4.6h-4.6zm0.5 -73.5h4.6v4.6h-4.6zm0 19.5h4.6v4.6h-4.6zm0 2.5h4.6v4.6h-4.6zm0 3h4.6v4.6h-4.6zm0 4.5h4.6v4.6h-4.6zm0 5h4.6v4.6h-4.6zm0 2.5h4.6v4.6h-4.6zm0 3h4.6v4.6h-4.6zm0 7h4.6v4.6h-4.6zm0 0.5h4.6v4.6h-4.6zm0 10h4.6v4.6h-4.6zm0 5h4.6v4.6h-4.6zm0 7h4.6v4.6h-4.6zm0.5 -57.5h4.6v4.6h-4.6zm0 1h4.6v4.6h-4.6zm0 1h4.6v4.6h-4.6zm0 4.5h4.6v4.6h-4.6zm0 6.5h4.6v4.6h-4.6zm0 15h4.6v4.6h-4.6zm0 4h4.6v4.6h-4.6zm0 5.5h4.6v4.6h-4.6zm0 0.5h4.6v4.6h-4.6zm0 3.5h4.6v4.6h-4.6zm0 0.5h4.6v4.6h-4.6zm0 3h4.6v4.6h-4.6zm0.5 -32h4.6v4.6h-4.6zm0 10.5h4.6v4.6h-4.6zm0 1h4.6v4.6h-4.6zm0 2.5h4.6v4.6h-4.6zm0 7h4.6v4.6h-4.6zm0 4.5h4.6v4.6h-4.6zm0 2.5h4.6v4.6h-4.6zm0 4.5h4.6v4.6h-4.6zm0 0.5h4.6v4.6h-4.6zm0 1h4.6v4.6h-4.6zm0 0.5h4.6v4.6h-4.6zm0 3.5h4.6v4.6h-4.6zm0 1.5h4.6v4.6h-4.6zm0 6h4.6v4.6h-4.6zm0.5 -53.5h4.6v4.6h-4.6zm0 4.5h4.6v4.6h-4.6zm0 2h4.6v4.6h-4.6zm0 5.5h4.6v4.6h-4.6zm0 3h4.6v4.6h-4.6zm0 10.5h4.6v4.6h-4.6zm0 7h4.6v4.6h-4.6zm0 3h4.6v4.6h-4.6zm0 2h4.6v4.6h-4.6zm0 47.5h4.6v4.6h-4.6zm0 112.5h4.6v4.6h-4.6zm0.5 -207h4.6v4.6h-4.6zm0 10.5h4.6v4.6h-4.6zm0 2h4.6v4.6h-4.6zm0 8h4.6v4.6h-4.6zm0 2.5h4.6v4.6h-4.6zm0 10.5h4.6v4.6h-4.6zm0 0.5h4.6v4.6h-4.6zm0 1.5h4.6v4.6h-4.6zm0 7h4.6v4.6h-4.6zm0 11h4.6v4.6h-4.6zm0 27h4.6v4.6h-4.6zm0.5 -69.5h4.6v4.6h-4.6zm0 5h4.6v4.6h-4.6zm0 12h4.6v4.6h-4.6zm0 2h4.6v4.6h-4.6zm0 3.5h4.6v4.6h-4.6zm0 1.5h4.6v4.6h-4.6zm0 2.5h4.6v4.6h-4.6zm0 7h4.6v4.6h-4.6zm0 6.5h4.6v4.6h-4.6zm0.5 -55h4.6v4.6h-4.6zm0 5.5h4.6v4.6h-4.6zm0 19h4.6v4.6h-4.6zm0 2.5h4.6v4.6h-4.6zm0 2.5h4.6v4.6h-4.6zm0 10h4.6v4.6h-4.6zm0 1h4.6v4.6h-4.6zm0 0.5h4.6v4.6h-4.6zm0 2h4.6v4.6h-4.6zm0 3.5h4.6v4.6h-4.6zm0 5h4.6v4.6h-4.6zm0 8h4.6v4.6h-4.6zm0 19h4.6v4.6h-4.6zm0.5 -71.5h4.6v4.6h-4.6zm0 10h4.6v4.6h-4.6zm0 4.5h4.6v4.6h-4.6zm0 4h4.6v4.6h-4.6zm0 0.5h4.6v4.6h-4.6zm0 10.5h4.6v4.6h-4.6zm0 1.5h4.6v4.6h-4.6zm0 3.5h4.6v4.6h-4.6zm0 0.5h4.6v4.6h-4.6zm0 14.5h4.6v4.6h-4.6zm0 5.5h4.6v4.6h-4.6zm0.5 -51h4.6v4.6h-4.6zm0 21.5h4.6v4.6h-4.6zm0 5.5h4.6v4.6h-4.6zm0 3h4.6v4.6h-4.6zm0 2h4.6v4.6h-4.6zm0 4.5h4.6v4.6h-4.6zm0 4h4.6v4.6h-4.6zm0 13h4.6v4.6h-4.6zm0 16.5h4.6v4.6h-4.6zm0 2h4.6v4.6h-4.6zm0.5 -76h4.6v4.6h-4.6zm0 2h4.6v4.6h-4.6zm0 0.5h4.6v4.6h-4.6zm0 9h4.6v4.6h-4.6zm0 1.5h4.6v4.6h-4.6zm0 14.5h4.6v4.6h-4.6zm0 6h4.6v4.6h-4.6zm0 1h4.6v4.6h-4.6zm0 1.5h4.6v4.6h-4.6zm0 3h4.6v4.6h-4.6zm0 13h4.6v4.6h-4.6zm0 1h4.6v4.6h-4.6zm0 14h4.6v4.6h-4.6zm0.5 -61h4.6v4.6h-4.6zm0 1h4.6v4.6h-4.6zm0 2.5h4.6v4.6h-4.6zm0 2.5h4.6v4.6h-4.6zm0 4h4.6v4.6h-4.6zm0 14h4.6v4.6h-4.6zm0 2h4.6v4.6h-4.6zm0 6.5h4.6v4.6h-4.6zm0 0.5h4.6v4.6h-4.6zm0 6.5h4.6v4.6h-4.6zm0 3.5h4.6v4.6h-4.6zm0.5 -45h4.6v4.6h-4.6zm0 1.5h4.6v4.6h-4.6zm0 10.5h4.6v4.6h-4.6zm0 2h4.6v4.6h-4.6zm0 2h4.6v4.6h-4.6zm0 0.5h4.6v4.6h-4.6zm0 7.5h4.6v4.6h-4.6zm0 1h4.6v4.6h-4.6zm0 7.5h4.6v4.6h-4.6zm0 0.5h4.6v4.6h-4.6zm0 3h4.6v4.6h-4.6zm0 3h4.6v4.6h-4.6zm0 6h4.6v4.6h-4.6zm0 7h4.6v4.6h-4.6zm0 3.5h4.6v4.6h-4.6zm0 3.5h4.6v4.6h-4.6zm0.5 -46h4.6v4.6h-4.6zm0 0.5h4.6v4.6h-4.6zm0 6h4.6v4.6h-4.6zm0 2h4.6v4.6h-4.6zm0 0.5h4.6v4.6h-4.6zm0 5h4.6v4.6h-4.6zm0 3h4.6v4.6h-4.6zm0 3h4.6v4.6h-4.6zm0 5h4.6v4.6h-4.6zm0 8.5h4.6v4.6h-4.6zm0 2h4.6v4.6h-4.6zm0 7h4.6v4.6h-4.6zm0 3h4.6v4.6h-4.6zm0.5 -65h4.6v4.6h-4.6zm0 12.5h4.6v4.6h-4.6zm0 0.5h4.6v4.6h-4.6zm0 1h4.6v4.6h-4.6zm0 5h4.6v4.6h-4.6zm0 3.5h4.6v4.6h-4.6zm0 3.5h4.6v4.6h-4.6zm0 5.5h4.6v4.6h-4.6zm0 1.5h4.6v4.6h-4.6zm0 1.5h4.6v4.6h-4.6zm0 4.5h4.6v4.6h-4.6zm0 3.5h4.6v4.6h-4.6zm0 0.5h4.6v4.6h-4.6zm0 1.5h4.6v4.6h-4.6zm0 2h4.6v4.6h-4.6zm0 7.5h4.6v4.6h-4.6zm0 0.5h4.6v4.6h-4.6zm0.5 -55h4.6v4.6h-4.6zm0 16h4.6v4.6h-4.6zm0 1.5h4.6v4.6h-4.6zm0 0.5h4.6v4.6h-4.6zm0 1.5h4.6v4.6h-4.6zm0 3.5h4.6v4.6h-4.6zm0 2h4.6v4.6h-4.6zm0 6h4.6v4.6h-4.6zm0 3h4.6v4.6h-4.6zm0 5.5h4.6v4.6h-4.6zm0 2h4.6v4.6h-4.6zm0 2.5h4.6v4.6h-4.6zm0 0.5h4.6v4.6h-4.6zm0 1.5h4.6v4.6h-4.6zm0 2h4.6v4.6h-4.6zm0 3h4.6v4.6h-4.6zm0 21h4.6v4.6h-4.6zm0.5 -75h4.6v4.6h-4.6zm0 9.5h4.6v4.6h-4.6zm0 1h4.6v4.6h-4.6zm0 5h4.6v4.6h-4.6zm0 2.5h4.6v4.6h-4.6zm0 3h4.6v4.6h-4.6zm0 2.5h4.6v4.6h-4.6zm0 5h4.6v4.6h-4.6zm0 2h4.6v4.6h-4.6zm0 0.5h4.6v4.6h-4.6zm0 0.5h4.6v4.6h-4.6zm0 1h4.6v4.6h-4.6zm0 6h4.6v4.6h-4.6zm0 2h4.6v4.6h-4.6zm0 0.5h4.6v4.6h-4.6zm0 18.5h4.6v4.6h-4.6zm0 20h4.6v4.6h-4.6zm0 8.5h4.6v4.6h-4.6zm0.5 -81h4.6v4.6h-4.6zm0 2.5h4.6v4.6h-4.6zm0 10h4.6v4.6h-4.6zm0 12.5h4.6v4.6h-4.6zm0 3.5h4.6v4.6h-4.6zm0 2h4.6v4.6h-4.6zm0 0.5h4.6v4.6h-4.6zm0 1.5h4.6v4.6h-4.6zm0 3h4.6v4.6h-4.6zm0 4h4.6v4.6h-4.6zm0 5.5h4.6v4.6h-4.6zm0 2.5h4.6v4.6h-4.6zm0 1.5h4.6v4.6h-4.6zm0 1.5h4.6v4.6h-4.6zm0 1.5h4.6v4.6h-4.6zm0 7.5h4.6v4.6h-4.6zm0.5 -55.5h4.6v4.6h-4.6zm0 4.5h4.6v4.6h-4.6zm0 7h4.6v4.6h-4.6zm0 1.5h4.6v4.6h-4.6zm0 4h4.6v4.6h-4.6zm0 2.5h4.6v4.6h-4.6zm0 2h4.6v4.6h-4.6zm0 2.5h4.6v4.6h-4.6zm0 2h4.6v4.6h-4.6zm0 3h4.6v4.6h-4.6zm0 2h4.6v4.6h-4.6zm0 4.5h4.6v4.6h-4.6zm0 4.5h4.6v4.6h-4.6zm0 1h4.6v4.6h-4.6zm0 3.5h4.6v4.6h-4.6zm0.5 -54.5h4.6v4.6h-4.6zm0 15h4.6v4.6h-4.6zm0 2.5h4.6v4.6h-4.6zm0 9h4.6v4.6h-4.6zm0 2h4.6v4.6h-4.6zm0 2h4.6v4.6h-4.6zm0 15.5h4.6v4.6h-4.6zm0 2.5h4.6v4.6h-4.6zm0 2.5h4.6v4.6h-4.6zm0 178h4.6v4.6h-4.6zm0.5 -215h4.6v4.6h-4.6zm0 1h4.6v4.6h-4.6zm0 4.5h4.6v4.6h-4.6zm0 1.5h4.6v4.6h-4.6zm0 5.5h4.6v4.6h-4.6zm0 5.5h4.6v4.6h-4.6zm0 0.5h4.6v4.6h-4.6zm0 6.5h4.6v4.6h-4.6zm0 12.5h4.6v4.6h-4.6zm0.5 -42.5h4.6v4.6h-4.6zm0 5h4.6v4.6h-4.6zm0 0.5h4.6v4.6h-4.6zm0 0.5h4.6v4.6h-4.6zm0 1.5h4.6v4.6h-4.6zm0 1.5h4.6v4.6h-4.6zm0 0.5h4.6v4.6h-4.6zm0 17.5h4.6v4.6h-4.6zm0 1h4.6v4.6h-4.6zm0 0.5h4.6v4.6h-4.6zm0 3.5h4.6v4.6h-4.6zm0 3.5h4.6v4.6h-4.6zm0 0.5h4.6v4.6h-4.6zm0 3h4.6v4.6h-4.6zm0 1.5h4.6v4.6h-4.6zm0 1.5h4.6v4.6h-4.6zm0 3.5h4.6v4.6h-4.6zm0 7.5h4.6v4.6h-4.6zm0 15h4.6v4.6h-4.6zm0.5 -67h4.6v4.6h-4.6zm0 1h4.6v4.6h-4.6zm0 1h4.6v4.6h-4.6zm0 0.5h4.6v4.6h-4.6zm0 1.5h4.6v4.6h-4.6zm0 3.5h4.6v4.6h-4.6zm0 3.5h4.6v4.6h-4.6zm0 4h4.6v4.6h-4.6zm0 4h4.6v4.6h-4.6zm0 0.5h4.6v4.6h-4.6zm0 1h4.6v4.6h-4.6zm0 2.5h4.6v4.6h-4.6zm0 4.5h4.6v4.6h-4.6zm0 3.5h4.6v4.6h-4.6zm0 1h4.6v4.6h-4.6zm0 0.5h4.6v4.6h-4.6zm0 0.5h4.6v4.6h-4.6zm0 0.5h4.6v4.6h-4.6zm0 3h4.6v4.6h-4.6zm0 0.5h4.6v4.6h-4.6zm0 0.5h4.6v4.6h-4.6zm0 6.5h4.6v4.6h-4.6zm0 6h4.6v4.6h-4.6zm0 0.5h4.6v4.6h-4.6zm0 2h4.6v4.6h-4.6zm0 5h4.6v4.6h-4.6zm0 3.5h4.6v4.6h-4.6zm0 3.5h4.6v4.6h-4.6zm0.5 -67h4.6v4.6h-4.6zm0 3h4.6v4.6h-4.6zm0 2h4.6v4.6h-4.6zm0 0.5h4.6v4.6h-4.6zm0 0.5h4.6v4.6h-4.6zm0 1h4.6v4.6h-4.6zm0 4.5h4.6v4.6h-4.6zm0 10.5h4.6v4.6h-4.6zm0 2h4.6v4.6h-4.6zm0 1h4.6v4.6h-4.6zm0 1.5h4.6v4.6h-4.6zm0 0.5h4.6v4.6h-4.6zm0 5.5h4.6v4.6h-4.6zm0 2h4.6v4.6h-4.6zm0 2h4.6v4.6h-4.6zm0 0.5h4.6v4.6h-4.6zm0 1.5h4.6v4.6h-4.6zm0 1h4.6v4.6h-4.6zm0 8h4.6v4.6h-4.6zm0.5 -54h4.6v4.6h-4.6zm0 4h4.6v4.6h-4.6zm0 4h4.6v4.6h-4.6zm0 6h4.6v4.6h-4.6zm0 11.5h4.6v4.6h-4.6zm0 1.5h4.6v4.6h-4.6zm0 3.5h4.6v4.6h-4.6zm0 1h4.6v4.6h-4.6zm0 0.5h4.6v4.6h-4.6zm0 2.5h4.6v4.6h-4.6zm0 2.5h4.6v4.6h-4.6zm0 3h4.6v4.6h-4.6zm0 10.5h4.6v4.6h-4.6zm0 1.5h4.6v4.6h-4.6zm0 0.5h4.6v4.6h-4.6zm0 7h4.6v4.6h-4.6zm0 3.5h4.6v4.6h-4.6zm0 0.5h4.6v4.6h-4.6zm0 21h4.6v4.6h-4.6zm0 129.5h4.6v4.6h-4.6zm0.5 -214.5h4.6v4.6h-4.6zm0 6h4.6v4.6h-4.6zm0 2.5h4.6v4.6h-4.6zm0 0.5h4.6v4.6h-4.6zm0 3.5h4.6v4.6h-4.6zm0 0.5h4.6v4.6h-4.6zm0 2.5h4.6v4.6h-4.6zm0 2.5h4.6v4.6h-4.6zm0 5h4.6v4.6h-4.6zm0 2h4.6v4.6h-4.6zm0 1.5h4.6v4.6h-4.6zm0 3h4.6v4.6h-4.6zm0 1h4.6v4.6h-4.6zm0 2h4.6v4.6h-4.6zm0 7.5h4.6v4.6h-4.6zm0 8.5h4.6v4.6h-4.6zm0 7.5h4.6v4.6h-4.6zm0 0.5h4.6v4.6h-4.6zm0 2h4.6v4.6h-4.6zm0 4h4.6v4.6h-4.6zm0 7.5h4.6v4.6h-4.6zm0.5 -71.5h4.6v4.6h-4.6zm0 8h4.6v4.6h-4.6zm0 3h4.6v4.6h-4.6zm0 3h4.6v4.6h-4.6zm0 12.5h4.6v4.6h-4.6zm0 1h4.6v4.6h-4.6zm0 2.5h4.6v4.6h-4.6zm0 8h4.6v4.6h-4.6zm0 8h4.6v4.6h-4.6zm0 5h4.6v4.6h-4.6zm0 7h4.6v4.6h-4.6zm0 0.5h4.6v4.6h-4.6zm0 26h4.6v4.6h-4.6zm0.5 -71.5h4.6v4.6h-4.6zm0 1.5h4.6v4.6h-4.6zm0 4.5h4.6v4.6h-4.6zm0 4.5h4.6v4.6h-4.6zm0 3h4.6v4.6h-4.6zm0 2h4.6v4.6h-4.6zm0 1h4.6v4.6h-4.6zm0 5.5h4.6v4.6h-4.6zm0 3.5h4.6v4.6h-4.6zm0 5h4.6v4.6h-4.6zm0 4h4.6v4.6h-4.6zm0 2.5h4.6v4.6h-4.6zm0 2.5h4.6v4.6h-4.6zm0 8h4.6v4.6h-4.6zm0 2h4.6v4.6h-4.6zm0.5 -62h4.6v4.6h-4.6zm0 13.5h4.6v4.6h-4.6zm0 2h4.6v4.6h-4.6zm0 1h4.6v4.6h-4.6zm0 3h4.6v4.6h-4.6zm0 4h4.6v4.6h-4.6zm0 4h4.6v4.6h-4.6zm0 3.5h4.6v4.6h-4.6zm0 4.5h4.6v4.6h-4.6zm0 0.5h4.6v4.6h-4.6zm0 2.5h4.6v4.6h-4.6zm0 1h4.6v4.6h-4.6zm0 7h4.6v4.6h-4.6zm0 0.5h4.6v4.6h-4.6zm0 2.5h4.6v4.6h-4.6zm0 1.5h4.6v4.6h-4.6zm0 3h4.6v4.6h-4.6zm0 9h4.6v4.6h-4.6zm0 6h4.6v4.6h-4.6zm0.5 -60.5h4.6v4.6h-4.6zm0 7.5h4.6v4.6h-4.6zm0 4.5h4.6v4.6h-4.6zm0 9h4.6v4.6h-4.6zm0 1h4.6v4.6h-4.6zm0 0.5h4.6v4.6h-4.6zm0 6h4.6v4.6h-4.6zm0 1h4.6v4.6h-4.6zm0 4h4.6v4.6h-4.6zm0 4h4.6v4.6h-4.6zm0 4h4.6v4.6h-4.6zm0 3.5h4.6v4.6h-4.6zm0 1.5h4.6v4.6h-4.6zm0 6.5h4.6v4.6h-4.6zm0 1h4.6v4.6h-4.6zm0.5 -60h4.6v4.6h-4.6zm0 7.5h4.6v4.6h-4.6zm0 3h4.6v4.6h-4.6zm0 1h4.6v4.6h-4.6zm0 4h4.6v4.6h-4.6zm0 3h4.6v4.6h-4.6zm0 3h4.6v4.6h-4.6zm0 1.5h4.6v4.6h-4.6zm0 5h4.6v4.6h-4.6zm0 3.5h4.6v4.6h-4.6zm0 1h4.6v4.6h-4.6zm0 4h4.6v4.6h-4.6zm0 1.5h4.6v4.6h-4.6zm0 1.5h4.6v4.6h-4.6zm0 5h4.6v4.6h-4.6zm0 0.5h4.6v4.6h-4.6zm0 0.5h4.6v4.6h-4.6zm0 1h4.6v4.6h-4.6zm0 6h4.6v4.6h-4.6zm0 0.5h4.6v4.6h-4.6zm0 0.5h4.6v4.6h-4.6zm0 1h4.6v4.6h-4.6zm0 22.5h4.6v4.6h-4.6zm0.5 -73.5h4.6v4.6h-4.6zm0 6h4.6v4.6h-4.6zm0 14.5h4.6v4.6h-4.6zm0 1h4.6v4.6h-4.6zm0 9h4.6v4.6h-4.6zm0 1.5h4.6v4.6h-4.6zm0 1h4.6v4.6h-4.6zm0 2.5h4.6v4.6h-4.6zm0 9h4.6v4.6h-4.6zm0 3h4.6v4.6h-4.6zm0 1h4.6v4.6h-4.6zm0 2h4.6v4.6h-4.6zm0 5.5h4.6v4.6h-4.6zm0 9h4.6v4.6h-4.6zm0 9h4.6v4.6h-4.6zm0 145.5h4.6v4.6h-4.6zm0.5 -217.5h4.6v4.6h-4.6zm0 5.5h4.6v4.6h-4.6zm0 10h4.6v4.6h-4.6zm0 1.5h4.6v4.6h-4.6zm0 3h4.6v4.6h-4.6zm0 3h4.6v4.6h-4.6zm0 1h4.6v4.6h-4.6zm0 1.5h4.6v4.6h-4.6zm0 1.5h4.6v4.6h-4.6zm0 1h4.6v4.6h-4.6zm0 2h4.6v4.6h-4.6zm0 2h4.6v4.6h-4.6zm0 0.5h4.6v4.6h-4.6zm0 3.5h4.6v4.6h-4.6zm0 1h4.6v4.6h-4.6zm0 0.5h4.6v4.6h-4.6zm0 1h4.6v4.6h-4.6zm0 0.5h4.6v4.6h-4.6zm0 1h4.6v4.6h-4.6zm0 5.5h4.6v4.6h-4.6zm0 95.5h4.6v4.6h-4.6zm0.5 -150.5h4.6v4.6h-4.6zm0 12h4.6v4.6h-4.6zm0 2h4.6v4.6h-4.6zm0 5.5h4.6v4.6h-4.6zm0 1h4.6v4.6h-4.6zm0 4h4.6v4.6h-4.6zm0 1h4.6v4.6h-4.6zm0 1h4.6v4.6h-4.6zm0 7.5h4.6v4.6h-4.6zm0 2.5h4.6v4.6h-4.6zm0 2h4.6v4.6h-4.6zm0 1h4.6v4.6h-4.6zm0 2h4.6v4.6h-4.6zm0 1.5h4.6v4.6h-4.6zm0 6.5h4.6v4.6h-4.6zm0 5.5h4.6v4.6h-4.6zm0 3.5h4.6v4.6h-4.6zm0 10.5h4.6v4.6h-4.6zm0 2.5h4.6v4.6h-4.6zm0 9.5h4.6v4.6h-4.6zm0 15.5h4.6v4.6h-4.6zm0.5 -89h4.6v4.6h-4.6zm0 10.5h4.6v4.6h-4.6zm0 1h4.6v4.6h-4.6zm0 2h4.6v4.6h-4.6zm0 1h4.6v4.6h-4.6zm0 1h4.6v4.6h-4.6zm0 1.5h4.6v4.6h-4.6zm0 0.5h4.6v4.6h-4.6zm0 1h4.6v4.6h-4.6zm0 0.5h4.6v4.6h-4.6zm0 0.5h4.6v4.6h-4.6zm0 2.5h4.6v4.6h-4.6zm0 2h4.6v4.6h-4.6zm0 2.5h4.6v4.6h-4.6zm0 3.5h4.6v4.6h-4.6zm0 3h4.6v4.6h-4.6zm0 0.5h4.6v4.6h-4.6zm0 1h4.6v4.6h-4.6zm0 3.5h4.6v4.6h-4.6zm0 2.5h4.6v4.6h-4.6zm0 3h4.6v4.6h-4.6zm0 1h4.6v4.6h-4.6zm0 3h4.6v4.6h-4.6zm0 1.5h4.6v4.6h-4.6zm0 5h4.6v4.6h-4.6zm0 16.5h4.6v4.6h-4.6zm0 71.5h4.6v4.6h-4.6zm0.5 -135.5h4.6v4.6h-4.6zm0 7h4.6v4.6h-4.6zm0 2h4.6v4.6h-4.6zm0 0.5h4.6v4.6h-4.6zm0 3h4.6v4.6h-4.6zm0 2.5h4.6v4.6h-4.6zm0 28.5h4.6v4.6h-4.6zm0 6.5h4.6v4.6h-4.6zm0 1.5h4.6v4.6h-4.6zm0 6.5h4.6v4.6h-4.6zm0 7h4.6v4.6h-4.6zm0.5 -79.5h4.6v4.6h-4.6zm0 14h4.6v4.6h-4.6zm0 3h4.6v4.6h-4.6zm0 4.5h4.6v4.6h-4.6zm0 0.5h4.6v4.6h-4.6zm0 1.5h4.6v4.6h-4.6zm0 7h4.6v4.6h-4.6zm0 6.5h4.6v4.6h-4.6zm0 2h4.6v4.6h-4.6zm0 5.5h4.6v4.6h-4.6zm0 0.5h4.6v4.6h-4.6zm0 0.5h4.6v4.6h-4.6zm0 2h4.6v4.6h-4.6zm0 8h4.6v4.6h-4.6zm0 2h4.6v4.6h-4.6zm0 0.5h4.6v4.6h-4.6zm0 1.5h4.6v4.6h-4.6zm0.5 -56h4.6v4.6h-4.6zm0 4h4.6v4.6h-4.6zm0 0.5h4.6v4.6h-4.6zm0 12h4.6v4.6h-4.6zm0 0.5h4.6v4.6h-4.6zm0 11.5h4.6v4.6h-4.6zm0 2.5h4.6v4.6h-4.6zm0 2h4.6v4.6h-4.6zm0 3.5h4.6v4.6h-4.6zm0 1h4.6v4.6h-4.6zm0 1h4.6v4.6h-4.6zm0 5h4.6v4.6h-4.6zm0 5h4.6v4.6h-4.6zm0 4.5h4.6v4.6h-4.6zm0 5.5h4.6v4.6h-4.6zm0 6.5h4.6v4.6h-4.6zm0 25.5h4.6v4.6h-4.6zm0.5 -76.5h4.6v4.6h-4.6zm0 7.5h4.6v4.6h-4.6zm0 1.5h4.6v4.6h-4.6zm0 1.5h4.6v4.6h-4.6zm0 1h4.6v4.6h-4.6zm0 4h4.6v4.6h-4.6zm0 2h4.6v4.6h-4.6zm0 3h4.6v4.6h-4.6zm0 7h4.6v4.6h-4.6zm0 0.5h4.6v4.6h-4.6zm0 1h4.6v4.6h-4.6zm0 12h4.6v4.6h-4.6zm0 1h4.6v4.6h-4.6zm0 6h4.6v4.6h-4.6zm0 0.5h4.6v4.6h-4.6zm0 4.5h4.6v4.6h-4.6zm0 1h4.6v4.6h-4.6zm0 1h4.6v4.6h-4.6zm0.5 -56h4.6v4.6h-4.6zm0 2h4.6v4.6h-4.6zm0 0.5h4.6v4.6h-4.6zm0 1h4.6v4.6h-4.6zm0 5h4.6v4.6h-4.6zm0 6.5h4.6v4.6h-4.6zm0 3.5h4.6v4.6h-4.6zm0 3h4.6v4.6h-4.6zm0 1h4.6v4.6h-4.6zm0 1.5h4.6v4.6h-4.6zm0 1.5h4.6v4.6h-4.6zm0 0.5h4.6v4.6h-4.6zm0 1.5h4.6v4.6h-4.6zm0 4.5h4.6v4.6h-4.6zm0 6h4.6v4.6h-4.6zm0 0.5h4.6v4.6h-4.6zm0 3h4.6v4.6h-4.6zm0 3.5h4.6v4.6h-4.6zm0 17.5h4.6v4.6h-4.6zm0 2.5h4.6v4.6h-4.6zm0.5 -66.5h4.6v4.6h-4.6zm0 11.5h4.6v4.6h-4.6zm0 1h4.6v4.6h-4.6zm0 7.5h4.6v4.6h-4.6zm0 3.5h4.6v4.6h-4.6zm0 3.5h4.6v4.6h-4.6zm0 8.5h4.6v4.6h-4.6zm0 1h4.6v4.6h-4.6zm0 1h4.6v4.6h-4.6zm0 2h4.6v4.6h-4.6zm0 1h4.6v4.6h-4.6zm0 3.5h4.6v4.6h-4.6zm0 6h4.6v4.6h-4.6zm0 0.5h4.6v4.6h-4.6zm0 7.5h4.6v4.6h-4.6zm0.5 -75h4.6v4.6h-4.6zm0 14h4.6v4.6h-4.6zm0 4h4.6v4.6h-4.6zm0 1h4.6v4.6h-4.6zm0 1.5h4.6v4.6h-4.6zm0 5h4.6v4.6h-4.6zm0 8.5h4.6v4.6h-4.6zm0 2h4.6v4.6h-4.6zm0 2h4.6v4.6h-4.6zm0 1h4.6v4.6h-4.6zm0 8h4.6v4.6h-4.6zm0 3.5h4.6v4.6h-4.6zm0 2h4.6v4.6h-4.6zm0 1h4.6v4.6h-4.6zm0 8.5h4.6v4.6h-4.6zm0 3h4.6v4.6h-4.6zm0 1h4.6v4.6h-4.6zm0.5 -61.5h4.6v4.6h-4.6zm0 7.5h4.6v4.6h-4.6zm0 11h4.6v4.6h-4.6zm0 3h4.6v4.6h-4.6zm0 1.5h4.6v4.6h-4.6zm0 0.5h4.6v4.6h-4.6zm0 1.5h4.6v4.6h-4.6zm0 1h4.6v4.6h-4.6zm0 2h4.6v4.6h-4.6zm0 2.5h4.6v4.6h-4.6zm0 2.5h4.6v4.6h-4.6zm0 2.5h4.6v4.6h-4.6zm0 5h4.6v4.6h-4.6zm0 0.5h4.6v4.6h-4.6zm0 2.5h4.6v4.6h-4.6zm0 2.5h4.6v4.6h-4.6zm0 6h4.6v4.6h-4.6zm0 3h4.6v4.6h-4.6zm0 1.5h4.6v4.6h-4.6zm0 5h4.6v4.6h-4.6zm0 0.5h4.6v4.6h-4.6zm0 7.5h4.6v4.6h-4.6zm0.5 -54h4.6v4.6h-4.6zm0 1h4.6v4.6h-4.6zm0 1h4.6v4.6h-4.6zm0 8.5h4.6v4.6h-4.6zm0 3.5h4.6v4.6h-4.6zm0 1h4.6v4.6h-4.6zm0 1.5h4.6v4.6h-4.6zm0 0.5h4.6v4.6h-4.6zm0 0.5h4.6v4.6h-4.6zm0 1h4.6v4.6h-4.6zm0 8.5h4.6v4.6h-4.6zm0 0.5h4.6v4.6h-4.6zm0 0.5h4.6v4.6h-4.6zm0 0.5h4.6v4.6h-4.6zm0 0.5h4.6v4.6h-4.6zm0 2.5h4.6v4.6h-4.6zm0 4h4.6v4.6h-4.6zm0 0.5h4.6v4.6h-4.6zm0 2h4.6v4.6h-4.6zm0.5 -43.5h4.6v4.6h-4.6zm0 0.5h4.6v4.6h-4.6zm0 5.5h4.6v4.6h-4.6zm0 3.5h4.6v4.6h-4.6zm0 1h4.6v4.6h-4.6zm0 0.5h4.6v4.6h-4.6zm0 0.5h4.6v4.6h-4.6zm0 1h4.6v4.6h-4.6zm0 5.5h4.6v4.6h-4.6zm0 5h4.6v4.6h-4.6zm0 0.5h4.6v4.6h-4.6zm0 2.5h4.6v4.6h-4.6zm0 5h4.6v4.6h-4.6zm0 2h4.6v4.6h-4.6zm0 3h4.6v4.6h-4.6zm0 30.5h4.6v4.6h-4.6zm0.5 -63h4.6v4.6h-4.6zm0 5h4.6v4.6h-4.6zm0 2h4.6v4.6h-4.6zm0 2.5h4.6v4.6h-4.6zm0 3.5h4.6v4.6h-4.6zm0 3h4.6v4.6h-4.6zm0 2.5h4.6v4.6h-4.6zm0 5h4.6v4.6h-4.6zm0 0.5h4.6v4.6h-4.6zm0 3h4.6v4.6h-4.6zm0 4.5h4.6v4.6h-4.6zm0 5h4.6v4.6h-4.6zm0 5h4.6v4.6h-4.6zm0 2.5h4.6v4.6h-4.6zm0.5 -58h4.6v4.6h-4.6zm0 7.5h4.6v4.6h-4.6zm0 4h4.6v4.6h-4.6zm0 9.5h4.6v4.6h-4.6zm0 2h4.6v4.6h-4.6zm0 0.5h4.6v4.6h-4.6zm0 3.5h4.6v4.6h-4.6zm0 5.5h4.6v4.6h-4.6zm0 2h4.6v4.6h-4.6zm0 0.5h4.6v4.6h-4.6zm0 2h4.6v4.6h-4.6zm0 2h4.6v4.6h-4.6zm0 28.5h4.6v4.6h-4.6zm0 2h4.6v4.6h-4.6zm0.5 -60.5h4.6v4.6h-4.6zm0 6.5h4.6v4.6h-4.6zm0 7.5h4.6v4.6h-4.6zm0 11.5h4.6v4.6h-4.6zm0 14.5h4.6v4.6h-4.6zm0 0.5h4.6v4.6h-4.6zm0 2h4.6v4.6h-4.6zm0 3.5h4.6v4.6h-4.6zm0 2h4.6v4.6h-4.6zm0 2.5h4.6v4.6h-4.6zm0 7h4.6v4.6h-4.6zm0.5 -63h4.6v4.6h-4.6zm0 12h4.6v4.6h-4.6zm0 12.5h4.6v4.6h-4.6zm0 2.5h4.6v4.6h-4.6zm0 0.5h4.6v4.6h-4.6zm0 1.5h4.6v4.6h-4.6zm0 2.5h4.6v4.6h-4.6zm0 1.5h4.6v4.6h-4.6zm0 2h4.6v4.6h-4.6zm0 3h4.6v4.6h-4.6zm0 7h4.6v4.6h-4.6zm0 2h4.6v4.6h-4.6zm0 8h4.6v4.6h-4.6zm0 4.5h4.6v4.6h-4.6zm0 3h4.6v4.6h-4.6zm0.5 -45h4.6v4.6h-4.6zm0 2h4.6v4.6h-4.6zm0 3.5h4.6v4.6h-4.6zm0 1.5h4.6v4.6h-4.6zm0 2h4.6v4.6h-4.6zm0 7.5h4.6v4.6h-4.6zm0 3h4.6v4.6h-4.6zm0 1h4.6v4.6h-4.6zm0 6.5h4.6v4.6h-4.6zm0 1.5h4.6v4.6h-4.6zm0 8h4.6v4.6h-4.6zm0 11h4.6v4.6h-4.6zm0 7.5h4.6v4.6h-4.6zm0 9h4.6v4.6h-4.6zm0.5 -90h4.6v4.6h-4.6zm0 21.5h4.6v4.6h-4.6zm0 2h4.6v4.6h-4.6zm0 3h4.6v4.6h-4.6zm0 6.5h4.6v4.6h-4.6zm0 6.5h4.6v4.6h-4.6zm0 1h4.6v4.6h-4.6zm0 2h4.6v4.6h-4.6zm0 3.5h4.6v4.6h-4.6zm0 2h4.6v4.6h-4.6zm0 15h4.6v4.6h-4.6zm0 0.5h4.6v4.6h-4.6zm0 12h4.6v4.6h-4.6zm0.5 -64h4.6v4.6h-4.6zm0 2h4.6v4.6h-4.6zm0 6.5h4.6v4.6h-4.6zm0 2h4.6v4.6h-4.6zm0 1h4.6v4.6h-4.6zm0 2.5h4.6v4.6h-4.6zm0 5.5h4.6v4.6h-4.6zm0 1.5h4.6v4.6h-4.6zm0 8.5h4.6v4.6h-4.6zm0 0.5h4.6v4.6h-4.6zm0 2h4.6v4.6h-4.6zm0 5.5h4.6v4.6h-4.6zm0 6h4.6v4.6h-4.6zm0 1.5h4.6v4.6h-4.6zm0 1h4.6v4.6h-4.6zm0 1h4.6v4.6h-4.6zm0 10.5h4.6v4.6h-4.6zm0 1.5h4.6v4.6h-4.6zm0 1h4.6v4.6h-4.6zm0 11.5h4.6v4.6h-4.6zm0.5 -72.5h4.6v4.6h-4.6zm0 4.5h4.6v4.6h-4.6zm0 5h4.6v4.6h-4.6zm0 2h4.6v4.6h-4.6zm0 3h4.6v4.6h-4.6zm0 7h4.6v4.6h-4.6zm0 3.5h4.6v4.6h-4.6zm0 1h4.6v4.6h-4.6zm0 1h4.6v4.6h-4.6zm0 5h4.6v4.6h-4.6zm0 1h4.6v4.6h-4.6zm0 0.5h4.6v4.6h-4.6zm0 9h4.6v4.6h-4.6zm0 4.5h4.6v4.6h-4.6zm0 5.5h4.6v4.6h-4.6zm0 5h4.6v4.6h-4.6zm0 8h4.6v4.6h-4.6zm0.5 -66h4.6v4.6h-4.6zm0 4h4.6v4.6h-4.6zm0 8h4.6v4.6h-4.6zm0 4.5h4.6v4.6h-4.6zm0 1.5h4.6v4.6h-4.6zm0 3h4.6v4.6h-4.6zm0 1h4.6v4.6h-4.6zm0 2h4.6v4.6h-4.6zm0 3.5h4.6v4.6h-4.6zm0 19.5h4.6v4.6h-4.6zm0.5 -34h4.6v4.6h-4.6zm0 1h4.6v4.6h-4.6zm0 4h4.6v4.6h-4.6zm0 2h4.6v4.6h-4.6zm0 1.5h4.6v4.6h-4.6zm0 6.5h4.6v4.6h-4.6zm0 0.5h4.6v4.6h-4.6zm0 2h4.6v4.6h-4.6zm0 5.5h4.6v4.6h-4.6zm0 2.5h4.6v4.6h-4.6zm0 7h4.6v4.6h-4.6zm0 2.5h4.6v4.6h-4.6zm0 11.5h4.6v4.6h-4.6zm0.5 -56h4.6v4.6h-4.6zm0 12h4.6v4.6h-4.6zm0 3h4.6v4.6h-4.6zm0 3.5h4.6v4.6h-4.6zm0 4.5h4.6v4.6h-4.6zm0 4.5h4.6v4.6h-4.6zm0 7h4.6v4.6h-4.6zm0 4.5h4.6v4.6h-4.6zm0 5h4.6v4.6h-4.6zm0 2h4.6v4.6h-4.6zm0 5h4.6v4.6h-4.6zm0 9h4.6v4.6h-4.6zm0 13h4.6v4.6h-4.6zm0.5 -82.5h4.6v4.6h-4.6zm0 12.5h4.6v4.6h-4.6zm0 8.5h4.6v4.6h-4.6zm0 3h4.6v4.6h-4.6zm0 4h4.6v4.6h-4.6zm0 2.5h4.6v4.6h-4.6zm0 3h4.6v4.6h-4.6zm0 6.5h4.6v4.6h-4.6zm0 0.5h4.6v4.6h-4.6zm0 0.5h4.6v4.6h-4.6zm0 2.5h4.6v4.6h-4.6zm0 0.5h4.6v4.6h-4.6zm0 1.5h4.6v4.6h-4.6zm0 7h4.6v4.6h-4.6zm0 8.5h4.6v4.6h-4.6zm0 4h4.6v4.6h-4.6zm0.5 -53.5h4.6v4.6h-4.6zm0 3h4.6v4.6h-4.6zm0 6h4.6v4.6h-4.6zm0 3.5h4.6v4.6h-4.6zm0 15h4.6v4.6h-4.6zm0 0.5h4.6v4.6h-4.6zm0 0.5h4.6v4.6h-4.6zm0 2h4.6v4.6h-4.6zm0 12.5h4.6v4.6h-4.6zm0 5.5h4.6v4.6h-4.6zm0.5 -51.5h4.6v4.6h-4.6zm0 6.5h4.6v4.6h-4.6zm0 2h4.6v4.6h-4.6zm0 3h4.6v4.6h-4.6zm0 6h4.6v4.6h-4.6zm0 3.5h4.6v4.6h-4.6zm0 1h4.6v4.6h-4.6zm0 6.5h4.6v4.6h-4.6zm0 6.5h4.6v4.6h-4.6zm0 0.5h4.6v4.6h-4.6zm0 0.5h4.6v4.6h-4.6zm0 2h4.6v4.6h-4.6zm0 1h4.6v4.6h-4.6zm0 2h4.6v4.6h-4.6zm0 1.5h4.6v4.6h-4.6zm0 7.5h4.6v4.6h-4.6zm0 1h4.6v4.6h-4.6zm0 1h4.6v4.6h-4.6zm0 6h4.6v4.6h-4.6zm0 8.5h4.6v4.6h-4.6zm0.5 -46h4.6v4.6h-4.6zm0 7.5h4.6v4.6h-4.6zm0 6h4.6v4.6h-4.6zm0 0.5h4.6v4.6h-4.6zm0 1h4.6v4.6h-4.6zm0 2.5h4.6v4.6h-4.6zm0 0.5h4.6v4.6h-4.6zm0 19h4.6v4.6h-4.6zm0 17h4.6v4.6h-4.6zm0.5 -71.5h4.6v4.6h-4.6zm0 5h4.6v4.6h-4.6zm0 5h4.6v4.6h-4.6zm0 1.5h4.6v4.6h-4.6zm0 0.5h4.6v4.6h-4.6zm0 5h4.6v4.6h-4.6zm0 13h4.6v4.6h-4.6zm0 1.5h4.6v4.6h-4.6zm0 4.5h4.6v4.6h-4.6zm0 0.5h4.6v4.6h-4.6zm0 13.5h4.6v4.6h-4.6zm0 8h4.6v4.6h-4.6zm0.5 -65.5h4.6v4.6h-4.6zm0 4.5h4.6v4.6h-4.6zm0 2h4.6v4.6h-4.6zm0 3.5h4.6v4.6h-4.6zm0 1h4.6v4.6h-4.6zm0 5h4.6v4.6h-4.6zm0 4.5h4.6v4.6h-4.6zm0 1.5h4.6v4.6h-4.6zm0 2.5h4.6v4.6h-4.6zm0 3h4.6v4.6h-4.6zm0 2h4.6v4.6h-4.6zm0 4.5h4.6v4.6h-4.6zm0 5.5h4.6v4.6h-4.6zm0 2h4.6v4.6h-4.6zm0 1h4.6v4.6h-4.6zm0.5 -37.5h4.6v4.6h-4.6zm0 9.5h4.6v4.6h-4.6zm0 6h4.6v4.6h-4.6zm0 1h4.6v4.6h-4.6zm0 0.5h4.6v4.6h-4.6zm0 3h4.6v4.6h-4.6zm0 0.5h4.6v4.6h-4.6zm0 5h4.6v4.6h-4.6zm0 1h4.6v4.6h-4.6zm0 1h4.6v4.6h-4.6zm0 1h4.6v4.6h-4.6zm0 1h4.6v4.6h-4.6zm0 5h4.6v4.6h-4.6zm0 3.5h4.6v4.6h-4.6zm0 9.5h4.6v4.6h-4.6zm0.5 -46.5h4.6v4.6h-4.6zm0 8.5h4.6v4.6h-4.6zm0 3.5h4.6v4.6h-4.6zm0 8h4.6v4.6h-4.6zm0 2.5h4.6v4.6h-4.6zm0 0.5h4.6v4.6h-4.6zm0 1h4.6v4.6h-4.6zm0 1.5h4.6v4.6h-4.6zm0 13h4.6v4.6h-4.6zm0 12.5h4.6v4.6h-4.6zm0.5 -41.5h4.6v4.6h-4.6zm0 5.5h4.6v4.6h-4.6zm0 0.5h4.6v4.6h-4.6zm0 6h4.6v4.6h-4.6zm0 2.5h4.6v4.6h-4.6zm0 2h4.6v4.6h-4.6zm0 2h4.6v4.6h-4.6zm0 12h4.6v4.6h-4.6zm0 2h4.6v4.6h-4.6zm0 2h4.6v4.6h-4.6zm0 1h4.6v4.6h-4.6zm0 2.5h4.6v4.6h-4.6zm0 5h4.6v4.6h-4.6zm0 7.5h4.6v4.6h-4.6zm0 1h4.6v4.6h-4.6zm0 3.5h4.6v4.6h-4.6zm0 4h4.6v4.6h-4.6zm0.5 -59.5h4.6v4.6h-4.6zm0 15h4.6v4.6h-4.6zm0 6.5h4.6v4.6h-4.6zm0 1h4.6v4.6h-4.6zm0 1h4.6v4.6h-4.6zm0 14.5h4.6v4.6h-4.6zm0.5 -43.5h4.6v4.6h-4.6zm0 5.5h4.6v4.6h-4.6zm0 4h4.6v4.6h-4.6zm0 3.5h4.6v4.6h-4.6zm0 10.5h4.6v4.6h-4.6zm0 2h4.6v4.6h-4.6zm0 15h4.6v4.6h-4.6zm0 20.5h4.6v4.6h-4.6zm0 146h4.6v4.6h-4.6zm0.5 -203.5h4.6v4.6h-4.6zm0 4h4.6v4.6h-4.6zm0 4h4.6v4.6h-4.6zm0 2h4.6v4.6h-4.6zm0 6h4.6v4.6h-4.6zm0 4h4.6v4.6h-4.6zm0 1.5h4.6v4.6h-4.6zm0 0.5h4.6v4.6h-4.6zm0 1.5h4.6v4.6h-4.6zm0 1.5h4.6v4.6h-4.6zm0 1.5h4.6v4.6h-4.6zm0 4h4.6v4.6h-4.6zm0 0.5h4.6v4.6h-4.6zm0 19h4.6v4.6h-4.6zm0.5 -50.5h4.6v4.6h-4.6zm0 3.5h4.6v4.6h-4.6zm0 3h4.6v4.6h-4.6zm0 0.5h4.6v4.6h-4.6zm0 5h4.6v4.6h-4.6zm0 4.5h4.6v4.6h-4.6zm0 4.5h4.6v4.6h-4.6zm0 2h4.6v4.6h-4.6zm0 3.5h4.6v4.6h-4.6zm0 2h4.6v4.6h-4.6zm0.5 -45h4.6v4.6h-4.6zm0 2h4.6v4.6h-4.6zm0 2h4.6v4.6h-4.6zm0 7h4.6v4.6h-4.6zm0 5.5h4.6v4.6h-4.6zm0 0.5h4.6v4.6h-4.6zm0 1h4.6v4.6h-4.6zm0 1h4.6v4.6h-4.6zm0 2.5h4.6v4.6h-4.6zm0 0.5h4.6v4.6h-4.6zm0 4.5h4.6v4.6h-4.6zm0 1.5h4.6v4.6h-4.6zm0 2h4.6v4.6h-4.6zm0 7.5h4.6v4.6h-4.6zm0 4.5h4.6v4.6h-4.6zm0 5h4.6v4.6h-4.6zm0 7.5h4.6v4.6h-4.6zm0.5 -48.5h4.6v4.6h-4.6zm0 9h4.6v4.6h-4.6zm0 3h4.6v4.6h-4.6zm0 2h4.6v4.6h-4.6zm0 8.5h4.6v4.6h-4.6zm0 2.5h4.6v4.6h-4.6zm0 9h4.6v4.6h-4.6zm0 1h4.6v4.6h-4.6zm0 1h4.6v4.6h-4.6zm0 4.5h4.6v4.6h-4.6zm0 3h4.6v4.6h-4.6zm0 0.5h4.6v4.6h-4.6zm0.5 -31.5h4.6v4.6h-4.6zm0 2.5h4.6v4.6h-4.6zm0 22.5h4.6v4.6h-4.6zm0 1h4.6v4.6h-4.6zm0 9h4.6v4.6h-4.6zm0 2.5h4.6v4.6h-4.6zm0 1.5h4.6v4.6h-4.6zm0 13.5h4.6v4.6h-4.6zm0.5 -66.5h4.6v4.6h-4.6zm0 3.5h4.6v4.6h-4.6zm0 6h4.6v4.6h-4.6zm0 8h4.6v4.6h-4.6zm0 3.5h4.6v4.6h-4.6zm0 2h4.6v4.6h-4.6zm0 1.5h4.6v4.6h-4.6zm0 7h4.6v4.6h-4.6zm0 3h4.6v4.6h-4.6zm0 8h4.6v4.6h-4.6zm0 8.5h4.6v4.6h-4.6zm0 2h4.6v4.6h-4.6zm0 9h4.6v4.6h-4.6zm0.5 -54.5h4.6v4.6h-4.6zm0 5h4.6v4.6h-4.6zm0 2h4.6v4.6h-4.6zm0 7.5h4.6v4.6h-4.6zm0 16.5h4.6v4.6h-4.6zm0 3.5h4.6v4.6h-4.6zm0 8.5h4.6v4.6h-4.6zm0.5 -32.5h4.6v4.6h-4.6zm0 2h4.6v4.6h-4.6zm0 10.5h4.6v4.6h-4.6zm0 1.5h4.6v4.6h-4.6zm0 2h4.6v4.6h-4.6zm0 0.5h4.6v4.6h-4.6zm0 1.5h4.6v4.6h-4.6zm0 4h4.6v4.6h-4.6zm0 4.5h4.6v4.6h-4.6zm0 2h4.6v4.6h-4.6zm0.5 -47h4.6v4.6h-4.6zm0 10.5h4.6v4.6h-4.6zm0 5.5h4.6v4.6h-4.6zm0 3.5h4.6v4.6h-4.6zm0 11.5h4.6v4.6h-4.6zm0 1h4.6v4.6h-4.6zm0 8.5h4.6v4.6h-4.6zm0 2h4.6v4.6h-4.6zm0 19.5h4.6v4.6h-4.6zm0 8.5h4.6v4.6h-4.6zm0.5 -65h4.6v4.6h-4.6zm0 8.5h4.6v4.6h-4.6zm0 8h4.6v4.6h-4.6zm0 5.5h4.6v4.6h-4.6zm0 13.5h4.6v4.6h-4.6zm0 1.5h4.6v4.6h-4.6zm0 1.5h4.6v4.6h-4.6zm0 2.5h4.6v4.6h-4.6zm0 2h4.6v4.6h-4.6zm0 3.5h4.6v4.6h-4.6zm0 7h4.6v4.6h-4.6zm0.5 -49.5h4.6v4.6h-4.6zm0 1.5h4.6v4.6h-4.6zm0 5h4.6v4.6h-4.6zm0 1.5h4.6v4.6h-4.6zm0 0.5h4.6v4.6h-4.6zm0 16h4.6v4.6h-4.6zm0 2.5h4.6v4.6h-4.6zm0 15.5h4.6v4.6h-4.6zm0.5 -54.5h4.6v4.6h-4.6zm0 14h4.6v4.6h-4.6zm0 11h4.6v4.6h-4.6zm0 8.5h4.6v4.6h-4.6zm0 19.5h4.6v4.6h-4.6zm0 9.5h4.6v4.6h-4.6zm0 14.5h4.6v4.6h-4.6zm0.5 -65h4.6v4.6h-4.6zm0 11.5h4.6v4.6h-4.6zm0 3h4.6v4.6h-4.6zm0 1.5h4.6v4.6h-4.6zm0 1.5h4.6v4.6h-4.6zm0 1.5h4.6v4.6h-4.6zm0 2.5h4.6v4.6h-4.6zm0 3h4.6v4.6h-4.6zm0 12h4.6v4.6h-4.6zm0 1.5h4.6v4.6h-4.6zm0 12h4.6v4.6h-4.6zm0 1h4.6v4.6h-4.6zm0.5 -45h4.6v4.6h-4.6zm0 10.5h4.6v4.6h-4.6zm0 2.5h4.6v4.6h-4.6zm0 12h4.6v4.6h-4.6zm0 5h4.6v4.6h-4.6zm0 7.5h4.6v4.6h-4.6zm0 8h4.6v4.6h-4.6zm0.5 -59h4.6v4.6h-4.6zm0 21h4.6v4.6h-4.6zm0 3.5h4.6v4.6h-4.6zm0 1.5h4.6v4.6h-4.6zm0 11.5h4.6v4.6h-4.6zm0 4h4.6v4.6h-4.6zm0 25.5h4.6v4.6h-4.6zm0.5 -72.5h4.6v4.6h-4.6zm0 6h4.6v4.6h-4.6zm0 4.5h4.6v4.6h-4.6zm0 5.5h4.6v4.6h-4.6zm0 15h4.6v4.6h-4.6zm0 5h4.6v4.6h-4.6zm0 0.5h4.6v4.6h-4.6zm0 12h4.6v4.6h-4.6zm0.5 -24h4.6v4.6h-4.6zm0 0.5h4.6v4.6h-4.6zm0 3.5h4.6v4.6h-4.6zm0 3h4.6v4.6h-4.6zm0 2h4.6v4.6h-4.6zm0 0.5h4.6v4.6h-4.6zm0 3.5h4.6v4.6h-4.6zm0 18.5h4.6v4.6h-4.6zm0 12.5h4.6v4.6h-4.6zm0 3.5h4.6v4.6h-4.6zm0.5 -73.5h4.6v4.6h-4.6zm0 21h4.6v4.6h-4.6zm0 0.5h4.6v4.6h-4.6zm0 18.5h4.6v4.6h-4.6zm0 0.5h4.6v4.6h-4.6zm0 10h4.6v4.6h-4.6zm0 14h4.6v4.6h-4.6zm0.5 -50.5h4.6v4.6h-4.6zm0 7h4.6v4.6h-4.6zm0 2.5h4.6v4.6h-4.6zm0 1.5h4.6v4.6h-4.6zm0 9.5h4.6v4.6h-4.6zm0 1h4.6v4.6h-4.6zm0 2.5h4.6v4.6h-4.6zm0 9.5h4.6v4.6h-4.6zm0 0.5h4.6v4.6h-4.6zm0 6.5h4.6v4.6h-4.6zm0 3h4.6v4.6h-4.6zm0 10.5h4.6v4.6h-4.6zm0 3h4.6v4.6h-4.6zm0.5 -45.5h4.6v4.6h-4.6zm0 10h4.6v4.6h-4.6zm0 3h4.6v4.6h-4.6zm0 4h4.6v4.6h-4.6zm0 7h4.6v4.6h-4.6zm0 2.5h4.6v4.6h-4.6zm0 3.5h4.6v4.6h-4.6zm0.5 -40h4.6v4.6h-4.6zm0 16.5h4.6v4.6h-4.6zm0 0.5h4.6v4.6h-4.6zm0 3h4.6v4.6h-4.6zm0 13.5h4.6v4.6h-4.6zm0 1h4.6v4.6h-4.6zm0 1.5h4.6v4.6h-4.6zm0 9.5h4.6v4.6h-4.6zm0.5 -20h4.6v4.6h-4.6zm0 1.5h4.6v4.6h-4.6zm0 27h4.6v4.6h-4.6zm0 19h4.6v4.6h-4.6zm0.5 -52.5h4.6v4.6h-4.6zm0 2.5h4.6v4.6h-4.6zm0 9h4.6v4.6h-4.6zm0 9h4.6v4.6h-4.6zm0.5 -37h4.6v4.6h-4.6zm0 17h4.6v4.6h-4.6zm0 2h4.6v4.6h-4.6zm0 9.5h4.6v4.6h-4.6zm0 23.5h4.6v4.6h-4.6zm0.5 -61.5h4.6v4.6h-4.6zm0 14h4.6v4.6h-4.6zm0 3.5h4.6v4.6h-4.6zm0 4h4.6v4.6h-4.6zm0 7h4.6v4.6h-4.6zm0 5.5h4.6v4.6h-4.6zm0 18h4.6v4.6h-4.6zm0.5 -31.5h4.6v4.6h-4.6zm0 6.5h4.6v4.6h-4.6zm0 4.5h4.6v4.6h-4.6zm0 4h4.6v4.6h-4.6zm0 2.5h4.6v4.6h-4.6zm0 6h4.6v4.6h-4.6zm0.5 -47h4.6v4.6h-4.6zm0 13.5h4.6v4.6h-4.6zm0 1h4.6v4.6h-4.6zm0 4.5h4.6v4.6h-4.6zm0 9.5h4.6v4.6h-4.6zm0 10.5h4.6v4.6h-4.6zm0 11.5h4.6v4.6h-4.6zm0.5 -23h4.6v4.6h-4.6zm0 11h4.6v4.6h-4.6zm0 17h4.6v4.6h-4.6zm0.5 -29h4.6v4.6h-4.6zm0.5 -25.5h4.6v4.6h-4.6zm0 1h4.6v4.6h-4.6zm0 16h4.6v4.6h-4.6zm0 27.5h4.6v4.6h-4.6zm0 0.5h4.6v4.6h-4.6zm0 6h4.6v4.6h-4.6zm0.5 -35h4.6v4.6h-4.6zm0 4.5h4.6v4.6h-4.6zm0 0.5h4.6v4.6h-4.6zm0 5.5h4.6v4.6h-4.6zm0 16.5h4.6v4.6h-4.6zm0 4.5h4.6v4.6h-4.6zm0.5 -15.5h4.6v4.6h-4.6zm0 12h4.6v4.6h-4.6zm0 9.5h4.6v4.6h-4.6zm0.5 -39h4.6v4.6h-4.6zm0 9.5h4.6v4.6h-4.6zm0 4.5h4.6v4.6h-4.6zm0 2.5h4.6v4.6h-4.6zm0 1h4.6v4.6h-4.6zm0 4.5h4.6v4.6h-4.6zm0 20.5h4.6v4.6h-4.6zm0.5 -44.5h4.6v4.6h-4.6zm0 9.5h4.6v4.6h-4.6zm0 2.5h4.6v4.6h-4.6zm0 5.5h4.6v4.6h-4.6zm0 2.5h4.6v4.6h-4.6zm0 5.5h4.6v4.6h-4.6zm0 22.5h4.6v4.6h-4.6zm0.5 -55.5h4.6v4.6h-4.6zm0 8h4.6v4.6h-4.6zm0 1.5h4.6v4.6h-4.6zm0 7.5h4.6v4.6h-4.6zm0 23.5h4.6v4.6h-4.6zm0 12.5h4.6v4.6h-4.6zm0.5 -53.5h4.6v4.6h-4.6zm0 5.5h4.6v4.6h-4.6zm0 11h4.6v4.6h-4.6zm0 18h4.6v4.6h-4.6zm0 20h4.6v4.6h-4.6zm0.5 -57h4.6v4.6h-4.6zm0 14h4.6v4.6h-4.6zm0 7.5h4.6v4.6h-4.6zm0 26h4.6v4.6h-4.6zm0.5 -26h4.6v4.6h-4.6zm0 19.5h4.6v4.6h-4.6zm0 7h4.6v4.6h-4.6zm0.5 -7h4.6v4.6h-4.6zm0.5 -17h4.6v4.6h-4.6zm0.5 -11.5h4.6v4.6h-4.6zm0 49h4.6v4.6h-4.6zm0.5 -40h4.6v4.6h-4.6zm0 4.5h4.6v4.6h-4.6zm0 9h4.6v4.6h-4.6zm0.5 -3.5h4.6v4.6h-4.6zm0 2.5h4.6v4.6h-4.6zm0 21h4.6v4.6h-4.6zm0.5 -43.5h4.6v4.6h-4.6zm0 4.5h4.6v4.6h-4.6zm0.5 31h4.6v4.6h-4.6zm0.5 -44.5h4.6v4.6h-4.6zm0 18.5h4.6v4.6h-4.6zm0 4h4.6v4.6h-4.6zm0 2.5h4.6v4.6h-4.6zm0.5 -2.5h4.6v4.6h-4.6zm0.5 -3h4.6v4.6h-4.6zm0 21h4.6v4.6h-4.6zm0.5 -2h4.6v4.6h-4.6zm0.5 -1h4.6v4.6h-4.6zm0 4.5h4.6v4.6h-4.6zm0 6.5h4.6v4.6h-4.6zm0 6h4.6v4.6h-4.6zm0.5 -34.5h4.6v4.6h-4.6zm0.5 -12.5h4.6v4.6h-4.6zm0.5 17.5h4.6v4.6h-4.6zm0 11h4.6v4.6h-4.6zm0.5 -12.5h4.6v4.6h-4.6zm0 32.5h4.6v4.6h-4.6zm0.5 -39.5h4.6v4.6h-4.6zm0 4h4.6v4.6h-4.6zm0 26h4.6v4.6h-4.6zm0 30.5h4.6v4.6h-4.6zm0.5 -80h4.6v4.6h-4.6zm0 18h4.6v4.6h-4.6zm0 2h4.6v4.6h-4.6zm0 20h4.6v4.6h-4.6zm0.5 -32.5h4.6v4.6h-4.6zm0 26.5h4.6v4.6h-4.6zm0 25.5h4.6v4.6h-4.6zm0.5 -30.5h4.6v4.6h-4.6zm0 24h4.6v4.6h-4.6zm0 154h4.6v4.6h-4.6zm0.5 -148h4.6v4.6h-4.6zm0.5 -34.5h4.6v4.6h-4.6zm0.5 7h4.6v4.6h-4.6z"/></g>
<rect x="267.5" y="584.5" width="4.0" height="311.5" fill="#000"/>
<rect x="142.0" y="791.1" width="352.0" height="3.8" fill="#000"/>
<text transform="translate(142,626) scale(0.96,1.095)" font-family='"Liberation Sans", Arial, sans-serif' font-weight="bold" font-size="35" text-anchor="start" fill="#000">68.8%</text>
<text transform="translate(492,626) scale(0.96,1.095)" font-family='"Liberation Sans", Arial, sans-serif' font-weight="bold" font-size="35" text-anchor="end" fill="#000">29.8%</text>
<text transform="translate(142,921) scale(0.96,1.095)" font-family='"Liberation Sans", Arial, sans-serif' font-weight="bold" font-size="35" text-anchor="start" fill="#000">1.4%</text>
<rect x="418.0" y="889.0" width="76.8" height="39.5" fill="#fff"/>
<text transform="translate(494,922) scale(0.96,1.095)" font-family='"Liberation Sans", Arial, sans-serif' font-weight="bold" font-size="35" text-anchor="end" fill="#000">0.0%</text>
<rect x="703.0" y="579.0" width="6.0" height="364.0" fill="#000"/>
<rect x="703.0" y="937.0" width="358.0" height="6.0" fill="#000"/>
<rect x="703.0" y="579.0" width="358.0" height="4.0" fill="#000"/>
<rect x="1057.0" y="579.0" width="4.0" height="364.0" fill="#000"/>
<rect x="735.9" y="940.0" width="4.0" height="19.0" fill="#000"/>
<rect x="755.8" y="940.0" width="8.0" height="19.0" fill="#000"/>
<rect x="779.8" y="940.0" width="4.0" height="19.0" fill="#000"/>
<rect x="861.1" y="940.0" width="4.0" height="19.0" fill="#000"/>
<rect x="945.3" y="940.0" width="4.0" height="19.0" fill="#000"/>
<rect x="1024.1" y="940.0" width="4.0" height="19.0" fill="#000"/>
<rect x="735.9" y="940.0" width="47.9" height="10.0" fill="#000"/>
<rect x="720.3" y="940.0" width="3.4" height="10.5" fill="#000"/>
<rect x="796.0" y="940.0" width="3.4" height="10.5" fill="#000"/>
<rect x="812.4" y="940.0" width="3.4" height="10.5" fill="#000"/>
<rect x="822.7" y="940.0" width="3.4" height="10.5" fill="#000"/>
<rect x="830.5" y="940.0" width="3.4" height="10.5" fill="#000"/>
<rect x="838.9" y="940.0" width="3.4" height="10.5" fill="#000"/>
<rect x="844.5" y="940.0" width="3.4" height="10.5" fill="#000"/>
<rect x="849.9" y="940.0" width="3.4" height="10.5" fill="#000"/>
<rect x="855.9" y="940.0" width="3.4" height="10.5" fill="#000"/>
<rect x="886.7" y="940.0" width="3.4" height="10.5" fill="#000"/>
<rect x="969.3" y="940.0" width="3.4" height="10.5" fill="#000"/>
<rect x="901.6" y="940.0" width="3.4" height="10.5" fill="#000"/>
<rect x="983.2" y="940.0" width="3.4" height="10.5" fill="#000"/>
<rect x="912.1" y="940.0" width="3.4" height="10.5" fill="#000"/>
<rect x="993.0" y="940.0" width="3.4" height="10.5" fill="#000"/>
<rect x="920.3" y="940.0" width="3.4" height="10.5" fill="#000"/>
<rect x="1000.7" y="940.0" width="3.4" height="10.5" fill="#000"/>
<rect x="926.9" y="940.0" width="3.4" height="10.5" fill="#000"/>
<rect x="1006.9" y="940.0" width="3.4" height="10.5" fill="#000"/>
<rect x="932.6" y="940.0" width="3.4" height="10.5" fill="#000"/>
<rect x="1012.2" y="940.0" width="3.4" height="10.5" fill="#000"/>
<rect x="937.5" y="940.0" width="3.4" height="10.5" fill="#000"/>
<rect x="1016.8" y="940.0" width="3.4" height="10.5" fill="#000"/>
<rect x="941.8" y="940.0" width="3.4" height="10.5" fill="#000"/>
<rect x="1020.8" y="940.0" width="3.4" height="10.5" fill="#000"/>
<rect x="1048.1" y="940.0" width="3.4" height="10.5" fill="#000"/>
<rect x="687.0" y="904.1" width="19.0" height="4.0" fill="#000"/>
<rect x="687.0" y="881.2" width="19.0" height="8.0" fill="#000"/>
<rect x="687.0" y="862.6" width="19.0" height="4.0" fill="#000"/>
<rect x="687.0" y="779.4" width="19.0" height="4.0" fill="#000"/>
<rect x="687.0" y="694.7" width="19.0" height="4.0" fill="#000"/>
<rect x="687.0" y="613.2" width="19.0" height="4.0" fill="#000"/>
<rect x="696.0" y="881.2" width="10.0" height="26.9" fill="#000"/>
<rect x="695.5" y="924.3" width="10.5" height="3.4" fill="#000"/>
<rect x="695.5" y="843.8" width="10.5" height="3.4" fill="#000"/>
<rect x="695.5" y="829.1" width="10.5" height="3.4" fill="#000"/>
<rect x="695.5" y="816.7" width="10.5" height="3.4" fill="#000"/>
<rect x="695.5" y="805.3" width="10.5" height="3.4" fill="#000"/>
<rect x="695.5" y="797.6" width="10.5" height="3.4" fill="#000"/>
<rect x="695.5" y="791.9" width="10.5" height="3.4" fill="#000"/>
<rect x="695.5" y="786.2" width="10.5" height="3.4" fill="#000"/>
<rect x="695.5" y="782.7" width="10.5" height="3.4" fill="#000"/>
<rect x="695.5" y="754.2" width="10.5" height="3.4" fill="#000"/>
<rect x="695.5" y="670.5" width="10.5" height="3.4" fill="#000"/>
<rect x="695.5" y="739.3" width="10.5" height="3.4" fill="#000"/>
<rect x="695.5" y="656.1" width="10.5" height="3.4" fill="#000"/>
<rect x="695.5" y="728.7" width="10.5" height="3.4" fill="#000"/>
<rect x="695.5" y="645.9" width="10.5" height="3.4" fill="#000"/>
<rect x="695.5" y="720.5" width="10.5" height="3.4" fill="#000"/>
<rect x="695.5" y="638.0" width="10.5" height="3.4" fill="#000"/>
<rect x="695.5" y="713.8" width="10.5" height="3.4" fill="#000"/>
<rect x="695.5" y="631.6" width="10.5" height="3.4" fill="#000"/>
<rect x="695.5" y="708.1" width="10.5" height="3.4" fill="#000"/>
<rect x="695.5" y="626.1" width="10.5" height="3.4" fill="#000"/>
<rect x="695.5" y="703.2" width="10.5" height="3.4" fill="#000"/>
<rect x="695.5" y="621.4" width="10.5" height="3.4" fill="#000"/>
<rect x="695.5" y="698.9" width="10.5" height="3.4" fill="#000"/>
<rect x="695.5" y="617.2" width="10.5" height="3.4" fill="#000"/>
<rect x="695.5" y="589.0" width="10.5" height="3.4" fill="#000"/>
<text x="738.9" y="999.3" font-family='"Liberation Sans", Arial, sans-serif' font-size="25.5" text-anchor="middle" fill="#111">-10<tspan dy="-15.3" font-size="20">2</tspan></text>
<text x="863.6" y="999.3" font-family='"Liberation Sans", Arial, sans-serif' font-size="25.5" text-anchor="middle" fill="#111">10<tspan dy="-15.3" font-size="20">3</tspan></text>
<text x="947.8" y="999.3" font-family='"Liberation Sans", Arial, sans-serif' font-size="25.5" text-anchor="middle" fill="#111">10<tspan dy="-15.3" font-size="20">4</tspan></text>
<text x="1026.6" y="999.3" font-family='"Liberation Sans", Arial, sans-serif' font-size="25.5" text-anchor="middle" fill="#111">10<tspan dy="-15.3" font-size="20">5</tspan></text>
<text x="683.4" y="917.3" font-family='"Liberation Sans", Arial, sans-serif' font-size="25.5" text-anchor="end" fill="#111">-10<tspan dy="-16.6" font-size="20">2</tspan></text>
<text x="681.4" y="792.6" font-family='"Liberation Sans", Arial, sans-serif' font-size="25.5" text-anchor="end" fill="#111">10<tspan dy="-16.6" font-size="20">3</tspan></text>
<text x="681.4" y="707.9" font-family='"Liberation Sans", Arial, sans-serif' font-size="25.5" text-anchor="end" fill="#111">10<tspan dy="-16.6" font-size="20">4</tspan></text>
<text x="681.4" y="626.4" font-family='"Liberation Sans", Arial, sans-serif' font-size="25.5" text-anchor="end" fill="#111">10<tspan dy="-16.6" font-size="20">5</tspan></text>
<text transform="translate(883.6,1036.6) scale(0.95,1)" font-family='"Liberation Sans", Arial, sans-serif' font-size="33.5" text-anchor="middle" fill="#111">TCRAB FITC-A</text>
<text transform="translate(602.5,760.5) rotate(-90) scale(1.0,1)" font-family='"Liberation Sans", Arial, sans-serif' font-size="33.5" text-anchor="middle" fill="#111">TCRGD PE-A</text>
<text transform="translate(571.9,562.6) scale(0.77,1)" font-family='"Liberation Sans", Arial, sans-serif' font-size="44" fill="#000" stroke="#000" stroke-width="0.7">E</text>
<clipPath id="cE"><rect x="709" y="584" width="348" height="353"/></clipPath>
<g clip-path="url(#cE)"><path fill="#0000ff" filter="url(#bl)" shape-rendering="auto" d="m752.5 804h4.6v4.6h-4.6zm12.5 -31.5h4.6v4.6h-4.6zm4.5 54h4.6v4.6h-4.6zm1 -61.5h4.6v4.6h-4.6zm2.5 -5h4.6v4.6h-4.6zm2 9.5h4.6v4.6h-4.6zm2 13h4.6v4.6h-4.6zm2.5 -8.5h4.6v4.6h-4.6zm2.5 66.5h4.6v4.6h-4.6zm1.5 -61h4.6v4.6h-4.6zm1.5 4h4.6v4.6h-4.6zm2 -8.5h4.6v4.6h-4.6zm0 16.5h4.6v4.6h-4.6zm7 -9h4.6v4.6h-4.6zm14 115h4.6v4.6h-4.6zm6 13.5h4.6v4.6h-4.6zm4.5 -22.5h4.6v4.6h-4.6zm14.5 16.5h4.6v4.6h-4.6zm11.5 -30h4.6v4.6h-4.6zm3 -3.5h4.6v4.6h-4.6zm1.5 2.5h4.6v4.6h-4.6zm0 20.5h4.6v4.6h-4.6zm1 -15h4.6v4.6h-4.6zm0 14.5h4.6v4.6h-4.6zm0.5 0.5h4.6v4.6h-4.6zm0 9.5h4.6v4.6h-4.6zm1 -17h4.6v4.6h-4.6zm0.5 -21h4.6v4.6h-4.6zm0 29h4.6v4.6h-4.6zm0.5 -32h4.6v4.6h-4.6zm0 22.5h4.6v4.6h-4.6zm1 2.5h4.6v4.6h-4.6zm0.5 -19.5h4.6v4.6h-4.6zm0 8h4.6v4.6h-4.6zm0 21h4.6v4.6h-4.6zm0 0.5h4.6v4.6h-4.6zm0.5 -17.5h4.6v4.6h-4.6zm0 28h4.6v4.6h-4.6zm0.5 -11h4.6v4.6h-4.6zm0 12.5h4.6v4.6h-4.6zm0.5 -41h4.6v4.6h-4.6zm0 15h4.6v4.6h-4.6zm0.5 -4.5h4.6v4.6h-4.6zm0 16h4.6v4.6h-4.6zm0.5 -16h4.6v4.6h-4.6zm0 17.5h4.6v4.6h-4.6zm0.5 -12.5h4.6v4.6h-4.6zm0 10.5h4.6v4.6h-4.6zm0 5.5h4.6v4.6h-4.6zm0.5 -22.5h4.6v4.6h-4.6zm0 38.5h4.6v4.6h-4.6zm0.5 -48.5h4.6v4.6h-4.6zm0 13.5h4.6v4.6h-4.6zm0.5 -3h4.6v4.6h-4.6zm0 5h4.6v4.6h-4.6zm0 6.5h4.6v4.6h-4.6zm0 1h4.6v4.6h-4.6zm0 4h4.6v4.6h-4.6zm0 17h4.6v4.6h-4.6zm0.5 -14.5h4.6v4.6h-4.6zm1 -7h4.6v4.6h-4.6zm0.5 -34.5h4.6v4.6h-4.6zm1 39h4.6v4.6h-4.6zm0 1.5h4.6v4.6h-4.6zm0.5 27h4.6v4.6h-4.6zm0.5 -45.5h4.6v4.6h-4.6zm0 2h4.6v4.6h-4.6zm0 28h4.6v4.6h-4.6zm0.5 -24h4.6v4.6h-4.6zm0 18h4.6v4.6h-4.6zm0.5 -59h4.6v4.6h-4.6zm0 41.5h4.6v4.6h-4.6zm0 5.5h4.6v4.6h-4.6zm0 1h4.6v4.6h-4.6zm0 5.5h4.6v4.6h-4.6zm0.5 -21h4.6v4.6h-4.6zm0 7h4.6v4.6h-4.6zm0 3h4.6v4.6h-4.6zm0 4.5h4.6v4.6h-4.6zm0.5 -1.5h4.6v4.6h-4.6zm0 19.5h4.6v4.6h-4.6zm0.5 -40.5h4.6v4.6h-4.6zm0 25.5h4.6v4.6h-4.6zm0 2.5h4.6v4.6h-4.6zm0 8.5h4.6v4.6h-4.6zm0.5 -36.5h4.6v4.6h-4.6zm0 17.5h4.6v4.6h-4.6zm0 8.5h4.6v4.6h-4.6zm0 2h4.6v4.6h-4.6zm0 1.5h4.6v4.6h-4.6zm0 1.5h4.6v4.6h-4.6zm0 1.5h4.6v4.6h-4.6zm0 1.5h4.6v4.6h-4.6zm0.5 -9.5h4.6v4.6h-4.6zm0 36h4.6v4.6h-4.6zm0.5 -60.5h4.6v4.6h-4.6zm0 16h4.6v4.6h-4.6zm0 5.5h4.6v4.6h-4.6zm0 14h4.6v4.6h-4.6zm0.5 -47h4.6v4.6h-4.6zm0 11h4.6v4.6h-4.6zm0 16h4.6v4.6h-4.6zm0 6h4.6v4.6h-4.6zm0 1h4.6v4.6h-4.6zm0 9.5h4.6v4.6h-4.6zm0.5 -32.5h4.6v4.6h-4.6zm0 12h4.6v4.6h-4.6zm0 10.5h4.6v4.6h-4.6zm0 6.5h4.6v4.6h-4.6zm0.5 -18.5h4.6v4.6h-4.6zm0 4h4.6v4.6h-4.6zm0 12.5h4.6v4.6h-4.6zm0 1h4.6v4.6h-4.6zm0 1h4.6v4.6h-4.6zm0 0.5h4.6v4.6h-4.6zm0.5 -27h4.6v4.6h-4.6zm0 13.5h4.6v4.6h-4.6zm0 4h4.6v4.6h-4.6zm0 4.5h4.6v4.6h-4.6zm0 8.5h4.6v4.6h-4.6zm0 6.5h4.6v4.6h-4.6zm0 4.5h4.6v4.6h-4.6zm0.5 -41h4.6v4.6h-4.6zm0 6.5h4.6v4.6h-4.6zm0 0.5h4.6v4.6h-4.6zm0 17.5h4.6v4.6h-4.6zm0 2h4.6v4.6h-4.6zm0.5 -41h4.6v4.6h-4.6zm0 19h4.6v4.6h-4.6zm0 5.5h4.6v4.6h-4.6zm0 3.5h4.6v4.6h-4.6zm0 7h4.6v4.6h-4.6zm0 20.5h4.6v4.6h-4.6zm0 12h4.6v4.6h-4.6zm0.5 -43.5h4.6v4.6h-4.6zm0 1.5h4.6v4.6h-4.6zm0 9h4.6v4.6h-4.6zm0 18h4.6v4.6h-4.6zm0.5 -37.5h4.6v4.6h-4.6zm0 14.5h4.6v4.6h-4.6zm0 2h4.6v4.6h-4.6zm0 4.5h4.6v4.6h-4.6zm0 4h4.6v4.6h-4.6zm0 20h4.6v4.6h-4.6zm0.5 -44.5h4.6v4.6h-4.6zm0 4.5h4.6v4.6h-4.6zm0 1.5h4.6v4.6h-4.6zm0 4h4.6v4.6h-4.6zm0 13.5h4.6v4.6h-4.6zm0 2.5h4.6v4.6h-4.6zm0 3.5h4.6v4.6h-4.6zm0 3.5h4.6v4.6h-4.6zm0 5.5h4.6v4.6h-4.6zm0.5 -38h4.6v4.6h-4.6zm0 5h4.6v4.6h-4.6zm0 4.5h4.6v4.6h-4.6zm0 6.5h4.6v4.6h-4.6zm0 14h4.6v4.6h-4.6zm0.5 -34h4.6v4.6h-4.6zm0 7.5h4.6v4.6h-4.6zm0 3.5h4.6v4.6h-4.6zm0 6.5h4.6v4.6h-4.6zm0 8.5h4.6v4.6h-4.6zm0 2h4.6v4.6h-4.6zm0 1h4.6v4.6h-4.6zm0 9.5h4.6v4.6h-4.6zm0 1.5h4.6v4.6h-4.6zm0.5 -19.5h4.6v4.6h-4.6zm0 2.5h4.6v4.6h-4.6zm0.5 -10.5h4.6v4.6h-4.6zm0 11h4.6v4.6h-4.6zm0 8h4.6v4.6h-4.6zm0 3h4.6v4.6h-4.6zm0 2.5h4.6v4.6h-4.6zm0.5 -57.5h4.6v4.6h-4.6zm0 20.5h4.6v4.6h-4.6zm0 0.5h4.6v4.6h-4.6zm0 3.5h4.6v4.6h-4.6zm0 0.5h4.6v4.6h-4.6zm0 30h4.6v4.6h-4.6zm0.5 -36h4.6v4.6h-4.6zm0 10.5h4.6v4.6h-4.6zm0 3h4.6v4.6h-4.6zm0 9.5h4.6v4.6h-4.6zm0 3h4.6v4.6h-4.6zm0 19h4.6v4.6h-4.6zm0.5 -36h4.6v4.6h-4.6zm0 1h4.6v4.6h-4.6zm0 4.5h4.6v4.6h-4.6zm0 1.5h4.6v4.6h-4.6zm0 4h4.6v4.6h-4.6zm0 6.5h4.6v4.6h-4.6zm0 2h4.6v4.6h-4.6zm0.5 -33h4.6v4.6h-4.6zm0 14h4.6v4.6h-4.6zm0 2.5h4.6v4.6h-4.6zm0 1h4.6v4.6h-4.6zm0 1h4.6v4.6h-4.6zm0 8.5h4.6v4.6h-4.6zm0 1.5h4.6v4.6h-4.6zm0 6.5h4.6v4.6h-4.6zm0 14h4.6v4.6h-4.6zm0 5h4.6v4.6h-4.6zm0.5 -64h4.6v4.6h-4.6zm0 18.5h4.6v4.6h-4.6zm0 2h4.6v4.6h-4.6zm0 2.5h4.6v4.6h-4.6zm0 2h4.6v4.6h-4.6zm0 2h4.6v4.6h-4.6zm0 5.5h4.6v4.6h-4.6zm0 1h4.6v4.6h-4.6zm0 3h4.6v4.6h-4.6zm0.5 -14.5h4.6v4.6h-4.6zm0 2.5h4.6v4.6h-4.6zm0 12.5h4.6v4.6h-4.6zm0 0.5h4.6v4.6h-4.6zm0 7.5h4.6v4.6h-4.6zm0 3h4.6v4.6h-4.6zm0 4h4.6v4.6h-4.6zm0 6.5h4.6v4.6h-4.6zm0.5 -31.5h4.6v4.6h-4.6zm0 5.5h4.6v4.6h-4.6zm0 3h4.6v4.6h-4.6zm0 1h4.6v4.6h-4.6zm0 4h4.6v4.6h-4.6zm0 10h4.6v4.6h-4.6zm0 3h4.6v4.6h-4.6zm0 10.5h4.6v4.6h-4.6zm0 10h4.6v4.6h-4.6zm0.5 -48.5h4.6v4.6h-4.6zm0 10h4.6v4.6h-4.6zm0 2h4.6v4.6h-4.6zm0 8h4.6v4.6h-4.6zm0 3.5h4.6v4.6h-4.6zm0 8h4.6v4.6h-4.6zm0.5 -34h4.6v4.6h-4.6zm0 10.5h4.6v4.6h-4.6zm0 1.5h4.6v4.6h-4.6zm0 1h4.6v4.6h-4.6zm0.5 -3h4.6v4.6h-4.6zm0 9h4.6v4.6h-4.6zm0 23.5h4.6v4.6h-4.6zm0.5 -64.5h4.6v4.6h-4.6zm0 26.5h4.6v4.6h-4.6zm0 8h4.6v4.6h-4.6zm0 3.5h4.6v4.6h-4.6zm0 14h4.6v4.6h-4.6zm0 1.5h4.6v4.6h-4.6zm0.5 -13h4.6v4.6h-4.6zm0 3h4.6v4.6h-4.6zm0 5h4.6v4.6h-4.6zm0.5 -37h4.6v4.6h-4.6zm0 10.5h4.6v4.6h-4.6zm0 7.5h4.6v4.6h-4.6zm0 11h4.6v4.6h-4.6zm0 1.5h4.6v4.6h-4.6zm0 0.5h4.6v4.6h-4.6zm0 0.5h4.6v4.6h-4.6zm0 13.5h4.6v4.6h-4.6zm0.5 -34.5h4.6v4.6h-4.6zm0 32h4.6v4.6h-4.6zm0.5 -17h4.6v4.6h-4.6zm0 1.5h4.6v4.6h-4.6zm0 5h4.6v4.6h-4.6zm0.5 -18.5h4.6v4.6h-4.6zm0 12h4.6v4.6h-4.6zm0 2.5h4.6v4.6h-4.6zm0 6h4.6v4.6h-4.6zm0.5 -44h4.6v4.6h-4.6zm0 14h4.6v4.6h-4.6zm0 4.5h4.6v4.6h-4.6zm0 8.5h4.6v4.6h-4.6zm0 17.5h4.6v4.6h-4.6zm0 13h4.6v4.6h-4.6zm0.5 -42h4.6v4.6h-4.6zm0 7h4.6v4.6h-4.6zm0 5h4.6v4.6h-4.6zm0 7.5h4.6v4.6h-4.6zm0 8h4.6v4.6h-4.6zm0 1h4.6v4.6h-4.6zm0 3.5h4.6v4.6h-4.6zm0 13h4.6v4.6h-4.6zm0.5 -28h4.6v4.6h-4.6zm0 10h4.6v4.6h-4.6zm0.5 -17h4.6v4.6h-4.6zm0 11h4.6v4.6h-4.6zm0 19.5h4.6v4.6h-4.6zm0.5 -32.5h4.6v4.6h-4.6zm0 2h4.6v4.6h-4.6zm0 1.5h4.6v4.6h-4.6zm0 6h4.6v4.6h-4.6zm0 9.5h4.6v4.6h-4.6zm0 6h4.6v4.6h-4.6zm0 7h4.6v4.6h-4.6zm0 3.5h4.6v4.6h-4.6zm0.5 -25.5h4.6v4.6h-4.6zm0 9h4.6v4.6h-4.6zm0.5 -28h4.6v4.6h-4.6zm0 16.5h4.6v4.6h-4.6zm0 5h4.6v4.6h-4.6zm0 1h4.6v4.6h-4.6zm0 5.5h4.6v4.6h-4.6zm0.5 12h4.6v4.6h-4.6zm0.5 -33.5h4.6v4.6h-4.6zm0 16h4.6v4.6h-4.6zm0 0.5h4.6v4.6h-4.6zm0 2.5h4.6v4.6h-4.6zm0 11.5h4.6v4.6h-4.6zm0 0.5h4.6v4.6h-4.6zm0.5 -23.5h4.6v4.6h-4.6zm0 5.5h4.6v4.6h-4.6zm0 2.5h4.6v4.6h-4.6zm0 6.5h4.6v4.6h-4.6zm0 10.5h4.6v4.6h-4.6zm0.5 -24.5h4.6v4.6h-4.6zm0 2h4.6v4.6h-4.6zm0 2h4.6v4.6h-4.6zm0.5 1.5h4.6v4.6h-4.6zm0 14.5h4.6v4.6h-4.6zm0.5 -23h4.6v4.6h-4.6zm0 6.5h4.6v4.6h-4.6zm0 7.5h4.6v4.6h-4.6zm0.5 -14.5h4.6v4.6h-4.6zm0 4h4.6v4.6h-4.6zm0 2h4.6v4.6h-4.6zm0 9.5h4.6v4.6h-4.6zm0 16h4.6v4.6h-4.6zm0.5 -27.5h4.6v4.6h-4.6zm0 1h4.6v4.6h-4.6zm0.5 -12h4.6v4.6h-4.6zm0 4h4.6v4.6h-4.6zm0 1.5h4.6v4.6h-4.6zm0 0.5h4.6v4.6h-4.6zm0 1h4.6v4.6h-4.6zm0 11.5h4.6v4.6h-4.6zm0 3h4.6v4.6h-4.6zm0 15.5h4.6v4.6h-4.6zm0.5 -36.5h4.6v4.6h-4.6zm0 18h4.6v4.6h-4.6zm0 0.5h4.6v4.6h-4.6zm0.5 -21h4.6v4.6h-4.6zm0 23h4.6v4.6h-4.6zm0 11h4.6v4.6h-4.6zm0.5 -9.5h4.6v4.6h-4.6zm0 2h4.6v4.6h-4.6zm0.5 -15.5h4.6v4.6h-4.6zm0.5 -19.5h4.6v4.6h-4.6zm0 27h4.6v4.6h-4.6zm0 0.5h4.6v4.6h-4.6zm0 8.5h4.6v4.6h-4.6zm0.5 -44.5h4.6v4.6h-4.6zm0 15.5h4.6v4.6h-4.6zm0 17.5h4.6v4.6h-4.6zm0.5 -11h4.6v4.6h-4.6zm0 22.5h4.6v4.6h-4.6zm1 -22h4.6v4.6h-4.6zm0 1h4.6v4.6h-4.6zm0 19h4.6v4.6h-4.6zm0 7.5h4.6v4.6h-4.6zm0.5 -35.5h4.6v4.6h-4.6zm0 16h4.6v4.6h-4.6zm0 2h4.6v4.6h-4.6zm0 7.5h4.6v4.6h-4.6zm0 5h4.6v4.6h-4.6zm0.5 -15h4.6v4.6h-4.6zm0.5 17.5h4.6v4.6h-4.6zm0.5 -24.5h4.6v4.6h-4.6zm0 19.5h4.6v4.6h-4.6zm0.5 -12h4.6v4.6h-4.6zm0 1h4.6v4.6h-4.6zm0 12.5h4.6v4.6h-4.6zm0.5 8.5h4.6v4.6h-4.6zm0.5 -28.5h4.6v4.6h-4.6zm0 30h4.6v4.6h-4.6zm1 -20h4.6v4.6h-4.6zm0.5 5.5h4.6v4.6h-4.6zm0 14.5h4.6v4.6h-4.6zm0.5 -24.5h4.6v4.6h-4.6zm0.5 -0.5h4.6v4.6h-4.6zm0.5 -16.5h4.6v4.6h-4.6zm1.5 40.5h4.6v4.6h-4.6zm0.5 -30.5h4.6v4.6h-4.6zm0 39h4.6v4.6h-4.6zm0.5 -42.5h4.6v4.6h-4.6zm1.5 -5.5h4.6v4.6h-4.6zm3.5 15h4.6v4.6h-4.6zm0 8h4.6v4.6h-4.6zm4 -37.5h4.6v4.6h-4.6zm0 51h4.6v4.6h-4.6z"/></g>
<g clip-path="url(#cE)"><path fill="#ff00ff" filter="url(#bl)" shape-rendering="auto" d="m751.5 862.5h4.6v4.6h-4.6zm0.5 6.5h4.6v4.6h-4.6zm3 -14.5h4.6v4.6h-4.6zm0 7h4.6v4.6h-4.6zm0 1h4.6v4.6h-4.6zm2 -10.5h4.6v4.6h-4.6zm1 1h4.6v4.6h-4.6zm0.5 4.5h4.6v4.6h-4.6zm0.5 13.5h4.6v4.6h-4.6zm1 -31.5h4.6v4.6h-4.6zm0 17h4.6v4.6h-4.6zm0.5 8h4.6v4.6h-4.6zm1.5 -23h4.6v4.6h-4.6zm0 0.5h4.6v4.6h-4.6zm0 31.5h4.6v4.6h-4.6zm0.5 -11.5h4.6v4.6h-4.6zm0.5 -5h4.6v4.6h-4.6zm0 16h4.6v4.6h-4.6zm0.5 -5h4.6v4.6h-4.6zm0.5 -11.5h4.6v4.6h-4.6zm0 4.5h4.6v4.6h-4.6zm0 1.5h4.6v4.6h-4.6zm0.5 -24.5h4.6v4.6h-4.6zm0.5 8h4.6v4.6h-4.6zm0.5 14.5h4.6v4.6h-4.6zm1 -16h4.6v4.6h-4.6zm0.5 22h4.6v4.6h-4.6zm0 1h4.6v4.6h-4.6zm0.5 -7h4.6v4.6h-4.6zm0.5 -2h4.6v4.6h-4.6zm0 15.5h4.6v4.6h-4.6zm0.5 -17.5h4.6v4.6h-4.6zm0.5 -3.5h4.6v4.6h-4.6zm0.5 -3.5h4.6v4.6h-4.6zm0.5 -5.5h4.6v4.6h-4.6zm0 9.5h4.6v4.6h-4.6zm0 12h4.6v4.6h-4.6zm0 6h4.6v4.6h-4.6zm1 -25h4.6v4.6h-4.6zm0 6.5h4.6v4.6h-4.6zm0 3.5h4.6v4.6h-4.6zm0 13.5h4.6v4.6h-4.6zm0.5 -13.5h4.6v4.6h-4.6zm0 8.5h4.6v4.6h-4.6zm0 5.5h4.6v4.6h-4.6zm0 2h4.6v4.6h-4.6zm1 -25.5h4.6v4.6h-4.6zm0 8.5h4.6v4.6h-4.6zm0 15.5h4.6v4.6h-4.6zm0.5 -3h4.6v4.6h-4.6zm0.5 -22.5h4.6v4.6h-4.6zm0 8.5h4.6v4.6h-4.6zm0.5 -6.5h4.6v4.6h-4.6zm0 2.5h4.6v4.6h-4.6zm0.5 5.5h4.6v4.6h-4.6zm0 6h4.6v4.6h-4.6zm0 8.5h4.6v4.6h-4.6zm0 3.5h4.6v4.6h-4.6zm0.5 -11.5h4.6v4.6h-4.6zm0 5.5h4.6v4.6h-4.6zm0.5 -5.5h4.6v4.6h-4.6zm0 4h4.6v4.6h-4.6zm0.5 -13h4.6v4.6h-4.6zm0 0.5h4.6v4.6h-4.6zm0 0.5h4.6v4.6h-4.6zm0 4.5h4.6v4.6h-4.6zm0 10.5h4.6v4.6h-4.6zm0 8h4.6v4.6h-4.6zm0 1.5h4.6v4.6h-4.6zm0 3h4.6v4.6h-4.6zm0.5 -35h4.6v4.6h-4.6zm0 10.5h4.6v4.6h-4.6zm0 6h4.6v4.6h-4.6zm0.5 -9.5h4.6v4.6h-4.6zm0 0.5h4.6v4.6h-4.6zm0 6.5h4.6v4.6h-4.6zm0 7h4.6v4.6h-4.6zm0 9.5h4.6v4.6h-4.6zm0.5 -25h4.6v4.6h-4.6zm0 6.5h4.6v4.6h-4.6zm0 4h4.6v4.6h-4.6zm0 3.5h4.6v4.6h-4.6zm0.5 -19.5h4.6v4.6h-4.6zm0 2.5h4.6v4.6h-4.6zm0 4.5h4.6v4.6h-4.6zm0 4h4.6v4.6h-4.6zm0.5 -5h4.6v4.6h-4.6zm0 2.5h4.6v4.6h-4.6zm0 4.5h4.6v4.6h-4.6zm0 3.5h4.6v4.6h-4.6zm0 11.5h4.6v4.6h-4.6zm0.5 -19h4.6v4.6h-4.6zm0 7.5h4.6v4.6h-4.6zm0 1.5h4.6v4.6h-4.6zm0 4.5h4.6v4.6h-4.6zm0.5 -9h4.6v4.6h-4.6zm0 1h4.6v4.6h-4.6zm0 1.5h4.6v4.6h-4.6zm0 12h4.6v4.6h-4.6zm0 3.5h4.6v4.6h-4.6zm0.5 -20h4.6v4.6h-4.6zm0 7h4.6v4.6h-4.6zm0 3h4.6v4.6h-4.6zm0 13.5h4.6v4.6h-4.6zm0.5 -22.5h4.6v4.6h-4.6zm0 2.5h4.6v4.6h-4.6zm0 5h4.6v4.6h-4.6zm0.5 -18h4.6v4.6h-4.6zm0 4h4.6v4.6h-4.6zm0 1.5h4.6v4.6h-4.6zm0 3.5h4.6v4.6h-4.6zm0 6.5h4.6v4.6h-4.6zm0 3.5h4.6v4.6h-4.6zm0 2h4.6v4.6h-4.6zm0 3.5h4.6v4.6h-4.6zm0 3.5h4.6v4.6h-4.6zm0 2.5h4.6v4.6h-4.6zm0.5 -26.5h4.6v4.6h-4.6zm0 2.5h4.6v4.6h-4.6zm0 9h4.6v4.6h-4.6zm0 1.5h4.6v4.6h-4.6zm0 6h4.6v4.6h-4.6zm0.5 -58.5h4.6v4.6h-4.6zm0 43h4.6v4.6h-4.6zm0 3h4.6v4.6h-4.6zm0 6h4.6v4.6h-4.6zm0 2.5h4.6v4.6h-4.6zm0.5 -8.5h4.6v4.6h-4.6zm0 4.5h4.6v4.6h-4.6zm0.5 -14h4.6v4.6h-4.6zm0 4.5h4.6v4.6h-4.6zm0 2h4.6v4.6h-4.6zm0 7h4.6v4.6h-4.6zm0 0.5h4.6v4.6h-4.6zm0 11.5h4.6v4.6h-4.6zm0 1.5h4.6v4.6h-4.6zm0 1.5h4.6v4.6h-4.6zm0.5 -29h4.6v4.6h-4.6zm0 3h4.6v4.6h-4.6zm0 9h4.6v4.6h-4.6zm0 2h4.6v4.6h-4.6zm0 4.5h4.6v4.6h-4.6zm0 2.5h4.6v4.6h-4.6zm0 5.5h4.6v4.6h-4.6zm0 12.5h4.6v4.6h-4.6zm0.5 -33.5h4.6v4.6h-4.6zm0 15h4.6v4.6h-4.6zm0.5 -17h4.6v4.6h-4.6zm0 1h4.6v4.6h-4.6zm0 0.5h4.6v4.6h-4.6zm0 1h4.6v4.6h-4.6zm0 10h4.6v4.6h-4.6zm0 7.5h4.6v4.6h-4.6zm0.5 -27h4.6v4.6h-4.6zm0 3.5h4.6v4.6h-4.6zm0 12h4.6v4.6h-4.6zm0 0.5h4.6v4.6h-4.6zm0 0.5h4.6v4.6h-4.6zm0 7h4.6v4.6h-4.6zm0 4.5h4.6v4.6h-4.6zm0 0.5h4.6v4.6h-4.6zm0.5 -26.5h4.6v4.6h-4.6zm0 3.5h4.6v4.6h-4.6zm0 4.5h4.6v4.6h-4.6zm0 3h4.6v4.6h-4.6zm0 0.5h4.6v4.6h-4.6zm0 1.5h4.6v4.6h-4.6zm0 3h4.6v4.6h-4.6zm0 5.5h4.6v4.6h-4.6zm0 2.5h4.6v4.6h-4.6zm0 3h4.6v4.6h-4.6zm0.5 -39.5h4.6v4.6h-4.6zm0 11h4.6v4.6h-4.6zm0 2.5h4.6v4.6h-4.6zm0 5h4.6v4.6h-4.6zm0 8.5h4.6v4.6h-4.6zm0 2h4.6v4.6h-4.6zm0 3.5h4.6v4.6h-4.6zm0 10.5h4.6v4.6h-4.6zm0.5 -31h4.6v4.6h-4.6zm0 8.5h4.6v4.6h-4.6zm0 1h4.6v4.6h-4.6zm0 10.5h4.6v4.6h-4.6zm0 3h4.6v4.6h-4.6zm0 7.5h4.6v4.6h-4.6zm0 8h4.6v4.6h-4.6zm0.5 -39.5h4.6v4.6h-4.6zm0 9h4.6v4.6h-4.6zm0 1.5h4.6v4.6h-4.6zm0 1h4.6v4.6h-4.6zm0 2.5h4.6v4.6h-4.6zm0 1.5h4.6v4.6h-4.6zm0 6.5h4.6v4.6h-4.6zm0 2.5h4.6v4.6h-4.6zm0 1.5h4.6v4.6h-4.6zm0 2h4.6v4.6h-4.6zm0.5 -21h4.6v4.6h-4.6zm0 0.5h4.6v4.6h-4.6zm0 3h4.6v4.6h-4.6zm0 2h4.6v4.6h-4.6zm0 4h4.6v4.6h-4.6zm0 0.5h4.6v4.6h-4.6zm0 1.5h4.6v4.6h-4.6zm0 2.5h4.6v4.6h-4.6zm0 1.5h4.6v4.6h-4.6zm0 1h4.6v4.6h-4.6zm0 1h4.6v4.6h-4.6zm0 2h4.6v4.6h-4.6zm0 3h4.6v4.6h-4.6zm0 1h4.6v4.6h-4.6zm0 3.5h4.6v4.6h-4.6zm0.5 -26h4.6v4.6h-4.6zm0 0.5h4.6v4.6h-4.6zm0 3h4.6v4.6h-4.6zm0 0.5h4.6v4.6h-4.6zm0 1.5h4.6v4.6h-4.6zm0 2h4.6v4.6h-4.6zm0 0.5h4.6v4.6h-4.6zm0 0.5h4.6v4.6h-4.6zm0 1.5h4.6v4.6h-4.6zm0 6h4.6v4.6h-4.6zm0 0.5h4.6v4.6h-4.6zm0 3h4.6v4.6h-4.6zm0 1h4.6v4.6h-4.6zm0 1h4.6v4.6h-4.6zm0 1.5h4.6v4.6h-4.6zm0.5 -28h4.6v4.6h-4.6zm0 2.5h4.6v4.6h-4.6zm0 0.5h4.6v4.6h-4.6zm0 2.5h4.6v4.6h-4.6zm0 8h4.6v4.6h-4.6zm0 0.5h4.6v4.6h-4.6zm0 2h4.6v4.6h-4.6zm0 1h4.6v4.6h-4.6zm0 0.5h4.6v4.6h-4.6zm0 0.5h4.6v4.6h-4.6zm0 9h4.6v4.6h-4.6zm0 3h4.6v4.6h-4.6zm0 2.5h4.6v4.6h-4.6zm0.5 -25.5h4.6v4.6h-4.6zm0 2.5h4.6v4.6h-4.6zm0 1h4.6v4.6h-4.6zm0 3.5h4.6v4.6h-4.6zm0 2.5h4.6v4.6h-4.6zm0 4.5h4.6v4.6h-4.6zm0 2.5h4.6v4.6h-4.6zm0 3h4.6v4.6h-4.6zm0.5 -18h4.6v4.6h-4.6zm0 3.5h4.6v4.6h-4.6zm0 4h4.6v4.6h-4.6zm0 1h4.6v4.6h-4.6zm0 1.5h4.6v4.6h-4.6zm0 1h4.6v4.6h-4.6zm0 1h4.6v4.6h-4.6zm0 10.5h4.6v4.6h-4.6zm0.5 -31.5h4.6v4.6h-4.6zm0 6h4.6v4.6h-4.6zm0 12.5h4.6v4.6h-4.6zm0 2h4.6v4.6h-4.6zm0 1.5h4.6v4.6h-4.6zm0 7h4.6v4.6h-4.6zm0.5 -21h4.6v4.6h-4.6zm0 5.5h4.6v4.6h-4.6zm0 1h4.6v4.6h-4.6zm0 1h4.6v4.6h-4.6zm0 4h4.6v4.6h-4.6zm0 2.5h4.6v4.6h-4.6zm0 0.5h4.6v4.6h-4.6zm0 1h4.6v4.6h-4.6zm0 0.5h4.6v4.6h-4.6zm0 0.5h4.6v4.6h-4.6zm0 4.5h4.6v4.6h-4.6zm0 0.5h4.6v4.6h-4.6zm0 10.5h4.6v4.6h-4.6zm0.5 -29h4.6v4.6h-4.6zm0 0.5h4.6v4.6h-4.6zm0 2h4.6v4.6h-4.6zm0 2h4.6v4.6h-4.6zm0 4.5h4.6v4.6h-4.6zm0 14h4.6v4.6h-4.6zm0 1.5h4.6v4.6h-4.6zm0.5 -30h4.6v4.6h-4.6zm0 2h4.6v4.6h-4.6zm0 0.5h4.6v4.6h-4.6zm0 1h4.6v4.6h-4.6zm0 2.5h4.6v4.6h-4.6zm0 2.5h4.6v4.6h-4.6zm0 2.5h4.6v4.6h-4.6zm0 2.5h4.6v4.6h-4.6zm0 5.5h4.6v4.6h-4.6zm0 2h4.6v4.6h-4.6zm0 1h4.6v4.6h-4.6zm0.5 -23h4.6v4.6h-4.6zm0 1.5h4.6v4.6h-4.6zm0 2.5h4.6v4.6h-4.6zm0 1.5h4.6v4.6h-4.6zm0 4h4.6v4.6h-4.6zm0 3.5h4.6v4.6h-4.6zm0 2.5h4.6v4.6h-4.6zm0 1h4.6v4.6h-4.6zm0 1h4.6v4.6h-4.6zm0 2h4.6v4.6h-4.6zm0 3.5h4.6v4.6h-4.6zm0.5 -33.5h4.6v4.6h-4.6zm0 11.5h4.6v4.6h-4.6zm0 2h4.6v4.6h-4.6zm0 2.5h4.6v4.6h-4.6zm0 1.5h4.6v4.6h-4.6zm0 2.5h4.6v4.6h-4.6zm0 7.5h4.6v4.6h-4.6zm0 0.5h4.6v4.6h-4.6zm0 1h4.6v4.6h-4.6zm0 1.5h4.6v4.6h-4.6zm0 2.5h4.6v4.6h-4.6zm0 2h4.6v4.6h-4.6zm0 2h4.6v4.6h-4.6zm0 3h4.6v4.6h-4.6zm0.5 -29.5h4.6v4.6h-4.6zm0 2h4.6v4.6h-4.6zm0 0.5h4.6v4.6h-4.6zm0 3h4.6v4.6h-4.6zm0 2h4.6v4.6h-4.6zm0 0.5h4.6v4.6h-4.6zm0 2h4.6v4.6h-4.6zm0 0.5h4.6v4.6h-4.6zm0 0.5h4.6v4.6h-4.6zm0 0.5h4.6v4.6h-4.6zm0 1h4.6v4.6h-4.6zm0 0.5h4.6v4.6h-4.6zm0 1h4.6v4.6h-4.6zm0 0.5h4.6v4.6h-4.6zm0 1.5h4.6v4.6h-4.6zm0 1h4.6v4.6h-4.6zm0 2h4.6v4.6h-4.6zm0 2h4.6v4.6h-4.6zm0 6h4.6v4.6h-4.6zm0 4.5h4.6v4.6h-4.6zm0.5 -43.5h4.6v4.6h-4.6zm0 1h4.6v4.6h-4.6zm0 17.5h4.6v4.6h-4.6zm0 0.5h4.6v4.6h-4.6zm0 1h4.6v4.6h-4.6zm0 1.5h4.6v4.6h-4.6zm0 1.5h4.6v4.6h-4.6zm0 1h4.6v4.6h-4.6zm0 3h4.6v4.6h-4.6zm0 7h4.6v4.6h-4.6zm0 7h4.6v4.6h-4.6zm0.5 -37.5h4.6v4.6h-4.6zm0 5h4.6v4.6h-4.6zm0 2h4.6v4.6h-4.6zm0 1h4.6v4.6h-4.6zm0 3.5h4.6v4.6h-4.6zm0 7.5h4.6v4.6h-4.6zm0 2h4.6v4.6h-4.6zm0 2h4.6v4.6h-4.6zm0 0.5h4.6v4.6h-4.6zm0 3h4.6v4.6h-4.6zm0 8.5h4.6v4.6h-4.6zm0 0.5h4.6v4.6h-4.6zm0 3h4.6v4.6h-4.6zm0 3h4.6v4.6h-4.6zm0.5 -43h4.6v4.6h-4.6zm0 11h4.6v4.6h-4.6zm0 1.5h4.6v4.6h-4.6zm0 4.5h4.6v4.6h-4.6zm0 3h4.6v4.6h-4.6zm0 4h4.6v4.6h-4.6zm0 1h4.6v4.6h-4.6zm0 4.5h4.6v4.6h-4.6zm0 4h4.6v4.6h-4.6zm0 0.5h4.6v4.6h-4.6zm0.5 -22.5h4.6v4.6h-4.6zm0 4.5h4.6v4.6h-4.6zm0 2h4.6v4.6h-4.6zm0 2.5h4.6v4.6h-4.6zm0 1.5h4.6v4.6h-4.6zm0 0.5h4.6v4.6h-4.6zm0 0.5h4.6v4.6h-4.6zm0 2h4.6v4.6h-4.6zm0 1h4.6v4.6h-4.6zm0 1.5h4.6v4.6h-4.6zm0 1.5h4.6v4.6h-4.6zm0 0.5h4.6v4.6h-4.6zm0 1h4.6v4.6h-4.6zm0 2.5h4.6v4.6h-4.6zm0 7h4.6v4.6h-4.6zm0.5 -36.5h4.6v4.6h-4.6zm0 1h4.6v4.6h-4.6zm0 0.5h4.6v4.6h-4.6zm0 10h4.6v4.6h-4.6zm0 3.5h4.6v4.6h-4.6zm0 1h4.6v4.6h-4.6zm0 1h4.6v4.6h-4.6zm0 2.5h4.6v4.6h-4.6zm0 1h4.6v4.6h-4.6zm0 1.5h4.6v4.6h-4.6zm0 2h4.6v4.6h-4.6zm0 1h4.6v4.6h-4.6zm0 7h4.6v4.6h-4.6zm0.5 -39h4.6v4.6h-4.6zm0 13h4.6v4.6h-4.6zm0 7.5h4.6v4.6h-4.6zm0 3h4.6v4.6h-4.6zm0 2h4.6v4.6h-4.6zm0 0.5h4.6v4.6h-4.6zm0 0.5h4.6v4.6h-4.6zm0 0.5h4.6v4.6h-4.6zm0 5.5h4.6v4.6h-4.6zm0 6h4.6v4.6h-4.6zm0 0.5h4.6v4.6h-4.6zm0.5 -28h4.6v4.6h-4.6zm0 1.5h4.6v4.6h-4.6zm0 1h4.6v4.6h-4.6zm0 0.5h4.6v4.6h-4.6zm0 11h4.6v4.6h-4.6zm0 0.5h4.6v4.6h-4.6zm0 3.5h4.6v4.6h-4.6zm0 1h4.6v4.6h-4.6zm0 1.5h4.6v4.6h-4.6zm0 3.5h4.6v4.6h-4.6zm0 3h4.6v4.6h-4.6zm0 0.5h4.6v4.6h-4.6zm0 0.5h4.6v4.6h-4.6zm0 9.5h4.6v4.6h-4.6zm0.5 -24.5h4.6v4.6h-4.6zm0 4h4.6v4.6h-4.6zm0 3.5h4.6v4.6h-4.6zm0 4h4.6v4.6h-4.6zm0 8h4.6v4.6h-4.6zm0.5 -31h4.6v4.6h-4.6zm0 6h4.6v4.6h-4.6zm0 6.5h4.6v4.6h-4.6zm0 0.5h4.6v4.6h-4.6zm0 1h4.6v4.6h-4.6zm0 1.5h4.6v4.6h-4.6zm0 1h4.6v4.6h-4.6zm0 1.5h4.6v4.6h-4.6zm0 4.5h4.6v4.6h-4.6zm0 5.5h4.6v4.6h-4.6zm0 4.5h4.6v4.6h-4.6zm0 5h4.6v4.6h-4.6zm0.5 -37h4.6v4.6h-4.6zm0 2.5h4.6v4.6h-4.6zm0 1.5h4.6v4.6h-4.6zm0 2.5h4.6v4.6h-4.6zm0 8h4.6v4.6h-4.6zm0 2h4.6v4.6h-4.6zm0 0.5h4.6v4.6h-4.6zm0 1.5h4.6v4.6h-4.6zm0 1h4.6v4.6h-4.6zm0 1h4.6v4.6h-4.6zm0 0.5h4.6v4.6h-4.6zm0 7.5h4.6v4.6h-4.6zm0 5.5h4.6v4.6h-4.6zm0.5 -33h4.6v4.6h-4.6zm0 2.5h4.6v4.6h-4.6zm0 6h4.6v4.6h-4.6zm0 1h4.6v4.6h-4.6zm0 2h4.6v4.6h-4.6zm0 3.5h4.6v4.6h-4.6zm0 7.5h4.6v4.6h-4.6zm0.5 -28h4.6v4.6h-4.6zm0 6h4.6v4.6h-4.6zm0 2h4.6v4.6h-4.6zm0 2.5h4.6v4.6h-4.6zm0 3.5h4.6v4.6h-4.6zm0 1.5h4.6v4.6h-4.6zm0 8.5h4.6v4.6h-4.6zm0 1.5h4.6v4.6h-4.6zm0 1.5h4.6v4.6h-4.6zm0 0.5h4.6v4.6h-4.6zm0 1.5h4.6v4.6h-4.6zm0 1.5h4.6v4.6h-4.6zm0.5 -24.5h4.6v4.6h-4.6zm0 2h4.6v4.6h-4.6zm0 5.5h4.6v4.6h-4.6zm0 1h4.6v4.6h-4.6zm0 0.5h4.6v4.6h-4.6zm0 2h4.6v4.6h-4.6zm0 6.5h4.6v4.6h-4.6zm0 2.5h4.6v4.6h-4.6zm0 0.5h4.6v4.6h-4.6zm0 3h4.6v4.6h-4.6zm0 1h4.6v4.6h-4.6zm0.5 -34.5h4.6v4.6h-4.6zm0 8h4.6v4.6h-4.6zm0 5.5h4.6v4.6h-4.6zm0 1.5h4.6v4.6h-4.6zm0 3h4.6v4.6h-4.6zm0 1.5h4.6v4.6h-4.6zm0 1.5h4.6v4.6h-4.6zm0 2.5h4.6v4.6h-4.6zm0 0.5h4.6v4.6h-4.6zm0 1h4.6v4.6h-4.6zm0 2.5h4.6v4.6h-4.6zm0 2h4.6v4.6h-4.6zm0 0.5h4.6v4.6h-4.6zm0 1.5h4.6v4.6h-4.6zm0 2h4.6v4.6h-4.6zm0 0.5h4.6v4.6h-4.6zm0 1.5h4.6v4.6h-4.6zm0.5 -39.5h4.6v4.6h-4.6zm0 14.5h4.6v4.6h-4.6zm0 3h4.6v4.6h-4.6zm0 9h4.6v4.6h-4.6zm0 0.5h4.6v4.6h-4.6zm0 0.5h4.6v4.6h-4.6zm0 0.5h4.6v4.6h-4.6zm0 4h4.6v4.6h-4.6zm0 1h4.6v4.6h-4.6zm0 0.5h4.6v4.6h-4.6zm0 0.5h4.6v4.6h-4.6zm0 1.5h4.6v4.6h-4.6zm0 3.5h4.6v4.6h-4.6zm0 2.5h4.6v4.6h-4.6zm0.5 -31h4.6v4.6h-4.6zm0 2h4.6v4.6h-4.6zm0 9.5h4.6v4.6h-4.6zm0 7h4.6v4.6h-4.6zm0 2.5h4.6v4.6h-4.6zm0 3.5h4.6v4.6h-4.6zm0 1.5h4.6v4.6h-4.6zm0.5 -38h4.6v4.6h-4.6zm0 14h4.6v4.6h-4.6zm0 2.5h4.6v4.6h-4.6zm0 3.5h4.6v4.6h-4.6zm0 1.5h4.6v4.6h-4.6zm0 3.5h4.6v4.6h-4.6zm0 1.5h4.6v4.6h-4.6zm0 3h4.6v4.6h-4.6zm0 0.5h4.6v4.6h-4.6zm0 2h4.6v4.6h-4.6zm0 6h4.6v4.6h-4.6zm0 1h4.6v4.6h-4.6zm0 19.5h4.6v4.6h-4.6zm0.5 -43h4.6v4.6h-4.6zm0 0.5h4.6v4.6h-4.6zm0 0.5h4.6v4.6h-4.6zm0 1.5h4.6v4.6h-4.6zm0 5h4.6v4.6h-4.6zm0 3.5h4.6v4.6h-4.6zm0 1.5h4.6v4.6h-4.6zm0 1h4.6v4.6h-4.6zm0 1h4.6v4.6h-4.6zm0 0.5h4.6v4.6h-4.6zm0 2h4.6v4.6h-4.6zm0 11h4.6v4.6h-4.6zm0.5 -27.5h4.6v4.6h-4.6zm0 2.5h4.6v4.6h-4.6zm0 2.5h4.6v4.6h-4.6zm0 5.5h4.6v4.6h-4.6zm0 3h4.6v4.6h-4.6zm0 1.5h4.6v4.6h-4.6zm0 3h4.6v4.6h-4.6zm0 0.5h4.6v4.6h-4.6zm0 6.5h4.6v4.6h-4.6zm0 4h4.6v4.6h-4.6zm0.5 -28.5h4.6v4.6h-4.6zm0 8h4.6v4.6h-4.6zm0 1h4.6v4.6h-4.6zm0 2h4.6v4.6h-4.6zm0 2h4.6v4.6h-4.6zm0 0.5h4.6v4.6h-4.6zm0 3h4.6v4.6h-4.6zm0 1.5h4.6v4.6h-4.6zm0 6.5h4.6v4.6h-4.6zm0 3.5h4.6v4.6h-4.6zm0 2.5h4.6v4.6h-4.6zm0.5 -31.5h4.6v4.6h-4.6zm0 1h4.6v4.6h-4.6zm0 1h4.6v4.6h-4.6zm0 6h4.6v4.6h-4.6zm0 2h4.6v4.6h-4.6zm0 1.5h4.6v4.6h-4.6zm0 1h4.6v4.6h-4.6zm0 1.5h4.6v4.6h-4.6zm0 3h4.6v4.6h-4.6zm0 1h4.6v4.6h-4.6zm0 0.5h4.6v4.6h-4.6zm0 1h4.6v4.6h-4.6zm0 4h4.6v4.6h-4.6zm0 2h4.6v4.6h-4.6zm0 2.5h4.6v4.6h-4.6zm0 1h4.6v4.6h-4.6zm0 4h4.6v4.6h-4.6zm0.5 -36.5h4.6v4.6h-4.6zm0 3.5h4.6v4.6h-4.6zm0 1.5h4.6v4.6h-4.6zm0 2h4.6v4.6h-4.6zm0 2h4.6v4.6h-4.6zm0 2h4.6v4.6h-4.6zm0 1h4.6v4.6h-4.6zm0 1h4.6v4.6h-4.6zm0 3h4.6v4.6h-4.6zm0 0.5h4.6v4.6h-4.6zm0 1h4.6v4.6h-4.6zm0 1.5h4.6v4.6h-4.6zm0 1.5h4.6v4.6h-4.6zm0 3.5h4.6v4.6h-4.6zm0 4h4.6v4.6h-4.6zm0 0.5h4.6v4.6h-4.6zm0 5h4.6v4.6h-4.6zm0.5 -41.5h4.6v4.6h-4.6zm0 9.5h4.6v4.6h-4.6zm0 8h4.6v4.6h-4.6zm0 1h4.6v4.6h-4.6zm0 4h4.6v4.6h-4.6zm0 0.5h4.6v4.6h-4.6zm0 1h4.6v4.6h-4.6zm0 1h4.6v4.6h-4.6zm0 2h4.6v4.6h-4.6zm0 5.5h4.6v4.6h-4.6zm0 2h4.6v4.6h-4.6zm0 0.5h4.6v4.6h-4.6zm0 3h4.6v4.6h-4.6zm0 1h4.6v4.6h-4.6zm0 1.5h4.6v4.6h-4.6zm0 1.5h4.6v4.6h-4.6zm0.5 -33.5h4.6v4.6h-4.6zm0 12.5h4.6v4.6h-4.6zm0 1.5h4.6v4.6h-4.6zm0 2h4.6v4.6h-4.6zm0 2.5h4.6v4.6h-4.6zm0 0.5h4.6v4.6h-4.6zm0 1.5h4.6v4.6h-4.6zm0 1.5h4.6v4.6h-4.6zm0 1h4.6v4.6h-4.6zm0 4h4.6v4.6h-4.6zm0 1h4.6v4.6h-4.6zm0 10.5h4.6v4.6h-4.6zm0.5 -39h4.6v4.6h-4.6zm0 2.5h4.6v4.6h-4.6zm0 1.5h4.6v4.6h-4.6zm0 2h4.6v4.6h-4.6zm0 4h4.6v4.6h-4.6zm0 2h4.6v4.6h-4.6zm0 2.5h4.6v4.6h-4.6zm0 0.5h4.6v4.6h-4.6zm0 0.5h4.6v4.6h-4.6zm0 1.5h4.6v4.6h-4.6zm0 2h4.6v4.6h-4.6zm0 1.5h4.6v4.6h-4.6zm0 1.5h4.6v4.6h-4.6zm0 0.5h4.6v4.6h-4.6zm0 4h4.6v4.6h-4.6zm0 2.5h4.6v4.6h-4.6zm0 3.5h4.6v4.6h-4.6zm0 3.5h4.6v4.6h-4.6zm0.5 -33h4.6v4.6h-4.6zm0 2h4.6v4.6h-4.6zm0 4.5h4.6v4.6h-4.6zm0 0.5h4.6v4.6h-4.6zm0 2h4.6v4.6h-4.6zm0 1h4.6v4.6h-4.6zm0 6.5h4.6v4.6h-4.6zm0 1.5h4.6v4.6h-4.6zm0 1h4.6v4.6h-4.6zm0 1.5h4.6v4.6h-4.6zm0 2h4.6v4.6h-4.6zm0 1h4.6v4.6h-4.6zm0 4h4.6v4.6h-4.6zm0 0.5h4.6v4.6h-4.6zm0.5 -27.5h4.6v4.6h-4.6zm0 3h4.6v4.6h-4.6zm0 1.5h4.6v4.6h-4.6zm0 0.5h4.6v4.6h-4.6zm0 2.5h4.6v4.6h-4.6zm0 1.5h4.6v4.6h-4.6zm0 0.5h4.6v4.6h-4.6zm0 6.5h4.6v4.6h-4.6zm0 1.5h4.6v4.6h-4.6zm0 3h4.6v4.6h-4.6zm0 5.5h4.6v4.6h-4.6zm0 4h4.6v4.6h-4.6zm0.5 -32.5h4.6v4.6h-4.6zm0 9h4.6v4.6h-4.6zm0 3.5h4.6v4.6h-4.6zm0 4.5h4.6v4.6h-4.6zm0 1.5h4.6v4.6h-4.6zm0 0.5h4.6v4.6h-4.6zm0 1.5h4.6v4.6h-4.6zm0 1h4.6v4.6h-4.6zm0 1h4.6v4.6h-4.6zm0 3h4.6v4.6h-4.6zm0 0.5h4.6v4.6h-4.6zm0 5.5h4.6v4.6h-4.6zm0.5 -35.5h4.6v4.6h-4.6zm0 9h4.6v4.6h-4.6zm0 3.5h4.6v4.6h-4.6zm0 7h4.6v4.6h-4.6zm0 1h4.6v4.6h-4.6zm0 1.5h4.6v4.6h-4.6zm0 3.5h4.6v4.6h-4.6zm0 2.5h4.6v4.6h-4.6zm0 1.5h4.6v4.6h-4.6zm0 14.5h4.6v4.6h-4.6zm0.5 -45h4.6v4.6h-4.6zm0 4.5h4.6v4.6h-4.6zm0 1h4.6v4.6h-4.6zm0 3.5h4.6v4.6h-4.6zm0 3.5h4.6v4.6h-4.6zm0 2.5h4.6v4.6h-4.6zm0 3h4.6v4.6h-4.6zm0 1h4.6v4.6h-4.6zm0 4h4.6v4.6h-4.6zm0 1h4.6v4.6h-4.6zm0 2.5h4.6v4.6h-4.6zm0 1.5h4.6v4.6h-4.6zm0 17.5h4.6v4.6h-4.6zm0.5 -35.5h4.6v4.6h-4.6zm0 5.5h4.6v4.6h-4.6zm0 3h4.6v4.6h-4.6zm0 0.5h4.6v4.6h-4.6zm0 7h4.6v4.6h-4.6zm0 1h4.6v4.6h-4.6zm0 1.5h4.6v4.6h-4.6zm0 1h4.6v4.6h-4.6zm0 0.5h4.6v4.6h-4.6zm0 1.5h4.6v4.6h-4.6zm0 5.5h4.6v4.6h-4.6zm0 2.5h4.6v4.6h-4.6zm0.5 -33h4.6v4.6h-4.6zm0 6.5h4.6v4.6h-4.6zm0 1h4.6v4.6h-4.6zm0 0.5h4.6v4.6h-4.6zm0 1h4.6v4.6h-4.6zm0 4h4.6v4.6h-4.6zm0 1.5h4.6v4.6h-4.6zm0 1h4.6v4.6h-4.6zm0 2h4.6v4.6h-4.6zm0 2.5h4.6v4.6h-4.6zm0 6h4.6v4.6h-4.6zm0 6.5h4.6v4.6h-4.6zm0.5 -23h4.6v4.6h-4.6zm0 3h4.6v4.6h-4.6zm0 1.5h4.6v4.6h-4.6zm0 0.5h4.6v4.6h-4.6zm0 0.5h4.6v4.6h-4.6zm0 3h4.6v4.6h-4.6zm0 1h4.6v4.6h-4.6zm0 0.5h4.6v4.6h-4.6zm0 1.5h4.6v4.6h-4.6zm0 1h4.6v4.6h-4.6zm0 3h4.6v4.6h-4.6zm0 2h4.6v4.6h-4.6zm0 7h4.6v4.6h-4.6zm0.5 -32h4.6v4.6h-4.6zm0 0.5h4.6v4.6h-4.6zm0 4.5h4.6v4.6h-4.6zm0 2.5h4.6v4.6h-4.6zm0 5.5h4.6v4.6h-4.6zm0 0.5h4.6v4.6h-4.6zm0 0.5h4.6v4.6h-4.6zm0 1.5h4.6v4.6h-4.6zm0 3.5h4.6v4.6h-4.6zm0 2h4.6v4.6h-4.6zm0 2.5h4.6v4.6h-4.6zm0 1.5h4.6v4.6h-4.6zm0 3.5h4.6v4.6h-4.6zm0 0.5h4.6v4.6h-4.6zm0.5 -30.5h4.6v4.6h-4.6zm0 12h4.6v4.6h-4.6zm0 0.5h4.6v4.6h-4.6zm0 7h4.6v4.6h-4.6zm0 6h4.6v4.6h-4.6zm0 0.5h4.6v4.6h-4.6zm0 4.5h4.6v4.6h-4.6zm0 2h4.6v4.6h-4.6zm0 3h4.6v4.6h-4.6zm0.5 -35h4.6v4.6h-4.6zm0 2h4.6v4.6h-4.6zm0 5.5h4.6v4.6h-4.6zm0 0.5h4.6v4.6h-4.6zm0 2.5h4.6v4.6h-4.6zm0 4h4.6v4.6h-4.6zm0 0.5h4.6v4.6h-4.6zm0 0.5h4.6v4.6h-4.6zm0 1.5h4.6v4.6h-4.6zm0 0.5h4.6v4.6h-4.6zm0 2h4.6v4.6h-4.6zm0 1.5h4.6v4.6h-4.6zm0 1h4.6v4.6h-4.6zm0 0.5h4.6v4.6h-4.6zm0 0.5h4.6v4.6h-4.6zm0 6.5h4.6v4.6h-4.6zm0 3h4.6v4.6h-4.6zm0.5 -31.5h4.6v4.6h-4.6zm0 6h4.6v4.6h-4.6zm0 3.5h4.6v4.6h-4.6zm0 4h4.6v4.6h-4.6zm0 1h4.6v4.6h-4.6zm0 0.5h4.6v4.6h-4.6zm0 0.5h4.6v4.6h-4.6zm0 2h4.6v4.6h-4.6zm0 1h4.6v4.6h-4.6zm0 1h4.6v4.6h-4.6zm0 2h4.6v4.6h-4.6zm0 5h4.6v4.6h-4.6zm0 0.5h4.6v4.6h-4.6zm0 1h4.6v4.6h-4.6zm0 1.5h4.6v4.6h-4.6zm0 0.5h4.6v4.6h-4.6zm0 4.5h4.6v4.6h-4.6zm0.5 -28.5h4.6v4.6h-4.6zm0 5.5h4.6v4.6h-4.6zm0 3.5h4.6v4.6h-4.6zm0 1h4.6v4.6h-4.6zm0 2h4.6v4.6h-4.6zm0 3.5h4.6v4.6h-4.6zm0 1.5h4.6v4.6h-4.6zm0 2.5h4.6v4.6h-4.6zm0 5h4.6v4.6h-4.6zm0 3h4.6v4.6h-4.6zm0.5 -34.5h4.6v4.6h-4.6zm0 4h4.6v4.6h-4.6zm0 1.5h4.6v4.6h-4.6zm0 2h4.6v4.6h-4.6zm0 5h4.6v4.6h-4.6zm0 1h4.6v4.6h-4.6zm0 1h4.6v4.6h-4.6zm0 1h4.6v4.6h-4.6zm0 1h4.6v4.6h-4.6zm0 0.5h4.6v4.6h-4.6zm0 1h4.6v4.6h-4.6zm0 0.5h4.6v4.6h-4.6zm0 1h4.6v4.6h-4.6zm0 2.5h4.6v4.6h-4.6zm0 0.5h4.6v4.6h-4.6zm0 0.5h4.6v4.6h-4.6zm0 4h4.6v4.6h-4.6zm0 0.5h4.6v4.6h-4.6zm0 0.5h4.6v4.6h-4.6zm0 0.5h4.6v4.6h-4.6zm0 2.5h4.6v4.6h-4.6zm0 1.5h4.6v4.6h-4.6zm0.5 -36.5h4.6v4.6h-4.6zm0 3h4.6v4.6h-4.6zm0 7h4.6v4.6h-4.6zm0 1h4.6v4.6h-4.6zm0 7h4.6v4.6h-4.6zm0 3h4.6v4.6h-4.6zm0 0.5h4.6v4.6h-4.6zm0 2h4.6v4.6h-4.6zm0 1.5h4.6v4.6h-4.6zm0 1h4.6v4.6h-4.6zm0 7h4.6v4.6h-4.6zm0 1.5h4.6v4.6h-4.6zm0 3.5h4.6v4.6h-4.6zm0 3h4.6v4.6h-4.6zm0.5 -30h4.6v4.6h-4.6zm0 2h4.6v4.6h-4.6zm0 2.5h4.6v4.6h-4.6zm0 1.5h4.6v4.6h-4.6zm0 1.5h4.6v4.6h-4.6zm0 1h4.6v4.6h-4.6zm0 0.5h4.6v4.6h-4.6zm0 0.5h4.6v4.6h-4.6zm0 1.5h4.6v4.6h-4.6zm0 0.5h4.6v4.6h-4.6zm0 2.5h4.6v4.6h-4.6zm0 2.5h4.6v4.6h-4.6zm0 4.5h4.6v4.6h-4.6zm0 0.5h4.6v4.6h-4.6zm0 3h4.6v4.6h-4.6zm0 0.5h4.6v4.6h-4.6zm0.5 -29.5h4.6v4.6h-4.6zm0 1h4.6v4.6h-4.6zm0 7.5h4.6v4.6h-4.6zm0 2h4.6v4.6h-4.6zm0 5.5h4.6v4.6h-4.6zm0 2.5h4.6v4.6h-4.6zm0 1h4.6v4.6h-4.6zm0 1.5h4.6v4.6h-4.6zm0 0.5h4.6v4.6h-4.6zm0 2.5h4.6v4.6h-4.6zm0 3.5h4.6v4.6h-4.6zm0 3.5h4.6v4.6h-4.6zm0 1.5h4.6v4.6h-4.6zm0 4h4.6v4.6h-4.6zm0.5 -35h4.6v4.6h-4.6zm0 3h4.6v4.6h-4.6zm0 1h4.6v4.6h-4.6zm0 3h4.6v4.6h-4.6zm0 1h4.6v4.6h-4.6zm0 1.5h4.6v4.6h-4.6zm0 1.5h4.6v4.6h-4.6zm0 0.5h4.6v4.6h-4.6zm0 2h4.6v4.6h-4.6zm0 0.5h4.6v4.6h-4.6zm0 0.5h4.6v4.6h-4.6zm0 5h4.6v4.6h-4.6zm0 3.5h4.6v4.6h-4.6zm0 2h4.6v4.6h-4.6zm0 1.5h4.6v4.6h-4.6zm0 2.5h4.6v4.6h-4.6zm0 0.5h4.6v4.6h-4.6zm0 4h4.6v4.6h-4.6zm0.5 -26h4.6v4.6h-4.6zm0 1h4.6v4.6h-4.6zm0 0.5h4.6v4.6h-4.6zm0 1.5h4.6v4.6h-4.6zm0 2h4.6v4.6h-4.6zm0 1h4.6v4.6h-4.6zm0 2h4.6v4.6h-4.6zm0 1.5h4.6v4.6h-4.6zm0 1h4.6v4.6h-4.6zm0 0.5h4.6v4.6h-4.6zm0 1h4.6v4.6h-4.6zm0 1h4.6v4.6h-4.6zm0 3h4.6v4.6h-4.6zm0 0.5h4.6v4.6h-4.6zm0 2h4.6v4.6h-4.6zm0 3h4.6v4.6h-4.6zm0 3h4.6v4.6h-4.6zm0 2h4.6v4.6h-4.6zm0.5 -36.5h4.6v4.6h-4.6zm0 8h4.6v4.6h-4.6zm0 0.5h4.6v4.6h-4.6zm0 3.5h4.6v4.6h-4.6zm0 5h4.6v4.6h-4.6zm0 2.5h4.6v4.6h-4.6zm0 1.5h4.6v4.6h-4.6zm0 4.5h4.6v4.6h-4.6zm0 0.5h4.6v4.6h-4.6zm0 1.5h4.6v4.6h-4.6zm0 2.5h4.6v4.6h-4.6zm0.5 -34.5h4.6v4.6h-4.6zm0 3h4.6v4.6h-4.6zm0 16.5h4.6v4.6h-4.6zm0 1h4.6v4.6h-4.6zm0 3.5h4.6v4.6h-4.6zm0 2h4.6v4.6h-4.6zm0 0.5h4.6v4.6h-4.6zm0 1.5h4.6v4.6h-4.6zm0 4h4.6v4.6h-4.6zm0 2.5h4.6v4.6h-4.6zm0 4.5h4.6v4.6h-4.6zm0 0.5h4.6v4.6h-4.6zm0 3.5h4.6v4.6h-4.6zm0.5 -34.5h4.6v4.6h-4.6zm0 5h4.6v4.6h-4.6zm0 1.5h4.6v4.6h-4.6zm0 0.5h4.6v4.6h-4.6zm0 2h4.6v4.6h-4.6zm0 2h4.6v4.6h-4.6zm0 1h4.6v4.6h-4.6zm0 1h4.6v4.6h-4.6zm0 1.5h4.6v4.6h-4.6zm0 0.5h4.6v4.6h-4.6zm0 1.5h4.6v4.6h-4.6zm0 2.5h4.6v4.6h-4.6zm0 1.5h4.6v4.6h-4.6zm0 2h4.6v4.6h-4.6zm0 2.5h4.6v4.6h-4.6zm0 1h4.6v4.6h-4.6zm0 3h4.6v4.6h-4.6zm0 4h4.6v4.6h-4.6zm0.5 -38h4.6v4.6h-4.6zm0 9h4.6v4.6h-4.6zm0 3h4.6v4.6h-4.6zm0 0.5h4.6v4.6h-4.6zm0 6.5h4.6v4.6h-4.6zm0 1h4.6v4.6h-4.6zm0 1h4.6v4.6h-4.6zm0 1h4.6v4.6h-4.6zm0 2.5h4.6v4.6h-4.6zm0 0.5h4.6v4.6h-4.6zm0 2h4.6v4.6h-4.6zm0 0.5h4.6v4.6h-4.6zm0 3.5h4.6v4.6h-4.6zm0 0.5h4.6v4.6h-4.6zm0 1h4.6v4.6h-4.6zm0 2.5h4.6v4.6h-4.6zm0.5 -40.5h4.6v4.6h-4.6zm0 5h4.6v4.6h-4.6zm0 5.5h4.6v4.6h-4.6zm0 5h4.6v4.6h-4.6zm0 2h4.6v4.6h-4.6zm0 1.5h4.6v4.6h-4.6zm0 2h4.6v4.6h-4.6zm0 2.5h4.6v4.6h-4.6zm0 1.5h4.6v4.6h-4.6zm0 2.5h4.6v4.6h-4.6zm0 1h4.6v4.6h-4.6zm0 3h4.6v4.6h-4.6zm0 0.5h4.6v4.6h-4.6zm0 0.5h4.6v4.6h-4.6zm0 0.5h4.6v4.6h-4.6zm0 2h4.6v4.6h-4.6zm0 3.5h4.6v4.6h-4.6zm0 1.5h4.6v4.6h-4.6zm0 1.5h4.6v4.6h-4.6zm0.5 -38h4.6v4.6h-4.6zm0 2h4.6v4.6h-4.6zm0 4h4.6v4.6h-4.6zm0 6h4.6v4.6h-4.6zm0 3h4.6v4.6h-4.6zm0 0.5h4.6v4.6h-4.6zm0 0.5h4.6v4.6h-4.6zm0 1.5h4.6v4.6h-4.6zm0 0.5h4.6v4.6h-4.6zm0 2h4.6v4.6h-4.6zm0 0.5h4.6v4.6h-4.6zm0 5.5h4.6v4.6h-4.6zm0 1h4.6v4.6h-4.6zm0 0.5h4.6v4.6h-4.6zm0 3.5h4.6v4.6h-4.6zm0 0.5h4.6v4.6h-4.6zm0 6.5h4.6v4.6h-4.6zm0.5 -39h4.6v4.6h-4.6zm0 5.5h4.6v4.6h-4.6zm0 2h4.6v4.6h-4.6zm0 1h4.6v4.6h-4.6zm0 2h4.6v4.6h-4.6zm0 4.5h4.6v4.6h-4.6zm0 3.5h4.6v4.6h-4.6zm0 3h4.6v4.6h-4.6zm0 1h4.6v4.6h-4.6zm0 2h4.6v4.6h-4.6zm0 2h4.6v4.6h-4.6zm0 0.5h4.6v4.6h-4.6zm0 1h4.6v4.6h-4.6zm0 0.5h4.6v4.6h-4.6zm0 2h4.6v4.6h-4.6zm0 2h4.6v4.6h-4.6zm0 0.5h4.6v4.6h-4.6zm0 3h4.6v4.6h-4.6zm0 0.5h4.6v4.6h-4.6zm0.5 -21.5h4.6v4.6h-4.6zm0 3h4.6v4.6h-4.6zm0 2h4.6v4.6h-4.6zm0 3h4.6v4.6h-4.6zm0 0.5h4.6v4.6h-4.6zm0 2.5h4.6v4.6h-4.6zm0 0.5h4.6v4.6h-4.6zm0 1h4.6v4.6h-4.6zm0 4h4.6v4.6h-4.6zm0 1h4.6v4.6h-4.6zm0 0.5h4.6v4.6h-4.6zm0 2.5h4.6v4.6h-4.6zm0 1.5h4.6v4.6h-4.6zm0 1h4.6v4.6h-4.6zm0 4h4.6v4.6h-4.6zm0.5 -32.5h4.6v4.6h-4.6zm0 6.5h4.6v4.6h-4.6zm0 1h4.6v4.6h-4.6zm0 7h4.6v4.6h-4.6zm0 3h4.6v4.6h-4.6zm0 1h4.6v4.6h-4.6zm0 1h4.6v4.6h-4.6zm0 1.5h4.6v4.6h-4.6zm0 0.5h4.6v4.6h-4.6zm0 4h4.6v4.6h-4.6zm0 0.5h4.6v4.6h-4.6zm0 0.5h4.6v4.6h-4.6zm0.5 -21.5h4.6v4.6h-4.6zm0 3.5h4.6v4.6h-4.6zm0 0.5h4.6v4.6h-4.6zm0 0.5h4.6v4.6h-4.6zm0 3.5h4.6v4.6h-4.6zm0 5h4.6v4.6h-4.6zm0 0.5h4.6v4.6h-4.6zm0 4h4.6v4.6h-4.6zm0 1.5h4.6v4.6h-4.6zm0 1h4.6v4.6h-4.6zm0 2.5h4.6v4.6h-4.6zm0.5 -28.5h4.6v4.6h-4.6zm0 2h4.6v4.6h-4.6zm0 1h4.6v4.6h-4.6zm0 4.5h4.6v4.6h-4.6zm0 1.5h4.6v4.6h-4.6zm0 2h4.6v4.6h-4.6zm0 3.5h4.6v4.6h-4.6zm0 1h4.6v4.6h-4.6zm0 2h4.6v4.6h-4.6zm0 8h4.6v4.6h-4.6zm0 1h4.6v4.6h-4.6zm0.5 -27h4.6v4.6h-4.6zm0 1.5h4.6v4.6h-4.6zm0 6h4.6v4.6h-4.6zm0 0.5h4.6v4.6h-4.6zm0 2h4.6v4.6h-4.6zm0 0.5h4.6v4.6h-4.6zm0 1.5h4.6v4.6h-4.6zm0 0.5h4.6v4.6h-4.6zm0 4h4.6v4.6h-4.6zm0 3h4.6v4.6h-4.6zm0 0.5h4.6v4.6h-4.6zm0 0.5h4.6v4.6h-4.6zm0 1.5h4.6v4.6h-4.6zm0 3.5h4.6v4.6h-4.6zm0 1h4.6v4.6h-4.6zm0 3h4.6v4.6h-4.6zm0 1.5h4.6v4.6h-4.6zm0 1.5h4.6v4.6h-4.6zm0 4.5h4.6v4.6h-4.6zm0.5 -48.5h4.6v4.6h-4.6zm0 9h4.6v4.6h-4.6zm0 8.5h4.6v4.6h-4.6zm0 0.5h4.6v4.6h-4.6zm0 13h4.6v4.6h-4.6zm0 1h4.6v4.6h-4.6zm0 2h4.6v4.6h-4.6zm0 7h4.6v4.6h-4.6zm0 1.5h4.6v4.6h-4.6zm0 2.5h4.6v4.6h-4.6zm0.5 -57h4.6v4.6h-4.6zm0 20h4.6v4.6h-4.6zm0 11h4.6v4.6h-4.6zm0 4.5h4.6v4.6h-4.6zm0 1h4.6v4.6h-4.6zm0 3.5h4.6v4.6h-4.6zm0 3.5h4.6v4.6h-4.6zm0 2h4.6v4.6h-4.6zm0 1.5h4.6v4.6h-4.6zm0 1.5h4.6v4.6h-4.6zm0 0.5h4.6v4.6h-4.6zm0 3h4.6v4.6h-4.6zm0 1h4.6v4.6h-4.6zm0 0.5h4.6v4.6h-4.6zm0 3h4.6v4.6h-4.6zm0.5 -31h4.6v4.6h-4.6zm0 1h4.6v4.6h-4.6zm0 8.5h4.6v4.6h-4.6zm0 1h4.6v4.6h-4.6zm0 1.5h4.6v4.6h-4.6zm0 6h4.6v4.6h-4.6zm0 1h4.6v4.6h-4.6zm0 2.5h4.6v4.6h-4.6zm0 0.5h4.6v4.6h-4.6zm0 1h4.6v4.6h-4.6zm0 3h4.6v4.6h-4.6zm0 0.5h4.6v4.6h-4.6zm0.5 -20.5h4.6v4.6h-4.6zm0 2h4.6v4.6h-4.6zm0 0.5h4.6v4.6h-4.6zm0 3.5h4.6v4.6h-4.6zm0 4h4.6v4.6h-4.6zm0 3.5h4.6v4.6h-4.6zm0 2.5h4.6v4.6h-4.6zm0 0.5h4.6v4.6h-4.6zm0 2.5h4.6v4.6h-4.6zm0 0.5h4.6v4.6h-4.6zm0 6h4.6v4.6h-4.6zm0.5 -32h4.6v4.6h-4.6zm0 7.5h4.6v4.6h-4.6zm0 4h4.6v4.6h-4.6zm0 6.5h4.6v4.6h-4.6zm0 3h4.6v4.6h-4.6zm0 2.5h4.6v4.6h-4.6zm0 6h4.6v4.6h-4.6zm0.5 -29h4.6v4.6h-4.6zm0 7h4.6v4.6h-4.6zm0 1h4.6v4.6h-4.6zm0 1.5h4.6v4.6h-4.6zm0 0.5h4.6v4.6h-4.6zm0 2.5h4.6v4.6h-4.6zm0 1h4.6v4.6h-4.6zm0 2h4.6v4.6h-4.6zm0 1h4.6v4.6h-4.6zm0 1h4.6v4.6h-4.6zm0 2.5h4.6v4.6h-4.6zm0 2h4.6v4.6h-4.6zm0 8h4.6v4.6h-4.6zm0.5 -36h4.6v4.6h-4.6zm0 9h4.6v4.6h-4.6zm0 0.5h4.6v4.6h-4.6zm0 6.5h4.6v4.6h-4.6zm0 1h4.6v4.6h-4.6zm0 3h4.6v4.6h-4.6zm0 1h4.6v4.6h-4.6zm0 1.5h4.6v4.6h-4.6zm0 0.5h4.6v4.6h-4.6zm0 3.5h4.6v4.6h-4.6zm0 1h4.6v4.6h-4.6zm0 1h4.6v4.6h-4.6zm0 1h4.6v4.6h-4.6zm0 1h4.6v4.6h-4.6zm0 5.5h4.6v4.6h-4.6zm0 0.5h4.6v4.6h-4.6zm0.5 -31h4.6v4.6h-4.6zm0 3.5h4.6v4.6h-4.6zm0 1h4.6v4.6h-4.6zm0 5.5h4.6v4.6h-4.6zm0 1h4.6v4.6h-4.6zm0 1h4.6v4.6h-4.6zm0 2.5h4.6v4.6h-4.6zm0 5.5h4.6v4.6h-4.6zm0 6.5h4.6v4.6h-4.6zm0 2.5h4.6v4.6h-4.6zm0.5 -31h4.6v4.6h-4.6zm0 10.5h4.6v4.6h-4.6zm0 1h4.6v4.6h-4.6zm0 2.5h4.6v4.6h-4.6zm0 2.5h4.6v4.6h-4.6zm0 1.5h4.6v4.6h-4.6zm0 1.5h4.6v4.6h-4.6zm0 12.5h4.6v4.6h-4.6zm0.5 -17h4.6v4.6h-4.6zm0 0.5h4.6v4.6h-4.6zm0 1h4.6v4.6h-4.6zm0 4.5h4.6v4.6h-4.6zm0 7h4.6v4.6h-4.6zm0.5 -34h4.6v4.6h-4.6zm0 10.5h4.6v4.6h-4.6zm0 7h4.6v4.6h-4.6zm0 1h4.6v4.6h-4.6zm0 3h4.6v4.6h-4.6zm0 1.5h4.6v4.6h-4.6zm0 1.5h4.6v4.6h-4.6zm0 0.5h4.6v4.6h-4.6zm0 8h4.6v4.6h-4.6zm0 1.5h4.6v4.6h-4.6zm0 3.5h4.6v4.6h-4.6zm0 1h4.6v4.6h-4.6zm0 3h4.6v4.6h-4.6zm0.5 -21.5h4.6v4.6h-4.6zm0 5h4.6v4.6h-4.6zm0 6h4.6v4.6h-4.6zm0 1h4.6v4.6h-4.6zm0 4.5h4.6v4.6h-4.6zm0.5 -29h4.6v4.6h-4.6zm0 1.5h4.6v4.6h-4.6zm0 1h4.6v4.6h-4.6zm0 9h4.6v4.6h-4.6zm0 15.5h4.6v4.6h-4.6zm0 5h4.6v4.6h-4.6zm0 2h4.6v4.6h-4.6zm0.5 -22.5h4.6v4.6h-4.6zm0 1h4.6v4.6h-4.6zm0 8h4.6v4.6h-4.6zm0 1h4.6v4.6h-4.6zm0 1.5h4.6v4.6h-4.6zm0 1h4.6v4.6h-4.6zm0 0.5h4.6v4.6h-4.6zm0 1h4.6v4.6h-4.6zm0 4.5h4.6v4.6h-4.6zm0 0.5h4.6v4.6h-4.6zm0.5 -30h4.6v4.6h-4.6zm0 4.5h4.6v4.6h-4.6zm0 3.5h4.6v4.6h-4.6zm0 6.5h4.6v4.6h-4.6zm0 3h4.6v4.6h-4.6zm0 1.5h4.6v4.6h-4.6zm0 13h4.6v4.6h-4.6zm0.5 -20.5h4.6v4.6h-4.6zm0 3h4.6v4.6h-4.6zm0 3.5h4.6v4.6h-4.6zm0 1h4.6v4.6h-4.6zm0 3.5h4.6v4.6h-4.6zm0 1h4.6v4.6h-4.6zm0 2h4.6v4.6h-4.6zm0.5 -25.5h4.6v4.6h-4.6zm0 5.5h4.6v4.6h-4.6zm0 4.5h4.6v4.6h-4.6zm0 3.5h4.6v4.6h-4.6zm0 0.5h4.6v4.6h-4.6zm0 10.5h4.6v4.6h-4.6zm0 8.5h4.6v4.6h-4.6zm0.5 -33.5h4.6v4.6h-4.6zm0 7h4.6v4.6h-4.6zm0 7.5h4.6v4.6h-4.6zm0 1h4.6v4.6h-4.6zm0 1h4.6v4.6h-4.6zm0 3h4.6v4.6h-4.6zm0 14.5h4.6v4.6h-4.6zm0 4.5h4.6v4.6h-4.6zm0.5 -29.5h4.6v4.6h-4.6zm0 15.5h4.6v4.6h-4.6zm0 1.5h4.6v4.6h-4.6zm0 2h4.6v4.6h-4.6zm0 7h4.6v4.6h-4.6zm0.5 -26h4.6v4.6h-4.6zm0 2h4.6v4.6h-4.6zm0 2.5h4.6v4.6h-4.6zm0 6h4.6v4.6h-4.6zm0 4h4.6v4.6h-4.6zm0.5 -19.5h4.6v4.6h-4.6zm0 1h4.6v4.6h-4.6zm0 1.5h4.6v4.6h-4.6zm0 2h4.6v4.6h-4.6zm0 7.5h4.6v4.6h-4.6zm0 0.5h4.6v4.6h-4.6zm0 1h4.6v4.6h-4.6zm0 7.5h4.6v4.6h-4.6zm0 4h4.6v4.6h-4.6zm0 8.5h4.6v4.6h-4.6zm0.5 -20h4.6v4.6h-4.6zm0 0.5h4.6v4.6h-4.6zm0 5h4.6v4.6h-4.6zm0 12h4.6v4.6h-4.6zm0.5 -23.5h4.6v4.6h-4.6zm0 7h4.6v4.6h-4.6zm0 5.5h4.6v4.6h-4.6zm0 5.5h4.6v4.6h-4.6zm0 0.5h4.6v4.6h-4.6zm0.5 -44h4.6v4.6h-4.6zm0 20.5h4.6v4.6h-4.6zm0 6.5h4.6v4.6h-4.6zm0 3.5h4.6v4.6h-4.6zm0 3.5h4.6v4.6h-4.6zm0 9h4.6v4.6h-4.6zm0.5 -25.5h4.6v4.6h-4.6zm0 6.5h4.6v4.6h-4.6zm0 16.5h4.6v4.6h-4.6zm0.5 -28h4.6v4.6h-4.6zm0 7h4.6v4.6h-4.6zm0 3.5h4.6v4.6h-4.6zm0 5h4.6v4.6h-4.6zm0 4h4.6v4.6h-4.6zm0.5 -26.5h4.6v4.6h-4.6zm0 17.5h4.6v4.6h-4.6zm0 22h4.6v4.6h-4.6zm0.5 -4h4.6v4.6h-4.6zm0 6.5h4.6v4.6h-4.6zm0 0.5h4.6v4.6h-4.6zm0.5 -33h4.6v4.6h-4.6zm0 16.5h4.6v4.6h-4.6zm0 3h4.6v4.6h-4.6zm0 5h4.6v4.6h-4.6zm0.5 -1.5h4.6v4.6h-4.6zm0 1.5h4.6v4.6h-4.6zm0.5 -13h4.6v4.6h-4.6zm0.5 -0.5h4.6v4.6h-4.6zm0 2h4.6v4.6h-4.6zm0.5 -11.5h4.6v4.6h-4.6zm0 8h4.6v4.6h-4.6zm0 1h4.6v4.6h-4.6zm0 10h4.6v4.6h-4.6zm0 2h4.6v4.6h-4.6zm0 13.5h4.6v4.6h-4.6zm0.5 -16.5h4.6v4.6h-4.6zm0.5 -18h4.6v4.6h-4.6zm0 18h4.6v4.6h-4.6zm0 4h4.6v4.6h-4.6zm1 -19h4.6v4.6h-4.6zm0 11h4.6v4.6h-4.6zm1 3h4.6v4.6h-4.6zm1 9.5h4.6v4.6h-4.6zm0.5 -16h4.6v4.6h-4.6zm1.5 7.5h4.6v4.6h-4.6zm0.5 -42.5h4.6v4.6h-4.6zm0 44.5h4.6v4.6h-4.6zm1 -31h4.6v4.6h-4.6zm0 18h4.6v4.6h-4.6zm0 8h4.6v4.6h-4.6zm0 40.5h4.6v4.6h-4.6zm0.5 -36.5h4.6v4.6h-4.6zm0.5 -22.5h4.6v4.6h-4.6zm0 10.5h4.6v4.6h-4.6zm0.5 8.5h4.6v4.6h-4.6zm0.5 -7h4.6v4.6h-4.6zm0 5h4.6v4.6h-4.6zm0.5 -4h4.6v4.6h-4.6zm0 5.5h4.6v4.6h-4.6zm0.5 -4.5h4.6v4.6h-4.6zm0 8h4.6v4.6h-4.6zm0.5 -3h4.6v4.6h-4.6zm0 1.5h4.6v4.6h-4.6zm0 1.5h4.6v4.6h-4.6zm1.5 3.5h4.6v4.6h-4.6zm0.5 -8h4.6v4.6h-4.6zm0.5 -3.5h4.6v4.6h-4.6zm0.5 0.5h4.6v4.6h-4.6zm0 2.5h4.6v4.6h-4.6zm1 7h4.6v4.6h-4.6zm1 -22.5h4.6v4.6h-4.6zm0.5 -0.5h4.6v4.6h-4.6zm0 8h4.6v4.6h-4.6zm0 1.5h4.6v4.6h-4.6zm1 20.5h4.6v4.6h-4.6zm0.5 -23.5h4.6v4.6h-4.6zm1 -11.5h4.6v4.6h-4.6zm0 20h4.6v4.6h-4.6zm0.5 -24.5h4.6v4.6h-4.6zm0 18h4.6v4.6h-4.6zm0.5 13.5h4.6v4.6h-4.6zm0.5 -15h4.6v4.6h-4.6zm1 -2h4.6v4.6h-4.6zm0 6h4.6v4.6h-4.6zm1 6.5h4.6v4.6h-4.6zm0.5 0.5h4.6v4.6h-4.6zm2 -26.5h4.6v4.6h-4.6z"/></g>
<g clip-path="url(#cE)"><path fill="#808080" filter="url(#bl)" shape-rendering="auto" d="m762 858.5h4.6v4.6h-4.6z"/></g>
<rect x="836.5" y="581.0" width="4.0" height="359.0" fill="#000"/>
<rect x="706.0" y="788.6" width="353.0" height="3.8" fill="#000"/>
<text transform="translate(714,622) scale(0.96,1.095)" font-family='"Liberation Sans", Arial, sans-serif' font-weight="bold" font-size="35" text-anchor="start" fill="#000">1.2%</text>
<rect x="983.0" y="589.0" width="76.7" height="38.7" fill="#fff"/>
<text transform="translate(1058,622) scale(0.96,1.095)" font-family='"Liberation Sans", Arial, sans-serif' font-weight="bold" font-size="35" text-anchor="end" fill="#000">0.0%</text>
<rect x="711.0" y="888.0" width="97.0" height="37.0" fill="#fff"/>
<text transform="translate(712,921) scale(0.96,1.095)" font-family='"Liberation Sans", Arial, sans-serif' font-weight="bold" font-size="35" text-anchor="start" fill="#000">72.5%</text>
<text transform="translate(1056,921) scale(0.96,1.095)" font-family='"Liberation Sans", Arial, sans-serif' font-weight="bold" font-size="35" text-anchor="end" fill="#000">26.3%</text>
<rect x="1279.0" y="580.0" width="6.0" height="365.0" fill="#000"/>
<rect x="1279.0" y="939.0" width="359.0" height="6.0" fill="#000"/>
<rect x="1279.0" y="580.0" width="359.0" height="4.0" fill="#000"/>
<rect x="1634.0" y="580.0" width="4.0" height="365.0" fill="#000"/>
<rect x="1312.0" y="942.0" width="4.0" height="19.0" fill="#000"/>
<rect x="1332.0" y="942.0" width="8.0" height="19.0" fill="#000"/>
<rect x="1356.0" y="942.0" width="4.0" height="19.0" fill="#000"/>
<rect x="1437.5" y="942.0" width="4.0" height="19.0" fill="#000"/>
<rect x="1522.0" y="942.0" width="4.0" height="19.0" fill="#000"/>
<rect x="1601.0" y="942.0" width="4.0" height="19.0" fill="#000"/>
<rect x="1312.0" y="942.0" width="48.0" height="10.0" fill="#000"/>
<rect x="1296.3" y="942.0" width="3.4" height="10.5" fill="#000"/>
<rect x="1372.3" y="942.0" width="3.4" height="10.5" fill="#000"/>
<rect x="1388.7" y="942.0" width="3.4" height="10.5" fill="#000"/>
<rect x="1399.0" y="942.0" width="3.4" height="10.5" fill="#000"/>
<rect x="1406.9" y="942.0" width="3.4" height="10.5" fill="#000"/>
<rect x="1415.3" y="942.0" width="3.4" height="10.5" fill="#000"/>
<rect x="1420.9" y="942.0" width="3.4" height="10.5" fill="#000"/>
<rect x="1426.3" y="942.0" width="3.4" height="10.5" fill="#000"/>
<rect x="1432.3" y="942.0" width="3.4" height="10.5" fill="#000"/>
<rect x="1463.2" y="942.0" width="3.4" height="10.5" fill="#000"/>
<rect x="1546.1" y="942.0" width="3.4" height="10.5" fill="#000"/>
<rect x="1478.1" y="942.0" width="3.4" height="10.5" fill="#000"/>
<rect x="1560.0" y="942.0" width="3.4" height="10.5" fill="#000"/>
<rect x="1488.7" y="942.0" width="3.4" height="10.5" fill="#000"/>
<rect x="1569.9" y="942.0" width="3.4" height="10.5" fill="#000"/>
<rect x="1496.9" y="942.0" width="3.4" height="10.5" fill="#000"/>
<rect x="1577.5" y="942.0" width="3.4" height="10.5" fill="#000"/>
<rect x="1503.6" y="942.0" width="3.4" height="10.5" fill="#000"/>
<rect x="1583.8" y="942.0" width="3.4" height="10.5" fill="#000"/>
<rect x="1509.2" y="942.0" width="3.4" height="10.5" fill="#000"/>
<rect x="1589.1" y="942.0" width="3.4" height="10.5" fill="#000"/>
<rect x="1514.1" y="942.0" width="3.4" height="10.5" fill="#000"/>
<rect x="1593.6" y="942.0" width="3.4" height="10.5" fill="#000"/>
<rect x="1518.4" y="942.0" width="3.4" height="10.5" fill="#000"/>
<rect x="1597.7" y="942.0" width="3.4" height="10.5" fill="#000"/>
<rect x="1625.1" y="942.0" width="3.4" height="10.5" fill="#000"/>
<rect x="1263.0" y="906.0" width="19.0" height="4.0" fill="#000"/>
<rect x="1263.0" y="883.0" width="19.0" height="8.0" fill="#000"/>
<rect x="1263.0" y="864.4" width="19.0" height="4.0" fill="#000"/>
<rect x="1263.0" y="781.0" width="19.0" height="4.0" fill="#000"/>
<rect x="1263.0" y="696.0" width="19.0" height="4.0" fill="#000"/>
<rect x="1263.0" y="614.3" width="19.0" height="4.0" fill="#000"/>
<rect x="1272.0" y="883.0" width="10.0" height="27.0" fill="#000"/>
<rect x="1271.5" y="926.3" width="10.5" height="3.4" fill="#000"/>
<rect x="1271.5" y="845.5" width="10.5" height="3.4" fill="#000"/>
<rect x="1271.5" y="830.8" width="10.5" height="3.4" fill="#000"/>
<rect x="1271.5" y="818.4" width="10.5" height="3.4" fill="#000"/>
<rect x="1271.5" y="806.9" width="10.5" height="3.4" fill="#000"/>
<rect x="1271.5" y="799.2" width="10.5" height="3.4" fill="#000"/>
<rect x="1271.5" y="793.5" width="10.5" height="3.4" fill="#000"/>
<rect x="1271.5" y="787.8" width="10.5" height="3.4" fill="#000"/>
<rect x="1271.5" y="784.3" width="10.5" height="3.4" fill="#000"/>
<rect x="1271.5" y="755.7" width="10.5" height="3.4" fill="#000"/>
<rect x="1271.5" y="671.7" width="10.5" height="3.4" fill="#000"/>
<rect x="1271.5" y="740.7" width="10.5" height="3.4" fill="#000"/>
<rect x="1271.5" y="657.3" width="10.5" height="3.4" fill="#000"/>
<rect x="1271.5" y="730.1" width="10.5" height="3.4" fill="#000"/>
<rect x="1271.5" y="647.1" width="10.5" height="3.4" fill="#000"/>
<rect x="1271.5" y="721.9" width="10.5" height="3.4" fill="#000"/>
<rect x="1271.5" y="639.2" width="10.5" height="3.4" fill="#000"/>
<rect x="1271.5" y="715.2" width="10.5" height="3.4" fill="#000"/>
<rect x="1271.5" y="632.7" width="10.5" height="3.4" fill="#000"/>
<rect x="1271.5" y="709.5" width="10.5" height="3.4" fill="#000"/>
<rect x="1271.5" y="627.3" width="10.5" height="3.4" fill="#000"/>
<rect x="1271.5" y="704.5" width="10.5" height="3.4" fill="#000"/>
<rect x="1271.5" y="622.5" width="10.5" height="3.4" fill="#000"/>
<rect x="1271.5" y="700.2" width="10.5" height="3.4" fill="#000"/>
<rect x="1271.5" y="618.3" width="10.5" height="3.4" fill="#000"/>
<rect x="1271.5" y="590.0" width="10.5" height="3.4" fill="#000"/>
<text x="1315.0" y="1001.3" font-family='"Liberation Sans", Arial, sans-serif' font-size="25.5" text-anchor="middle" fill="#111">-10<tspan dy="-15.3" font-size="20">2</tspan></text>
<text x="1440.0" y="1001.3" font-family='"Liberation Sans", Arial, sans-serif' font-size="25.5" text-anchor="middle" fill="#111">10<tspan dy="-15.3" font-size="20">3</tspan></text>
<text x="1524.5" y="1001.3" font-family='"Liberation Sans", Arial, sans-serif' font-size="25.5" text-anchor="middle" fill="#111">10<tspan dy="-15.3" font-size="20">4</tspan></text>
<text x="1603.5" y="1001.3" font-family='"Liberation Sans", Arial, sans-serif' font-size="25.5" text-anchor="middle" fill="#111">10<tspan dy="-15.3" font-size="20">5</tspan></text>
<text x="1259.4" y="919.2" font-family='"Liberation Sans", Arial, sans-serif' font-size="25.5" text-anchor="end" fill="#111">-10<tspan dy="-16.6" font-size="20">2</tspan></text>
<text x="1257.4" y="794.2" font-family='"Liberation Sans", Arial, sans-serif' font-size="25.5" text-anchor="end" fill="#111">10<tspan dy="-16.6" font-size="20">3</tspan></text>
<text x="1257.4" y="709.2" font-family='"Liberation Sans", Arial, sans-serif' font-size="25.5" text-anchor="end" fill="#111">10<tspan dy="-16.6" font-size="20">4</tspan></text>
<text x="1257.4" y="627.5" font-family='"Liberation Sans", Arial, sans-serif' font-size="25.5" text-anchor="end" fill="#111">10<tspan dy="-16.6" font-size="20">5</tspan></text>
<text transform="translate(1460,1039) scale(0.983,1)" font-family='"Liberation Sans", Arial, sans-serif' font-size="33.5" text-anchor="middle" fill="#111">CD16 V450-A</text>
<text transform="translate(1178.5,763) rotate(-90) scale(1.01,1)" font-family='"Liberation Sans", Arial, sans-serif' font-size="33.5" text-anchor="middle" fill="#111">CD56 APC-A</text>
<text transform="translate(1143.3,562.6) scale(0.8,1)" font-family='"Liberation Sans", Arial, sans-serif' font-size="44" fill="#000" stroke="#000" stroke-width="0.7">F</text>
<clipPath id="cF"><rect x="1285" y="584.5" width="349" height="354"/></clipPath>
<g clip-path="url(#cF)"><path fill="#787878" filter="url(#bl)" shape-rendering="auto" d="m1325.5 658h4.6v4.6h-4.6zm2.5 36.5h4.6v4.6h-4.6zm0 37.5h4.6v4.6h-4.6zm2 -93h4.6v4.6h-4.6zm10 8h4.6v4.6h-4.6zm0 19.5h4.6v4.6h-4.6zm0 37.5h4.6v4.6h-4.6zm1.5 -28.5h4.6v4.6h-4.6zm7 27.5h4.6v4.6h-4.6zm2 -70h4.6v4.6h-4.6zm2 134.5h4.6v4.6h-4.6zm7 46.5h4.6v4.6h-4.6zm9.5 -49.5h4.6v4.6h-4.6zm1 116h4.6v4.6h-4.6zm1.5 -145.5h4.6v4.6h-4.6zm7.5 122.5h4.6v4.6h-4.6zm3.5 -5h4.6v4.6h-4.6zm13 -138.5h4.6v4.6h-4.6zm6.5 -55.5h4.6v4.6h-4.6zm6.5 194h4.6v4.6h-4.6zm4.5 -225h4.6v4.6h-4.6zm11.5 11h4.6v4.6h-4.6zm14.5 168h4.6v4.6h-4.6zm13 -119h4.6v4.6h-4.6zm9 0h4.6v4.6h-4.6zm18.5 19h4.6v4.6h-4.6zm1.5 -4.5h4.6v4.6h-4.6zm7.5 155.5h4.6v4.6h-4.6zm5.5 -113.5h4.6v4.6h-4.6zm4 85.5h4.6v4.6h-4.6zm4 -106.5h4.6v4.6h-4.6zm0.5 86.5h4.6v4.6h-4.6zm3 -135.5h4.6v4.6h-4.6zm2 86h4.6v4.6h-4.6zm0.5 -10h4.6v4.6h-4.6zm4 -59.5h4.6v4.6h-4.6zm1.5 -47h4.6v4.6h-4.6zm0 74h4.6v4.6h-4.6zm2.5 -59.5h4.6v4.6h-4.6zm0 62.5h4.6v4.6h-4.6zm2 -11h4.6v4.6h-4.6zm0 15.5h4.6v4.6h-4.6zm2 5.5h4.6v4.6h-4.6zm1.5 -33.5h4.6v4.6h-4.6zm0 79h4.6v4.6h-4.6zm3.5 -27.5h4.6v4.6h-4.6zm1.5 -22.5h4.6v4.6h-4.6zm8 -34h4.6v4.6h-4.6zm1 77.5h4.6v4.6h-4.6zm2 -86h4.6v4.6h-4.6zm3.5 9.5h4.6v4.6h-4.6zm0 19.5h4.6v4.6h-4.6zm1.5 19h4.6v4.6h-4.6zm0.5 -42.5h4.6v4.6h-4.6zm2.5 17.5h4.6v4.6h-4.6zm8 30h4.6v4.6h-4.6z"/></g>
<g clip-path="url(#cF)"><path fill="#0000ff" filter="url(#bl)" shape-rendering="auto" d="m1304.5 828h4.6v4.6h-4.6zm5.5 -6.5h4.6v4.6h-4.6zm1 49.5h4.6v4.6h-4.6zm8 -120h4.6v4.6h-4.6zm5.5 -51h4.6v4.6h-4.6zm6.5 101h4.6v4.6h-4.6zm0 1h4.6v4.6h-4.6zm4 -70h4.6v4.6h-4.6zm0 74.5h4.6v4.6h-4.6zm1.5 -41.5h4.6v4.6h-4.6zm0 23h4.6v4.6h-4.6zm1 -92.5h4.6v4.6h-4.6zm1.5 16.5h4.6v4.6h-4.6zm1 56h4.6v4.6h-4.6zm1.5 14h4.6v4.6h-4.6zm0.5 -75h4.6v4.6h-4.6zm0 89h4.6v4.6h-4.6zm0 0.5h4.6v4.6h-4.6zm2 24h4.6v4.6h-4.6zm1 -32h4.6v4.6h-4.6zm1 -87.5h4.6v4.6h-4.6zm0 113h4.6v4.6h-4.6zm2.5 3h4.6v4.6h-4.6zm1 -157.5h4.6v4.6h-4.6zm0 94h4.6v4.6h-4.6zm3 57h4.6v4.6h-4.6zm2.5 -102h4.6v4.6h-4.6zm0.5 77.5h4.6v4.6h-4.6zm1.5 -7h4.6v4.6h-4.6zm1 -76h4.6v4.6h-4.6zm0 181h4.6v4.6h-4.6zm2.5 -160.5h4.6v4.6h-4.6zm1 145h4.6v4.6h-4.6zm2 -130.5h4.6v4.6h-4.6zm0 102h4.6v4.6h-4.6zm0 35h4.6v4.6h-4.6zm2 -199.5h4.6v4.6h-4.6zm0 42h4.6v4.6h-4.6zm0.5 12h4.6v4.6h-4.6zm4 -62h4.6v4.6h-4.6zm0 58.5h4.6v4.6h-4.6zm1.5 87h4.6v4.6h-4.6zm1 53.5h4.6v4.6h-4.6zm2 4.5h4.6v4.6h-4.6zm1 -75h4.6v4.6h-4.6zm0 0.5h4.6v4.6h-4.6zm1.5 -47.5h4.6v4.6h-4.6zm0 123h4.6v4.6h-4.6zm1 -31.5h4.6v4.6h-4.6zm1 34.5h4.6v4.6h-4.6zm1 -138.5h4.6v4.6h-4.6zm2.5 65h4.6v4.6h-4.6zm3 25.5h4.6v4.6h-4.6zm2.5 33h4.6v4.6h-4.6zm2 -151h4.6v4.6h-4.6zm0 35h4.6v4.6h-4.6zm1 108.5h4.6v4.6h-4.6zm1 25h4.6v4.6h-4.6zm2.5 -68h4.6v4.6h-4.6zm0 16.5h4.6v4.6h-4.6zm2 34h4.6v4.6h-4.6zm2 -11h4.6v4.6h-4.6zm4.5 26h4.6v4.6h-4.6zm8 -178h4.6v4.6h-4.6zm1 148h4.6v4.6h-4.6zm1.5 -71h4.6v4.6h-4.6zm0 12h4.6v4.6h-4.6zm0.5 77h4.6v4.6h-4.6zm1 12h4.6v4.6h-4.6zm2.5 -8.5h4.6v4.6h-4.6zm1 -112h4.6v4.6h-4.6zm10.5 117.5h4.6v4.6h-4.6zm11.5 -151.5h4.6v4.6h-4.6zm1 28.5h4.6v4.6h-4.6zm0 88.5h4.6v4.6h-4.6zm7.5 -144.5h4.6v4.6h-4.6zm29 149h4.6v4.6h-4.6z"/></g>
<g clip-path="url(#cF)"><path fill="#ff00ff" filter="url(#bl)" shape-rendering="auto" d="m1299 858h4.6v4.6h-4.6zm0 5h4.6v4.6h-4.6zm0 1.5h4.6v4.6h-4.6zm0.5 -12h4.6v4.6h-4.6zm0 26.5h4.6v4.6h-4.6zm0.5 -36.5h4.6v4.6h-4.6zm0 3h4.6v4.6h-4.6zm0 2h4.6v4.6h-4.6zm0 1h4.6v4.6h-4.6zm0 18h4.6v4.6h-4.6zm0.5 -24.5h4.6v4.6h-4.6zm0.5 0h4.6v4.6h-4.6zm0.5 0.5h4.6v4.6h-4.6zm0 3h4.6v4.6h-4.6zm0 10.5h4.6v4.6h-4.6zm0 2.5h4.6v4.6h-4.6zm0 2.5h4.6v4.6h-4.6zm0 2.5h4.6v4.6h-4.6zm0.5 -26h4.6v4.6h-4.6zm0 6.5h4.6v4.6h-4.6zm0 3h4.6v4.6h-4.6zm0 8.5h4.6v4.6h-4.6zm0 7.5h4.6v4.6h-4.6zm0 4.5h4.6v4.6h-4.6zm0 8h4.6v4.6h-4.6zm0.5 -47.5h4.6v4.6h-4.6zm0 6.5h4.6v4.6h-4.6zm0 8h4.6v4.6h-4.6zm0 1.5h4.6v4.6h-4.6zm0 6.5h4.6v4.6h-4.6zm0 16h4.6v4.6h-4.6zm0 11.5h4.6v4.6h-4.6zm0.5 -34h4.6v4.6h-4.6zm0 9.5h4.6v4.6h-4.6zm0 13h4.6v4.6h-4.6zm0.5 -32h4.6v4.6h-4.6zm0 7h4.6v4.6h-4.6zm0 1.5h4.6v4.6h-4.6zm0 10h4.6v4.6h-4.6zm0.5 -21.5h4.6v4.6h-4.6zm0 1.5h4.6v4.6h-4.6zm0 1h4.6v4.6h-4.6zm0 16h4.6v4.6h-4.6zm0 1.5h4.6v4.6h-4.6zm0 5h4.6v4.6h-4.6zm0 4h4.6v4.6h-4.6zm0 8.5h4.6v4.6h-4.6zm0.5 -32h4.6v4.6h-4.6zm0 5.5h4.6v4.6h-4.6zm0 1h4.6v4.6h-4.6zm0 1.5h4.6v4.6h-4.6zm0 27h4.6v4.6h-4.6zm0.5 -29h4.6v4.6h-4.6zm0 15h4.6v4.6h-4.6zm0 1h4.6v4.6h-4.6zm0 0.5h4.6v4.6h-4.6zm0.5 -21.5h4.6v4.6h-4.6zm0 27h4.6v4.6h-4.6zm0 7h4.6v4.6h-4.6zm0.5 -22.5h4.6v4.6h-4.6zm0 1.5h4.6v4.6h-4.6zm0 3h4.6v4.6h-4.6zm0 12.5h4.6v4.6h-4.6zm0 2.5h4.6v4.6h-4.6zm0 12h4.6v4.6h-4.6zm0.5 -36h4.6v4.6h-4.6zm0 8h4.6v4.6h-4.6zm0 5h4.6v4.6h-4.6zm0 1h4.6v4.6h-4.6zm0 1h4.6v4.6h-4.6zm0 6h4.6v4.6h-4.6zm0 16.5h4.6v4.6h-4.6zm0.5 -42h4.6v4.6h-4.6zm0 8h4.6v4.6h-4.6zm0 1.5h4.6v4.6h-4.6zm0 7.5h4.6v4.6h-4.6zm0 2h4.6v4.6h-4.6zm0 7h4.6v4.6h-4.6zm0 10.5h4.6v4.6h-4.6zm0.5 -41h4.6v4.6h-4.6zm0 3h4.6v4.6h-4.6zm0 0.5h4.6v4.6h-4.6zm0 4h4.6v4.6h-4.6zm0 1h4.6v4.6h-4.6zm0 3.5h4.6v4.6h-4.6zm0 2h4.6v4.6h-4.6zm0 11h4.6v4.6h-4.6zm0 2h4.6v4.6h-4.6zm0 17h4.6v4.6h-4.6zm0.5 -53h4.6v4.6h-4.6zm0 9h4.6v4.6h-4.6zm0 7.5h4.6v4.6h-4.6zm0 7h4.6v4.6h-4.6zm0 1.5h4.6v4.6h-4.6zm0 3h4.6v4.6h-4.6zm0 6h4.6v4.6h-4.6zm0 6h4.6v4.6h-4.6zm0 10.5h4.6v4.6h-4.6zm0.5 -40.5h4.6v4.6h-4.6zm0 12h4.6v4.6h-4.6zm0 2h4.6v4.6h-4.6zm0 1.5h4.6v4.6h-4.6zm0 7h4.6v4.6h-4.6zm0 0.5h4.6v4.6h-4.6zm0 5h4.6v4.6h-4.6zm0 3h4.6v4.6h-4.6zm0 11.5h4.6v4.6h-4.6zm0.5 -30.5h4.6v4.6h-4.6zm0 9h4.6v4.6h-4.6zm0 0.5h4.6v4.6h-4.6zm0 2h4.6v4.6h-4.6zm0 3.5h4.6v4.6h-4.6zm0 2h4.6v4.6h-4.6zm0 3.5h4.6v4.6h-4.6zm0 6h4.6v4.6h-4.6zm0.5 -44h4.6v4.6h-4.6zm0 5.5h4.6v4.6h-4.6zm0 22h4.6v4.6h-4.6zm0 8.5h4.6v4.6h-4.6zm0.5 -45.5h4.6v4.6h-4.6zm0 14h4.6v4.6h-4.6zm0 8.5h4.6v4.6h-4.6zm0 3h4.6v4.6h-4.6zm0 2.5h4.6v4.6h-4.6zm0 3h4.6v4.6h-4.6zm0 4h4.6v4.6h-4.6zm0 3h4.6v4.6h-4.6zm0 1h4.6v4.6h-4.6zm0 9.5h4.6v4.6h-4.6zm0.5 -17h4.6v4.6h-4.6zm0 9h4.6v4.6h-4.6zm0 2h4.6v4.6h-4.6zm0 5.5h4.6v4.6h-4.6zm0 0.5h4.6v4.6h-4.6zm0 1h4.6v4.6h-4.6zm0 0.5h4.6v4.6h-4.6zm0.5 -39h4.6v4.6h-4.6zm0 8.5h4.6v4.6h-4.6zm0 6h4.6v4.6h-4.6zm0 0.5h4.6v4.6h-4.6zm0 5h4.6v4.6h-4.6zm0 3h4.6v4.6h-4.6zm0 5.5h4.6v4.6h-4.6zm0 2.5h4.6v4.6h-4.6zm0.5 -40.5h4.6v4.6h-4.6zm0 19h4.6v4.6h-4.6zm0 17h4.6v4.6h-4.6zm0 3.5h4.6v4.6h-4.6zm0 3h4.6v4.6h-4.6zm0 4h4.6v4.6h-4.6zm0 5.5h4.6v4.6h-4.6zm0.5 -170.5h4.6v4.6h-4.6zm0 126.5h4.6v4.6h-4.6zm0 3.5h4.6v4.6h-4.6zm0 5.5h4.6v4.6h-4.6zm0 3h4.6v4.6h-4.6zm0 0.5h4.6v4.6h-4.6zm0 2h4.6v4.6h-4.6zm0 6.5h4.6v4.6h-4.6zm0 1h4.6v4.6h-4.6zm0 3h4.6v4.6h-4.6zm0 2.5h4.6v4.6h-4.6zm0 1h4.6v4.6h-4.6zm0 6h4.6v4.6h-4.6zm0 8.5h4.6v4.6h-4.6zm0.5 -25h4.6v4.6h-4.6zm0 2h4.6v4.6h-4.6zm0 21h4.6v4.6h-4.6zm0 5.5h4.6v4.6h-4.6zm0.5 -35.5h4.6v4.6h-4.6zm0 2h4.6v4.6h-4.6zm0 3.5h4.6v4.6h-4.6zm0 3h4.6v4.6h-4.6zm0 6.5h4.6v4.6h-4.6zm0 2.5h4.6v4.6h-4.6zm0 0.5h4.6v4.6h-4.6zm0 1h4.6v4.6h-4.6zm0 2h4.6v4.6h-4.6zm0 4.5h4.6v4.6h-4.6zm0 0.5h4.6v4.6h-4.6zm0 1h4.6v4.6h-4.6zm0 5h4.6v4.6h-4.6zm0.5 -44.5h4.6v4.6h-4.6zm0 5h4.6v4.6h-4.6zm0 12h4.6v4.6h-4.6zm0 7h4.6v4.6h-4.6zm0 2h4.6v4.6h-4.6zm0 4h4.6v4.6h-4.6zm0 4.5h4.6v4.6h-4.6zm0 2.5h4.6v4.6h-4.6zm0.5 -21.5h4.6v4.6h-4.6zm0 1.5h4.6v4.6h-4.6zm0 2.5h4.6v4.6h-4.6zm0 0.5h4.6v4.6h-4.6zm0 3.5h4.6v4.6h-4.6zm0 0.5h4.6v4.6h-4.6zm0 1h4.6v4.6h-4.6zm0 2.5h4.6v4.6h-4.6zm0 1h4.6v4.6h-4.6zm0 3h4.6v4.6h-4.6zm0 1h4.6v4.6h-4.6zm0 2.5h4.6v4.6h-4.6zm0 3h4.6v4.6h-4.6zm0.5 -37h4.6v4.6h-4.6zm0 1h4.6v4.6h-4.6zm0 1h4.6v4.6h-4.6zm0 3.5h4.6v4.6h-4.6zm0 10.5h4.6v4.6h-4.6zm0 1.5h4.6v4.6h-4.6zm0 4h4.6v4.6h-4.6zm0 1.5h4.6v4.6h-4.6zm0 0.5h4.6v4.6h-4.6zm0 2h4.6v4.6h-4.6zm0 2.5h4.6v4.6h-4.6zm0 3h4.6v4.6h-4.6zm0 2h4.6v4.6h-4.6zm0 1h4.6v4.6h-4.6zm0 3.5h4.6v4.6h-4.6zm0 1.5h4.6v4.6h-4.6zm0 7.5h4.6v4.6h-4.6zm0.5 -47.5h4.6v4.6h-4.6zm0 1h4.6v4.6h-4.6zm0 3.5h4.6v4.6h-4.6zm0 3h4.6v4.6h-4.6zm0 3.5h4.6v4.6h-4.6zm0 5h4.6v4.6h-4.6zm0 1h4.6v4.6h-4.6zm0 2h4.6v4.6h-4.6zm0 3h4.6v4.6h-4.6zm0 1h4.6v4.6h-4.6zm0 2.5h4.6v4.6h-4.6zm0 4.5h4.6v4.6h-4.6zm0 4h4.6v4.6h-4.6zm0 2.5h4.6v4.6h-4.6zm0 2.5h4.6v4.6h-4.6zm0 4h4.6v4.6h-4.6zm0 0.5h4.6v4.6h-4.6zm0.5 -56h4.6v4.6h-4.6zm0 11h4.6v4.6h-4.6zm0 4h4.6v4.6h-4.6zm0 6.5h4.6v4.6h-4.6zm0 0.5h4.6v4.6h-4.6zm0 1h4.6v4.6h-4.6zm0 1h4.6v4.6h-4.6zm0 13h4.6v4.6h-4.6zm0 2h4.6v4.6h-4.6zm0 18h4.6v4.6h-4.6zm0 1h4.6v4.6h-4.6zm0 6.5h4.6v4.6h-4.6zm0.5 -60h4.6v4.6h-4.6zm0 3h4.6v4.6h-4.6zm0 5.5h4.6v4.6h-4.6zm0 3h4.6v4.6h-4.6zm0 8.5h4.6v4.6h-4.6zm0 2h4.6v4.6h-4.6zm0 2h4.6v4.6h-4.6zm0 0.5h4.6v4.6h-4.6zm0 0.5h4.6v4.6h-4.6zm0 8.5h4.6v4.6h-4.6zm0 4.5h4.6v4.6h-4.6zm0 1.5h4.6v4.6h-4.6zm0 2.5h4.6v4.6h-4.6zm0 2h4.6v4.6h-4.6zm0 5.5h4.6v4.6h-4.6zm0.5 -65h4.6v4.6h-4.6zm0 15.5h4.6v4.6h-4.6zm0 7h4.6v4.6h-4.6zm0 0.5h4.6v4.6h-4.6zm0 7.5h4.6v4.6h-4.6zm0 1.5h4.6v4.6h-4.6zm0 3.5h4.6v4.6h-4.6zm0 11h4.6v4.6h-4.6zm0 2h4.6v4.6h-4.6zm0 1h4.6v4.6h-4.6zm0 1h4.6v4.6h-4.6zm0 2h4.6v4.6h-4.6zm0 1.5h4.6v4.6h-4.6zm0 3h4.6v4.6h-4.6zm0 3.5h4.6v4.6h-4.6zm0 3.5h4.6v4.6h-4.6zm0 3h4.6v4.6h-4.6zm0 5.5h4.6v4.6h-4.6zm0.5 -48h4.6v4.6h-4.6zm0 3h4.6v4.6h-4.6zm0 8.5h4.6v4.6h-4.6zm0 0.5h4.6v4.6h-4.6zm0 1h4.6v4.6h-4.6zm0 2h4.6v4.6h-4.6zm0 5h4.6v4.6h-4.6zm0 0.5h4.6v4.6h-4.6zm0 4.5h4.6v4.6h-4.6zm0 0.5h4.6v4.6h-4.6zm0 3h4.6v4.6h-4.6zm0 4h4.6v4.6h-4.6zm0 9.5h4.6v4.6h-4.6zm0.5 -38.5h4.6v4.6h-4.6zm0 4h4.6v4.6h-4.6zm0 1.5h4.6v4.6h-4.6zm0 5h4.6v4.6h-4.6zm0 0.5h4.6v4.6h-4.6zm0 14.5h4.6v4.6h-4.6zm0 1h4.6v4.6h-4.6zm0 1h4.6v4.6h-4.6zm0 8h4.6v4.6h-4.6zm0 0.5h4.6v4.6h-4.6zm0 2h4.6v4.6h-4.6zm0 1h4.6v4.6h-4.6zm0 1.5h4.6v4.6h-4.6zm0.5 -46.5h4.6v4.6h-4.6zm0 6.5h4.6v4.6h-4.6zm0 0.5h4.6v4.6h-4.6zm0 12.5h4.6v4.6h-4.6zm0 3h4.6v4.6h-4.6zm0 2h4.6v4.6h-4.6zm0 0.5h4.6v4.6h-4.6zm0 0.5h4.6v4.6h-4.6zm0 1.5h4.6v4.6h-4.6zm0 0.5h4.6v4.6h-4.6zm0 1h4.6v4.6h-4.6zm0 3.5h4.6v4.6h-4.6zm0 0.5h4.6v4.6h-4.6zm0 5h4.6v4.6h-4.6zm0 0.5h4.6v4.6h-4.6zm0 5h4.6v4.6h-4.6zm0.5 -47h4.6v4.6h-4.6zm0 3h4.6v4.6h-4.6zm0 1h4.6v4.6h-4.6zm0 3.5h4.6v4.6h-4.6zm0 2.5h4.6v4.6h-4.6zm0 1.5h4.6v4.6h-4.6zm0 4h4.6v4.6h-4.6zm0 0.5h4.6v4.6h-4.6zm0 1h4.6v4.6h-4.6zm0 5.5h4.6v4.6h-4.6zm0 1h4.6v4.6h-4.6zm0 2h4.6v4.6h-4.6zm0 3.5h4.6v4.6h-4.6zm0 0.5h4.6v4.6h-4.6zm0 4.5h4.6v4.6h-4.6zm0 6.5h4.6v4.6h-4.6zm0 6h4.6v4.6h-4.6zm0 0.5h4.6v4.6h-4.6zm0 3.5h4.6v4.6h-4.6zm0 2.5h4.6v4.6h-4.6zm0 1.5h4.6v4.6h-4.6zm0.5 -55.5h4.6v4.6h-4.6zm0 15.5h4.6v4.6h-4.6zm0 4h4.6v4.6h-4.6zm0 3.5h4.6v4.6h-4.6zm0 0.5h4.6v4.6h-4.6zm0 0.5h4.6v4.6h-4.6zm0 4h4.6v4.6h-4.6zm0 1h4.6v4.6h-4.6zm0 2h4.6v4.6h-4.6zm0 22.5h4.6v4.6h-4.6zm0.5 -50.5h4.6v4.6h-4.6zm0 1.5h4.6v4.6h-4.6zm0 2h4.6v4.6h-4.6zm0 2.5h4.6v4.6h-4.6zm0 0.5h4.6v4.6h-4.6zm0 2.5h4.6v4.6h-4.6zm0 12h4.6v4.6h-4.6zm0 10.5h4.6v4.6h-4.6zm0 1h4.6v4.6h-4.6zm0 0.5h4.6v4.6h-4.6zm0 4h4.6v4.6h-4.6zm0 2h4.6v4.6h-4.6zm0 2.5h4.6v4.6h-4.6zm0 3h4.6v4.6h-4.6zm0.5 -49h4.6v4.6h-4.6zm0 5h4.6v4.6h-4.6zm0 6.5h4.6v4.6h-4.6zm0 2.5h4.6v4.6h-4.6zm0 1.5h4.6v4.6h-4.6zm0 0.5h4.6v4.6h-4.6zm0 3h4.6v4.6h-4.6zm0 4.5h4.6v4.6h-4.6zm0 2.5h4.6v4.6h-4.6zm0 4h4.6v4.6h-4.6zm0 0.5h4.6v4.6h-4.6zm0 1h4.6v4.6h-4.6zm0 0.5h4.6v4.6h-4.6zm0 4h4.6v4.6h-4.6zm0 0.5h4.6v4.6h-4.6zm0 1h4.6v4.6h-4.6zm0 1.5h4.6v4.6h-4.6zm0 5h4.6v4.6h-4.6zm0 8.5h4.6v4.6h-4.6zm0.5 -42.5h4.6v4.6h-4.6zm0 1h4.6v4.6h-4.6zm0 15.5h4.6v4.6h-4.6zm0 1.5h4.6v4.6h-4.6zm0 5.5h4.6v4.6h-4.6zm0 3.5h4.6v4.6h-4.6zm0 9h4.6v4.6h-4.6zm0 3h4.6v4.6h-4.6zm0 1.5h4.6v4.6h-4.6zm0 3h4.6v4.6h-4.6zm0 3.5h4.6v4.6h-4.6zm0.5 -46h4.6v4.6h-4.6zm0 4.5h4.6v4.6h-4.6zm0 6.5h4.6v4.6h-4.6zm0 2h4.6v4.6h-4.6zm0 1h4.6v4.6h-4.6zm0 0.5h4.6v4.6h-4.6zm0 11h4.6v4.6h-4.6zm0 16h4.6v4.6h-4.6zm0.5 -44.5h4.6v4.6h-4.6zm0 3.5h4.6v4.6h-4.6zm0 0.5h4.6v4.6h-4.6zm0 2h4.6v4.6h-4.6zm0 3h4.6v4.6h-4.6zm0 0.5h4.6v4.6h-4.6zm0 3.5h4.6v4.6h-4.6zm0 3h4.6v4.6h-4.6zm0 5.5h4.6v4.6h-4.6zm0 5h4.6v4.6h-4.6zm0 1h4.6v4.6h-4.6zm0 2h4.6v4.6h-4.6zm0 3.5h4.6v4.6h-4.6zm0 6.5h4.6v4.6h-4.6zm0 3h4.6v4.6h-4.6zm0 7.5h4.6v4.6h-4.6zm0.5 -56h4.6v4.6h-4.6zm0 10.5h4.6v4.6h-4.6zm0 3h4.6v4.6h-4.6zm0 1.5h4.6v4.6h-4.6zm0 3h4.6v4.6h-4.6zm0 1h4.6v4.6h-4.6zm0 1.5h4.6v4.6h-4.6zm0 3.5h4.6v4.6h-4.6zm0 1h4.6v4.6h-4.6zm0 6h4.6v4.6h-4.6zm0 1.5h4.6v4.6h-4.6zm0 1h4.6v4.6h-4.6zm0 0.5h4.6v4.6h-4.6zm0 2h4.6v4.6h-4.6zm0 1h4.6v4.6h-4.6zm0 1.5h4.6v4.6h-4.6zm0 5.5h4.6v4.6h-4.6zm0.5 -117h4.6v4.6h-4.6zm0 77.5h4.6v4.6h-4.6zm0 4.5h4.6v4.6h-4.6zm0 3h4.6v4.6h-4.6zm0 4.5h4.6v4.6h-4.6zm0 6.5h4.6v4.6h-4.6zm0 1.5h4.6v4.6h-4.6zm0 1.5h4.6v4.6h-4.6zm0 3h4.6v4.6h-4.6zm0 0.5h4.6v4.6h-4.6zm0 5.5h4.6v4.6h-4.6zm0 1.5h4.6v4.6h-4.6zm0 2.5h4.6v4.6h-4.6zm0 1.5h4.6v4.6h-4.6zm0 7h4.6v4.6h-4.6zm0 2h4.6v4.6h-4.6zm0 8h4.6v4.6h-4.6zm0.5 -56h4.6v4.6h-4.6zm0 6h4.6v4.6h-4.6zm0 7.5h4.6v4.6h-4.6zm0 0.5h4.6v4.6h-4.6zm0 3h4.6v4.6h-4.6zm0 8h4.6v4.6h-4.6zm0 1h4.6v4.6h-4.6zm0 3.5h4.6v4.6h-4.6zm0 3.5h4.6v4.6h-4.6zm0 1h4.6v4.6h-4.6zm0 2h4.6v4.6h-4.6zm0 2h4.6v4.6h-4.6zm0 2.5h4.6v4.6h-4.6zm0 2h4.6v4.6h-4.6zm0 4h4.6v4.6h-4.6zm0 9h4.6v4.6h-4.6zm0.5 -61.5h4.6v4.6h-4.6zm0 4h4.6v4.6h-4.6zm0 6.5h4.6v4.6h-4.6zm0 2.5h4.6v4.6h-4.6zm0 1h4.6v4.6h-4.6zm0 2.5h4.6v4.6h-4.6zm0 1.5h4.6v4.6h-4.6zm0 4h4.6v4.6h-4.6zm0 0.5h4.6v4.6h-4.6zm0 6h4.6v4.6h-4.6zm0 4.5h4.6v4.6h-4.6zm0 0.5h4.6v4.6h-4.6zm0 3h4.6v4.6h-4.6zm0 2.5h4.6v4.6h-4.6zm0 1h4.6v4.6h-4.6zm0 4.5h4.6v4.6h-4.6zm0 8.5h4.6v4.6h-4.6zm0 4.5h4.6v4.6h-4.6zm0.5 -50.5h4.6v4.6h-4.6zm0 3h4.6v4.6h-4.6zm0 10.5h4.6v4.6h-4.6zm0 5h4.6v4.6h-4.6zm0 1h4.6v4.6h-4.6zm0 5.5h4.6v4.6h-4.6zm0 3h4.6v4.6h-4.6zm0 3h4.6v4.6h-4.6zm0 4.5h4.6v4.6h-4.6zm0 1h4.6v4.6h-4.6zm0 4.5h4.6v4.6h-4.6zm0 4.5h4.6v4.6h-4.6zm0 3.5h4.6v4.6h-4.6zm0 5.5h4.6v4.6h-4.6zm0 1h4.6v4.6h-4.6zm0.5 -73h4.6v4.6h-4.6zm0 16.5h4.6v4.6h-4.6zm0 1h4.6v4.6h-4.6zm0 3h4.6v4.6h-4.6zm0 0.5h4.6v4.6h-4.6zm0 13h4.6v4.6h-4.6zm0 3.5h4.6v4.6h-4.6zm0 0.5h4.6v4.6h-4.6zm0 1.5h4.6v4.6h-4.6zm0 1h4.6v4.6h-4.6zm0 0.5h4.6v4.6h-4.6zm0 2h4.6v4.6h-4.6zm0 4h4.6v4.6h-4.6zm0 1h4.6v4.6h-4.6zm0 3h4.6v4.6h-4.6zm0 0.5h4.6v4.6h-4.6zm0 1h4.6v4.6h-4.6zm0 0.5h4.6v4.6h-4.6zm0 10h4.6v4.6h-4.6zm0 0.5h4.6v4.6h-4.6zm0 4h4.6v4.6h-4.6zm0.5 -43.5h4.6v4.6h-4.6zm0 7h4.6v4.6h-4.6zm0 8.5h4.6v4.6h-4.6zm0 0.5h4.6v4.6h-4.6zm0 2h4.6v4.6h-4.6zm0 2h4.6v4.6h-4.6zm0 1.5h4.6v4.6h-4.6zm0 2h4.6v4.6h-4.6zm0 1h4.6v4.6h-4.6zm0 1.5h4.6v4.6h-4.6zm0 4h4.6v4.6h-4.6zm0 3h4.6v4.6h-4.6zm0 3h4.6v4.6h-4.6zm0 1.5h4.6v4.6h-4.6zm0 3h4.6v4.6h-4.6zm0 0.5h4.6v4.6h-4.6zm0 0.5h4.6v4.6h-4.6zm0 7h4.6v4.6h-4.6zm0 1h4.6v4.6h-4.6zm0.5 -139.5h4.6v4.6h-4.6zm0 82h4.6v4.6h-4.6zm0 4.5h4.6v4.6h-4.6zm0 10.5h4.6v4.6h-4.6zm0 0.5h4.6v4.6h-4.6zm0 1h4.6v4.6h-4.6zm0 3h4.6v4.6h-4.6zm0 8h4.6v4.6h-4.6zm0 0.5h4.6v4.6h-4.6zm0 4h4.6v4.6h-4.6zm0 1.5h4.6v4.6h-4.6zm0 0.5h4.6v4.6h-4.6zm0 2h4.6v4.6h-4.6zm0 1.5h4.6v4.6h-4.6zm0 2.5h4.6v4.6h-4.6zm0 1h4.6v4.6h-4.6zm0 1.5h4.6v4.6h-4.6zm0 1.5h4.6v4.6h-4.6zm0 4.5h4.6v4.6h-4.6zm0 4.5h4.6v4.6h-4.6zm0 1h4.6v4.6h-4.6zm0.5 -52h4.6v4.6h-4.6zm0 9.5h4.6v4.6h-4.6zm0 1h4.6v4.6h-4.6zm0 0.5h4.6v4.6h-4.6zm0 1.5h4.6v4.6h-4.6zm0 1.5h4.6v4.6h-4.6zm0 0.5h4.6v4.6h-4.6zm0 3h4.6v4.6h-4.6zm0 2h4.6v4.6h-4.6zm0 1h4.6v4.6h-4.6zm0 0.5h4.6v4.6h-4.6zm0 1h4.6v4.6h-4.6zm0 2h4.6v4.6h-4.6zm0 0.5h4.6v4.6h-4.6zm0 3h4.6v4.6h-4.6zm0 1h4.6v4.6h-4.6zm0 1h4.6v4.6h-4.6zm0 1h4.6v4.6h-4.6zm0 1.5h4.6v4.6h-4.6zm0 0.5h4.6v4.6h-4.6zm0 0.5h4.6v4.6h-4.6zm0 2h4.6v4.6h-4.6zm0 1h4.6v4.6h-4.6zm0 0.5h4.6v4.6h-4.6zm0 4.5h4.6v4.6h-4.6zm0 3h4.6v4.6h-4.6zm0 2.5h4.6v4.6h-4.6zm0 3h4.6v4.6h-4.6zm0 2.5h4.6v4.6h-4.6zm0.5 -46h4.6v4.6h-4.6zm0 5h4.6v4.6h-4.6zm0 5.5h4.6v4.6h-4.6zm0 5h4.6v4.6h-4.6zm0 1.5h4.6v4.6h-4.6zm0 4.5h4.6v4.6h-4.6zm0 1h4.6v4.6h-4.6zm0 0.5h4.6v4.6h-4.6zm0 3.5h4.6v4.6h-4.6zm0 1h4.6v4.6h-4.6zm0 2h4.6v4.6h-4.6zm0 5.5h4.6v4.6h-4.6zm0 2.5h4.6v4.6h-4.6zm0 1h4.6v4.6h-4.6zm0 1h4.6v4.6h-4.6zm0 5.5h4.6v4.6h-4.6zm0.5 -57.5h4.6v4.6h-4.6zm0 10.5h4.6v4.6h-4.6zm0 0.5h4.6v4.6h-4.6zm0 6h4.6v4.6h-4.6zm0 2.5h4.6v4.6h-4.6zm0 3h4.6v4.6h-4.6zm0 0.5h4.6v4.6h-4.6zm0 1h4.6v4.6h-4.6zm0 1.5h4.6v4.6h-4.6zm0 1.5h4.6v4.6h-4.6zm0 1h4.6v4.6h-4.6zm0 1.5h4.6v4.6h-4.6zm0 0.5h4.6v4.6h-4.6zm0 1.5h4.6v4.6h-4.6zm0 4.5h4.6v4.6h-4.6zm0 1.5h4.6v4.6h-4.6zm0 0.5h4.6v4.6h-4.6zm0 1.5h4.6v4.6h-4.6zm0 2h4.6v4.6h-4.6zm0 1.5h4.6v4.6h-4.6zm0 0.5h4.6v4.6h-4.6zm0 1.5h4.6v4.6h-4.6zm0 2h4.6v4.6h-4.6zm0 5h4.6v4.6h-4.6zm0 6.5h4.6v4.6h-4.6zm0.5 -54h4.6v4.6h-4.6zm0 4.5h4.6v4.6h-4.6zm0 9h4.6v4.6h-4.6zm0 1h4.6v4.6h-4.6zm0 2.5h4.6v4.6h-4.6zm0 1h4.6v4.6h-4.6zm0 0.5h4.6v4.6h-4.6zm0 1h4.6v4.6h-4.6zm0 0.5h4.6v4.6h-4.6zm0 1h4.6v4.6h-4.6zm0 6.5h4.6v4.6h-4.6zm0 0.5h4.6v4.6h-4.6zm0 4h4.6v4.6h-4.6zm0 2h4.6v4.6h-4.6zm0 1h4.6v4.6h-4.6zm0 1h4.6v4.6h-4.6zm0 8h4.6v4.6h-4.6zm0 2h4.6v4.6h-4.6zm0 1.5h4.6v4.6h-4.6zm0 0.5h4.6v4.6h-4.6zm0 9h4.6v4.6h-4.6zm0.5 -173.5h4.6v4.6h-4.6zm0 51.5h4.6v4.6h-4.6zm0 65h4.6v4.6h-4.6zm0 1.5h4.6v4.6h-4.6zm0 8h4.6v4.6h-4.6zm0 1.5h4.6v4.6h-4.6zm0 0.5h4.6v4.6h-4.6zm0 6.5h4.6v4.6h-4.6zm0 1h4.6v4.6h-4.6zm0 2h4.6v4.6h-4.6zm0 3.5h4.6v4.6h-4.6zm0 1h4.6v4.6h-4.6zm0 3.5h4.6v4.6h-4.6zm0 0.5h4.6v4.6h-4.6zm0 0.5h4.6v4.6h-4.6zm0 2h4.6v4.6h-4.6zm0 3.5h4.6v4.6h-4.6zm0 0.5h4.6v4.6h-4.6zm0 1h4.6v4.6h-4.6zm0 2.5h4.6v4.6h-4.6zm0 1h4.6v4.6h-4.6zm0 1h4.6v4.6h-4.6zm0 2.5h4.6v4.6h-4.6zm0 0.5h4.6v4.6h-4.6zm0 2h4.6v4.6h-4.6zm0 5.5h4.6v4.6h-4.6zm0 2.5h4.6v4.6h-4.6zm0.5 -46h4.6v4.6h-4.6zm0 7h4.6v4.6h-4.6zm0 4.5h4.6v4.6h-4.6zm0 2h4.6v4.6h-4.6zm0 2h4.6v4.6h-4.6zm0 4.5h4.6v4.6h-4.6zm0 1.5h4.6v4.6h-4.6zm0 3h4.6v4.6h-4.6zm0 3.5h4.6v4.6h-4.6zm0 7.5h4.6v4.6h-4.6zm0 0.5h4.6v4.6h-4.6zm0 6.5h4.6v4.6h-4.6zm0 1.5h4.6v4.6h-4.6zm0 5h4.6v4.6h-4.6zm0.5 -68.5h4.6v4.6h-4.6zm0 17.5h4.6v4.6h-4.6zm0 5h4.6v4.6h-4.6zm0 0.5h4.6v4.6h-4.6zm0 2.5h4.6v4.6h-4.6zm0 3h4.6v4.6h-4.6zm0 1h4.6v4.6h-4.6zm0 0.5h4.6v4.6h-4.6zm0 0.5h4.6v4.6h-4.6zm0 3.5h4.6v4.6h-4.6zm0 0.5h4.6v4.6h-4.6zm0 1h4.6v4.6h-4.6zm0 2h4.6v4.6h-4.6zm0 1h4.6v4.6h-4.6zm0 1.5h4.6v4.6h-4.6zm0 0.5h4.6v4.6h-4.6zm0 0.5h4.6v4.6h-4.6zm0 0.5h4.6v4.6h-4.6zm0 0.5h4.6v4.6h-4.6zm0 7h4.6v4.6h-4.6zm0 2.5h4.6v4.6h-4.6zm0 8h4.6v4.6h-4.6zm0 0.5h4.6v4.6h-4.6zm0 3.5h4.6v4.6h-4.6zm0 2.5h4.6v4.6h-4.6zm0.5 -88.5h4.6v4.6h-4.6zm0 44h4.6v4.6h-4.6zm0 1.5h4.6v4.6h-4.6zm0 1h4.6v4.6h-4.6zm0 3h4.6v4.6h-4.6zm0 1h4.6v4.6h-4.6zm0 4h4.6v4.6h-4.6zm0 4.5h4.6v4.6h-4.6zm0 1.5h4.6v4.6h-4.6zm0 1.5h4.6v4.6h-4.6zm0 3.5h4.6v4.6h-4.6zm0 1h4.6v4.6h-4.6zm0 2h4.6v4.6h-4.6zm0 1.5h4.6v4.6h-4.6zm0 10h4.6v4.6h-4.6zm0 1.5h4.6v4.6h-4.6zm0 0.5h4.6v4.6h-4.6zm0.5 -173.5h4.6v4.6h-4.6zm0 91h4.6v4.6h-4.6zm0 44.5h4.6v4.6h-4.6zm0 7h4.6v4.6h-4.6zm0 0.5h4.6v4.6h-4.6zm0 3.5h4.6v4.6h-4.6zm0 1h4.6v4.6h-4.6zm0 1h4.6v4.6h-4.6zm0 3h4.6v4.6h-4.6zm0 1.5h4.6v4.6h-4.6zm0 4.5h4.6v4.6h-4.6zm0 0.5h4.6v4.6h-4.6zm0 0.5h4.6v4.6h-4.6zm0 1h4.6v4.6h-4.6zm0 3h4.6v4.6h-4.6zm0 0.5h4.6v4.6h-4.6zm0 1h4.6v4.6h-4.6zm0 0.5h4.6v4.6h-4.6zm0 3h4.6v4.6h-4.6zm0 0.5h4.6v4.6h-4.6zm0 3h4.6v4.6h-4.6zm0.5 -36h4.6v4.6h-4.6zm0 0.5h4.6v4.6h-4.6zm0 3.5h4.6v4.6h-4.6zm0 3h4.6v4.6h-4.6zm0 2h4.6v4.6h-4.6zm0 4h4.6v4.6h-4.6zm0 1.5h4.6v4.6h-4.6zm0 1.5h4.6v4.6h-4.6zm0 10.5h4.6v4.6h-4.6zm0 3h4.6v4.6h-4.6zm0 0.5h4.6v4.6h-4.6zm0 4h4.6v4.6h-4.6zm0 0.5h4.6v4.6h-4.6zm0 0.5h4.6v4.6h-4.6zm0 0.5h4.6v4.6h-4.6zm0 9.5h4.6v4.6h-4.6zm0.5 -157h4.6v4.6h-4.6zm0 102.5h4.6v4.6h-4.6zm0 0.5h4.6v4.6h-4.6zm0 4.5h4.6v4.6h-4.6zm0 2h4.6v4.6h-4.6zm0 3h4.6v4.6h-4.6zm0 2h4.6v4.6h-4.6zm0 1h4.6v4.6h-4.6zm0 0.5h4.6v4.6h-4.6zm0 0.5h4.6v4.6h-4.6zm0 3h4.6v4.6h-4.6zm0 1h4.6v4.6h-4.6zm0 7.5h4.6v4.6h-4.6zm0 1h4.6v4.6h-4.6zm0 4.5h4.6v4.6h-4.6zm0 4h4.6v4.6h-4.6zm0 5.5h4.6v4.6h-4.6zm0 1h4.6v4.6h-4.6zm0 9h4.6v4.6h-4.6zm0 0.5h4.6v4.6h-4.6zm0 0.5h4.6v4.6h-4.6zm0.5 -53h4.6v4.6h-4.6zm0 10.5h4.6v4.6h-4.6zm0 4.5h4.6v4.6h-4.6zm0 3h4.6v4.6h-4.6zm0 2.5h4.6v4.6h-4.6zm0 0.5h4.6v4.6h-4.6zm0 0.5h4.6v4.6h-4.6zm0 1h4.6v4.6h-4.6zm0 4h4.6v4.6h-4.6zm0 1h4.6v4.6h-4.6zm0 1.5h4.6v4.6h-4.6zm0 2h4.6v4.6h-4.6zm0 3h4.6v4.6h-4.6zm0 0.5h4.6v4.6h-4.6zm0 1.5h4.6v4.6h-4.6zm0 3h4.6v4.6h-4.6zm0 1h4.6v4.6h-4.6zm0 5.5h4.6v4.6h-4.6zm0 1h4.6v4.6h-4.6zm0 0.5h4.6v4.6h-4.6zm0 1.5h4.6v4.6h-4.6zm0 5h4.6v4.6h-4.6zm0.5 -58.5h4.6v4.6h-4.6zm0 11.5h4.6v4.6h-4.6zm0 5h4.6v4.6h-4.6zm0 3h4.6v4.6h-4.6zm0 1.5h4.6v4.6h-4.6zm0 2h4.6v4.6h-4.6zm0 1.5h4.6v4.6h-4.6zm0 1.5h4.6v4.6h-4.6zm0 6.5h4.6v4.6h-4.6zm0 0.5h4.6v4.6h-4.6zm0 0.5h4.6v4.6h-4.6zm0 2h4.6v4.6h-4.6zm0 6h4.6v4.6h-4.6zm0 2.5h4.6v4.6h-4.6zm0 0.5h4.6v4.6h-4.6zm0 3h4.6v4.6h-4.6zm0 2.5h4.6v4.6h-4.6zm0 0.5h4.6v4.6h-4.6zm0 0.5h4.6v4.6h-4.6zm0.5 -54h4.6v4.6h-4.6zm0 15h4.6v4.6h-4.6zm0 3h4.6v4.6h-4.6zm0 8.5h4.6v4.6h-4.6zm0 0.5h4.6v4.6h-4.6zm0 0.5h4.6v4.6h-4.6zm0 0.5h4.6v4.6h-4.6zm0 1.5h4.6v4.6h-4.6zm0 2h4.6v4.6h-4.6zm0 2h4.6v4.6h-4.6zm0 1.5h4.6v4.6h-4.6zm0 0.5h4.6v4.6h-4.6zm0 8h4.6v4.6h-4.6zm0 4h4.6v4.6h-4.6zm0 2.5h4.6v4.6h-4.6zm0 4h4.6v4.6h-4.6zm0 11h4.6v4.6h-4.6zm0.5 -49.5h4.6v4.6h-4.6zm0 2h4.6v4.6h-4.6zm0 2h4.6v4.6h-4.6zm0 9.5h4.6v4.6h-4.6zm0 14.5h4.6v4.6h-4.6zm0 2.5h4.6v4.6h-4.6zm0 1h4.6v4.6h-4.6zm0 0.5h4.6v4.6h-4.6zm0 1h4.6v4.6h-4.6zm0 0.5h4.6v4.6h-4.6zm0 1h4.6v4.6h-4.6zm0 3.5h4.6v4.6h-4.6zm0 3.5h4.6v4.6h-4.6zm0 2h4.6v4.6h-4.6zm0.5 -161.5h4.6v4.6h-4.6zm0 102.5h4.6v4.6h-4.6zm0 15h4.6v4.6h-4.6zm0 6.5h4.6v4.6h-4.6zm0 2h4.6v4.6h-4.6zm0 0.5h4.6v4.6h-4.6zm0 1h4.6v4.6h-4.6zm0 1h4.6v4.6h-4.6zm0 0.5h4.6v4.6h-4.6zm0 3.5h4.6v4.6h-4.6zm0 6.5h4.6v4.6h-4.6zm0 2h4.6v4.6h-4.6zm0 1h4.6v4.6h-4.6zm0 1h4.6v4.6h-4.6zm0 0.5h4.6v4.6h-4.6zm0 2h4.6v4.6h-4.6zm0 1h4.6v4.6h-4.6zm0 7h4.6v4.6h-4.6zm0 4.5h4.6v4.6h-4.6zm0 1.5h4.6v4.6h-4.6zm0 7h4.6v4.6h-4.6zm0 2h4.6v4.6h-4.6zm0 0.5h4.6v4.6h-4.6zm0.5 -67.5h4.6v4.6h-4.6zm0 6h4.6v4.6h-4.6zm0 6.5h4.6v4.6h-4.6zm0 14h4.6v4.6h-4.6zm0 1h4.6v4.6h-4.6zm0 1h4.6v4.6h-4.6zm0 0.5h4.6v4.6h-4.6zm0 1h4.6v4.6h-4.6zm0 2h4.6v4.6h-4.6zm0 2h4.6v4.6h-4.6zm0 1h4.6v4.6h-4.6zm0 0.5h4.6v4.6h-4.6zm0 1.5h4.6v4.6h-4.6zm0 1.5h4.6v4.6h-4.6zm0 0.5h4.6v4.6h-4.6zm0 1h4.6v4.6h-4.6zm0 1.5h4.6v4.6h-4.6zm0 1h4.6v4.6h-4.6zm0 0.5h4.6v4.6h-4.6zm0 4h4.6v4.6h-4.6zm0 1h4.6v4.6h-4.6zm0 1h4.6v4.6h-4.6zm0 11h4.6v4.6h-4.6zm0 6.5h4.6v4.6h-4.6zm0.5 -60.5h4.6v4.6h-4.6zm0 3.5h4.6v4.6h-4.6zm0 3h4.6v4.6h-4.6zm0 4h4.6v4.6h-4.6zm0 6.5h4.6v4.6h-4.6zm0 1.5h4.6v4.6h-4.6zm0 6.5h4.6v4.6h-4.6zm0 0.5h4.6v4.6h-4.6zm0 0.5h4.6v4.6h-4.6zm0 0.5h4.6v4.6h-4.6zm0 1.5h4.6v4.6h-4.6zm0 1.5h4.6v4.6h-4.6zm0 1h4.6v4.6h-4.6zm0 1h4.6v4.6h-4.6zm0 1h4.6v4.6h-4.6zm0 0.5h4.6v4.6h-4.6zm0 0.5h4.6v4.6h-4.6zm0 0.5h4.6v4.6h-4.6zm0 2h4.6v4.6h-4.6zm0 1h4.6v4.6h-4.6zm0 1h4.6v4.6h-4.6zm0 2h4.6v4.6h-4.6zm0 0.5h4.6v4.6h-4.6zm0 8.5h4.6v4.6h-4.6zm0 1h4.6v4.6h-4.6zm0 2.5h4.6v4.6h-4.6zm0.5 -48h4.6v4.6h-4.6zm0 4.5h4.6v4.6h-4.6zm0 2.5h4.6v4.6h-4.6zm0 4h4.6v4.6h-4.6zm0 1.5h4.6v4.6h-4.6zm0 4h4.6v4.6h-4.6zm0 1.5h4.6v4.6h-4.6zm0 4.5h4.6v4.6h-4.6zm0 2.5h4.6v4.6h-4.6zm0 5.5h4.6v4.6h-4.6zm0 1h4.6v4.6h-4.6zm0 1h4.6v4.6h-4.6zm0 3.5h4.6v4.6h-4.6zm0 0.5h4.6v4.6h-4.6zm0 7.5h4.6v4.6h-4.6zm0 0.5h4.6v4.6h-4.6zm0 2h4.6v4.6h-4.6zm0 4.5h4.6v4.6h-4.6zm0.5 -54h4.6v4.6h-4.6zm0 7h4.6v4.6h-4.6zm0 7.5h4.6v4.6h-4.6zm0 6h4.6v4.6h-4.6zm0 2h4.6v4.6h-4.6zm0 3h4.6v4.6h-4.6zm0 2h4.6v4.6h-4.6zm0 1h4.6v4.6h-4.6zm0 1h4.6v4.6h-4.6zm0 2h4.6v4.6h-4.6zm0 2h4.6v4.6h-4.6zm0 2h4.6v4.6h-4.6zm0 3h4.6v4.6h-4.6zm0 6h4.6v4.6h-4.6zm0 2.5h4.6v4.6h-4.6zm0 2.5h4.6v4.6h-4.6zm0 1h4.6v4.6h-4.6zm0 5h4.6v4.6h-4.6zm0.5 -63.5h4.6v4.6h-4.6zm0 8h4.6v4.6h-4.6zm0 5.5h4.6v4.6h-4.6zm0 8.5h4.6v4.6h-4.6zm0 1.5h4.6v4.6h-4.6zm0 2.5h4.6v4.6h-4.6zm0 0.5h4.6v4.6h-4.6zm0 2h4.6v4.6h-4.6zm0 4.5h4.6v4.6h-4.6zm0 8.5h4.6v4.6h-4.6zm0 2h4.6v4.6h-4.6zm0 1h4.6v4.6h-4.6zm0 1h4.6v4.6h-4.6zm0 1h4.6v4.6h-4.6zm0 5.5h4.6v4.6h-4.6zm0 14h4.6v4.6h-4.6zm0.5 -64h4.6v4.6h-4.6zm0 1h4.6v4.6h-4.6zm0 7h4.6v4.6h-4.6zm0 0.5h4.6v4.6h-4.6zm0 2.5h4.6v4.6h-4.6zm0 8h4.6v4.6h-4.6zm0 10.5h4.6v4.6h-4.6zm0 0.5h4.6v4.6h-4.6zm0 2h4.6v4.6h-4.6zm0 1h4.6v4.6h-4.6zm0 2h4.6v4.6h-4.6zm0 4h4.6v4.6h-4.6zm0 3h4.6v4.6h-4.6zm0 0.5h4.6v4.6h-4.6zm0 0.5h4.6v4.6h-4.6zm0 1.5h4.6v4.6h-4.6zm0 3h4.6v4.6h-4.6zm0 0.5h4.6v4.6h-4.6zm0 2.5h4.6v4.6h-4.6zm0 5.5h4.6v4.6h-4.6zm0 0.5h4.6v4.6h-4.6zm0 0.5h4.6v4.6h-4.6zm0 0.5h4.6v4.6h-4.6zm0.5 -57.5h4.6v4.6h-4.6zm0 1h4.6v4.6h-4.6zm0 21.5h4.6v4.6h-4.6zm0 9.5h4.6v4.6h-4.6zm0 0.5h4.6v4.6h-4.6zm0 10.5h4.6v4.6h-4.6zm0 0.5h4.6v4.6h-4.6zm0 2h4.6v4.6h-4.6zm0 2h4.6v4.6h-4.6zm0 2.5h4.6v4.6h-4.6zm0 1.5h4.6v4.6h-4.6zm0 1.5h4.6v4.6h-4.6zm0 2h4.6v4.6h-4.6zm0 1.5h4.6v4.6h-4.6zm0 2.5h4.6v4.6h-4.6zm0 0.5h4.6v4.6h-4.6zm0 2.5h4.6v4.6h-4.6zm0 3.5h4.6v4.6h-4.6zm0.5 -151h4.6v4.6h-4.6zm0 99.5h4.6v4.6h-4.6zm0 2h4.6v4.6h-4.6zm0 3.5h4.6v4.6h-4.6zm0 2.5h4.6v4.6h-4.6zm0 1h4.6v4.6h-4.6zm0 0.5h4.6v4.6h-4.6zm0 1h4.6v4.6h-4.6zm0 0.5h4.6v4.6h-4.6zm0 1.5h4.6v4.6h-4.6zm0 1h4.6v4.6h-4.6zm0 1.5h4.6v4.6h-4.6zm0 2.5h4.6v4.6h-4.6zm0 0.5h4.6v4.6h-4.6zm0 2.5h4.6v4.6h-4.6zm0 2h4.6v4.6h-4.6zm0 1.5h4.6v4.6h-4.6zm0 3.5h4.6v4.6h-4.6zm0 3h4.6v4.6h-4.6zm0 1h4.6v4.6h-4.6zm0 8h4.6v4.6h-4.6zm0 0.5h4.6v4.6h-4.6zm0.5 -53.5h4.6v4.6h-4.6zm0 9.5h4.6v4.6h-4.6zm0 5h4.6v4.6h-4.6zm0 0.5h4.6v4.6h-4.6zm0 3.5h4.6v4.6h-4.6zm0 5h4.6v4.6h-4.6zm0 4h4.6v4.6h-4.6zm0 2.5h4.6v4.6h-4.6zm0 8h4.6v4.6h-4.6zm0 3h4.6v4.6h-4.6zm0 2h4.6v4.6h-4.6zm0 4h4.6v4.6h-4.6zm0 1.5h4.6v4.6h-4.6zm0 5.5h4.6v4.6h-4.6zm0 7.5h4.6v4.6h-4.6zm0 1h4.6v4.6h-4.6zm0.5 -58.5h4.6v4.6h-4.6zm0 11.5h4.6v4.6h-4.6zm0 4.5h4.6v4.6h-4.6zm0 3h4.6v4.6h-4.6zm0 3.5h4.6v4.6h-4.6zm0 8.5h4.6v4.6h-4.6zm0 0.5h4.6v4.6h-4.6zm0 4h4.6v4.6h-4.6zm0 0.5h4.6v4.6h-4.6zm0 4.5h4.6v4.6h-4.6zm0 1.5h4.6v4.6h-4.6zm0 1h4.6v4.6h-4.6zm0 1.5h4.6v4.6h-4.6zm0 5h4.6v4.6h-4.6zm0 2h4.6v4.6h-4.6zm0.5 -47.5h4.6v4.6h-4.6zm0 3.5h4.6v4.6h-4.6zm0 5h4.6v4.6h-4.6zm0 1.5h4.6v4.6h-4.6zm0 0.5h4.6v4.6h-4.6zm0 8h4.6v4.6h-4.6zm0 3.5h4.6v4.6h-4.6zm0 6.5h4.6v4.6h-4.6zm0 1h4.6v4.6h-4.6zm0 3h4.6v4.6h-4.6zm0 4.5h4.6v4.6h-4.6zm0 8h4.6v4.6h-4.6zm0 0.5h4.6v4.6h-4.6zm0 3h4.6v4.6h-4.6zm0 2.5h4.6v4.6h-4.6zm0 0.5h4.6v4.6h-4.6zm0.5 -44h4.6v4.6h-4.6zm0 2.5h4.6v4.6h-4.6zm0 4.5h4.6v4.6h-4.6zm0 1h4.6v4.6h-4.6zm0 2.5h4.6v4.6h-4.6zm0 1h4.6v4.6h-4.6zm0 2h4.6v4.6h-4.6zm0 4h4.6v4.6h-4.6zm0 1.5h4.6v4.6h-4.6zm0 4h4.6v4.6h-4.6zm0 1h4.6v4.6h-4.6zm0 1.5h4.6v4.6h-4.6zm0 1.5h4.6v4.6h-4.6zm0 0.5h4.6v4.6h-4.6zm0 6h4.6v4.6h-4.6zm0 3h4.6v4.6h-4.6zm0 5.5h4.6v4.6h-4.6zm0 1h4.6v4.6h-4.6zm0 3h4.6v4.6h-4.6zm0.5 -62h4.6v4.6h-4.6zm0 21h4.6v4.6h-4.6zm0 2h4.6v4.6h-4.6zm0 1.5h4.6v4.6h-4.6zm0 0.5h4.6v4.6h-4.6zm0 1.5h4.6v4.6h-4.6zm0 10h4.6v4.6h-4.6zm0 2.5h4.6v4.6h-4.6zm0 3.5h4.6v4.6h-4.6zm0 1h4.6v4.6h-4.6zm0 0.5h4.6v4.6h-4.6zm0 5h4.6v4.6h-4.6zm0 0.5h4.6v4.6h-4.6zm0 5h4.6v4.6h-4.6zm0 0.5h4.6v4.6h-4.6zm0 1.5h4.6v4.6h-4.6zm0 1.5h4.6v4.6h-4.6zm0 0.5h4.6v4.6h-4.6zm0.5 -65.5h4.6v4.6h-4.6zm0 18h4.6v4.6h-4.6zm0 2h4.6v4.6h-4.6zm0 1h4.6v4.6h-4.6zm0 0.5h4.6v4.6h-4.6zm0 3.5h4.6v4.6h-4.6zm0 0.5h4.6v4.6h-4.6zm0 2h4.6v4.6h-4.6zm0 2.5h4.6v4.6h-4.6zm0 5.5h4.6v4.6h-4.6zm0 1h4.6v4.6h-4.6zm0 2h4.6v4.6h-4.6zm0 1h4.6v4.6h-4.6zm0 0.5h4.6v4.6h-4.6zm0 2.5h4.6v4.6h-4.6zm0 5h4.6v4.6h-4.6zm0 1h4.6v4.6h-4.6zm0 1.5h4.6v4.6h-4.6zm0 1h4.6v4.6h-4.6zm0 2h4.6v4.6h-4.6zm0 2.5h4.6v4.6h-4.6zm0 0.5h4.6v4.6h-4.6zm0 1.5h4.6v4.6h-4.6zm0 2.5h4.6v4.6h-4.6zm0 1h4.6v4.6h-4.6zm0 2.5h4.6v4.6h-4.6zm0 4h4.6v4.6h-4.6zm0 0.5h4.6v4.6h-4.6zm0.5 -61h4.6v4.6h-4.6zm0 10h4.6v4.6h-4.6zm0 6h4.6v4.6h-4.6zm0 11.5h4.6v4.6h-4.6zm0 3h4.6v4.6h-4.6zm0 2.5h4.6v4.6h-4.6zm0 2.5h4.6v4.6h-4.6zm0 0.5h4.6v4.6h-4.6zm0 2h4.6v4.6h-4.6zm0 1h4.6v4.6h-4.6zm0 3h4.6v4.6h-4.6zm0 0.5h4.6v4.6h-4.6zm0 2.5h4.6v4.6h-4.6zm0 0.5h4.6v4.6h-4.6zm0 2.5h4.6v4.6h-4.6zm0 1.5h4.6v4.6h-4.6zm0 0.5h4.6v4.6h-4.6zm0 9h4.6v4.6h-4.6zm0 0.5h4.6v4.6h-4.6zm0 1h4.6v4.6h-4.6zm0 2h4.6v4.6h-4.6zm0.5 -158.5h4.6v4.6h-4.6zm0 120.5h4.6v4.6h-4.6zm0 3h4.6v4.6h-4.6zm0 7h4.6v4.6h-4.6zm0 1h4.6v4.6h-4.6zm0 0.5h4.6v4.6h-4.6zm0 0.5h4.6v4.6h-4.6zm0 1.5h4.6v4.6h-4.6zm0 3h4.6v4.6h-4.6zm0 1.5h4.6v4.6h-4.6zm0 1h4.6v4.6h-4.6zm0 0.5h4.6v4.6h-4.6zm0 0.5h4.6v4.6h-4.6zm0 1.5h4.6v4.6h-4.6zm0 3h4.6v4.6h-4.6zm0 3.5h4.6v4.6h-4.6zm0 0.5h4.6v4.6h-4.6zm0 6.5h4.6v4.6h-4.6zm0 1h4.6v4.6h-4.6zm0 1.5h4.6v4.6h-4.6zm0 1h4.6v4.6h-4.6zm0.5 -178.5h4.6v4.6h-4.6zm0 85h4.6v4.6h-4.6zm0 39h4.6v4.6h-4.6zm0 1h4.6v4.6h-4.6zm0 3.5h4.6v4.6h-4.6zm0 2h4.6v4.6h-4.6zm0 3.5h4.6v4.6h-4.6zm0 5h4.6v4.6h-4.6zm0 2.5h4.6v4.6h-4.6zm0 1h4.6v4.6h-4.6zm0 4h4.6v4.6h-4.6zm0 1h4.6v4.6h-4.6zm0 1.5h4.6v4.6h-4.6zm0 0.5h4.6v4.6h-4.6zm0 3h4.6v4.6h-4.6zm0 1.5h4.6v4.6h-4.6zm0 1.5h4.6v4.6h-4.6zm0 2h4.6v4.6h-4.6zm0 1.5h4.6v4.6h-4.6zm0 0.5h4.6v4.6h-4.6zm0 0.5h4.6v4.6h-4.6zm0 6.5h4.6v4.6h-4.6zm0 4.5h4.6v4.6h-4.6zm0 4.5h4.6v4.6h-4.6zm0 2.5h4.6v4.6h-4.6zm0.5 -61h4.6v4.6h-4.6zm0 2.5h4.6v4.6h-4.6zm0 10.5h4.6v4.6h-4.6zm0 0.5h4.6v4.6h-4.6zm0 7.5h4.6v4.6h-4.6zm0 7h4.6v4.6h-4.6zm0 0.5h4.6v4.6h-4.6zm0 1h4.6v4.6h-4.6zm0 3h4.6v4.6h-4.6zm0 3h4.6v4.6h-4.6zm0 0.5h4.6v4.6h-4.6zm0 2h4.6v4.6h-4.6zm0 2h4.6v4.6h-4.6zm0 1h4.6v4.6h-4.6zm0 2h4.6v4.6h-4.6zm0 0.5h4.6v4.6h-4.6zm0 5.5h4.6v4.6h-4.6zm0 2.5h4.6v4.6h-4.6zm0 3.5h4.6v4.6h-4.6zm0 8.5h4.6v4.6h-4.6zm0.5 -53.5h4.6v4.6h-4.6zm0 2h4.6v4.6h-4.6zm0 8.5h4.6v4.6h-4.6zm0 1h4.6v4.6h-4.6zm0 4.5h4.6v4.6h-4.6zm0 5.5h4.6v4.6h-4.6zm0 2.5h4.6v4.6h-4.6zm0 0.5h4.6v4.6h-4.6zm0 1h4.6v4.6h-4.6zm0 2h4.6v4.6h-4.6zm0 0.5h4.6v4.6h-4.6zm0 5h4.6v4.6h-4.6zm0 0.5h4.6v4.6h-4.6zm0 2.5h4.6v4.6h-4.6zm0 3h4.6v4.6h-4.6zm0 1h4.6v4.6h-4.6zm0 5.5h4.6v4.6h-4.6zm0 1.5h4.6v4.6h-4.6zm0 3h4.6v4.6h-4.6zm0.5 -40h4.6v4.6h-4.6zm0 3h4.6v4.6h-4.6zm0 4.5h4.6v4.6h-4.6zm0 4h4.6v4.6h-4.6zm0 4.5h4.6v4.6h-4.6zm0 4.5h4.6v4.6h-4.6zm0 0.5h4.6v4.6h-4.6zm0 4.5h4.6v4.6h-4.6zm0 1.5h4.6v4.6h-4.6zm0 3h4.6v4.6h-4.6zm0 1h4.6v4.6h-4.6zm0 6.5h4.6v4.6h-4.6zm0 1h4.6v4.6h-4.6zm0.5 -40.5h4.6v4.6h-4.6zm0 1h4.6v4.6h-4.6zm0 2.5h4.6v4.6h-4.6zm0 0.5h4.6v4.6h-4.6zm0 3.5h4.6v4.6h-4.6zm0 2h4.6v4.6h-4.6zm0 2h4.6v4.6h-4.6zm0 2.5h4.6v4.6h-4.6zm0 4.5h4.6v4.6h-4.6zm0 1h4.6v4.6h-4.6zm0 0.5h4.6v4.6h-4.6zm0 4.5h4.6v4.6h-4.6zm0 11.5h4.6v4.6h-4.6zm0 2h4.6v4.6h-4.6zm0 1.5h4.6v4.6h-4.6zm0.5 -30h4.6v4.6h-4.6zm0 1h4.6v4.6h-4.6zm0 0.5h4.6v4.6h-4.6zm0 2.5h4.6v4.6h-4.6zm0 1h4.6v4.6h-4.6zm0 1h4.6v4.6h-4.6zm0 1.5h4.6v4.6h-4.6zm0 0.5h4.6v4.6h-4.6zm0 2h4.6v4.6h-4.6zm0 7h4.6v4.6h-4.6zm0 1h4.6v4.6h-4.6zm0 1.5h4.6v4.6h-4.6zm0 1.5h4.6v4.6h-4.6zm0 4.5h4.6v4.6h-4.6zm0 1h4.6v4.6h-4.6zm0 1h4.6v4.6h-4.6zm0 1h4.6v4.6h-4.6zm0.5 -49h4.6v4.6h-4.6zm0 6.5h4.6v4.6h-4.6zm0 2.5h4.6v4.6h-4.6zm0 6.5h4.6v4.6h-4.6zm0 1.5h4.6v4.6h-4.6zm0 0.5h4.6v4.6h-4.6zm0 3h4.6v4.6h-4.6zm0 1.5h4.6v4.6h-4.6zm0 3h4.6v4.6h-4.6zm0 1h4.6v4.6h-4.6zm0 2.5h4.6v4.6h-4.6zm0 0.5h4.6v4.6h-4.6zm0 1.5h4.6v4.6h-4.6zm0 0.5h4.6v4.6h-4.6zm0 0.5h4.6v4.6h-4.6zm0 1h4.6v4.6h-4.6zm0 1h4.6v4.6h-4.6zm0 2.5h4.6v4.6h-4.6zm0 2.5h4.6v4.6h-4.6zm0 2h4.6v4.6h-4.6zm0 3h4.6v4.6h-4.6zm0 1h4.6v4.6h-4.6zm0 0.5h4.6v4.6h-4.6zm0 3.5h4.6v4.6h-4.6zm0 6h4.6v4.6h-4.6zm0.5 -137h4.6v4.6h-4.6zm0 90.5h4.6v4.6h-4.6zm0 2h4.6v4.6h-4.6zm0 0.5h4.6v4.6h-4.6zm0 4h4.6v4.6h-4.6zm0 3h4.6v4.6h-4.6zm0 1.5h4.6v4.6h-4.6zm0 11h4.6v4.6h-4.6zm0 4.5h4.6v4.6h-4.6zm0 1.5h4.6v4.6h-4.6zm0 1.5h4.6v4.6h-4.6zm0 0.5h4.6v4.6h-4.6zm0 2h4.6v4.6h-4.6zm0 5.5h4.6v4.6h-4.6zm0.5 -38h4.6v4.6h-4.6zm0 2h4.6v4.6h-4.6zm0 2.5h4.6v4.6h-4.6zm0 7h4.6v4.6h-4.6zm0 1h4.6v4.6h-4.6zm0 1h4.6v4.6h-4.6zm0 8h4.6v4.6h-4.6zm0 18h4.6v4.6h-4.6zm0 0.5h4.6v4.6h-4.6zm0 0.5h4.6v4.6h-4.6zm0 8.5h4.6v4.6h-4.6zm0.5 -44h4.6v4.6h-4.6zm0 4h4.6v4.6h-4.6zm0 0.5h4.6v4.6h-4.6zm0 3h4.6v4.6h-4.6zm0 1h4.6v4.6h-4.6zm0 2.5h4.6v4.6h-4.6zm0 8h4.6v4.6h-4.6zm0 3h4.6v4.6h-4.6zm0 3.5h4.6v4.6h-4.6zm0 1.5h4.6v4.6h-4.6zm0 2h4.6v4.6h-4.6zm0 5.5h4.6v4.6h-4.6zm0 4.5h4.6v4.6h-4.6zm0 1h4.6v4.6h-4.6zm0 3h4.6v4.6h-4.6zm0 2h4.6v4.6h-4.6zm0.5 -131h4.6v4.6h-4.6zm0 86h4.6v4.6h-4.6zm0 3.5h4.6v4.6h-4.6zm0 3.5h4.6v4.6h-4.6zm0 3h4.6v4.6h-4.6zm0 2h4.6v4.6h-4.6zm0 4.5h4.6v4.6h-4.6zm0 0.5h4.6v4.6h-4.6zm0 3.5h4.6v4.6h-4.6zm0 5.5h4.6v4.6h-4.6zm0 5.5h4.6v4.6h-4.6zm0 1.5h4.6v4.6h-4.6zm0 4.5h4.6v4.6h-4.6zm0.5 -50h4.6v4.6h-4.6zm0 12h4.6v4.6h-4.6zm0 1.5h4.6v4.6h-4.6zm0 1h4.6v4.6h-4.6zm0 4h4.6v4.6h-4.6zm0 2.5h4.6v4.6h-4.6zm0 0.5h4.6v4.6h-4.6zm0 1h4.6v4.6h-4.6zm0 0.5h4.6v4.6h-4.6zm0 1h4.6v4.6h-4.6zm0 8h4.6v4.6h-4.6zm0 0.5h4.6v4.6h-4.6zm0 1h4.6v4.6h-4.6zm0 5h4.6v4.6h-4.6zm0 10.5h4.6v4.6h-4.6zm0 4.5h4.6v4.6h-4.6zm0.5 -99h4.6v4.6h-4.6zm0 63h4.6v4.6h-4.6zm0 1h4.6v4.6h-4.6zm0 1.5h4.6v4.6h-4.6zm0 2.5h4.6v4.6h-4.6zm0 2.5h4.6v4.6h-4.6zm0 4h4.6v4.6h-4.6zm0 1.5h4.6v4.6h-4.6zm0 0.5h4.6v4.6h-4.6zm0 0.5h4.6v4.6h-4.6zm0 5h4.6v4.6h-4.6zm0 1h4.6v4.6h-4.6zm0 11.5h4.6v4.6h-4.6zm0 4h4.6v4.6h-4.6zm0.5 -43h4.6v4.6h-4.6zm0 3.5h4.6v4.6h-4.6zm0 0.5h4.6v4.6h-4.6zm0 2.5h4.6v4.6h-4.6zm0 6h4.6v4.6h-4.6zm0 5.5h4.6v4.6h-4.6zm0 1h4.6v4.6h-4.6zm0 1h4.6v4.6h-4.6zm0 12.5h4.6v4.6h-4.6zm0 1.5h4.6v4.6h-4.6zm0.5 -48.5h4.6v4.6h-4.6zm0 2.5h4.6v4.6h-4.6zm0 4h4.6v4.6h-4.6zm0 4h4.6v4.6h-4.6zm0 6.5h4.6v4.6h-4.6zm0 0.5h4.6v4.6h-4.6zm0 0.5h4.6v4.6h-4.6zm0 12.5h4.6v4.6h-4.6zm0 2h4.6v4.6h-4.6zm0 1h4.6v4.6h-4.6zm0 2h4.6v4.6h-4.6zm0 2h4.6v4.6h-4.6zm0 9h4.6v4.6h-4.6zm0 6h4.6v4.6h-4.6zm0 4.5h4.6v4.6h-4.6zm0.5 -215h4.6v4.6h-4.6zm0 21h4.6v4.6h-4.6zm0 34h4.6v4.6h-4.6zm0 115.5h4.6v4.6h-4.6zm0 7h4.6v4.6h-4.6zm0 5h4.6v4.6h-4.6zm0 0.5h4.6v4.6h-4.6zm0 1h4.6v4.6h-4.6zm0 1h4.6v4.6h-4.6zm0 1h4.6v4.6h-4.6zm0 24.5h4.6v4.6h-4.6zm0 1h4.6v4.6h-4.6zm0 8h4.6v4.6h-4.6zm0.5 -59h4.6v4.6h-4.6zm0 11.5h4.6v4.6h-4.6zm0 3.5h4.6v4.6h-4.6zm0 1h4.6v4.6h-4.6zm0 11.5h4.6v4.6h-4.6zm0 1h4.6v4.6h-4.6zm0 1.5h4.6v4.6h-4.6zm0 0.5h4.6v4.6h-4.6zm0 4.5h4.6v4.6h-4.6zm0 1h4.6v4.6h-4.6zm0 9h4.6v4.6h-4.6zm0 2.5h4.6v4.6h-4.6zm0 0.5h4.6v4.6h-4.6zm0 0.5h4.6v4.6h-4.6zm0 9.5h4.6v4.6h-4.6zm0.5 -173h4.6v4.6h-4.6zm0 120.5h4.6v4.6h-4.6zm0 17h4.6v4.6h-4.6zm0 4h4.6v4.6h-4.6zm0 1h4.6v4.6h-4.6zm0 6h4.6v4.6h-4.6zm0 2h4.6v4.6h-4.6zm0 1.5h4.6v4.6h-4.6zm0 0.5h4.6v4.6h-4.6zm0 1.5h4.6v4.6h-4.6zm0 1.5h4.6v4.6h-4.6zm0 1.5h4.6v4.6h-4.6zm0 1.5h4.6v4.6h-4.6zm0 7h4.6v4.6h-4.6zm0 4h4.6v4.6h-4.6zm0.5 -46.5h4.6v4.6h-4.6zm0 6.5h4.6v4.6h-4.6zm0 4.5h4.6v4.6h-4.6zm0 4.5h4.6v4.6h-4.6zm0 1.5h4.6v4.6h-4.6zm0 0.5h4.6v4.6h-4.6zm0 3.5h4.6v4.6h-4.6zm0 4h4.6v4.6h-4.6zm0 3.5h4.6v4.6h-4.6zm0 1.5h4.6v4.6h-4.6zm0 2.5h4.6v4.6h-4.6zm0 3h4.6v4.6h-4.6zm0 12.5h4.6v4.6h-4.6zm0 1.5h4.6v4.6h-4.6zm0.5 -149h4.6v4.6h-4.6zm0 121h4.6v4.6h-4.6zm0 1h4.6v4.6h-4.6zm0 0.5h4.6v4.6h-4.6zm0 6h4.6v4.6h-4.6zm0 2h4.6v4.6h-4.6zm0 2.5h4.6v4.6h-4.6zm0 4.5h4.6v4.6h-4.6zm0 7h4.6v4.6h-4.6zm0.5 -57h4.6v4.6h-4.6zm0 1.5h4.6v4.6h-4.6zm0 9h4.6v4.6h-4.6zm0 13.5h4.6v4.6h-4.6zm0 7h4.6v4.6h-4.6zm0 3.5h4.6v4.6h-4.6zm0 1.5h4.6v4.6h-4.6zm0 6h4.6v4.6h-4.6zm0 2h4.6v4.6h-4.6zm0 3h4.6v4.6h-4.6zm0.5 -31.5h4.6v4.6h-4.6zm0 0.5h4.6v4.6h-4.6zm0 4h4.6v4.6h-4.6zm0 5h4.6v4.6h-4.6zm0 4h4.6v4.6h-4.6zm0 2h4.6v4.6h-4.6zm0 3.5h4.6v4.6h-4.6zm0 3h4.6v4.6h-4.6zm0 3.5h4.6v4.6h-4.6zm0 1.5h4.6v4.6h-4.6zm0 1.5h4.6v4.6h-4.6zm0 2h4.6v4.6h-4.6zm0 2.5h4.6v4.6h-4.6zm0 6.5h4.6v4.6h-4.6zm0 3.5h4.6v4.6h-4.6zm0.5 -42.5h4.6v4.6h-4.6zm0 3h4.6v4.6h-4.6zm0 5.5h4.6v4.6h-4.6zm0 8h4.6v4.6h-4.6zm0 4h4.6v4.6h-4.6zm0 2h4.6v4.6h-4.6zm0 1h4.6v4.6h-4.6zm0 3h4.6v4.6h-4.6zm0 1.5h4.6v4.6h-4.6zm0 4.5h4.6v4.6h-4.6zm0 0.5h4.6v4.6h-4.6zm0 3h4.6v4.6h-4.6zm0.5 -35.5h4.6v4.6h-4.6zm0 0.5h4.6v4.6h-4.6zm0 1h4.6v4.6h-4.6zm0 0.5h4.6v4.6h-4.6zm0 1h4.6v4.6h-4.6zm0 3.5h4.6v4.6h-4.6zm0 3h4.6v4.6h-4.6zm0 1h4.6v4.6h-4.6zm0 2.5h4.6v4.6h-4.6zm0 1.5h4.6v4.6h-4.6zm0 5.5h4.6v4.6h-4.6zm0 4h4.6v4.6h-4.6zm0 3.5h4.6v4.6h-4.6zm0 1h4.6v4.6h-4.6zm0 4.5h4.6v4.6h-4.6zm0 2.5h4.6v4.6h-4.6zm0 2h4.6v4.6h-4.6zm0 2.5h4.6v4.6h-4.6zm0 7h4.6v4.6h-4.6zm0.5 -54h4.6v4.6h-4.6zm0 2h4.6v4.6h-4.6zm0 14.5h4.6v4.6h-4.6zm0 1h4.6v4.6h-4.6zm0 2.5h4.6v4.6h-4.6zm0 10h4.6v4.6h-4.6zm0 2h4.6v4.6h-4.6zm0 2.5h4.6v4.6h-4.6zm0 1.5h4.6v4.6h-4.6zm0 5.5h4.6v4.6h-4.6zm0.5 -37.5h4.6v4.6h-4.6zm0 3h4.6v4.6h-4.6zm0 6h4.6v4.6h-4.6zm0 7.5h4.6v4.6h-4.6zm0 4.5h4.6v4.6h-4.6zm0 4.5h4.6v4.6h-4.6zm0 10h4.6v4.6h-4.6zm0 10h4.6v4.6h-4.6zm0.5 -47h4.6v4.6h-4.6zm0 12.5h4.6v4.6h-4.6zm0 1h4.6v4.6h-4.6zm0 3h4.6v4.6h-4.6zm0 3h4.6v4.6h-4.6zm0 1.5h4.6v4.6h-4.6zm0 1.5h4.6v4.6h-4.6zm0 3h4.6v4.6h-4.6zm0 14.5h4.6v4.6h-4.6zm0 3.5h4.6v4.6h-4.6zm0 3.5h4.6v4.6h-4.6zm0.5 -52h4.6v4.6h-4.6zm0 14h4.6v4.6h-4.6zm0 4.5h4.6v4.6h-4.6zm0 4.5h4.6v4.6h-4.6zm0 2h4.6v4.6h-4.6zm0 3h4.6v4.6h-4.6zm0 9h4.6v4.6h-4.6zm0 1h4.6v4.6h-4.6zm0 2h4.6v4.6h-4.6zm0 4.5h4.6v4.6h-4.6zm0 2h4.6v4.6h-4.6zm0.5 -40h4.6v4.6h-4.6zm0 0.5h4.6v4.6h-4.6zm0 14.5h4.6v4.6h-4.6zm0 4.5h4.6v4.6h-4.6zm0 12h4.6v4.6h-4.6zm0.5 -48h4.6v4.6h-4.6zm0 21h4.6v4.6h-4.6zm0 19h4.6v4.6h-4.6zm0 0.5h4.6v4.6h-4.6zm0 5h4.6v4.6h-4.6zm0 5.5h4.6v4.6h-4.6zm0 5.5h4.6v4.6h-4.6zm0 3.5h4.6v4.6h-4.6zm0.5 -113.5h4.6v4.6h-4.6zm0 68.5h4.6v4.6h-4.6zm0 0.5h4.6v4.6h-4.6zm0 2.5h4.6v4.6h-4.6zm0 7.5h4.6v4.6h-4.6zm0 5.5h4.6v4.6h-4.6zm0 5.5h4.6v4.6h-4.6zm0 4.5h4.6v4.6h-4.6zm0 2h4.6v4.6h-4.6zm0 5h4.6v4.6h-4.6zm0 0.5h4.6v4.6h-4.6zm0 4h4.6v4.6h-4.6zm0 11.5h4.6v4.6h-4.6zm0.5 -192h4.6v4.6h-4.6zm0 143.5h4.6v4.6h-4.6zm0 9h4.6v4.6h-4.6zm0 1h4.6v4.6h-4.6zm0 2h4.6v4.6h-4.6zm0 4h4.6v4.6h-4.6zm0 26h4.6v4.6h-4.6zm0.5 -141.5h4.6v4.6h-4.6zm0 88.5h4.6v4.6h-4.6zm0 8.5h4.6v4.6h-4.6zm0 7h4.6v4.6h-4.6zm0 1.5h4.6v4.6h-4.6zm0 11.5h4.6v4.6h-4.6zm0 1h4.6v4.6h-4.6zm0 6h4.6v4.6h-4.6zm0 0.5h4.6v4.6h-4.6zm0 6.5h4.6v4.6h-4.6zm0 11.5h4.6v4.6h-4.6zm0 5.5h4.6v4.6h-4.6zm0.5 -41h4.6v4.6h-4.6zm0 8h4.6v4.6h-4.6zm0.5 4.5h4.6v4.6h-4.6zm0 1h4.6v4.6h-4.6zm0 10h4.6v4.6h-4.6zm0 1.5h4.6v4.6h-4.6zm0 8h4.6v4.6h-4.6zm0.5 -125h4.6v4.6h-4.6zm0 51h4.6v4.6h-4.6zm0 1h4.6v4.6h-4.6zm0 44h4.6v4.6h-4.6zm0 3.5h4.6v4.6h-4.6zm0 17h4.6v4.6h-4.6zm0 7h4.6v4.6h-4.6zm0.5 -33.5h4.6v4.6h-4.6zm0 6.5h4.6v4.6h-4.6zm0 6h4.6v4.6h-4.6zm0 0.5h4.6v4.6h-4.6zm0 16h4.6v4.6h-4.6zm0.5 -13.5h4.6v4.6h-4.6zm0 2.5h4.6v4.6h-4.6zm0 21h4.6v4.6h-4.6zm0.5 -39h4.6v4.6h-4.6zm0 7h4.6v4.6h-4.6zm0 1.5h4.6v4.6h-4.6zm0 4h4.6v4.6h-4.6zm0 6.5h4.6v4.6h-4.6zm0 3h4.6v4.6h-4.6zm0 7h4.6v4.6h-4.6zm0.5 -22h4.6v4.6h-4.6zm0 6h4.6v4.6h-4.6zm0 11h4.6v4.6h-4.6zm0 4h4.6v4.6h-4.6zm0 8.5h4.6v4.6h-4.6zm0.5 -42h4.6v4.6h-4.6zm0 29h4.6v4.6h-4.6zm0 6h4.6v4.6h-4.6zm0 5.5h4.6v4.6h-4.6zm0.5 -37.5h4.6v4.6h-4.6zm0 23h4.6v4.6h-4.6zm0 12h4.6v4.6h-4.6zm0 3h4.6v4.6h-4.6zm0.5 -16h4.6v4.6h-4.6zm0 15.5h4.6v4.6h-4.6zm0.5 -44h4.6v4.6h-4.6zm0 5.5h4.6v4.6h-4.6zm0 0.5h4.6v4.6h-4.6zm0 26h4.6v4.6h-4.6zm0 11.5h4.6v4.6h-4.6zm0.5 -29h4.6v4.6h-4.6zm0 17.5h4.6v4.6h-4.6zm0 4.5h4.6v4.6h-4.6zm0 7h4.6v4.6h-4.6zm0 11h4.6v4.6h-4.6zm0.5 -68h4.6v4.6h-4.6zm0 20h4.6v4.6h-4.6zm0 29.5h4.6v4.6h-4.6zm0 17h4.6v4.6h-4.6zm0.5 -42h4.6v4.6h-4.6zm0 6.5h4.6v4.6h-4.6zm0 6h4.6v4.6h-4.6zm0 3h4.6v4.6h-4.6zm0 7.5h4.6v4.6h-4.6zm0 20.5h4.6v4.6h-4.6zm0.5 -53.5h4.6v4.6h-4.6zm0 28h4.6v4.6h-4.6zm0 2.5h4.6v4.6h-4.6zm0.5 3.5h4.6v4.6h-4.6zm0 15h4.6v4.6h-4.6zm0.5 -117.5h4.6v4.6h-4.6zm0 81h4.6v4.6h-4.6zm0 18h4.6v4.6h-4.6zm0.5 9.5h4.6v4.6h-4.6zm0.5 -23h4.6v4.6h-4.6zm0 9.5h4.6v4.6h-4.6zm0.5 -13.5h4.6v4.6h-4.6zm0 22.5h4.6v4.6h-4.6zm0 1.5h4.6v4.6h-4.6zm1 -12h4.6v4.6h-4.6zm1 -9h4.6v4.6h-4.6zm0 17h4.6v4.6h-4.6zm0 3h4.6v4.6h-4.6zm0.5 -13h4.6v4.6h-4.6zm0.5 -4.5h4.6v4.6h-4.6zm0 14.5h4.6v4.6h-4.6zm0.5 -20h4.6v4.6h-4.6zm0 8.5h4.6v4.6h-4.6zm0 5.5h4.6v4.6h-4.6zm0 8.5h4.6v4.6h-4.6zm0.5 -14.5h4.6v4.6h-4.6zm0 18.5h4.6v4.6h-4.6zm0.5 -21.5h4.6v4.6h-4.6zm0.5 -5h4.6v4.6h-4.6zm0 10h4.6v4.6h-4.6zm0.5 -9.5h4.6v4.6h-4.6zm0.5 -9h4.6v4.6h-4.6zm0 1.5h4.6v4.6h-4.6zm0 26h4.6v4.6h-4.6zm0.5 -5h4.6v4.6h-4.6zm0.5 -13.5h4.6v4.6h-4.6zm5.5 27.5h4.6v4.6h-4.6zm7.5 -7h4.6v4.6h-4.6zm2 -136h4.6v4.6h-4.6zm0 148h4.6v4.6h-4.6zm12 -12h4.6v4.6h-4.6zm9 -30.5h4.6v4.6h-4.6zm15.5 -109.5h4.6v4.6h-4.6zm0 159.5h4.6v4.6h-4.6zm12.5 -63h4.6v4.6h-4.6zm33 -95.5h4.6v4.6h-4.6zm17 126h4.6v4.6h-4.6zm21 -138.5h4.6v4.6h-4.6zm20.5 -55h4.6v4.6h-4.6zm1.5 29.5h4.6v4.6h-4.6zm24.5 17.5h4.6v4.6h-4.6z"/></g>
<rect x="1420.5" y="582.0" width="4.0" height="326.0" fill="#000"/>
<rect x="1302.0" y="802.6" width="334.0" height="3.8" fill="#000"/>
<text transform="translate(1290,623) scale(0.96,1.095)" font-family='"Liberation Sans", Arial, sans-serif' font-weight="bold" font-size="35" text-anchor="start" fill="#000">5.7%</text>
<text transform="translate(1635,623) scale(0.96,1.095)" font-family='"Liberation Sans", Arial, sans-serif' font-weight="bold" font-size="35" text-anchor="end" fill="#000">3.0%</text>
<rect x="1285.0" y="887.5" width="101.0" height="42.5" fill="#fff"/>
<text transform="translate(1290,923) scale(0.96,1.095)" font-family='"Liberation Sans", Arial, sans-serif' font-weight="bold" font-size="35" text-anchor="start" fill="#000">90.5%</text>
<rect x="1560.0" y="889.0" width="76.6" height="41.0" fill="#fff"/>
<text transform="translate(1636,923) scale(0.96,1.095)" font-family='"Liberation Sans", Arial, sans-serif' font-weight="bold" font-size="35" text-anchor="end" fill="#000">0.7%</text>
</svg></body></html>
